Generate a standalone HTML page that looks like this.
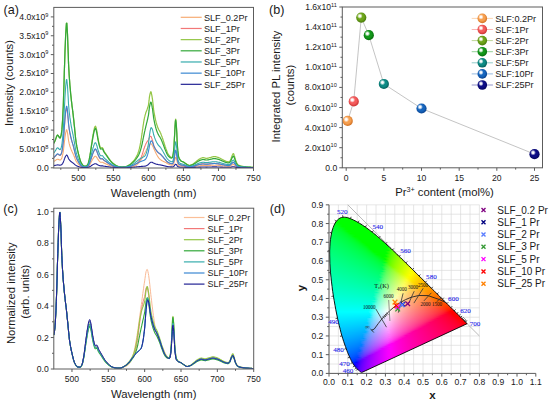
<!DOCTYPE html>
<html><head><meta charset="utf-8"><title>Figure</title>
<style>html,body{margin:0;padding:0;background:#fff;width:550px;height:403px;overflow:hidden}svg{display:block}</style>
</head><body><svg width="550" height="403" viewBox="0 0 550 403"><defs><clipPath id="ca"><rect x="53.8" y="7.4" width="199.7" height="160.6"/></clipPath><clipPath id="cc"><rect x="53.8" y="208.2" width="199.89999999999998" height="160.8"/></clipPath><radialGradient id="s0" cx="0.45" cy="0.42" r="0.6"><stop offset="0" stop-color="#f7a050"/><stop offset="0.55" stop-color="#f7a050"/><stop offset="1" stop-color="#cc6a1c"/></radialGradient><radialGradient id="s1" cx="0.45" cy="0.42" r="0.6"><stop offset="0" stop-color="#f45c5c"/><stop offset="0.55" stop-color="#f45c5c"/><stop offset="1" stop-color="#c42c2c"/></radialGradient><radialGradient id="s2" cx="0.45" cy="0.42" r="0.6"><stop offset="0" stop-color="#6ea51a"/><stop offset="0.55" stop-color="#6ea51a"/><stop offset="1" stop-color="#44760a"/></radialGradient><radialGradient id="s3" cx="0.45" cy="0.42" r="0.6"><stop offset="0" stop-color="#12981a"/><stop offset="0.55" stop-color="#12981a"/><stop offset="1" stop-color="#06660a"/></radialGradient><radialGradient id="s4" cx="0.45" cy="0.42" r="0.6"><stop offset="0" stop-color="#0e8c86"/><stop offset="0.55" stop-color="#0e8c86"/><stop offset="1" stop-color="#045a56"/></radialGradient><radialGradient id="s5" cx="0.45" cy="0.42" r="0.6"><stop offset="0" stop-color="#1766be"/><stop offset="0.55" stop-color="#1766be"/><stop offset="1" stop-color="#083e88"/></radialGradient><radialGradient id="s6" cx="0.45" cy="0.42" r="0.6"><stop offset="0" stop-color="#0e0e86"/><stop offset="0.55" stop-color="#0e0e86"/><stop offset="1" stop-color="#04045a"/></radialGradient><radialGradient id="hl"><stop offset="0" stop-color="#fff"/><stop offset="0.35" stop-color="#fff" stop-opacity="0.95"/><stop offset="1" stop-color="#fff" stop-opacity="0"/></radialGradient><clipPath id="cg"><path d="M361.7,372.5 L361.7,372.5 L361.7,372.5 L361.7,372.5 L361.7,372.5 L361.7,372.5 L361.7,372.5 L361.7,372.5 L361.7,372.5 L361.7,372.5 L361.7,372.5 L361.7,372.5 L361.7,372.5 L361.7,372.5 L361.6,372.5 L361.6,372.5 L361.6,372.5 L361.6,372.5 L361.6,372.5 L361.6,372.5 L361.6,372.5 L361.6,372.5 L361.6,372.5 L361.5,372.5 L361.5,372.5 L361.5,372.5 L361.5,372.5 L361.5,372.5 L361.5,372.5 L361.5,372.5 L361.4,372.5 L361.4,372.5 L361.4,372.5 L361.4,372.5 L361.4,372.5 L361.4,372.5 L361.3,372.5 L361.3,372.5 L361.3,372.5 L361.3,372.5 L361.2,372.4 L361.2,372.4 L361.1,372.4 L361.1,372.4 L361.1,372.3 L361.0,372.3 L361.0,372.3 L360.9,372.2 L360.9,372.2 L360.8,372.2 L360.8,372.1 L360.7,372.1 L360.6,372.0 L360.5,371.9 L360.5,371.9 L360.4,371.8 L360.3,371.7 L360.2,371.6 L360.1,371.5 L360.0,371.5 L359.9,371.4 L359.8,371.3 L359.7,371.2 L359.6,371.1 L359.4,370.9 L359.3,370.8 L359.1,370.7 L359.0,370.5 L358.8,370.4 L358.6,370.2 L358.4,370.1 L358.2,369.9 L358.0,369.7 L357.8,369.6 L357.6,369.4 L357.4,369.1 L357.1,368.9 L356.9,368.7 L356.6,368.4 L356.4,368.1 L356.1,367.8 L355.8,367.5 L355.5,367.2 L355.2,366.8 L354.8,366.4 L354.5,365.9 L354.1,365.4 L353.7,364.8 L353.3,364.1 L352.8,363.4 L352.3,362.6 L351.8,361.7 L351.3,360.7 L350.8,359.6 L350.2,358.4 L349.6,357.1 L349.0,355.7 L348.3,354.1 L347.6,352.4 L346.9,350.6 L346.2,348.5 L345.4,346.4 L344.5,344.0 L343.7,341.5 L342.8,338.7 L341.9,335.8 L341.0,332.7 L340.2,329.3 L339.3,325.8 L338.4,322.1 L337.5,318.1 L336.7,314.0 L335.8,309.7 L335.0,305.3 L334.2,300.7 L333.4,296.1 L332.7,291.4 L332.1,286.7 L331.5,281.9 L331.0,277.2 L330.5,272.6 L330.2,268.0 L329.9,263.5 L329.8,259.1 L329.7,254.9 L329.7,250.8 L329.9,246.8 L330.1,243.0 L330.5,239.4 L331.0,236.0 L331.6,232.9 L332.3,230.0 L333.2,227.4 L334.1,225.1 L335.2,223.0 L336.3,221.3 L337.5,219.9 L338.8,218.8 L340.1,218.0 L341.5,217.5 L343.0,217.2 L344.4,217.2 L345.9,217.3 L347.4,217.6 L348.9,218.1 L350.5,218.7 L352.0,219.3 L353.5,220.0 L355.1,220.8 L356.6,221.6 L358.1,222.5 L359.6,223.3 L361.0,224.2 L362.4,225.1 L363.9,226.1 L365.3,227.0 L366.7,228.0 L368.0,229.0 L369.4,230.0 L370.8,231.1 L372.2,232.1 L373.5,233.2 L374.9,234.3 L376.3,235.4 L377.6,236.6 L379.0,237.7 L380.3,238.9 L381.7,240.1 L383.0,241.3 L384.4,242.5 L385.7,243.7 L387.0,245.0 L388.4,246.2 L389.7,247.5 L391.1,248.7 L392.4,250.0 L393.8,251.3 L395.1,252.5 L396.5,253.8 L397.8,255.1 L399.1,256.4 L400.5,257.7 L401.8,259.0 L403.2,260.3 L404.5,261.7 L405.8,263.0 L407.2,264.3 L408.5,265.6 L409.8,266.9 L411.2,268.2 L412.5,269.5 L413.8,270.8 L415.1,272.1 L416.4,273.4 L417.7,274.7 L419.0,276.0 L420.3,277.2 L421.6,278.5 L422.8,279.8 L424.1,281.0 L425.4,282.3 L426.6,283.5 L427.8,284.7 L429.0,285.9 L430.2,287.1 L431.4,288.3 L432.6,289.5 L433.8,290.6 L434.9,291.7 L436.0,292.8 L437.1,293.9 L438.2,295.0 L439.3,296.1 L440.3,297.1 L441.4,298.2 L442.3,299.1 L443.3,300.1 L444.2,301.0 L445.1,301.9 L446.0,302.8 L446.9,303.6 L447.7,304.5 L448.5,305.3 L449.3,306.1 L450.1,306.8 L450.9,307.6 L451.6,308.3 L452.3,309.0 L452.9,309.6 L453.6,310.2 L454.2,310.8 L454.8,311.4 L455.3,312.0 L455.9,312.5 L456.4,313.0 L456.9,313.5 L457.3,314.0 L457.8,314.4 L458.2,314.9 L458.6,315.3 L459.0,315.7 L459.4,316.0 L459.7,316.4 L460.1,316.7 L460.4,317.0 L460.7,317.3 L461.0,317.6 L461.3,317.9 L461.6,318.2 L461.8,318.5 L462.1,318.7 L462.3,319.0 L462.6,319.2 L462.8,319.4 L463.0,319.6 L463.2,319.9 L463.4,320.1 L463.6,320.3 L463.8,320.4 L464.0,320.6 L464.2,320.8 L464.3,320.9 L464.5,321.1 L464.6,321.2 L464.8,321.4 L464.9,321.5 L465.1,321.6 L465.2,321.8 L465.3,321.9 L465.4,322.0 L465.5,322.1 L465.6,322.2 L465.7,322.3 L465.8,322.4 L465.8,322.4 L465.9,322.5 L466.0,322.6 L466.1,322.7 L466.1,322.7 L466.2,322.8 L466.2,322.8 L466.3,322.9 L466.3,322.9 L466.4,323.0 L466.4,323.0 L466.4,323.0 L466.5,323.1 L466.5,323.1 L466.6,323.1 L466.6,323.2 L466.6,323.2 L466.6,323.2 L466.7,323.3 L466.7,323.3 L466.7,323.3 L466.8,323.3 L466.8,323.4 L466.8,323.4 L466.8,323.4 L466.9,323.4 L466.9,323.5 L466.9,323.5 L466.9,323.5 L466.9,323.5 L467.0,323.6 L467.0,323.6 L467.0,323.6 L467.0,323.6 L467.0,323.6 L467.1,323.6 L467.1,323.7 L467.1,323.7 L467.1,323.7 L467.1,323.7 L467.1,323.7 L467.1,323.7 L467.1,323.7 L467.1,323.7 L467.1,323.7 L467.1,323.7 L467.1,323.7 Z"/></clipPath><linearGradient id="r217" gradientUnits="userSpaceOnUse" x1="339" x2="350" y1="0" y2="0"><stop offset=".000" stop-color="#00ff00"/><stop offset=".333" stop-color="#00ff00"/><stop offset=".667" stop-color="#00ff00"/><stop offset="1.000" stop-color="#00ff00"/></linearGradient><linearGradient id="r218" gradientUnits="userSpaceOnUse" x1="336" x2="353" y1="0" y2="0"><stop offset=".000" stop-color="#00ff00"/><stop offset=".200" stop-color="#00ff00"/><stop offset=".400" stop-color="#00ff00"/><stop offset=".600" stop-color="#00ff00"/><stop offset=".800" stop-color="#00ff00"/><stop offset="1.000" stop-color="#00ff00"/></linearGradient><linearGradient id="r219" gradientUnits="userSpaceOnUse" x1="335" x2="355" y1="0" y2="0"><stop offset=".000" stop-color="#00ff00"/><stop offset=".200" stop-color="#00ff00"/><stop offset=".400" stop-color="#00ff00"/><stop offset=".600" stop-color="#00ff00"/><stop offset=".800" stop-color="#00ff00"/><stop offset="1.000" stop-color="#00ff00"/></linearGradient><linearGradient id="r220" gradientUnits="userSpaceOnUse" x1="334" x2="357" y1="0" y2="0"><stop offset=".000" stop-color="#00ff02"/><stop offset=".167" stop-color="#00ff00"/><stop offset=".333" stop-color="#00ff00"/><stop offset=".500" stop-color="#00ff00"/><stop offset=".667" stop-color="#00ff00"/><stop offset=".833" stop-color="#00ff00"/><stop offset="1.000" stop-color="#00ff00"/></linearGradient><linearGradient id="r221" gradientUnits="userSpaceOnUse" x1="333" x2="359" y1="0" y2="0"><stop offset=".000" stop-color="#00ff17"/><stop offset=".143" stop-color="#00ff00"/><stop offset=".286" stop-color="#00ff00"/><stop offset=".429" stop-color="#00ff00"/><stop offset=".571" stop-color="#00ff00"/><stop offset=".714" stop-color="#00ff00"/><stop offset=".857" stop-color="#00ff00"/><stop offset="1.000" stop-color="#00ff00"/></linearGradient><linearGradient id="r222" gradientUnits="userSpaceOnUse" x1="333" x2="361" y1="0" y2="0"><stop offset=".000" stop-color="#00ff1e"/><stop offset=".143" stop-color="#00ff00"/><stop offset=".286" stop-color="#00ff00"/><stop offset=".429" stop-color="#00ff00"/><stop offset=".571" stop-color="#00ff00"/><stop offset=".714" stop-color="#00ff00"/><stop offset=".857" stop-color="#00ff00"/><stop offset="1.000" stop-color="#00ff00"/></linearGradient><linearGradient id="r223" gradientUnits="userSpaceOnUse" x1="332" x2="363" y1="0" y2="0"><stop offset=".000" stop-color="#00ff28"/><stop offset=".125" stop-color="#00ff15"/><stop offset=".250" stop-color="#00ff00"/><stop offset=".375" stop-color="#00ff00"/><stop offset=".500" stop-color="#00ff00"/><stop offset=".625" stop-color="#00ff00"/><stop offset=".750" stop-color="#00ff00"/><stop offset=".875" stop-color="#00ff00"/><stop offset="1.000" stop-color="#00ff00"/></linearGradient><linearGradient id="r224" gradientUnits="userSpaceOnUse" x1="331" x2="364" y1="0" y2="0"><stop offset=".000" stop-color="#00ff30"/><stop offset=".111" stop-color="#00ff23"/><stop offset=".222" stop-color="#00ff0b"/><stop offset=".333" stop-color="#00ff00"/><stop offset=".444" stop-color="#00ff00"/><stop offset=".556" stop-color="#00ff00"/><stop offset=".667" stop-color="#00ff00"/><stop offset=".778" stop-color="#00ff00"/><stop offset=".889" stop-color="#00ff00"/><stop offset="1.000" stop-color="#00ff00"/></linearGradient><linearGradient id="r225" gradientUnits="userSpaceOnUse" x1="331" x2="366" y1="0" y2="0"><stop offset=".000" stop-color="#00ff34"/><stop offset=".111" stop-color="#00ff27"/><stop offset=".222" stop-color="#00ff13"/><stop offset=".333" stop-color="#00ff00"/><stop offset=".444" stop-color="#00ff00"/><stop offset=".556" stop-color="#00ff00"/><stop offset=".667" stop-color="#00ff00"/><stop offset=".778" stop-color="#00ff00"/><stop offset=".889" stop-color="#00ff00"/><stop offset="1.000" stop-color="#00ff00"/></linearGradient><linearGradient id="r226" gradientUnits="userSpaceOnUse" x1="331" x2="368" y1="0" y2="0"><stop offset=".000" stop-color="#00ff38"/><stop offset=".100" stop-color="#00ff2d"/><stop offset=".200" stop-color="#00ff1d"/><stop offset=".300" stop-color="#00ff00"/><stop offset=".400" stop-color="#00ff00"/><stop offset=".500" stop-color="#00ff00"/><stop offset=".600" stop-color="#00ff00"/><stop offset=".700" stop-color="#00ff00"/><stop offset=".800" stop-color="#00ff00"/><stop offset=".900" stop-color="#00ff00"/><stop offset="1.000" stop-color="#00ff00"/></linearGradient><linearGradient id="r227" gradientUnits="userSpaceOnUse" x1="330" x2="369" y1="0" y2="0"><stop offset=".000" stop-color="#00ff3d"/><stop offset=".100" stop-color="#00ff33"/><stop offset=".200" stop-color="#00ff26"/><stop offset=".300" stop-color="#00ff10"/><stop offset=".400" stop-color="#00ff00"/><stop offset=".500" stop-color="#00ff00"/><stop offset=".600" stop-color="#00ff00"/><stop offset=".700" stop-color="#00ff00"/><stop offset=".800" stop-color="#00ff00"/><stop offset=".900" stop-color="#00ff00"/><stop offset="1.000" stop-color="#00ff00"/></linearGradient><linearGradient id="r228" gradientUnits="userSpaceOnUse" x1="330" x2="370" y1="0" y2="0"><stop offset=".000" stop-color="#00ff41"/><stop offset=".100" stop-color="#00ff37"/><stop offset=".200" stop-color="#00ff2b"/><stop offset=".300" stop-color="#00ff17"/><stop offset=".400" stop-color="#00ff00"/><stop offset=".500" stop-color="#00ff00"/><stop offset=".600" stop-color="#00ff00"/><stop offset=".700" stop-color="#00ff00"/><stop offset=".800" stop-color="#00ff00"/><stop offset=".900" stop-color="#00ff00"/><stop offset="1.000" stop-color="#00ff00"/></linearGradient><linearGradient id="r229" gradientUnits="userSpaceOnUse" x1="330" x2="372" y1="0" y2="0"><stop offset=".000" stop-color="#00ff44"/><stop offset=".091" stop-color="#00ff3b"/><stop offset=".182" stop-color="#00ff30"/><stop offset=".273" stop-color="#00ff22"/><stop offset=".364" stop-color="#00ff04"/><stop offset=".455" stop-color="#00ff00"/><stop offset=".545" stop-color="#00ff00"/><stop offset=".636" stop-color="#00ff00"/><stop offset=".727" stop-color="#00ff00"/><stop offset=".818" stop-color="#00ff00"/><stop offset=".909" stop-color="#00ff00"/><stop offset="1.000" stop-color="#00ff00"/></linearGradient><linearGradient id="r230" gradientUnits="userSpaceOnUse" x1="329" x2="373" y1="0" y2="0"><stop offset=".000" stop-color="#00ff49"/><stop offset=".091" stop-color="#00ff40"/><stop offset=".182" stop-color="#00ff36"/><stop offset=".273" stop-color="#00ff29"/><stop offset=".364" stop-color="#00ff14"/><stop offset=".455" stop-color="#00ff00"/><stop offset=".545" stop-color="#00ff00"/><stop offset=".636" stop-color="#00ff00"/><stop offset=".727" stop-color="#00ff00"/><stop offset=".818" stop-color="#00ff00"/><stop offset=".909" stop-color="#00ff00"/><stop offset="1.000" stop-color="#00ff00"/></linearGradient><linearGradient id="r231" gradientUnits="userSpaceOnUse" x1="329" x2="374" y1="0" y2="0"><stop offset=".000" stop-color="#00ff4b"/><stop offset=".083" stop-color="#00ff44"/><stop offset=".167" stop-color="#00ff3b"/><stop offset=".250" stop-color="#00ff31"/><stop offset=".333" stop-color="#00ff22"/><stop offset=".417" stop-color="#00ff04"/><stop offset=".500" stop-color="#00ff00"/><stop offset=".583" stop-color="#00ff00"/><stop offset=".667" stop-color="#00ff00"/><stop offset=".750" stop-color="#00ff00"/><stop offset=".833" stop-color="#00ff00"/><stop offset=".917" stop-color="#00ff00"/><stop offset="1.000" stop-color="#00ff00"/></linearGradient><linearGradient id="r232" gradientUnits="userSpaceOnUse" x1="329" x2="376" y1="0" y2="0"><stop offset=".000" stop-color="#00ff4e"/><stop offset=".083" stop-color="#00ff47"/><stop offset=".167" stop-color="#00ff3e"/><stop offset=".250" stop-color="#00ff34"/><stop offset=".333" stop-color="#00ff25"/><stop offset=".417" stop-color="#00ff0a"/><stop offset=".500" stop-color="#00ff00"/><stop offset=".583" stop-color="#00ff00"/><stop offset=".667" stop-color="#00ff00"/><stop offset=".750" stop-color="#00ff00"/><stop offset=".833" stop-color="#00ff00"/><stop offset=".917" stop-color="#00ff00"/><stop offset="1.000" stop-color="#00ff00"/></linearGradient><linearGradient id="r233" gradientUnits="userSpaceOnUse" x1="328" x2="377" y1="0" y2="0"><stop offset=".000" stop-color="#00ff52"/><stop offset=".077" stop-color="#00ff4c"/><stop offset=".154" stop-color="#00ff44"/><stop offset=".231" stop-color="#00ff3b"/><stop offset=".308" stop-color="#00ff30"/><stop offset=".385" stop-color="#00ff21"/><stop offset=".462" stop-color="#00ff00"/><stop offset=".538" stop-color="#00ff00"/><stop offset=".615" stop-color="#00ff00"/><stop offset=".692" stop-color="#00ff00"/><stop offset=".769" stop-color="#00ff00"/><stop offset=".846" stop-color="#00ff00"/><stop offset=".923" stop-color="#00ff00"/><stop offset="1.000" stop-color="#00ff00"/></linearGradient><linearGradient id="r234" gradientUnits="userSpaceOnUse" x1="328" x2="378" y1="0" y2="0"><stop offset=".000" stop-color="#00ff55"/><stop offset=".077" stop-color="#00ff4e"/><stop offset=".154" stop-color="#00ff47"/><stop offset=".231" stop-color="#00ff3e"/><stop offset=".308" stop-color="#00ff34"/><stop offset=".385" stop-color="#00ff26"/><stop offset=".462" stop-color="#00ff0b"/><stop offset=".538" stop-color="#00ff00"/><stop offset=".615" stop-color="#00ff00"/><stop offset=".692" stop-color="#00ff00"/><stop offset=".769" stop-color="#00ff00"/><stop offset=".846" stop-color="#00ff00"/><stop offset=".923" stop-color="#00ff00"/><stop offset="1.000" stop-color="#00ff00"/></linearGradient><linearGradient id="r235" gradientUnits="userSpaceOnUse" x1="328" x2="379" y1="0" y2="0"><stop offset=".000" stop-color="#00ff57"/><stop offset=".077" stop-color="#00ff51"/><stop offset=".154" stop-color="#00ff4a"/><stop offset=".231" stop-color="#00ff41"/><stop offset=".308" stop-color="#00ff37"/><stop offset=".385" stop-color="#00ff2a"/><stop offset=".462" stop-color="#00ff13"/><stop offset=".538" stop-color="#00ff00"/><stop offset=".615" stop-color="#00ff00"/><stop offset=".692" stop-color="#00ff00"/><stop offset=".769" stop-color="#00ff00"/><stop offset=".846" stop-color="#00ff00"/><stop offset=".923" stop-color="#00ff00"/><stop offset="1.000" stop-color="#00ff00"/></linearGradient><linearGradient id="r236" gradientUnits="userSpaceOnUse" x1="328" x2="381" y1="0" y2="0"><stop offset=".000" stop-color="#00ff5a"/><stop offset=".071" stop-color="#00ff54"/><stop offset=".143" stop-color="#00ff4d"/><stop offset=".214" stop-color="#00ff46"/><stop offset=".286" stop-color="#00ff3d"/><stop offset=".357" stop-color="#00ff31"/><stop offset=".429" stop-color="#00ff21"/><stop offset=".500" stop-color="#00ff00"/><stop offset=".571" stop-color="#00ff00"/><stop offset=".643" stop-color="#00ff00"/><stop offset=".714" stop-color="#00ff00"/><stop offset=".786" stop-color="#00ff00"/><stop offset=".857" stop-color="#00ff00"/><stop offset=".929" stop-color="#00ff00"/><stop offset="1.000" stop-color="#00ff00"/></linearGradient><linearGradient id="r237" gradientUnits="userSpaceOnUse" x1="328" x2="382" y1="0" y2="0"><stop offset=".000" stop-color="#00ff5c"/><stop offset=".071" stop-color="#00ff56"/><stop offset=".143" stop-color="#00ff50"/><stop offset=".214" stop-color="#00ff48"/><stop offset=".286" stop-color="#00ff3f"/><stop offset=".357" stop-color="#00ff35"/><stop offset=".429" stop-color="#00ff26"/><stop offset=".500" stop-color="#00ff0a"/><stop offset=".571" stop-color="#00ff00"/><stop offset=".643" stop-color="#00ff00"/><stop offset=".714" stop-color="#00ff00"/><stop offset=".786" stop-color="#00ff00"/><stop offset=".857" stop-color="#00ff00"/><stop offset=".929" stop-color="#00ff00"/><stop offset="1.000" stop-color="#00ff00"/></linearGradient><linearGradient id="r238" gradientUnits="userSpaceOnUse" x1="328" x2="383" y1="0" y2="0"><stop offset=".000" stop-color="#00ff5e"/><stop offset=".071" stop-color="#00ff59"/><stop offset=".143" stop-color="#00ff52"/><stop offset=".214" stop-color="#00ff4b"/><stop offset=".286" stop-color="#00ff42"/><stop offset=".357" stop-color="#00ff38"/><stop offset=".429" stop-color="#00ff2a"/><stop offset=".500" stop-color="#00ff12"/><stop offset=".571" stop-color="#00ff00"/><stop offset=".643" stop-color="#00ff00"/><stop offset=".714" stop-color="#00ff00"/><stop offset=".786" stop-color="#00ff00"/><stop offset=".857" stop-color="#00ff00"/><stop offset=".929" stop-color="#00ff00"/><stop offset="1.000" stop-color="#00ff00"/></linearGradient><linearGradient id="r239" gradientUnits="userSpaceOnUse" x1="328" x2="384" y1="0" y2="0"><stop offset=".000" stop-color="#00ff61"/><stop offset=".071" stop-color="#00ff5b"/><stop offset=".143" stop-color="#00ff55"/><stop offset=".214" stop-color="#00ff4d"/><stop offset=".286" stop-color="#00ff45"/><stop offset=".357" stop-color="#00ff3b"/><stop offset=".429" stop-color="#00ff2e"/><stop offset=".500" stop-color="#00ff19"/><stop offset=".571" stop-color="#00ff00"/><stop offset=".643" stop-color="#00ff00"/><stop offset=".714" stop-color="#00ff00"/><stop offset=".786" stop-color="#00ff00"/><stop offset=".857" stop-color="#00ff00"/><stop offset=".929" stop-color="#00ff00"/><stop offset="1.000" stop-color="#00ff00"/></linearGradient><linearGradient id="r240" gradientUnits="userSpaceOnUse" x1="327" x2="385" y1="0" y2="0"><stop offset=".000" stop-color="#00ff64"/><stop offset=".067" stop-color="#00ff5f"/><stop offset=".133" stop-color="#00ff59"/><stop offset=".200" stop-color="#00ff53"/><stop offset=".267" stop-color="#00ff4b"/><stop offset=".333" stop-color="#00ff43"/><stop offset=".400" stop-color="#00ff38"/><stop offset=".467" stop-color="#00ff2b"/><stop offset=".533" stop-color="#00ff14"/><stop offset=".600" stop-color="#00ff00"/><stop offset=".667" stop-color="#00ff00"/><stop offset=".733" stop-color="#00ff00"/><stop offset=".800" stop-color="#00ff00"/><stop offset=".867" stop-color="#00ff00"/><stop offset=".933" stop-color="#00ff00"/><stop offset="1.000" stop-color="#00ff00"/></linearGradient><linearGradient id="r241" gradientUnits="userSpaceOnUse" x1="327" x2="386" y1="0" y2="0"><stop offset=".000" stop-color="#00ff66"/><stop offset=".067" stop-color="#00ff61"/><stop offset=".133" stop-color="#00ff5b"/><stop offset=".200" stop-color="#00ff55"/><stop offset=".267" stop-color="#00ff4e"/><stop offset=".333" stop-color="#00ff46"/><stop offset=".400" stop-color="#00ff3b"/><stop offset=".467" stop-color="#00ff2e"/><stop offset=".533" stop-color="#00ff1a"/><stop offset=".600" stop-color="#00ff00"/><stop offset=".667" stop-color="#00ff00"/><stop offset=".733" stop-color="#00ff00"/><stop offset=".800" stop-color="#00ff00"/><stop offset=".867" stop-color="#00ff00"/><stop offset=".933" stop-color="#00ff00"/><stop offset="1.000" stop-color="#00ff00"/></linearGradient><linearGradient id="r242" gradientUnits="userSpaceOnUse" x1="327" x2="387" y1="0" y2="0"><stop offset=".000" stop-color="#00ff68"/><stop offset=".067" stop-color="#00ff63"/><stop offset=".133" stop-color="#00ff5e"/><stop offset=".200" stop-color="#00ff57"/><stop offset=".267" stop-color="#00ff50"/><stop offset=".333" stop-color="#00ff48"/><stop offset=".400" stop-color="#00ff3e"/><stop offset=".467" stop-color="#00ff32"/><stop offset=".533" stop-color="#00ff1f"/><stop offset=".600" stop-color="#00ff00"/><stop offset=".667" stop-color="#00ff00"/><stop offset=".733" stop-color="#00ff00"/><stop offset=".800" stop-color="#00ff00"/><stop offset=".867" stop-color="#00ff00"/><stop offset=".933" stop-color="#00ff00"/><stop offset="1.000" stop-color="#00ff00"/></linearGradient><linearGradient id="r243" gradientUnits="userSpaceOnUse" x1="327" x2="388" y1="0" y2="0"><stop offset=".000" stop-color="#00ff6b"/><stop offset=".062" stop-color="#00ff66"/><stop offset=".125" stop-color="#00ff61"/><stop offset=".188" stop-color="#00ff5b"/><stop offset=".250" stop-color="#00ff55"/><stop offset=".312" stop-color="#00ff4d"/><stop offset=".375" stop-color="#00ff45"/><stop offset=".438" stop-color="#00ff3b"/><stop offset=".500" stop-color="#00ff2d"/><stop offset=".562" stop-color="#00ff18"/><stop offset=".625" stop-color="#00ff00"/><stop offset=".688" stop-color="#00ff00"/><stop offset=".750" stop-color="#00ff00"/><stop offset=".812" stop-color="#00ff00"/><stop offset=".875" stop-color="#00ff00"/><stop offset=".938" stop-color="#00ff00"/><stop offset="1.000" stop-color="#00ff00"/></linearGradient><linearGradient id="r244" gradientUnits="userSpaceOnUse" x1="327" x2="390" y1="0" y2="0"><stop offset=".000" stop-color="#00ff6d"/><stop offset=".062" stop-color="#00ff68"/><stop offset=".125" stop-color="#00ff63"/><stop offset=".188" stop-color="#00ff5d"/><stop offset=".250" stop-color="#00ff57"/><stop offset=".312" stop-color="#00ff4f"/><stop offset=".375" stop-color="#00ff47"/><stop offset=".438" stop-color="#00ff3c"/><stop offset=".500" stop-color="#00ff2f"/><stop offset=".562" stop-color="#00ff19"/><stop offset=".625" stop-color="#00ff00"/><stop offset=".688" stop-color="#00ff00"/><stop offset=".750" stop-color="#00ff00"/><stop offset=".812" stop-color="#00ff00"/><stop offset=".875" stop-color="#00ff00"/><stop offset=".938" stop-color="#00ff00"/><stop offset="1.000" stop-color="#00ff00"/></linearGradient><linearGradient id="r245" gradientUnits="userSpaceOnUse" x1="327" x2="391" y1="0" y2="0"><stop offset=".000" stop-color="#00ff6f"/><stop offset=".062" stop-color="#00ff6a"/><stop offset=".125" stop-color="#00ff65"/><stop offset=".188" stop-color="#00ff5f"/><stop offset=".250" stop-color="#00ff59"/><stop offset=".312" stop-color="#00ff52"/><stop offset=".375" stop-color="#00ff49"/><stop offset=".438" stop-color="#00ff3f"/><stop offset=".500" stop-color="#00ff32"/><stop offset=".562" stop-color="#00ff1f"/><stop offset=".625" stop-color="#00ff00"/><stop offset=".688" stop-color="#00ff00"/><stop offset=".750" stop-color="#00ff00"/><stop offset=".812" stop-color="#00ff00"/><stop offset=".875" stop-color="#00ff00"/><stop offset=".938" stop-color="#00ff00"/><stop offset="1.000" stop-color="#2dff00"/></linearGradient><linearGradient id="r246" gradientUnits="userSpaceOnUse" x1="327" x2="392" y1="0" y2="0"><stop offset=".000" stop-color="#00ff71"/><stop offset=".059" stop-color="#00ff6c"/><stop offset=".118" stop-color="#00ff68"/><stop offset=".176" stop-color="#00ff62"/><stop offset=".235" stop-color="#00ff5d"/><stop offset=".294" stop-color="#00ff56"/><stop offset=".353" stop-color="#00ff4f"/><stop offset=".412" stop-color="#00ff46"/><stop offset=".471" stop-color="#00ff3c"/><stop offset=".529" stop-color="#00ff2e"/><stop offset=".588" stop-color="#00ff18"/><stop offset=".647" stop-color="#00ff00"/><stop offset=".706" stop-color="#00ff00"/><stop offset=".765" stop-color="#00ff00"/><stop offset=".824" stop-color="#00ff00"/><stop offset=".882" stop-color="#00ff00"/><stop offset=".941" stop-color="#00ff00"/><stop offset="1.000" stop-color="#42ff00"/></linearGradient><linearGradient id="r247" gradientUnits="userSpaceOnUse" x1="327" x2="393" y1="0" y2="0"><stop offset=".000" stop-color="#00ff73"/><stop offset=".059" stop-color="#00ff6f"/><stop offset=".118" stop-color="#00ff6a"/><stop offset=".176" stop-color="#00ff65"/><stop offset=".235" stop-color="#00ff5f"/><stop offset=".294" stop-color="#00ff59"/><stop offset=".353" stop-color="#00ff51"/><stop offset=".412" stop-color="#00ff49"/><stop offset=".471" stop-color="#00ff3e"/><stop offset=".529" stop-color="#00ff31"/><stop offset=".588" stop-color="#00ff1d"/><stop offset=".647" stop-color="#00ff00"/><stop offset=".706" stop-color="#00ff00"/><stop offset=".765" stop-color="#00ff00"/><stop offset=".824" stop-color="#00ff00"/><stop offset=".882" stop-color="#00ff00"/><stop offset=".941" stop-color="#00ff00"/><stop offset="1.000" stop-color="#51ff00"/></linearGradient><linearGradient id="r248" gradientUnits="userSpaceOnUse" x1="327" x2="394" y1="0" y2="0"><stop offset=".000" stop-color="#00ff75"/><stop offset=".059" stop-color="#00ff71"/><stop offset=".118" stop-color="#00ff6c"/><stop offset=".176" stop-color="#00ff67"/><stop offset=".235" stop-color="#00ff61"/><stop offset=".294" stop-color="#00ff5b"/><stop offset=".353" stop-color="#00ff54"/><stop offset=".412" stop-color="#00ff4b"/><stop offset=".471" stop-color="#00ff41"/><stop offset=".529" stop-color="#00ff34"/><stop offset=".588" stop-color="#00ff22"/><stop offset=".647" stop-color="#00ff00"/><stop offset=".706" stop-color="#00ff00"/><stop offset=".765" stop-color="#00ff00"/><stop offset=".824" stop-color="#00ff00"/><stop offset=".882" stop-color="#00ff00"/><stop offset=".941" stop-color="#2cff00"/><stop offset="1.000" stop-color="#5eff00"/></linearGradient><linearGradient id="r249" gradientUnits="userSpaceOnUse" x1="327" x2="395" y1="0" y2="0"><stop offset=".000" stop-color="#00ff77"/><stop offset=".059" stop-color="#00ff73"/><stop offset=".118" stop-color="#00ff6e"/><stop offset=".176" stop-color="#00ff69"/><stop offset=".235" stop-color="#00ff63"/><stop offset=".294" stop-color="#00ff5d"/><stop offset=".353" stop-color="#00ff56"/><stop offset=".412" stop-color="#00ff4e"/><stop offset=".471" stop-color="#00ff44"/><stop offset=".529" stop-color="#00ff38"/><stop offset=".588" stop-color="#00ff26"/><stop offset=".647" stop-color="#00ff00"/><stop offset=".706" stop-color="#00ff00"/><stop offset=".765" stop-color="#00ff00"/><stop offset=".824" stop-color="#00ff00"/><stop offset=".882" stop-color="#00ff00"/><stop offset=".941" stop-color="#40ff00"/><stop offset="1.000" stop-color="#69ff00"/></linearGradient><linearGradient id="r250" gradientUnits="userSpaceOnUse" x1="327" x2="396" y1="0" y2="0"><stop offset=".000" stop-color="#00ff79"/><stop offset=".056" stop-color="#00ff75"/><stop offset=".111" stop-color="#00ff71"/><stop offset=".167" stop-color="#00ff6c"/><stop offset=".222" stop-color="#00ff67"/><stop offset=".278" stop-color="#00ff61"/><stop offset=".333" stop-color="#00ff5b"/><stop offset=".389" stop-color="#00ff53"/><stop offset=".444" stop-color="#00ff4b"/><stop offset=".500" stop-color="#00ff41"/><stop offset=".556" stop-color="#00ff34"/><stop offset=".611" stop-color="#00ff21"/><stop offset=".667" stop-color="#00ff00"/><stop offset=".722" stop-color="#00ff00"/><stop offset=".778" stop-color="#00ff00"/><stop offset=".833" stop-color="#00ff00"/><stop offset=".889" stop-color="#00ff00"/><stop offset=".944" stop-color="#52ff00"/><stop offset="1.000" stop-color="#73ff00"/></linearGradient><linearGradient id="r251" gradientUnits="userSpaceOnUse" x1="327" x2="397" y1="0" y2="0"><stop offset=".000" stop-color="#00ff7b"/><stop offset=".056" stop-color="#00ff77"/><stop offset=".111" stop-color="#00ff73"/><stop offset=".167" stop-color="#00ff6e"/><stop offset=".222" stop-color="#00ff69"/><stop offset=".278" stop-color="#00ff63"/><stop offset=".333" stop-color="#00ff5d"/><stop offset=".389" stop-color="#00ff56"/><stop offset=".444" stop-color="#00ff4e"/><stop offset=".500" stop-color="#00ff44"/><stop offset=".556" stop-color="#00ff37"/><stop offset=".611" stop-color="#00ff25"/><stop offset=".667" stop-color="#00ff00"/><stop offset=".722" stop-color="#00ff00"/><stop offset=".778" stop-color="#00ff00"/><stop offset=".833" stop-color="#00ff00"/><stop offset=".889" stop-color="#2cff00"/><stop offset=".944" stop-color="#5eff00"/><stop offset="1.000" stop-color="#7dff00"/></linearGradient><linearGradient id="r252" gradientUnits="userSpaceOnUse" x1="327" x2="398" y1="0" y2="0"><stop offset=".000" stop-color="#00ff7d"/><stop offset=".056" stop-color="#00ff79"/><stop offset=".111" stop-color="#00ff75"/><stop offset=".167" stop-color="#00ff70"/><stop offset=".222" stop-color="#00ff6b"/><stop offset=".278" stop-color="#00ff66"/><stop offset=".333" stop-color="#00ff5f"/><stop offset=".389" stop-color="#00ff58"/><stop offset=".444" stop-color="#00ff50"/><stop offset=".500" stop-color="#00ff46"/><stop offset=".556" stop-color="#00ff3a"/><stop offset=".611" stop-color="#00ff29"/><stop offset=".667" stop-color="#00ff05"/><stop offset=".722" stop-color="#00ff00"/><stop offset=".778" stop-color="#00ff00"/><stop offset=".833" stop-color="#00ff00"/><stop offset=".889" stop-color="#40ff00"/><stop offset=".944" stop-color="#69ff00"/><stop offset="1.000" stop-color="#86ff00"/></linearGradient><linearGradient id="r253" gradientUnits="userSpaceOnUse" x1="327" x2="399" y1="0" y2="0"><stop offset=".000" stop-color="#00ff7f"/><stop offset=".056" stop-color="#00ff7b"/><stop offset=".111" stop-color="#00ff77"/><stop offset=".167" stop-color="#00ff72"/><stop offset=".222" stop-color="#00ff6d"/><stop offset=".278" stop-color="#00ff68"/><stop offset=".333" stop-color="#00ff61"/><stop offset=".389" stop-color="#00ff5b"/><stop offset=".444" stop-color="#00ff52"/><stop offset=".500" stop-color="#00ff49"/><stop offset=".556" stop-color="#00ff3d"/><stop offset=".611" stop-color="#00ff2d"/><stop offset=".667" stop-color="#00ff0f"/><stop offset=".722" stop-color="#00ff00"/><stop offset=".778" stop-color="#00ff00"/><stop offset=".833" stop-color="#00ff00"/><stop offset=".889" stop-color="#4fff00"/><stop offset=".944" stop-color="#74ff00"/><stop offset="1.000" stop-color="#8eff00"/></linearGradient><linearGradient id="r254" gradientUnits="userSpaceOnUse" x1="327" x2="400" y1="0" y2="0"><stop offset=".000" stop-color="#00ff81"/><stop offset=".053" stop-color="#00ff7d"/><stop offset=".105" stop-color="#00ff79"/><stop offset=".158" stop-color="#00ff75"/><stop offset=".211" stop-color="#00ff70"/><stop offset=".263" stop-color="#00ff6b"/><stop offset=".316" stop-color="#00ff66"/><stop offset=".368" stop-color="#00ff5f"/><stop offset=".421" stop-color="#00ff58"/><stop offset=".474" stop-color="#00ff50"/><stop offset=".526" stop-color="#00ff46"/><stop offset=".579" stop-color="#00ff3a"/><stop offset=".632" stop-color="#00ff29"/><stop offset=".684" stop-color="#00ff04"/><stop offset=".737" stop-color="#00ff00"/><stop offset=".789" stop-color="#00ff00"/><stop offset=".842" stop-color="#2fff00"/><stop offset=".895" stop-color="#60ff00"/><stop offset=".947" stop-color="#7fff00"/><stop offset="1.000" stop-color="#97ff00"/></linearGradient><linearGradient id="r255" gradientUnits="userSpaceOnUse" x1="327" x2="401" y1="0" y2="0"><stop offset=".000" stop-color="#00ff83"/><stop offset=".053" stop-color="#00ff7f"/><stop offset=".105" stop-color="#00ff7b"/><stop offset=".158" stop-color="#00ff77"/><stop offset=".211" stop-color="#00ff73"/><stop offset=".263" stop-color="#00ff6d"/><stop offset=".316" stop-color="#00ff68"/><stop offset=".368" stop-color="#00ff62"/><stop offset=".421" stop-color="#00ff5b"/><stop offset=".474" stop-color="#00ff53"/><stop offset=".526" stop-color="#00ff49"/><stop offset=".579" stop-color="#00ff3d"/><stop offset=".632" stop-color="#00ff2d"/><stop offset=".684" stop-color="#00ff0e"/><stop offset=".737" stop-color="#00ff00"/><stop offset=".789" stop-color="#00ff00"/><stop offset=".842" stop-color="#42ff00"/><stop offset=".895" stop-color="#6bff00"/><stop offset=".947" stop-color="#87ff00"/><stop offset="1.000" stop-color="#9fff00"/></linearGradient><linearGradient id="r256" gradientUnits="userSpaceOnUse" x1="327" x2="402" y1="0" y2="0"><stop offset=".000" stop-color="#00ff85"/><stop offset=".053" stop-color="#00ff81"/><stop offset=".105" stop-color="#00ff7d"/><stop offset=".158" stop-color="#00ff79"/><stop offset=".211" stop-color="#00ff75"/><stop offset=".263" stop-color="#00ff70"/><stop offset=".316" stop-color="#00ff6a"/><stop offset=".368" stop-color="#00ff64"/><stop offset=".421" stop-color="#00ff5d"/><stop offset=".474" stop-color="#00ff55"/><stop offset=".526" stop-color="#00ff4c"/><stop offset=".579" stop-color="#00ff40"/><stop offset=".632" stop-color="#00ff30"/><stop offset=".684" stop-color="#00ff16"/><stop offset=".737" stop-color="#00ff00"/><stop offset=".789" stop-color="#00ff00"/><stop offset=".842" stop-color="#50ff00"/><stop offset=".895" stop-color="#75ff00"/><stop offset=".947" stop-color="#90ff00"/><stop offset="1.000" stop-color="#a7ff00"/></linearGradient><linearGradient id="r257" gradientUnits="userSpaceOnUse" x1="327" x2="403" y1="0" y2="0"><stop offset=".000" stop-color="#00ff87"/><stop offset=".053" stop-color="#00ff83"/><stop offset=".105" stop-color="#00ff7f"/><stop offset=".158" stop-color="#00ff7b"/><stop offset=".211" stop-color="#00ff77"/><stop offset=".263" stop-color="#00ff72"/><stop offset=".316" stop-color="#00ff6c"/><stop offset=".368" stop-color="#00ff66"/><stop offset=".421" stop-color="#00ff5f"/><stop offset=".474" stop-color="#00ff57"/><stop offset=".526" stop-color="#00ff4e"/><stop offset=".579" stop-color="#00ff43"/><stop offset=".632" stop-color="#00ff34"/><stop offset=".684" stop-color="#00ff1c"/><stop offset=".737" stop-color="#00ff00"/><stop offset=".789" stop-color="#20ff00"/><stop offset=".842" stop-color="#5dff00"/><stop offset=".895" stop-color="#7eff00"/><stop offset=".947" stop-color="#98ff00"/><stop offset="1.000" stop-color="#aeff00"/></linearGradient><linearGradient id="r258" gradientUnits="userSpaceOnUse" x1="327" x2="404" y1="0" y2="0"><stop offset=".000" stop-color="#00ff89"/><stop offset=".050" stop-color="#00ff86"/><stop offset=".100" stop-color="#00ff82"/><stop offset=".150" stop-color="#00ff7e"/><stop offset=".200" stop-color="#00ff7a"/><stop offset=".250" stop-color="#00ff75"/><stop offset=".300" stop-color="#00ff70"/><stop offset=".350" stop-color="#00ff6b"/><stop offset=".400" stop-color="#00ff64"/><stop offset=".450" stop-color="#00ff5d"/><stop offset=".500" stop-color="#00ff55"/><stop offset=".550" stop-color="#00ff4c"/><stop offset=".600" stop-color="#00ff40"/><stop offset=".650" stop-color="#00ff31"/><stop offset=".700" stop-color="#00ff16"/><stop offset=".750" stop-color="#00ff00"/><stop offset=".800" stop-color="#45ff00"/><stop offset=".850" stop-color="#6dff00"/><stop offset=".900" stop-color="#89ff00"/><stop offset=".950" stop-color="#a1ff00"/><stop offset="1.000" stop-color="#b6ff00"/></linearGradient><linearGradient id="r259" gradientUnits="userSpaceOnUse" x1="327" x2="405" y1="0" y2="0"><stop offset=".000" stop-color="#00ff8b"/><stop offset=".050" stop-color="#00ff87"/><stop offset=".100" stop-color="#00ff84"/><stop offset=".150" stop-color="#00ff80"/><stop offset=".200" stop-color="#00ff7c"/><stop offset=".250" stop-color="#00ff77"/><stop offset=".300" stop-color="#00ff72"/><stop offset=".350" stop-color="#00ff6d"/><stop offset=".400" stop-color="#00ff67"/><stop offset=".450" stop-color="#00ff60"/><stop offset=".500" stop-color="#00ff58"/><stop offset=".550" stop-color="#00ff4e"/><stop offset=".600" stop-color="#00ff43"/><stop offset=".650" stop-color="#00ff34"/><stop offset=".700" stop-color="#00ff1c"/><stop offset=".750" stop-color="#00ff00"/><stop offset=".800" stop-color="#53ff00"/><stop offset=".850" stop-color="#77ff00"/><stop offset=".900" stop-color="#92ff00"/><stop offset=".950" stop-color="#a9ff00"/><stop offset="1.000" stop-color="#bdff00"/></linearGradient><linearGradient id="r260" gradientUnits="userSpaceOnUse" x1="327" x2="406" y1="0" y2="0"><stop offset=".000" stop-color="#00ff8d"/><stop offset=".050" stop-color="#00ff89"/><stop offset=".100" stop-color="#00ff86"/><stop offset=".150" stop-color="#00ff82"/><stop offset=".200" stop-color="#00ff7e"/><stop offset=".250" stop-color="#00ff79"/><stop offset=".300" stop-color="#00ff74"/><stop offset=".350" stop-color="#00ff6f"/><stop offset=".400" stop-color="#00ff69"/><stop offset=".450" stop-color="#00ff62"/><stop offset=".500" stop-color="#00ff5a"/><stop offset=".550" stop-color="#00ff51"/><stop offset=".600" stop-color="#00ff46"/><stop offset=".650" stop-color="#00ff37"/><stop offset=".700" stop-color="#00ff21"/><stop offset=".750" stop-color="#23ff00"/><stop offset=".800" stop-color="#5eff00"/><stop offset=".850" stop-color="#80ff00"/><stop offset=".900" stop-color="#9aff00"/><stop offset=".950" stop-color="#b0ff00"/><stop offset="1.000" stop-color="#c4ff00"/></linearGradient><linearGradient id="r261" gradientUnits="userSpaceOnUse" x1="327" x2="407" y1="0" y2="0"><stop offset=".000" stop-color="#00ff8f"/><stop offset=".050" stop-color="#00ff8b"/><stop offset=".100" stop-color="#00ff88"/><stop offset=".150" stop-color="#00ff84"/><stop offset=".200" stop-color="#00ff80"/><stop offset=".250" stop-color="#00ff7b"/><stop offset=".300" stop-color="#00ff77"/><stop offset=".350" stop-color="#00ff71"/><stop offset=".400" stop-color="#00ff6b"/><stop offset=".450" stop-color="#00ff64"/><stop offset=".500" stop-color="#00ff5d"/><stop offset=".550" stop-color="#00ff54"/><stop offset=".600" stop-color="#00ff49"/><stop offset=".650" stop-color="#00ff3a"/><stop offset=".700" stop-color="#00ff25"/><stop offset=".750" stop-color="#3aff00"/><stop offset=".800" stop-color="#69ff00"/><stop offset=".850" stop-color="#88ff00"/><stop offset=".900" stop-color="#a2ff00"/><stop offset=".950" stop-color="#b8ff00"/><stop offset="1.000" stop-color="#ccff00"/></linearGradient><linearGradient id="r262" gradientUnits="userSpaceOnUse" x1="327" x2="408" y1="0" y2="0"><stop offset=".000" stop-color="#00ff91"/><stop offset=".048" stop-color="#00ff8e"/><stop offset=".095" stop-color="#00ff8a"/><stop offset=".143" stop-color="#00ff87"/><stop offset=".190" stop-color="#00ff83"/><stop offset=".238" stop-color="#00ff7f"/><stop offset=".286" stop-color="#00ff7a"/><stop offset=".333" stop-color="#00ff75"/><stop offset=".381" stop-color="#00ff70"/><stop offset=".429" stop-color="#00ff6a"/><stop offset=".476" stop-color="#00ff63"/><stop offset=".524" stop-color="#00ff5b"/><stop offset=".571" stop-color="#00ff52"/><stop offset=".619" stop-color="#00ff46"/><stop offset=".667" stop-color="#00ff38"/><stop offset=".714" stop-color="#00ff21"/><stop offset=".762" stop-color="#55ff00"/><stop offset=".810" stop-color="#79ff00"/><stop offset=".857" stop-color="#94ff00"/><stop offset=".905" stop-color="#abff00"/><stop offset=".952" stop-color="#c0ff00"/><stop offset="1.000" stop-color="#d3ff00"/></linearGradient><linearGradient id="r263" gradientUnits="userSpaceOnUse" x1="327" x2="409" y1="0" y2="0"><stop offset=".000" stop-color="#00ff93"/><stop offset=".048" stop-color="#00ff90"/><stop offset=".095" stop-color="#00ff8c"/><stop offset=".143" stop-color="#00ff89"/><stop offset=".190" stop-color="#00ff85"/><stop offset=".238" stop-color="#00ff81"/><stop offset=".286" stop-color="#00ff7c"/><stop offset=".333" stop-color="#00ff77"/><stop offset=".381" stop-color="#00ff72"/><stop offset=".429" stop-color="#00ff6c"/><stop offset=".476" stop-color="#00ff65"/><stop offset=".524" stop-color="#00ff5d"/><stop offset=".571" stop-color="#00ff54"/><stop offset=".619" stop-color="#00ff49"/><stop offset=".667" stop-color="#00ff3b"/><stop offset=".714" stop-color="#28ff26"/><stop offset=".762" stop-color="#61ff00"/><stop offset=".810" stop-color="#82ff00"/><stop offset=".857" stop-color="#9cff00"/><stop offset=".905" stop-color="#b3ff00"/><stop offset=".952" stop-color="#c7ff00"/><stop offset="1.000" stop-color="#daff00"/></linearGradient><linearGradient id="r264" gradientUnits="userSpaceOnUse" x1="327" x2="410" y1="0" y2="0"><stop offset=".000" stop-color="#00ff95"/><stop offset=".048" stop-color="#00ff92"/><stop offset=".095" stop-color="#00ff8e"/><stop offset=".143" stop-color="#00ff8b"/><stop offset=".190" stop-color="#00ff87"/><stop offset=".238" stop-color="#00ff83"/><stop offset=".286" stop-color="#00ff7e"/><stop offset=".333" stop-color="#00ff79"/><stop offset=".381" stop-color="#00ff74"/><stop offset=".429" stop-color="#00ff6e"/><stop offset=".476" stop-color="#00ff67"/><stop offset=".524" stop-color="#00ff60"/><stop offset=".571" stop-color="#00ff57"/><stop offset=".619" stop-color="#00ff4c"/><stop offset=".667" stop-color="#00ff3e"/><stop offset=".714" stop-color="#3dff2a"/><stop offset=".762" stop-color="#6bff00"/><stop offset=".810" stop-color="#8bff00"/><stop offset=".857" stop-color="#a4ff00"/><stop offset=".905" stop-color="#baff00"/><stop offset=".952" stop-color="#ceff00"/><stop offset="1.000" stop-color="#e1ff00"/></linearGradient><linearGradient id="r265" gradientUnits="userSpaceOnUse" x1="327" x2="411" y1="0" y2="0"><stop offset=".000" stop-color="#00ff97"/><stop offset=".048" stop-color="#00ff94"/><stop offset=".095" stop-color="#00ff90"/><stop offset=".143" stop-color="#00ff8d"/><stop offset=".190" stop-color="#00ff89"/><stop offset=".238" stop-color="#00ff85"/><stop offset=".286" stop-color="#00ff81"/><stop offset=".333" stop-color="#00ff7c"/><stop offset=".381" stop-color="#00ff76"/><stop offset=".429" stop-color="#00ff70"/><stop offset=".476" stop-color="#00ff6a"/><stop offset=".524" stop-color="#00ff62"/><stop offset=".571" stop-color="#00ff59"/><stop offset=".619" stop-color="#00ff4f"/><stop offset=".667" stop-color="#00ff41"/><stop offset=".714" stop-color="#4cff2e"/><stop offset=".762" stop-color="#75ff01"/><stop offset=".810" stop-color="#93ff00"/><stop offset=".857" stop-color="#abff00"/><stop offset=".905" stop-color="#c1ff00"/><stop offset=".952" stop-color="#d6ff00"/><stop offset="1.000" stop-color="#e9ff00"/></linearGradient><linearGradient id="r266" gradientUnits="userSpaceOnUse" x1="327" x2="412" y1="0" y2="0"><stop offset=".000" stop-color="#00ff99"/><stop offset=".045" stop-color="#00ff96"/><stop offset=".091" stop-color="#00ff93"/><stop offset=".136" stop-color="#00ff8f"/><stop offset=".182" stop-color="#00ff8c"/><stop offset=".227" stop-color="#00ff88"/><stop offset=".273" stop-color="#00ff84"/><stop offset=".318" stop-color="#00ff7f"/><stop offset=".364" stop-color="#00ff7b"/><stop offset=".409" stop-color="#00ff75"/><stop offset=".455" stop-color="#00ff6f"/><stop offset=".500" stop-color="#00ff68"/><stop offset=".545" stop-color="#00ff61"/><stop offset=".591" stop-color="#00ff58"/><stop offset=".636" stop-color="#00ff4d"/><stop offset=".682" stop-color="#2eff3f"/><stop offset=".727" stop-color="#64ff2b"/><stop offset=".773" stop-color="#85ff00"/><stop offset=".818" stop-color="#9fff00"/><stop offset=".864" stop-color="#b6ff00"/><stop offset=".909" stop-color="#caff00"/><stop offset=".955" stop-color="#deff00"/><stop offset="1.000" stop-color="#f0ff00"/></linearGradient><linearGradient id="r267" gradientUnits="userSpaceOnUse" x1="327" x2="413" y1="0" y2="0"><stop offset=".000" stop-color="#00ff9b"/><stop offset=".045" stop-color="#00ff98"/><stop offset=".091" stop-color="#00ff95"/><stop offset=".136" stop-color="#00ff91"/><stop offset=".182" stop-color="#00ff8e"/><stop offset=".227" stop-color="#00ff8a"/><stop offset=".273" stop-color="#00ff86"/><stop offset=".318" stop-color="#00ff82"/><stop offset=".364" stop-color="#00ff7d"/><stop offset=".409" stop-color="#00ff77"/><stop offset=".455" stop-color="#00ff71"/><stop offset=".500" stop-color="#00ff6b"/><stop offset=".545" stop-color="#00ff63"/><stop offset=".591" stop-color="#00ff5a"/><stop offset=".636" stop-color="#00ff50"/><stop offset=".682" stop-color="#41ff42"/><stop offset=".727" stop-color="#6eff2f"/><stop offset=".773" stop-color="#8dff03"/><stop offset=".818" stop-color="#a7ff00"/><stop offset=".864" stop-color="#bdff00"/><stop offset=".909" stop-color="#d2ff00"/><stop offset=".955" stop-color="#e5ff00"/><stop offset="1.000" stop-color="#f7ff00"/></linearGradient><linearGradient id="r268" gradientUnits="userSpaceOnUse" x1="327" x2="414" y1="0" y2="0"><stop offset=".000" stop-color="#00ff9c"/><stop offset=".045" stop-color="#00ff9a"/><stop offset=".091" stop-color="#00ff97"/><stop offset=".136" stop-color="#00ff93"/><stop offset=".182" stop-color="#00ff90"/><stop offset=".227" stop-color="#00ff8c"/><stop offset=".273" stop-color="#00ff88"/><stop offset=".318" stop-color="#00ff84"/><stop offset=".364" stop-color="#00ff7f"/><stop offset=".409" stop-color="#00ff7a"/><stop offset=".455" stop-color="#00ff74"/><stop offset=".500" stop-color="#00ff6d"/><stop offset=".545" stop-color="#00ff66"/><stop offset=".591" stop-color="#00ff5d"/><stop offset=".636" stop-color="#00ff52"/><stop offset=".682" stop-color="#4fff45"/><stop offset=".727" stop-color="#78ff33"/><stop offset=".773" stop-color="#95ff0f"/><stop offset=".818" stop-color="#aeff00"/><stop offset=".864" stop-color="#c4ff00"/><stop offset=".909" stop-color="#d9ff00"/><stop offset=".955" stop-color="#ecff00"/><stop offset="1.000" stop-color="#ffff00"/></linearGradient><linearGradient id="r269" gradientUnits="userSpaceOnUse" x1="327" x2="415" y1="0" y2="0"><stop offset=".000" stop-color="#00ff9e"/><stop offset=".045" stop-color="#00ff9c"/><stop offset=".091" stop-color="#00ff99"/><stop offset=".136" stop-color="#00ff95"/><stop offset=".182" stop-color="#00ff92"/><stop offset=".227" stop-color="#00ff8e"/><stop offset=".273" stop-color="#00ff8a"/><stop offset=".318" stop-color="#00ff86"/><stop offset=".364" stop-color="#00ff81"/><stop offset=".409" stop-color="#00ff7c"/><stop offset=".455" stop-color="#00ff76"/><stop offset=".500" stop-color="#00ff70"/><stop offset=".545" stop-color="#00ff68"/><stop offset=".591" stop-color="#00ff5f"/><stop offset=".636" stop-color="#00ff55"/><stop offset=".682" stop-color="#5bff48"/><stop offset=".727" stop-color="#81ff37"/><stop offset=".773" stop-color="#9dff17"/><stop offset=".818" stop-color="#b6ff00"/><stop offset=".864" stop-color="#cbff00"/><stop offset=".909" stop-color="#e0ff00"/><stop offset=".955" stop-color="#f3ff00"/><stop offset="1.000" stop-color="#fff800"/></linearGradient><linearGradient id="r270" gradientUnits="userSpaceOnUse" x1="327" x2="416" y1="0" y2="0"><stop offset=".000" stop-color="#00ffa0"/><stop offset=".043" stop-color="#00ff9e"/><stop offset=".087" stop-color="#00ff9b"/><stop offset=".130" stop-color="#00ff98"/><stop offset=".174" stop-color="#00ff95"/><stop offset=".217" stop-color="#00ff91"/><stop offset=".261" stop-color="#00ff8e"/><stop offset=".304" stop-color="#00ff8a"/><stop offset=".348" stop-color="#00ff85"/><stop offset=".391" stop-color="#00ff80"/><stop offset=".435" stop-color="#00ff7b"/><stop offset=".478" stop-color="#00ff75"/><stop offset=".522" stop-color="#00ff6e"/><stop offset=".565" stop-color="#00ff67"/><stop offset=".609" stop-color="#00ff5e"/><stop offset=".652" stop-color="#46ff54"/><stop offset=".696" stop-color="#72ff46"/><stop offset=".739" stop-color="#91ff34"/><stop offset=".783" stop-color="#aaff11"/><stop offset=".826" stop-color="#c1ff00"/><stop offset=".870" stop-color="#d5ff00"/><stop offset=".913" stop-color="#e9ff00"/><stop offset=".957" stop-color="#fcff00"/><stop offset="1.000" stop-color="#fff100"/></linearGradient><linearGradient id="r271" gradientUnits="userSpaceOnUse" x1="327" x2="418" y1="0" y2="0"><stop offset=".000" stop-color="#00ffa2"/><stop offset=".043" stop-color="#00ffa0"/><stop offset=".087" stop-color="#00ff9d"/><stop offset=".130" stop-color="#00ff9a"/><stop offset=".174" stop-color="#00ff97"/><stop offset=".217" stop-color="#00ff93"/><stop offset=".261" stop-color="#00ff8f"/><stop offset=".304" stop-color="#00ff8b"/><stop offset=".348" stop-color="#00ff87"/><stop offset=".391" stop-color="#00ff82"/><stop offset=".435" stop-color="#00ff7d"/><stop offset=".478" stop-color="#00ff77"/><stop offset=".522" stop-color="#00ff70"/><stop offset=".565" stop-color="#00ff68"/><stop offset=".609" stop-color="#00ff5f"/><stop offset=".652" stop-color="#5bff54"/><stop offset=".696" stop-color="#81ff47"/><stop offset=".739" stop-color="#9eff34"/><stop offset=".783" stop-color="#b6ff0b"/><stop offset=".826" stop-color="#ccff00"/><stop offset=".870" stop-color="#e1ff00"/><stop offset=".913" stop-color="#f5ff00"/><stop offset=".957" stop-color="#fff700"/><stop offset="1.000" stop-color="#ffe600"/></linearGradient><linearGradient id="r272" gradientUnits="userSpaceOnUse" x1="328" x2="419" y1="0" y2="0"><stop offset=".000" stop-color="#00ffa4"/><stop offset=".043" stop-color="#00ffa1"/><stop offset=".087" stop-color="#00ff9e"/><stop offset=".130" stop-color="#00ff9b"/><stop offset=".174" stop-color="#00ff98"/><stop offset=".217" stop-color="#00ff95"/><stop offset=".261" stop-color="#00ff91"/><stop offset=".304" stop-color="#00ff8d"/><stop offset=".348" stop-color="#00ff88"/><stop offset=".391" stop-color="#00ff84"/><stop offset=".435" stop-color="#00ff7e"/><stop offset=".478" stop-color="#00ff78"/><stop offset=".522" stop-color="#00ff72"/><stop offset=".565" stop-color="#00ff6a"/><stop offset=".609" stop-color="#32ff61"/><stop offset=".652" stop-color="#6aff56"/><stop offset=".696" stop-color="#8cff49"/><stop offset=".739" stop-color="#a7ff36"/><stop offset=".783" stop-color="#bfff11"/><stop offset=".826" stop-color="#d4ff00"/><stop offset=".870" stop-color="#e9ff00"/><stop offset=".913" stop-color="#fcff00"/><stop offset=".957" stop-color="#fff000"/><stop offset="1.000" stop-color="#ffe000"/></linearGradient><linearGradient id="r273" gradientUnits="userSpaceOnUse" x1="328" x2="420" y1="0" y2="0"><stop offset=".000" stop-color="#00ffa6"/><stop offset=".043" stop-color="#00ffa3"/><stop offset=".087" stop-color="#00ffa0"/><stop offset=".130" stop-color="#00ff9d"/><stop offset=".174" stop-color="#00ff9a"/><stop offset=".217" stop-color="#00ff97"/><stop offset=".261" stop-color="#00ff93"/><stop offset=".304" stop-color="#00ff8f"/><stop offset=".348" stop-color="#00ff8b"/><stop offset=".391" stop-color="#00ff86"/><stop offset=".435" stop-color="#00ff81"/><stop offset=".478" stop-color="#00ff7b"/><stop offset=".522" stop-color="#00ff74"/><stop offset=".565" stop-color="#00ff6c"/><stop offset=".609" stop-color="#44ff64"/><stop offset=".652" stop-color="#73ff59"/><stop offset=".696" stop-color="#94ff4c"/><stop offset=".739" stop-color="#aeff3a"/><stop offset=".783" stop-color="#c6ff19"/><stop offset=".826" stop-color="#dbff00"/><stop offset=".870" stop-color="#f0ff00"/><stop offset=".913" stop-color="#fffa00"/><stop offset=".957" stop-color="#ffe900"/><stop offset="1.000" stop-color="#ffda00"/></linearGradient><linearGradient id="r274" gradientUnits="userSpaceOnUse" x1="328" x2="421" y1="0" y2="0"><stop offset=".000" stop-color="#00ffa8"/><stop offset=".042" stop-color="#00ffa5"/><stop offset=".083" stop-color="#00ffa3"/><stop offset=".125" stop-color="#00ffa0"/><stop offset=".167" stop-color="#00ff9d"/><stop offset=".208" stop-color="#00ff9a"/><stop offset=".250" stop-color="#00ff96"/><stop offset=".292" stop-color="#00ff93"/><stop offset=".333" stop-color="#00ff8e"/><stop offset=".375" stop-color="#00ff8a"/><stop offset=".417" stop-color="#00ff85"/><stop offset=".458" stop-color="#00ff80"/><stop offset=".500" stop-color="#00ff7a"/><stop offset=".542" stop-color="#00ff73"/><stop offset=".583" stop-color="#23ff6c"/><stop offset=".625" stop-color="#64ff63"/><stop offset=".667" stop-color="#87ff58"/><stop offset=".708" stop-color="#a3ff4a"/><stop offset=".750" stop-color="#bcff38"/><stop offset=".792" stop-color="#d2ff14"/><stop offset=".833" stop-color="#e6ff00"/><stop offset=".875" stop-color="#faff00"/><stop offset=".917" stop-color="#fff200"/><stop offset=".958" stop-color="#ffe200"/><stop offset="1.000" stop-color="#ffd400"/></linearGradient><linearGradient id="r275" gradientUnits="userSpaceOnUse" x1="328" x2="422" y1="0" y2="0"><stop offset=".000" stop-color="#00ffaa"/><stop offset=".042" stop-color="#00ffa7"/><stop offset=".083" stop-color="#00ffa5"/><stop offset=".125" stop-color="#00ffa2"/><stop offset=".167" stop-color="#00ff9f"/><stop offset=".208" stop-color="#00ff9c"/><stop offset=".250" stop-color="#00ff98"/><stop offset=".292" stop-color="#00ff95"/><stop offset=".333" stop-color="#00ff91"/><stop offset=".375" stop-color="#00ff8c"/><stop offset=".417" stop-color="#00ff88"/><stop offset=".458" stop-color="#00ff82"/><stop offset=".500" stop-color="#00ff7c"/><stop offset=".542" stop-color="#00ff76"/><stop offset=".583" stop-color="#39ff6e"/><stop offset=".625" stop-color="#6eff65"/><stop offset=".667" stop-color="#8fff5b"/><stop offset=".708" stop-color="#abff4d"/><stop offset=".750" stop-color="#c3ff3b"/><stop offset=".792" stop-color="#d9ff1c"/><stop offset=".833" stop-color="#edff00"/><stop offset=".875" stop-color="#fffd00"/><stop offset=".917" stop-color="#ffeb00"/><stop offset=".958" stop-color="#ffdc00"/><stop offset="1.000" stop-color="#ffce00"/></linearGradient><linearGradient id="r276" gradientUnits="userSpaceOnUse" x1="328" x2="423" y1="0" y2="0"><stop offset=".000" stop-color="#00ffac"/><stop offset=".042" stop-color="#00ffa9"/><stop offset=".083" stop-color="#00ffa7"/><stop offset=".125" stop-color="#00ffa4"/><stop offset=".167" stop-color="#00ffa1"/><stop offset=".208" stop-color="#00ff9e"/><stop offset=".250" stop-color="#00ff9b"/><stop offset=".292" stop-color="#00ff97"/><stop offset=".333" stop-color="#00ff93"/><stop offset=".375" stop-color="#00ff8f"/><stop offset=".417" stop-color="#00ff8a"/><stop offset=".458" stop-color="#00ff85"/><stop offset=".500" stop-color="#00ff7f"/><stop offset=".542" stop-color="#00ff78"/><stop offset=".583" stop-color="#49ff71"/><stop offset=".625" stop-color="#77ff68"/><stop offset=".667" stop-color="#97ff5e"/><stop offset=".708" stop-color="#b2ff51"/><stop offset=".750" stop-color="#caff3f"/><stop offset=".792" stop-color="#e0ff22"/><stop offset=".833" stop-color="#f5ff00"/><stop offset=".875" stop-color="#fff600"/><stop offset=".917" stop-color="#ffe500"/><stop offset=".958" stop-color="#ffd600"/><stop offset="1.000" stop-color="#ffc900"/></linearGradient><linearGradient id="r277" gradientUnits="userSpaceOnUse" x1="328" x2="424" y1="0" y2="0"><stop offset=".000" stop-color="#00ffae"/><stop offset=".042" stop-color="#00ffac"/><stop offset=".083" stop-color="#00ffa9"/><stop offset=".125" stop-color="#00ffa6"/><stop offset=".167" stop-color="#00ffa3"/><stop offset=".208" stop-color="#00ffa0"/><stop offset=".250" stop-color="#00ff9d"/><stop offset=".292" stop-color="#00ff99"/><stop offset=".333" stop-color="#00ff95"/><stop offset=".375" stop-color="#00ff91"/><stop offset=".417" stop-color="#00ff8c"/><stop offset=".458" stop-color="#00ff87"/><stop offset=".500" stop-color="#00ff81"/><stop offset=".542" stop-color="#00ff7b"/><stop offset=".583" stop-color="#56ff73"/><stop offset=".625" stop-color="#80ff6b"/><stop offset=".667" stop-color="#9fff60"/><stop offset=".708" stop-color="#b9ff54"/><stop offset=".750" stop-color="#d1ff43"/><stop offset=".792" stop-color="#e7ff27"/><stop offset=".833" stop-color="#fcff00"/><stop offset=".875" stop-color="#ffef00"/><stop offset=".917" stop-color="#ffde00"/><stop offset=".958" stop-color="#ffd000"/><stop offset="1.000" stop-color="#ffc300"/></linearGradient><linearGradient id="r278" gradientUnits="userSpaceOnUse" x1="328" x2="425" y1="0" y2="0"><stop offset=".000" stop-color="#00ffb0"/><stop offset=".040" stop-color="#00ffae"/><stop offset=".080" stop-color="#00ffab"/><stop offset=".120" stop-color="#00ffa9"/><stop offset=".160" stop-color="#00ffa6"/><stop offset=".200" stop-color="#00ffa3"/><stop offset=".240" stop-color="#00ffa0"/><stop offset=".280" stop-color="#00ff9d"/><stop offset=".320" stop-color="#00ff99"/><stop offset=".360" stop-color="#00ff95"/><stop offset=".400" stop-color="#00ff91"/><stop offset=".440" stop-color="#00ff8c"/><stop offset=".480" stop-color="#00ff87"/><stop offset=".520" stop-color="#00ff81"/><stop offset=".560" stop-color="#41ff7a"/><stop offset=".600" stop-color="#73ff73"/><stop offset=".640" stop-color="#94ff6a"/><stop offset=".680" stop-color="#afff60"/><stop offset=".720" stop-color="#c7ff53"/><stop offset=".760" stop-color="#ddff41"/><stop offset=".800" stop-color="#f2ff25"/><stop offset=".840" stop-color="#fff800"/><stop offset=".880" stop-color="#ffe600"/><stop offset=".920" stop-color="#ffd700"/><stop offset=".960" stop-color="#ffca00"/><stop offset="1.000" stop-color="#ffbe00"/></linearGradient><linearGradient id="r279" gradientUnits="userSpaceOnUse" x1="328" x2="426" y1="0" y2="0"><stop offset=".000" stop-color="#00ffb2"/><stop offset=".040" stop-color="#00ffb0"/><stop offset=".080" stop-color="#00ffad"/><stop offset=".120" stop-color="#00ffab"/><stop offset=".160" stop-color="#00ffa8"/><stop offset=".200" stop-color="#00ffa5"/><stop offset=".240" stop-color="#00ffa2"/><stop offset=".280" stop-color="#00ff9f"/><stop offset=".320" stop-color="#00ff9b"/><stop offset=".360" stop-color="#00ff98"/><stop offset=".400" stop-color="#00ff93"/><stop offset=".440" stop-color="#00ff8f"/><stop offset=".480" stop-color="#00ff89"/><stop offset=".520" stop-color="#00ff84"/><stop offset=".560" stop-color="#4fff7d"/><stop offset=".600" stop-color="#7cff76"/><stop offset=".640" stop-color="#9cff6d"/><stop offset=".680" stop-color="#b6ff63"/><stop offset=".720" stop-color="#ceff56"/><stop offset=".760" stop-color="#e5ff45"/><stop offset=".800" stop-color="#faff2a"/><stop offset=".840" stop-color="#fff100"/><stop offset=".880" stop-color="#ffe000"/><stop offset=".920" stop-color="#ffd100"/><stop offset=".960" stop-color="#ffc400"/><stop offset="1.000" stop-color="#ffb900"/></linearGradient><linearGradient id="r280" gradientUnits="userSpaceOnUse" x1="328" x2="427" y1="0" y2="0"><stop offset=".000" stop-color="#00ffb4"/><stop offset=".040" stop-color="#00ffb2"/><stop offset=".080" stop-color="#00ffb0"/><stop offset=".120" stop-color="#00ffad"/><stop offset=".160" stop-color="#00ffaa"/><stop offset=".200" stop-color="#00ffa8"/><stop offset=".240" stop-color="#00ffa5"/><stop offset=".280" stop-color="#00ffa1"/><stop offset=".320" stop-color="#00ff9e"/><stop offset=".360" stop-color="#00ff9a"/><stop offset=".400" stop-color="#00ff96"/><stop offset=".440" stop-color="#00ff91"/><stop offset=".480" stop-color="#00ff8c"/><stop offset=".520" stop-color="#00ff86"/><stop offset=".560" stop-color="#5bff80"/><stop offset=".600" stop-color="#84ff78"/><stop offset=".640" stop-color="#a3ff70"/><stop offset=".680" stop-color="#beff66"/><stop offset=".720" stop-color="#d6ff59"/><stop offset=".760" stop-color="#ecff48"/><stop offset=".800" stop-color="#fffd2e"/><stop offset=".840" stop-color="#ffea00"/><stop offset=".880" stop-color="#ffda00"/><stop offset=".920" stop-color="#ffcc00"/><stop offset=".960" stop-color="#ffbf00"/><stop offset="1.000" stop-color="#ffb400"/></linearGradient><linearGradient id="r281" gradientUnits="userSpaceOnUse" x1="328" x2="428" y1="0" y2="0"><stop offset=".000" stop-color="#00ffb6"/><stop offset=".040" stop-color="#00ffb4"/><stop offset=".080" stop-color="#00ffb2"/><stop offset=".120" stop-color="#00ffaf"/><stop offset=".160" stop-color="#00ffad"/><stop offset=".200" stop-color="#00ffaa"/><stop offset=".240" stop-color="#00ffa7"/><stop offset=".280" stop-color="#00ffa4"/><stop offset=".320" stop-color="#00ffa0"/><stop offset=".360" stop-color="#00ff9c"/><stop offset=".400" stop-color="#00ff98"/><stop offset=".440" stop-color="#00ff94"/><stop offset=".480" stop-color="#00ff8f"/><stop offset=".520" stop-color="#18ff89"/><stop offset=".560" stop-color="#66ff82"/><stop offset=".600" stop-color="#8dff7b"/><stop offset=".640" stop-color="#abff73"/><stop offset=".680" stop-color="#c5ff69"/><stop offset=".720" stop-color="#ddff5c"/><stop offset=".760" stop-color="#f3ff4c"/><stop offset=".800" stop-color="#fff631"/><stop offset=".840" stop-color="#ffe300"/><stop offset=".880" stop-color="#ffd400"/><stop offset=".920" stop-color="#ffc600"/><stop offset=".960" stop-color="#ffba00"/><stop offset="1.000" stop-color="#ffaf00"/></linearGradient><linearGradient id="r282" gradientUnits="userSpaceOnUse" x1="329" x2="429" y1="0" y2="0"><stop offset=".000" stop-color="#00ffb8"/><stop offset=".040" stop-color="#00ffb6"/><stop offset=".080" stop-color="#00ffb3"/><stop offset=".120" stop-color="#00ffb1"/><stop offset=".160" stop-color="#00ffae"/><stop offset=".200" stop-color="#00ffac"/><stop offset=".240" stop-color="#00ffa9"/><stop offset=".280" stop-color="#00ffa5"/><stop offset=".320" stop-color="#00ffa2"/><stop offset=".360" stop-color="#00ff9e"/><stop offset=".400" stop-color="#00ff9a"/><stop offset=".440" stop-color="#00ff96"/><stop offset=".480" stop-color="#00ff91"/><stop offset=".520" stop-color="#3eff8b"/><stop offset=".560" stop-color="#74ff85"/><stop offset=".600" stop-color="#98ff7d"/><stop offset=".640" stop-color="#b5ff75"/><stop offset=".680" stop-color="#ceff6b"/><stop offset=".720" stop-color="#e6ff5e"/><stop offset=".760" stop-color="#fcff4e"/><stop offset=".800" stop-color="#ffee32"/><stop offset=".840" stop-color="#ffdc00"/><stop offset=".880" stop-color="#ffcd00"/><stop offset=".920" stop-color="#ffc000"/><stop offset=".960" stop-color="#ffb400"/><stop offset="1.000" stop-color="#ffaa00"/></linearGradient><linearGradient id="r283" gradientUnits="userSpaceOnUse" x1="329" x2="430" y1="0" y2="0"><stop offset=".000" stop-color="#00ffba"/><stop offset=".038" stop-color="#00ffb8"/><stop offset=".077" stop-color="#00ffb6"/><stop offset=".115" stop-color="#00ffb3"/><stop offset=".154" stop-color="#00ffb1"/><stop offset=".192" stop-color="#00ffaf"/><stop offset=".231" stop-color="#00ffac"/><stop offset=".269" stop-color="#00ffa9"/><stop offset=".308" stop-color="#00ffa6"/><stop offset=".346" stop-color="#00ffa2"/><stop offset=".385" stop-color="#00ff9e"/><stop offset=".423" stop-color="#00ff9a"/><stop offset=".462" stop-color="#00ff96"/><stop offset=".500" stop-color="#1bff90"/><stop offset=".538" stop-color="#67ff8b"/><stop offset=".577" stop-color="#8dff84"/><stop offset=".615" stop-color="#abff7d"/><stop offset=".654" stop-color="#c5ff75"/><stop offset=".692" stop-color="#ddff6a"/><stop offset=".731" stop-color="#f3ff5e"/><stop offset=".769" stop-color="#fff64a"/><stop offset=".808" stop-color="#ffe42e"/><stop offset=".846" stop-color="#ffd400"/><stop offset=".885" stop-color="#ffc600"/><stop offset=".923" stop-color="#ffba00"/><stop offset=".962" stop-color="#ffaf00"/><stop offset="1.000" stop-color="#ffa500"/></linearGradient><linearGradient id="r284" gradientUnits="userSpaceOnUse" x1="329" x2="431" y1="0" y2="0"><stop offset=".000" stop-color="#00ffbc"/><stop offset=".038" stop-color="#00ffba"/><stop offset=".077" stop-color="#00ffb8"/><stop offset=".115" stop-color="#00ffb6"/><stop offset=".154" stop-color="#00ffb3"/><stop offset=".192" stop-color="#00ffb1"/><stop offset=".231" stop-color="#00ffae"/><stop offset=".269" stop-color="#00ffab"/><stop offset=".308" stop-color="#00ffa8"/><stop offset=".346" stop-color="#00ffa5"/><stop offset=".385" stop-color="#00ffa1"/><stop offset=".423" stop-color="#00ff9d"/><stop offset=".462" stop-color="#00ff98"/><stop offset=".500" stop-color="#35ff93"/><stop offset=".538" stop-color="#70ff8e"/><stop offset=".577" stop-color="#95ff87"/><stop offset=".615" stop-color="#b2ff80"/><stop offset=".654" stop-color="#ccff78"/><stop offset=".692" stop-color="#e4ff6e"/><stop offset=".731" stop-color="#faff61"/><stop offset=".769" stop-color="#ffef4c"/><stop offset=".808" stop-color="#ffdd31"/><stop offset=".846" stop-color="#ffce00"/><stop offset=".885" stop-color="#ffc100"/><stop offset=".923" stop-color="#ffb500"/><stop offset=".962" stop-color="#ffaa00"/><stop offset="1.000" stop-color="#ffa000"/></linearGradient><linearGradient id="r285" gradientUnits="userSpaceOnUse" x1="329" x2="432" y1="0" y2="0"><stop offset=".000" stop-color="#00ffbe"/><stop offset=".038" stop-color="#00ffbc"/><stop offset=".077" stop-color="#00ffba"/><stop offset=".115" stop-color="#00ffb8"/><stop offset=".154" stop-color="#00ffb6"/><stop offset=".192" stop-color="#00ffb3"/><stop offset=".231" stop-color="#00ffb1"/><stop offset=".269" stop-color="#00ffae"/><stop offset=".308" stop-color="#00ffab"/><stop offset=".346" stop-color="#00ffa7"/><stop offset=".385" stop-color="#00ffa3"/><stop offset=".423" stop-color="#00ff9f"/><stop offset=".462" stop-color="#00ff9b"/><stop offset=".500" stop-color="#46ff96"/><stop offset=".538" stop-color="#7aff91"/><stop offset=".577" stop-color="#9dff8a"/><stop offset=".615" stop-color="#baff83"/><stop offset=".654" stop-color="#d3ff7b"/><stop offset=".692" stop-color="#ebff71"/><stop offset=".731" stop-color="#fffc63"/><stop offset=".769" stop-color="#ffe84d"/><stop offset=".808" stop-color="#ffd733"/><stop offset=".846" stop-color="#ffc805"/><stop offset=".885" stop-color="#ffbb00"/><stop offset=".923" stop-color="#ffb000"/><stop offset=".962" stop-color="#ffa500"/><stop offset="1.000" stop-color="#ff9b00"/></linearGradient><linearGradient id="r286" gradientUnits="userSpaceOnUse" x1="329" x2="433" y1="0" y2="0"><stop offset=".000" stop-color="#00ffc0"/><stop offset=".038" stop-color="#00ffbe"/><stop offset=".077" stop-color="#00ffbc"/><stop offset=".115" stop-color="#00ffba"/><stop offset=".154" stop-color="#00ffb8"/><stop offset=".192" stop-color="#00ffb6"/><stop offset=".231" stop-color="#00ffb3"/><stop offset=".269" stop-color="#00ffb0"/><stop offset=".308" stop-color="#00ffad"/><stop offset=".346" stop-color="#00ffaa"/><stop offset=".385" stop-color="#00ffa6"/><stop offset=".423" stop-color="#00ffa2"/><stop offset=".462" stop-color="#00ff9e"/><stop offset=".500" stop-color="#54ff99"/><stop offset=".538" stop-color="#83ff93"/><stop offset=".577" stop-color="#a4ff8d"/><stop offset=".615" stop-color="#c1ff86"/><stop offset=".654" stop-color="#dbff7e"/><stop offset=".692" stop-color="#f3ff74"/><stop offset=".731" stop-color="#fff564"/><stop offset=".769" stop-color="#ffe24d"/><stop offset=".808" stop-color="#ffd135"/><stop offset=".846" stop-color="#ffc30e"/><stop offset=".885" stop-color="#ffb600"/><stop offset=".923" stop-color="#ffab00"/><stop offset=".962" stop-color="#ffa000"/><stop offset="1.000" stop-color="#ff9600"/></linearGradient><linearGradient id="r287" gradientUnits="userSpaceOnUse" x1="329" x2="434" y1="0" y2="0"><stop offset=".000" stop-color="#00ffc2"/><stop offset=".037" stop-color="#00ffc1"/><stop offset=".074" stop-color="#00ffbf"/><stop offset=".111" stop-color="#00ffbd"/><stop offset=".148" stop-color="#00ffbb"/><stop offset=".185" stop-color="#00ffb8"/><stop offset=".222" stop-color="#00ffb6"/><stop offset=".259" stop-color="#00ffb3"/><stop offset=".296" stop-color="#00ffb1"/><stop offset=".333" stop-color="#00ffae"/><stop offset=".370" stop-color="#00ffaa"/><stop offset=".407" stop-color="#00ffa7"/><stop offset=".444" stop-color="#00ffa3"/><stop offset=".481" stop-color="#3fff9e"/><stop offset=".519" stop-color="#77ff99"/><stop offset=".556" stop-color="#9bff94"/><stop offset=".593" stop-color="#b8ff8e"/><stop offset=".630" stop-color="#d2ff86"/><stop offset=".667" stop-color="#eaff7e"/><stop offset=".704" stop-color="#fffd73"/><stop offset=".741" stop-color="#ffe95e"/><stop offset=".778" stop-color="#ffd849"/><stop offset=".815" stop-color="#ffc932"/><stop offset=".852" stop-color="#ffbc09"/><stop offset=".889" stop-color="#ffb000"/><stop offset=".926" stop-color="#ffa500"/><stop offset=".963" stop-color="#ff9b00"/><stop offset="1.000" stop-color="#ff9200"/></linearGradient><linearGradient id="r288" gradientUnits="userSpaceOnUse" x1="329" x2="435" y1="0" y2="0"><stop offset=".000" stop-color="#00ffc5"/><stop offset=".037" stop-color="#00ffc3"/><stop offset=".074" stop-color="#00ffc1"/><stop offset=".111" stop-color="#00ffbf"/><stop offset=".148" stop-color="#00ffbd"/><stop offset=".185" stop-color="#00ffbb"/><stop offset=".222" stop-color="#00ffb9"/><stop offset=".259" stop-color="#00ffb6"/><stop offset=".296" stop-color="#00ffb3"/><stop offset=".333" stop-color="#00ffb0"/><stop offset=".370" stop-color="#00ffad"/><stop offset=".407" stop-color="#00ffa9"/><stop offset=".444" stop-color="#00ffa5"/><stop offset=".481" stop-color="#4effa1"/><stop offset=".519" stop-color="#80ff9c"/><stop offset=".556" stop-color="#a2ff97"/><stop offset=".593" stop-color="#bfff91"/><stop offset=".630" stop-color="#d9ff8a"/><stop offset=".667" stop-color="#f2ff81"/><stop offset=".704" stop-color="#fff673"/><stop offset=".741" stop-color="#ffe25f"/><stop offset=".778" stop-color="#ffd24a"/><stop offset=".815" stop-color="#ffc334"/><stop offset=".852" stop-color="#ffb611"/><stop offset=".889" stop-color="#ffab00"/><stop offset=".926" stop-color="#ffa000"/><stop offset=".963" stop-color="#ff9600"/><stop offset="1.000" stop-color="#ff8d00"/></linearGradient><linearGradient id="r289" gradientUnits="userSpaceOnUse" x1="329" x2="436" y1="0" y2="0"><stop offset=".000" stop-color="#00ffc7"/><stop offset=".037" stop-color="#00ffc5"/><stop offset=".074" stop-color="#00ffc3"/><stop offset=".111" stop-color="#00ffc2"/><stop offset=".148" stop-color="#00ffc0"/><stop offset=".185" stop-color="#00ffbd"/><stop offset=".222" stop-color="#00ffbb"/><stop offset=".259" stop-color="#00ffb9"/><stop offset=".296" stop-color="#00ffb6"/><stop offset=".333" stop-color="#00ffb3"/><stop offset=".370" stop-color="#00ffb0"/><stop offset=".407" stop-color="#00ffac"/><stop offset=".444" stop-color="#00ffa8"/><stop offset=".481" stop-color="#5bffa4"/><stop offset=".519" stop-color="#88ff9f"/><stop offset=".556" stop-color="#aaff9a"/><stop offset=".593" stop-color="#c7ff94"/><stop offset=".630" stop-color="#e1ff8d"/><stop offset=".667" stop-color="#f9ff85"/><stop offset=".704" stop-color="#ffee73"/><stop offset=".741" stop-color="#ffdc5f"/><stop offset=".778" stop-color="#ffcc4b"/><stop offset=".815" stop-color="#ffbe35"/><stop offset=".852" stop-color="#ffb116"/><stop offset=".889" stop-color="#ffa600"/><stop offset=".926" stop-color="#ff9b00"/><stop offset=".963" stop-color="#ff9100"/><stop offset="1.000" stop-color="#ff8800"/></linearGradient><linearGradient id="r290" gradientUnits="userSpaceOnUse" x1="330" x2="437" y1="0" y2="0"><stop offset=".000" stop-color="#00ffc9"/><stop offset=".037" stop-color="#00ffc7"/><stop offset=".074" stop-color="#00ffc5"/><stop offset=".111" stop-color="#00ffc3"/><stop offset=".148" stop-color="#00ffc1"/><stop offset=".185" stop-color="#00ffbf"/><stop offset=".222" stop-color="#00ffbd"/><stop offset=".259" stop-color="#00ffbb"/><stop offset=".296" stop-color="#00ffb8"/><stop offset=".333" stop-color="#00ffb5"/><stop offset=".370" stop-color="#00ffb2"/><stop offset=".407" stop-color="#00ffae"/><stop offset=".444" stop-color="#1dffab"/><stop offset=".481" stop-color="#6cffa6"/><stop offset=".519" stop-color="#95ffa2"/><stop offset=".556" stop-color="#b5ff9c"/><stop offset=".593" stop-color="#d1ff97"/><stop offset=".630" stop-color="#eaff90"/><stop offset=".667" stop-color="#fffb86"/><stop offset=".704" stop-color="#ffe671"/><stop offset=".741" stop-color="#ffd45e"/><stop offset=".778" stop-color="#ffc54b"/><stop offset=".815" stop-color="#ffb836"/><stop offset=".852" stop-color="#ffab18"/><stop offset=".889" stop-color="#ffa000"/><stop offset=".926" stop-color="#ff9600"/><stop offset=".963" stop-color="#ff8d00"/><stop offset="1.000" stop-color="#ff8400"/></linearGradient><linearGradient id="r291" gradientUnits="userSpaceOnUse" x1="330" x2="438" y1="0" y2="0"><stop offset=".000" stop-color="#00ffcb"/><stop offset=".037" stop-color="#00ffc9"/><stop offset=".074" stop-color="#00ffc8"/><stop offset=".111" stop-color="#00ffc6"/><stop offset=".148" stop-color="#00ffc4"/><stop offset=".185" stop-color="#00ffc2"/><stop offset=".222" stop-color="#00ffc0"/><stop offset=".259" stop-color="#00ffbd"/><stop offset=".296" stop-color="#00ffbb"/><stop offset=".333" stop-color="#00ffb8"/><stop offset=".370" stop-color="#00ffb5"/><stop offset=".407" stop-color="#00ffb1"/><stop offset=".444" stop-color="#37ffae"/><stop offset=".481" stop-color="#76ffaa"/><stop offset=".519" stop-color="#9dffa5"/><stop offset=".556" stop-color="#bcffa0"/><stop offset=".593" stop-color="#d8ff9a"/><stop offset=".630" stop-color="#f2ff93"/><stop offset=".667" stop-color="#fff485"/><stop offset=".704" stop-color="#ffe071"/><stop offset=".741" stop-color="#ffce5e"/><stop offset=".778" stop-color="#ffc04c"/><stop offset=".815" stop-color="#ffb237"/><stop offset=".852" stop-color="#ffa61c"/><stop offset=".889" stop-color="#ff9b00"/><stop offset=".926" stop-color="#ff9100"/><stop offset=".963" stop-color="#ff8800"/><stop offset="1.000" stop-color="#ff7f00"/></linearGradient><linearGradient id="r292" gradientUnits="userSpaceOnUse" x1="330" x2="439" y1="0" y2="0"><stop offset=".000" stop-color="#00ffcd"/><stop offset=".036" stop-color="#00ffcc"/><stop offset=".071" stop-color="#00ffca"/><stop offset=".107" stop-color="#00ffc9"/><stop offset=".143" stop-color="#00ffc7"/><stop offset=".179" stop-color="#00ffc5"/><stop offset=".214" stop-color="#00ffc3"/><stop offset=".250" stop-color="#00ffc1"/><stop offset=".286" stop-color="#00ffbe"/><stop offset=".321" stop-color="#00ffbc"/><stop offset=".357" stop-color="#00ffb9"/><stop offset=".393" stop-color="#00ffb6"/><stop offset=".429" stop-color="#0affb2"/><stop offset=".464" stop-color="#69ffaf"/><stop offset=".500" stop-color="#93ffab"/><stop offset=".536" stop-color="#b4ffa6"/><stop offset=".571" stop-color="#d0ffa1"/><stop offset=".607" stop-color="#eaff9b"/><stop offset=".643" stop-color="#fffb92"/><stop offset=".679" stop-color="#ffe67e"/><stop offset=".714" stop-color="#ffd46c"/><stop offset=".750" stop-color="#ffc55a"/><stop offset=".786" stop-color="#ffb748"/><stop offset=".821" stop-color="#ffab35"/><stop offset=".857" stop-color="#ffa01a"/><stop offset=".893" stop-color="#ff9600"/><stop offset=".929" stop-color="#ff8c00"/><stop offset=".964" stop-color="#ff8300"/><stop offset="1.000" stop-color="#ff7a00"/></linearGradient><linearGradient id="r293" gradientUnits="userSpaceOnUse" x1="330" x2="440" y1="0" y2="0"><stop offset=".000" stop-color="#00ffd0"/><stop offset=".036" stop-color="#00ffce"/><stop offset=".071" stop-color="#00ffcd"/><stop offset=".107" stop-color="#00ffcb"/><stop offset=".143" stop-color="#00ffc9"/><stop offset=".179" stop-color="#00ffc7"/><stop offset=".214" stop-color="#00ffc5"/><stop offset=".250" stop-color="#00ffc3"/><stop offset=".286" stop-color="#00ffc1"/><stop offset=".321" stop-color="#00ffbe"/><stop offset=".357" stop-color="#00ffbc"/><stop offset=".393" stop-color="#00ffb9"/><stop offset=".429" stop-color="#2fffb5"/><stop offset=".464" stop-color="#73ffb2"/><stop offset=".500" stop-color="#9bffae"/><stop offset=".536" stop-color="#bbffa9"/><stop offset=".571" stop-color="#d7ffa4"/><stop offset=".607" stop-color="#f2ff9e"/><stop offset=".643" stop-color="#fff491"/><stop offset=".679" stop-color="#ffe07d"/><stop offset=".714" stop-color="#ffce6c"/><stop offset=".750" stop-color="#ffbf5a"/><stop offset=".786" stop-color="#ffb249"/><stop offset=".821" stop-color="#ffa636"/><stop offset=".857" stop-color="#ff9b1d"/><stop offset=".893" stop-color="#ff9100"/><stop offset=".929" stop-color="#ff8700"/><stop offset=".964" stop-color="#ff7e00"/><stop offset="1.000" stop-color="#ff7600"/></linearGradient><linearGradient id="r294" gradientUnits="userSpaceOnUse" x1="330" x2="441" y1="0" y2="0"><stop offset=".000" stop-color="#00ffd2"/><stop offset=".036" stop-color="#00ffd0"/><stop offset=".071" stop-color="#00ffcf"/><stop offset=".107" stop-color="#00ffcd"/><stop offset=".143" stop-color="#00ffcc"/><stop offset=".179" stop-color="#00ffca"/><stop offset=".214" stop-color="#00ffc8"/><stop offset=".250" stop-color="#00ffc6"/><stop offset=".286" stop-color="#00ffc4"/><stop offset=".321" stop-color="#00ffc1"/><stop offset=".357" stop-color="#00ffbf"/><stop offset=".393" stop-color="#00ffbc"/><stop offset=".429" stop-color="#42ffb9"/><stop offset=".464" stop-color="#7dffb5"/><stop offset=".500" stop-color="#a3ffb1"/><stop offset=".536" stop-color="#c3ffad"/><stop offset=".571" stop-color="#dfffa8"/><stop offset=".607" stop-color="#f9ffa2"/><stop offset=".643" stop-color="#ffed90"/><stop offset=".679" stop-color="#ffd97d"/><stop offset=".714" stop-color="#ffc86c"/><stop offset=".750" stop-color="#ffba5b"/><stop offset=".786" stop-color="#ffad4a"/><stop offset=".821" stop-color="#ffa137"/><stop offset=".857" stop-color="#ff9620"/><stop offset=".893" stop-color="#ff8c00"/><stop offset=".929" stop-color="#ff8200"/><stop offset=".964" stop-color="#ff7900"/><stop offset="1.000" stop-color="#ff7100"/></linearGradient><linearGradient id="r295" gradientUnits="userSpaceOnUse" x1="330" x2="442" y1="0" y2="0"><stop offset=".000" stop-color="#00ffd4"/><stop offset=".036" stop-color="#00ffd3"/><stop offset=".071" stop-color="#00ffd1"/><stop offset=".107" stop-color="#00ffd0"/><stop offset=".143" stop-color="#00ffce"/><stop offset=".179" stop-color="#00ffcd"/><stop offset=".214" stop-color="#00ffcb"/><stop offset=".250" stop-color="#00ffc9"/><stop offset=".286" stop-color="#00ffc7"/><stop offset=".321" stop-color="#00ffc4"/><stop offset=".357" stop-color="#00ffc2"/><stop offset=".393" stop-color="#00ffbf"/><stop offset=".429" stop-color="#51ffbc"/><stop offset=".464" stop-color="#86ffb8"/><stop offset=".500" stop-color="#abffb5"/><stop offset=".536" stop-color="#caffb0"/><stop offset=".571" stop-color="#e7ffab"/><stop offset=".607" stop-color="#fffda4"/><stop offset=".643" stop-color="#ffe68f"/><stop offset=".679" stop-color="#ffd37d"/><stop offset=".714" stop-color="#ffc26c"/><stop offset=".750" stop-color="#ffb45b"/><stop offset=".786" stop-color="#ffa74b"/><stop offset=".821" stop-color="#ff9c39"/><stop offset=".857" stop-color="#ff9122"/><stop offset=".893" stop-color="#ff8700"/><stop offset=".929" stop-color="#ff7e00"/><stop offset=".964" stop-color="#ff7500"/><stop offset="1.000" stop-color="#ff6c00"/></linearGradient><linearGradient id="r296" gradientUnits="userSpaceOnUse" x1="330" x2="443" y1="0" y2="0"><stop offset=".000" stop-color="#00ffd7"/><stop offset=".034" stop-color="#00ffd5"/><stop offset=".069" stop-color="#00ffd4"/><stop offset=".103" stop-color="#00ffd3"/><stop offset=".138" stop-color="#00ffd1"/><stop offset=".172" stop-color="#00ffd0"/><stop offset=".207" stop-color="#00ffce"/><stop offset=".241" stop-color="#00ffcc"/><stop offset=".276" stop-color="#00ffca"/><stop offset=".310" stop-color="#00ffc8"/><stop offset=".345" stop-color="#00ffc6"/><stop offset=".379" stop-color="#00ffc3"/><stop offset=".414" stop-color="#3dffc0"/><stop offset=".448" stop-color="#7bffbd"/><stop offset=".483" stop-color="#a2ffba"/><stop offset=".517" stop-color="#c2ffb6"/><stop offset=".552" stop-color="#dfffb2"/><stop offset=".586" stop-color="#faffad"/><stop offset=".621" stop-color="#ffec9b"/><stop offset=".655" stop-color="#ffd888"/><stop offset=".690" stop-color="#ffc877"/><stop offset=".724" stop-color="#ffb967"/><stop offset=".759" stop-color="#ffac58"/><stop offset=".793" stop-color="#ffa048"/><stop offset=".828" stop-color="#ff9537"/><stop offset=".862" stop-color="#ff8b20"/><stop offset=".897" stop-color="#ff8100"/><stop offset=".931" stop-color="#ff7800"/><stop offset=".966" stop-color="#ff6f00"/><stop offset="1.000" stop-color="#ff6700"/></linearGradient><linearGradient id="r297" gradientUnits="userSpaceOnUse" x1="331" x2="444" y1="0" y2="0"><stop offset=".000" stop-color="#00ffd9"/><stop offset=".034" stop-color="#00ffd8"/><stop offset=".069" stop-color="#00ffd6"/><stop offset=".103" stop-color="#00ffd5"/><stop offset=".138" stop-color="#00ffd4"/><stop offset=".172" stop-color="#00ffd2"/><stop offset=".207" stop-color="#00ffd0"/><stop offset=".241" stop-color="#00ffcf"/><stop offset=".276" stop-color="#00ffcd"/><stop offset=".310" stop-color="#00ffcb"/><stop offset=".345" stop-color="#00ffc8"/><stop offset=".379" stop-color="#00ffc6"/><stop offset=".414" stop-color="#57ffc3"/><stop offset=".448" stop-color="#8affc0"/><stop offset=".483" stop-color="#afffbd"/><stop offset=".517" stop-color="#ceffb9"/><stop offset=".552" stop-color="#eaffb5"/><stop offset=".586" stop-color="#fffaad"/><stop offset=".621" stop-color="#ffe398"/><stop offset=".655" stop-color="#ffd186"/><stop offset=".690" stop-color="#ffc075"/><stop offset=".724" stop-color="#ffb266"/><stop offset=".759" stop-color="#ffa657"/><stop offset=".793" stop-color="#ff9a48"/><stop offset=".828" stop-color="#ff9037"/><stop offset=".862" stop-color="#ff8622"/><stop offset=".897" stop-color="#ff7c00"/><stop offset=".931" stop-color="#ff7300"/><stop offset=".966" stop-color="#ff6a00"/><stop offset="1.000" stop-color="#ff6200"/></linearGradient><linearGradient id="r298" gradientUnits="userSpaceOnUse" x1="331" x2="445" y1="0" y2="0"><stop offset=".000" stop-color="#00ffdb"/><stop offset=".034" stop-color="#00ffda"/><stop offset=".069" stop-color="#00ffd9"/><stop offset=".103" stop-color="#00ffd8"/><stop offset=".138" stop-color="#00ffd6"/><stop offset=".172" stop-color="#00ffd5"/><stop offset=".207" stop-color="#00ffd3"/><stop offset=".241" stop-color="#00ffd2"/><stop offset=".276" stop-color="#00ffd0"/><stop offset=".310" stop-color="#00ffce"/><stop offset=".345" stop-color="#00ffcc"/><stop offset=".379" stop-color="#00ffc9"/><stop offset=".414" stop-color="#63ffc7"/><stop offset=".448" stop-color="#93ffc4"/><stop offset=".483" stop-color="#b6ffc1"/><stop offset=".517" stop-color="#d5ffbd"/><stop offset=".552" stop-color="#f2ffb9"/><stop offset=".586" stop-color="#fff2ab"/><stop offset=".621" stop-color="#ffdd97"/><stop offset=".655" stop-color="#ffca85"/><stop offset=".690" stop-color="#ffbb75"/><stop offset=".724" stop-color="#ffad66"/><stop offset=".759" stop-color="#ffa157"/><stop offset=".793" stop-color="#ff9548"/><stop offset=".828" stop-color="#ff8b38"/><stop offset=".862" stop-color="#ff8124"/><stop offset=".897" stop-color="#ff7700"/><stop offset=".931" stop-color="#ff6e00"/><stop offset=".966" stop-color="#ff6500"/><stop offset="1.000" stop-color="#ff5d00"/></linearGradient><linearGradient id="r299" gradientUnits="userSpaceOnUse" x1="331" x2="446" y1="0" y2="0"><stop offset=".000" stop-color="#00ffde"/><stop offset=".034" stop-color="#00ffdd"/><stop offset=".069" stop-color="#00ffdb"/><stop offset=".103" stop-color="#00ffda"/><stop offset=".138" stop-color="#00ffd9"/><stop offset=".172" stop-color="#00ffd8"/><stop offset=".207" stop-color="#00ffd6"/><stop offset=".241" stop-color="#00ffd5"/><stop offset=".276" stop-color="#00ffd3"/><stop offset=".310" stop-color="#00ffd1"/><stop offset=".345" stop-color="#00ffcf"/><stop offset=".379" stop-color="#00ffcd"/><stop offset=".414" stop-color="#6effca"/><stop offset=".448" stop-color="#9bffc8"/><stop offset=".483" stop-color="#beffc4"/><stop offset=".517" stop-color="#ddffc1"/><stop offset=".552" stop-color="#f9ffbd"/><stop offset=".586" stop-color="#ffebaa"/><stop offset=".621" stop-color="#ffd696"/><stop offset=".655" stop-color="#ffc485"/><stop offset=".690" stop-color="#ffb575"/><stop offset=".724" stop-color="#ffa866"/><stop offset=".759" stop-color="#ff9b58"/><stop offset=".793" stop-color="#ff9049"/><stop offset=".828" stop-color="#ff8639"/><stop offset=".862" stop-color="#ff7c25"/><stop offset=".897" stop-color="#ff7200"/><stop offset=".931" stop-color="#ff6900"/><stop offset=".966" stop-color="#ff6000"/><stop offset="1.000" stop-color="#ff5700"/></linearGradient><linearGradient id="r300" gradientUnits="userSpaceOnUse" x1="331" x2="447" y1="0" y2="0"><stop offset=".000" stop-color="#00ffe0"/><stop offset=".034" stop-color="#00ffdf"/><stop offset=".069" stop-color="#00ffde"/><stop offset=".103" stop-color="#00ffdd"/><stop offset=".138" stop-color="#00ffdc"/><stop offset=".172" stop-color="#00ffda"/><stop offset=".207" stop-color="#00ffd9"/><stop offset=".241" stop-color="#00ffd8"/><stop offset=".276" stop-color="#00ffd6"/><stop offset=".310" stop-color="#00ffd4"/><stop offset=".345" stop-color="#00ffd2"/><stop offset=".379" stop-color="#2bffd0"/><stop offset=".414" stop-color="#78ffce"/><stop offset=".448" stop-color="#a3ffcb"/><stop offset=".483" stop-color="#c6ffc8"/><stop offset=".517" stop-color="#e5ffc5"/><stop offset=".552" stop-color="#fffcbf"/><stop offset=".586" stop-color="#ffe4a9"/><stop offset=".621" stop-color="#ffd095"/><stop offset=".655" stop-color="#ffbf84"/><stop offset=".690" stop-color="#ffb075"/><stop offset=".724" stop-color="#ffa266"/><stop offset=".759" stop-color="#ff9658"/><stop offset=".793" stop-color="#ff8b4a"/><stop offset=".828" stop-color="#ff813a"/><stop offset=".862" stop-color="#ff7727"/><stop offset=".897" stop-color="#ff6d04"/><stop offset=".931" stop-color="#ff6400"/><stop offset=".966" stop-color="#ff5b00"/><stop offset="1.000" stop-color="#ff5200"/></linearGradient><linearGradient id="r301" gradientUnits="userSpaceOnUse" x1="331" x2="448" y1="0" y2="0"><stop offset=".000" stop-color="#00ffe3"/><stop offset=".033" stop-color="#00ffe2"/><stop offset=".067" stop-color="#00ffe1"/><stop offset=".100" stop-color="#00ffe0"/><stop offset=".133" stop-color="#00ffdf"/><stop offset=".167" stop-color="#00ffde"/><stop offset=".200" stop-color="#00ffdc"/><stop offset=".233" stop-color="#00ffdb"/><stop offset=".267" stop-color="#00ffda"/><stop offset=".300" stop-color="#00ffd8"/><stop offset=".333" stop-color="#00ffd6"/><stop offset=".367" stop-color="#00ffd4"/><stop offset=".400" stop-color="#6dffd2"/><stop offset=".433" stop-color="#9bffd0"/><stop offset=".467" stop-color="#beffce"/><stop offset=".500" stop-color="#deffcb"/><stop offset=".533" stop-color="#faffc8"/><stop offset=".567" stop-color="#ffeab3"/><stop offset=".600" stop-color="#ffd5a0"/><stop offset=".633" stop-color="#ffc38e"/><stop offset=".667" stop-color="#ffb47f"/><stop offset=".700" stop-color="#ffa670"/><stop offset=".733" stop-color="#ff9a63"/><stop offset=".767" stop-color="#ff8f55"/><stop offset=".800" stop-color="#ff8447"/><stop offset=".833" stop-color="#ff7a38"/><stop offset=".867" stop-color="#ff7126"/><stop offset=".900" stop-color="#ff6704"/><stop offset=".933" stop-color="#ff5e00"/><stop offset=".967" stop-color="#ff5500"/><stop offset="1.000" stop-color="#ff4c00"/></linearGradient><linearGradient id="r302" gradientUnits="userSpaceOnUse" x1="331" x2="449" y1="0" y2="0"><stop offset=".000" stop-color="#00ffe5"/><stop offset=".033" stop-color="#00ffe4"/><stop offset=".067" stop-color="#00ffe3"/><stop offset=".100" stop-color="#00ffe3"/><stop offset=".133" stop-color="#00ffe2"/><stop offset=".167" stop-color="#00ffe1"/><stop offset=".200" stop-color="#00ffdf"/><stop offset=".233" stop-color="#00ffde"/><stop offset=".267" stop-color="#00ffdd"/><stop offset=".300" stop-color="#00ffdb"/><stop offset=".333" stop-color="#00ffda"/><stop offset=".367" stop-color="#24ffd8"/><stop offset=".400" stop-color="#77ffd6"/><stop offset=".433" stop-color="#a3ffd4"/><stop offset=".467" stop-color="#c6ffd2"/><stop offset=".500" stop-color="#e6ffcf"/><stop offset=".533" stop-color="#fffbc9"/><stop offset=".567" stop-color="#ffe3b2"/><stop offset=".600" stop-color="#ffce9f"/><stop offset=".633" stop-color="#ffbd8e"/><stop offset=".667" stop-color="#ffae7f"/><stop offset=".700" stop-color="#ffa170"/><stop offset=".733" stop-color="#ff9563"/><stop offset=".767" stop-color="#ff8a56"/><stop offset=".800" stop-color="#ff7f48"/><stop offset=".833" stop-color="#ff7539"/><stop offset=".867" stop-color="#ff6b27"/><stop offset=".900" stop-color="#ff6209"/><stop offset=".933" stop-color="#ff5900"/><stop offset=".967" stop-color="#ff4f00"/><stop offset="1.000" stop-color="#ff4600"/></linearGradient><linearGradient id="r303" gradientUnits="userSpaceOnUse" x1="332" x2="450" y1="0" y2="0"><stop offset=".000" stop-color="#00ffe8"/><stop offset=".033" stop-color="#00ffe7"/><stop offset=".067" stop-color="#00ffe6"/><stop offset=".100" stop-color="#00ffe5"/><stop offset=".133" stop-color="#00ffe4"/><stop offset=".167" stop-color="#00ffe3"/><stop offset=".200" stop-color="#00ffe2"/><stop offset=".233" stop-color="#00ffe1"/><stop offset=".267" stop-color="#00ffe0"/><stop offset=".300" stop-color="#00ffdf"/><stop offset=".333" stop-color="#00ffdd"/><stop offset=".367" stop-color="#4bffdc"/><stop offset=".400" stop-color="#88ffda"/><stop offset=".433" stop-color="#b1ffd8"/><stop offset=".467" stop-color="#d3ffd6"/><stop offset=".500" stop-color="#f1ffd3"/><stop offset=".533" stop-color="#fff0c4"/><stop offset=".567" stop-color="#ffd9ae"/><stop offset=".600" stop-color="#ffc69c"/><stop offset=".633" stop-color="#ffb68c"/><stop offset=".667" stop-color="#ffa87d"/><stop offset=".700" stop-color="#ff9b6f"/><stop offset=".733" stop-color="#ff8f62"/><stop offset=".767" stop-color="#ff8455"/><stop offset=".800" stop-color="#ff7948"/><stop offset=".833" stop-color="#ff7039"/><stop offset=".867" stop-color="#ff6628"/><stop offset=".900" stop-color="#ff5d0c"/><stop offset=".933" stop-color="#ff5300"/><stop offset=".967" stop-color="#ff4900"/><stop offset="1.000" stop-color="#ff3f00"/></linearGradient><linearGradient id="r304" gradientUnits="userSpaceOnUse" x1="332" x2="451" y1="0" y2="0"><stop offset=".000" stop-color="#00ffea"/><stop offset=".033" stop-color="#00ffea"/><stop offset=".067" stop-color="#00ffe9"/><stop offset=".100" stop-color="#00ffe8"/><stop offset=".133" stop-color="#00ffe7"/><stop offset=".167" stop-color="#00ffe6"/><stop offset=".200" stop-color="#00ffe5"/><stop offset=".233" stop-color="#00ffe4"/><stop offset=".267" stop-color="#00ffe3"/><stop offset=".300" stop-color="#00ffe2"/><stop offset=".333" stop-color="#00ffe1"/><stop offset=".367" stop-color="#59ffdf"/><stop offset=".400" stop-color="#91ffde"/><stop offset=".433" stop-color="#b9ffdc"/><stop offset=".467" stop-color="#dbffda"/><stop offset=".500" stop-color="#faffd8"/><stop offset=".533" stop-color="#ffe9c2"/><stop offset=".567" stop-color="#ffd3ad"/><stop offset=".600" stop-color="#ffc09b"/><stop offset=".633" stop-color="#ffb08b"/><stop offset=".667" stop-color="#ffa27d"/><stop offset=".700" stop-color="#ff956f"/><stop offset=".733" stop-color="#ff8a62"/><stop offset=".767" stop-color="#ff7f55"/><stop offset=".800" stop-color="#ff7448"/><stop offset=".833" stop-color="#ff6a3a"/><stop offset=".867" stop-color="#ff6129"/><stop offset=".900" stop-color="#ff5710"/><stop offset=".933" stop-color="#ff4d00"/><stop offset=".967" stop-color="#ff4300"/><stop offset="1.000" stop-color="#ff3800"/></linearGradient><linearGradient id="r305" gradientUnits="userSpaceOnUse" x1="332" x2="452" y1="0" y2="0"><stop offset=".000" stop-color="#00ffed"/><stop offset=".033" stop-color="#00ffec"/><stop offset=".067" stop-color="#00ffec"/><stop offset=".100" stop-color="#00ffeb"/><stop offset=".133" stop-color="#00ffea"/><stop offset=".167" stop-color="#00ffea"/><stop offset=".200" stop-color="#00ffe9"/><stop offset=".233" stop-color="#00ffe8"/><stop offset=".267" stop-color="#00ffe7"/><stop offset=".300" stop-color="#00ffe6"/><stop offset=".333" stop-color="#00ffe5"/><stop offset=".367" stop-color="#66ffe3"/><stop offset=".400" stop-color="#9affe2"/><stop offset=".433" stop-color="#c1ffe0"/><stop offset=".467" stop-color="#e3ffde"/><stop offset=".500" stop-color="#fffcda"/><stop offset=".533" stop-color="#ffe2c1"/><stop offset=".567" stop-color="#ffccac"/><stop offset=".600" stop-color="#ffba9a"/><stop offset=".633" stop-color="#ffab8b"/><stop offset=".667" stop-color="#ff9d7d"/><stop offset=".700" stop-color="#ff906f"/><stop offset=".733" stop-color="#ff8462"/><stop offset=".767" stop-color="#ff7a56"/><stop offset=".800" stop-color="#ff6f49"/><stop offset=".833" stop-color="#ff653b"/><stop offset=".867" stop-color="#ff5b2b"/><stop offset=".900" stop-color="#ff5113"/><stop offset=".933" stop-color="#ff4700"/><stop offset=".967" stop-color="#ff3c00"/><stop offset="1.000" stop-color="#ff2f00"/></linearGradient><linearGradient id="r306" gradientUnits="userSpaceOnUse" x1="332" x2="453" y1="0" y2="0"><stop offset=".000" stop-color="#00fff0"/><stop offset=".032" stop-color="#00ffef"/><stop offset=".065" stop-color="#00ffef"/><stop offset=".097" stop-color="#00ffee"/><stop offset=".129" stop-color="#00ffed"/><stop offset=".161" stop-color="#00ffed"/><stop offset=".194" stop-color="#00ffec"/><stop offset=".226" stop-color="#00ffeb"/><stop offset=".258" stop-color="#00ffeb"/><stop offset=".290" stop-color="#00ffea"/><stop offset=".323" stop-color="#00ffe9"/><stop offset=".355" stop-color="#58ffe8"/><stop offset=".387" stop-color="#91ffe7"/><stop offset=".419" stop-color="#baffe5"/><stop offset=".452" stop-color="#dcffe4"/><stop offset=".484" stop-color="#fcffe2"/><stop offset=".516" stop-color="#ffe7cb"/><stop offset=".548" stop-color="#ffd1b6"/><stop offset=".581" stop-color="#ffbea3"/><stop offset=".613" stop-color="#ffae94"/><stop offset=".645" stop-color="#ffa085"/><stop offset=".677" stop-color="#ff9378"/><stop offset=".710" stop-color="#ff876b"/><stop offset=".742" stop-color="#ff7c5f"/><stop offset=".774" stop-color="#ff7253"/><stop offset=".806" stop-color="#ff6847"/><stop offset=".839" stop-color="#ff5e39"/><stop offset=".871" stop-color="#ff542a"/><stop offset=".903" stop-color="#ff4a12"/><stop offset=".935" stop-color="#ff3f00"/><stop offset=".968" stop-color="#ff3300"/><stop offset="1.000" stop-color="#ff2600"/></linearGradient><linearGradient id="r307" gradientUnits="userSpaceOnUse" x1="332" x2="454" y1="0" y2="0"><stop offset=".000" stop-color="#00fff2"/><stop offset=".032" stop-color="#00fff2"/><stop offset=".065" stop-color="#00fff2"/><stop offset=".097" stop-color="#00fff1"/><stop offset=".129" stop-color="#00fff1"/><stop offset=".161" stop-color="#00fff0"/><stop offset=".194" stop-color="#00ffef"/><stop offset=".226" stop-color="#00ffef"/><stop offset=".258" stop-color="#00ffee"/><stop offset=".290" stop-color="#00ffed"/><stop offset=".323" stop-color="#00ffed"/><stop offset=".355" stop-color="#65ffec"/><stop offset=".387" stop-color="#9affeb"/><stop offset=".419" stop-color="#c2ffea"/><stop offset=".452" stop-color="#e4ffe9"/><stop offset=".484" stop-color="#fffae3"/><stop offset=".516" stop-color="#ffe0c9"/><stop offset=".548" stop-color="#ffcab4"/><stop offset=".581" stop-color="#ffb8a3"/><stop offset=".613" stop-color="#ffa893"/><stop offset=".645" stop-color="#ff9b85"/><stop offset=".677" stop-color="#ff8e78"/><stop offset=".710" stop-color="#ff826b"/><stop offset=".742" stop-color="#ff7760"/><stop offset=".774" stop-color="#ff6d54"/><stop offset=".806" stop-color="#ff6247"/><stop offset=".839" stop-color="#ff583a"/><stop offset=".871" stop-color="#ff4e2b"/><stop offset=".903" stop-color="#ff4315"/><stop offset=".935" stop-color="#ff3800"/><stop offset=".968" stop-color="#ff2a00"/><stop offset="1.000" stop-color="#ff1800"/></linearGradient><linearGradient id="r308" gradientUnits="userSpaceOnUse" x1="333" x2="455" y1="0" y2="0"><stop offset=".000" stop-color="#00fff5"/><stop offset=".032" stop-color="#00fff5"/><stop offset=".065" stop-color="#00fff4"/><stop offset=".097" stop-color="#00fff4"/><stop offset=".129" stop-color="#00fff4"/><stop offset=".161" stop-color="#00fff3"/><stop offset=".194" stop-color="#00fff3"/><stop offset=".226" stop-color="#00fff2"/><stop offset=".258" stop-color="#00fff2"/><stop offset=".290" stop-color="#00fff1"/><stop offset=".323" stop-color="#17fff1"/><stop offset=".355" stop-color="#7afff0"/><stop offset=".387" stop-color="#a9ffef"/><stop offset=".419" stop-color="#cfffee"/><stop offset=".452" stop-color="#f1ffed"/><stop offset=".484" stop-color="#ffeedd"/><stop offset=".516" stop-color="#ffd6c5"/><stop offset=".548" stop-color="#ffc2b1"/><stop offset=".581" stop-color="#ffb0a0"/><stop offset=".613" stop-color="#ffa191"/><stop offset=".645" stop-color="#ff9483"/><stop offset=".677" stop-color="#ff8877"/><stop offset=".710" stop-color="#ff7c6b"/><stop offset=".742" stop-color="#ff715f"/><stop offset=".774" stop-color="#ff6753"/><stop offset=".806" stop-color="#ff5c47"/><stop offset=".839" stop-color="#ff523a"/><stop offset=".871" stop-color="#ff472b"/><stop offset=".903" stop-color="#ff3c17"/><stop offset=".935" stop-color="#ff2f00"/><stop offset=".968" stop-color="#ff1f00"/><stop offset="1.000" stop-color="#ff0000"/></linearGradient><linearGradient id="r309" gradientUnits="userSpaceOnUse" x1="333" x2="456" y1="0" y2="0"><stop offset=".000" stop-color="#00fff8"/><stop offset=".032" stop-color="#00fff8"/><stop offset=".065" stop-color="#00fff7"/><stop offset=".097" stop-color="#00fff7"/><stop offset=".129" stop-color="#00fff7"/><stop offset=".161" stop-color="#00fff7"/><stop offset=".194" stop-color="#00fff6"/><stop offset=".226" stop-color="#00fff6"/><stop offset=".258" stop-color="#00fff6"/><stop offset=".290" stop-color="#00fff5"/><stop offset=".323" stop-color="#36fff5"/><stop offset=".355" stop-color="#84fff4"/><stop offset=".387" stop-color="#b2fff4"/><stop offset=".419" stop-color="#d8fff3"/><stop offset=".452" stop-color="#fafff2"/><stop offset=".484" stop-color="#ffe6da"/><stop offset=".516" stop-color="#ffcfc3"/><stop offset=".548" stop-color="#ffbbb0"/><stop offset=".581" stop-color="#ffab9f"/><stop offset=".613" stop-color="#ff9c90"/><stop offset=".645" stop-color="#ff8e83"/><stop offset=".677" stop-color="#ff8277"/><stop offset=".710" stop-color="#ff776b"/><stop offset=".742" stop-color="#ff6c5f"/><stop offset=".774" stop-color="#ff6154"/><stop offset=".806" stop-color="#ff5648"/><stop offset=".839" stop-color="#ff4c3b"/><stop offset=".871" stop-color="#ff402d"/><stop offset=".903" stop-color="#ff3419"/><stop offset=".935" stop-color="#ff2500"/><stop offset=".968" stop-color="#ff0c00"/><stop offset="1.000" stop-color="#ff0000"/></linearGradient><linearGradient id="r310" gradientUnits="userSpaceOnUse" x1="333" x2="457" y1="0" y2="0"><stop offset=".000" stop-color="#00fffb"/><stop offset=".032" stop-color="#00fffb"/><stop offset=".065" stop-color="#00fffb"/><stop offset=".097" stop-color="#00fffa"/><stop offset=".129" stop-color="#00fffa"/><stop offset=".161" stop-color="#00fffa"/><stop offset=".194" stop-color="#00fffa"/><stop offset=".226" stop-color="#00fffa"/><stop offset=".258" stop-color="#00fffa"/><stop offset=".290" stop-color="#00fff9"/><stop offset=".323" stop-color="#49fff9"/><stop offset=".355" stop-color="#8efff9"/><stop offset=".387" stop-color="#bbfff9"/><stop offset=".419" stop-color="#e0fff8"/><stop offset=".452" stop-color="#fffbf4"/><stop offset=".484" stop-color="#ffdfd8"/><stop offset=".516" stop-color="#ffc8c2"/><stop offset=".548" stop-color="#ffb5af"/><stop offset=".581" stop-color="#ffa59f"/><stop offset=".613" stop-color="#ff9690"/><stop offset=".645" stop-color="#ff8983"/><stop offset=".677" stop-color="#ff7d76"/><stop offset=".710" stop-color="#ff716b"/><stop offset=".742" stop-color="#ff665f"/><stop offset=".774" stop-color="#ff5b54"/><stop offset=".806" stop-color="#ff5048"/><stop offset=".839" stop-color="#ff453c"/><stop offset=".871" stop-color="#ff392e"/><stop offset=".903" stop-color="#ff2a1b"/><stop offset=".935" stop-color="#ff1600"/><stop offset=".968" stop-color="#ff0000"/><stop offset="1.000" stop-color="#ff0000"/></linearGradient><linearGradient id="r311" gradientUnits="userSpaceOnUse" x1="333" x2="458" y1="0" y2="0"><stop offset=".000" stop-color="#00fffe"/><stop offset=".031" stop-color="#00fffe"/><stop offset=".062" stop-color="#00fffe"/><stop offset=".094" stop-color="#00fffe"/><stop offset=".125" stop-color="#00fffe"/><stop offset=".156" stop-color="#00fffe"/><stop offset=".188" stop-color="#00fffe"/><stop offset=".219" stop-color="#00fffe"/><stop offset=".250" stop-color="#00fffe"/><stop offset=".281" stop-color="#00fffe"/><stop offset=".312" stop-color="#35fffe"/><stop offset=".344" stop-color="#85fffe"/><stop offset=".375" stop-color="#b4fffd"/><stop offset=".406" stop-color="#dafffd"/><stop offset=".438" stop-color="#fdfffd"/><stop offset=".469" stop-color="#ffe4e2"/><stop offset=".500" stop-color="#ffcccb"/><stop offset=".531" stop-color="#ffb8b7"/><stop offset=".562" stop-color="#ffa8a7"/><stop offset=".594" stop-color="#ff9998"/><stop offset=".625" stop-color="#ff8c8b"/><stop offset=".656" stop-color="#ff7f7e"/><stop offset=".688" stop-color="#ff7473"/><stop offset=".719" stop-color="#ff6968"/><stop offset=".750" stop-color="#ff5e5d"/><stop offset=".781" stop-color="#ff5352"/><stop offset=".812" stop-color="#ff4746"/><stop offset=".844" stop-color="#ff3c3a"/><stop offset=".875" stop-color="#ff2e2d"/><stop offset=".906" stop-color="#ff1c1a"/><stop offset=".938" stop-color="#ff0000"/><stop offset=".969" stop-color="#ff0000"/><stop offset="1.000" stop-color="#ff0000"/></linearGradient><linearGradient id="r312" gradientUnits="userSpaceOnUse" x1="333" x2="459" y1="0" y2="0"><stop offset=".000" stop-color="#00fdff"/><stop offset=".031" stop-color="#00fdff"/><stop offset=".062" stop-color="#00fdff"/><stop offset=".094" stop-color="#00fdff"/><stop offset=".125" stop-color="#00fdff"/><stop offset=".156" stop-color="#00fdff"/><stop offset=".188" stop-color="#00fdff"/><stop offset=".219" stop-color="#00fdff"/><stop offset=".250" stop-color="#00fcff"/><stop offset=".281" stop-color="#00fcff"/><stop offset=".312" stop-color="#47fcff"/><stop offset=".344" stop-color="#8dfcff"/><stop offset=".375" stop-color="#bafcff"/><stop offset=".406" stop-color="#dffbff"/><stop offset=".438" stop-color="#fff8fc"/><stop offset=".469" stop-color="#ffdce0"/><stop offset=".500" stop-color="#ffc5c9"/><stop offset=".531" stop-color="#ffb2b6"/><stop offset=".562" stop-color="#ffa2a6"/><stop offset=".594" stop-color="#ff9397"/><stop offset=".625" stop-color="#ff868a"/><stop offset=".656" stop-color="#ff7a7e"/><stop offset=".688" stop-color="#ff6e73"/><stop offset=".719" stop-color="#ff6368"/><stop offset=".750" stop-color="#ff585d"/><stop offset=".781" stop-color="#ff4c52"/><stop offset=".812" stop-color="#ff4047"/><stop offset=".844" stop-color="#ff333b"/><stop offset=".875" stop-color="#ff232e"/><stop offset=".906" stop-color="#ff061c"/><stop offset=".938" stop-color="#ff0000"/><stop offset=".969" stop-color="#ff0000"/><stop offset="1.000" stop-color="#ff0000"/></linearGradient><linearGradient id="r313" gradientUnits="userSpaceOnUse" x1="334" x2="460" y1="0" y2="0"><stop offset=".000" stop-color="#00faff"/><stop offset=".031" stop-color="#00faff"/><stop offset=".062" stop-color="#00faff"/><stop offset=".094" stop-color="#00faff"/><stop offset=".125" stop-color="#00f9ff"/><stop offset=".156" stop-color="#00f9ff"/><stop offset=".188" stop-color="#00f9ff"/><stop offset=".219" stop-color="#00f9ff"/><stop offset=".250" stop-color="#00f8ff"/><stop offset=".281" stop-color="#00f8ff"/><stop offset=".312" stop-color="#63f7ff"/><stop offset=".344" stop-color="#9bf7ff"/><stop offset=".375" stop-color="#c5f6ff"/><stop offset=".406" stop-color="#e8f6ff"/><stop offset=".438" stop-color="#ffecf5"/><stop offset=".469" stop-color="#ffd1db"/><stop offset=".500" stop-color="#ffbcc5"/><stop offset=".531" stop-color="#ffaab3"/><stop offset=".562" stop-color="#ff9aa3"/><stop offset=".594" stop-color="#ff8c95"/><stop offset=".625" stop-color="#ff7f89"/><stop offset=".656" stop-color="#ff737d"/><stop offset=".688" stop-color="#ff6772"/><stop offset=".719" stop-color="#ff5c67"/><stop offset=".750" stop-color="#ff515c"/><stop offset=".781" stop-color="#ff4552"/><stop offset=".812" stop-color="#ff3847"/><stop offset=".844" stop-color="#ff283b"/><stop offset=".875" stop-color="#ff122e"/><stop offset=".906" stop-color="#ff001d"/><stop offset=".938" stop-color="#ff0000"/><stop offset=".969" stop-color="#ff0000"/><stop offset="1.000" stop-color="#ff0000"/></linearGradient><linearGradient id="r314" gradientUnits="userSpaceOnUse" x1="334" x2="461" y1="0" y2="0"><stop offset=".000" stop-color="#00f7ff"/><stop offset=".031" stop-color="#00f7ff"/><stop offset=".062" stop-color="#00f7ff"/><stop offset=".094" stop-color="#00f6ff"/><stop offset=".125" stop-color="#00f6ff"/><stop offset=".156" stop-color="#00f6ff"/><stop offset=".188" stop-color="#00f5ff"/><stop offset=".219" stop-color="#00f5ff"/><stop offset=".250" stop-color="#00f4ff"/><stop offset=".281" stop-color="#00f4ff"/><stop offset=".312" stop-color="#6cf3ff"/><stop offset=".344" stop-color="#a1f2ff"/><stop offset=".375" stop-color="#c9f1ff"/><stop offset=".406" stop-color="#ecf0ff"/><stop offset=".438" stop-color="#ffe3f2"/><stop offset=".469" stop-color="#ffcad9"/><stop offset=".500" stop-color="#ffb6c4"/><stop offset=".531" stop-color="#ffa4b2"/><stop offset=".562" stop-color="#ff95a3"/><stop offset=".594" stop-color="#ff8795"/><stop offset=".625" stop-color="#ff7a88"/><stop offset=".656" stop-color="#ff6d7d"/><stop offset=".688" stop-color="#ff6272"/><stop offset=".719" stop-color="#ff5667"/><stop offset=".750" stop-color="#ff4a5d"/><stop offset=".781" stop-color="#ff3d52"/><stop offset=".812" stop-color="#ff2e47"/><stop offset=".844" stop-color="#ff1b3c"/><stop offset=".875" stop-color="#ff002f"/><stop offset=".906" stop-color="#ff001e"/><stop offset=".938" stop-color="#ff0000"/><stop offset=".969" stop-color="#ff0000"/><stop offset="1.000" stop-color="#ff0000"/></linearGradient><linearGradient id="r315" gradientUnits="userSpaceOnUse" x1="334" x2="462" y1="0" y2="0"><stop offset=".000" stop-color="#00f4ff"/><stop offset=".031" stop-color="#00f4ff"/><stop offset=".062" stop-color="#00f4ff"/><stop offset=".094" stop-color="#00f3ff"/><stop offset=".125" stop-color="#00f3ff"/><stop offset=".156" stop-color="#00f2ff"/><stop offset=".188" stop-color="#00f1ff"/><stop offset=".219" stop-color="#00f1ff"/><stop offset=".250" stop-color="#00f0ff"/><stop offset=".281" stop-color="#00efff"/><stop offset=".312" stop-color="#75eeff"/><stop offset=".344" stop-color="#a6edff"/><stop offset=".375" stop-color="#cdecff"/><stop offset=".406" stop-color="#efebff"/><stop offset=".438" stop-color="#ffdcf0"/><stop offset=".469" stop-color="#ffc3d7"/><stop offset=".500" stop-color="#ffafc2"/><stop offset=".531" stop-color="#ff9eb1"/><stop offset=".562" stop-color="#ff8fa2"/><stop offset=".594" stop-color="#ff8194"/><stop offset=".625" stop-color="#ff7488"/><stop offset=".656" stop-color="#ff677c"/><stop offset=".688" stop-color="#ff5b72"/><stop offset=".719" stop-color="#ff4f67"/><stop offset=".750" stop-color="#ff425d"/><stop offset=".781" stop-color="#ff3452"/><stop offset=".812" stop-color="#ff2348"/><stop offset=".844" stop-color="#ff033c"/><stop offset=".875" stop-color="#ff0030"/><stop offset=".906" stop-color="#ff0020"/><stop offset=".938" stop-color="#ff0003"/><stop offset=".969" stop-color="#ff0000"/><stop offset="1.000" stop-color="#ff0000"/></linearGradient><linearGradient id="r316" gradientUnits="userSpaceOnUse" x1="334" x2="463" y1="0" y2="0"><stop offset=".000" stop-color="#00f1ff"/><stop offset=".030" stop-color="#00f1ff"/><stop offset=".061" stop-color="#00f0ff"/><stop offset=".091" stop-color="#00f0ff"/><stop offset=".121" stop-color="#00efff"/><stop offset=".152" stop-color="#00efff"/><stop offset=".182" stop-color="#00eeff"/><stop offset=".212" stop-color="#00edff"/><stop offset=".242" stop-color="#00ecff"/><stop offset=".273" stop-color="#00ebff"/><stop offset=".303" stop-color="#6aeaff"/><stop offset=".333" stop-color="#9de9ff"/><stop offset=".364" stop-color="#c4e8ff"/><stop offset=".394" stop-color="#e5e6ff"/><stop offset=".424" stop-color="#ffe0fa"/><stop offset=".455" stop-color="#ffc7e0"/><stop offset=".485" stop-color="#ffb2ca"/><stop offset=".515" stop-color="#ffa0b9"/><stop offset=".545" stop-color="#ff91a9"/><stop offset=".576" stop-color="#ff839b"/><stop offset=".606" stop-color="#ff768f"/><stop offset=".636" stop-color="#ff6983"/><stop offset=".667" stop-color="#ff5d79"/><stop offset=".697" stop-color="#ff516e"/><stop offset=".727" stop-color="#ff4564"/><stop offset=".758" stop-color="#ff375a"/><stop offset=".788" stop-color="#ff2650"/><stop offset=".818" stop-color="#ff0b46"/><stop offset=".848" stop-color="#ff003b"/><stop offset=".879" stop-color="#ff002f"/><stop offset=".909" stop-color="#ff001f"/><stop offset=".939" stop-color="#ff0004"/><stop offset=".970" stop-color="#ff0000"/><stop offset="1.000" stop-color="#ff0000"/></linearGradient><linearGradient id="r317" gradientUnits="userSpaceOnUse" x1="334" x2="464" y1="0" y2="0"><stop offset=".000" stop-color="#00efff"/><stop offset=".030" stop-color="#00eeff"/><stop offset=".061" stop-color="#00edff"/><stop offset=".091" stop-color="#00edff"/><stop offset=".121" stop-color="#00ecff"/><stop offset=".152" stop-color="#00ebff"/><stop offset=".182" stop-color="#00eaff"/><stop offset=".212" stop-color="#00e9ff"/><stop offset=".242" stop-color="#00e8ff"/><stop offset=".273" stop-color="#00e7ff"/><stop offset=".303" stop-color="#72e6ff"/><stop offset=".333" stop-color="#a2e4ff"/><stop offset=".364" stop-color="#c8e3ff"/><stop offset=".394" stop-color="#e9e1ff"/><stop offset=".424" stop-color="#ffd8f7"/><stop offset=".455" stop-color="#ffc0de"/><stop offset=".485" stop-color="#ffacc9"/><stop offset=".515" stop-color="#ff9ab8"/><stop offset=".545" stop-color="#ff8ba8"/><stop offset=".576" stop-color="#ff7d9b"/><stop offset=".606" stop-color="#ff708f"/><stop offset=".636" stop-color="#ff6383"/><stop offset=".667" stop-color="#ff5779"/><stop offset=".697" stop-color="#ff4a6e"/><stop offset=".727" stop-color="#ff3d64"/><stop offset=".758" stop-color="#ff2d5b"/><stop offset=".788" stop-color="#ff1751"/><stop offset=".818" stop-color="#ff0047"/><stop offset=".848" stop-color="#ff003c"/><stop offset=".879" stop-color="#ff0030"/><stop offset=".909" stop-color="#ff0021"/><stop offset=".939" stop-color="#ff0007"/><stop offset=".970" stop-color="#ff0000"/><stop offset="1.000" stop-color="#ff0000"/></linearGradient><linearGradient id="r318" gradientUnits="userSpaceOnUse" x1="335" x2="465" y1="0" y2="0"><stop offset=".000" stop-color="#00ebff"/><stop offset=".030" stop-color="#00ebff"/><stop offset=".061" stop-color="#00eaff"/><stop offset=".091" stop-color="#00e9ff"/><stop offset=".121" stop-color="#00e8ff"/><stop offset=".152" stop-color="#00e7ff"/><stop offset=".182" stop-color="#00e6ff"/><stop offset=".212" stop-color="#00e5ff"/><stop offset=".242" stop-color="#00e4ff"/><stop offset=".273" stop-color="#3de2ff"/><stop offset=".303" stop-color="#82e1ff"/><stop offset=".333" stop-color="#addfff"/><stop offset=".364" stop-color="#d1ddff"/><stop offset=".394" stop-color="#f0dbff"/><stop offset=".424" stop-color="#ffccf0"/><stop offset=".455" stop-color="#ffb6d9"/><stop offset=".485" stop-color="#ffa3c5"/><stop offset=".515" stop-color="#ff92b5"/><stop offset=".545" stop-color="#ff83a6"/><stop offset=".576" stop-color="#ff7699"/><stop offset=".606" stop-color="#ff688d"/><stop offset=".636" stop-color="#ff5c82"/><stop offset=".667" stop-color="#ff4f78"/><stop offset=".697" stop-color="#ff416e"/><stop offset=".727" stop-color="#ff3264"/><stop offset=".758" stop-color="#ff1f5a"/><stop offset=".788" stop-color="#ff0050"/><stop offset=".818" stop-color="#ff0046"/><stop offset=".848" stop-color="#ff003c"/><stop offset=".879" stop-color="#ff0030"/><stop offset=".909" stop-color="#ff0021"/><stop offset=".939" stop-color="#ff0009"/><stop offset=".970" stop-color="#ff0000"/><stop offset="1.000" stop-color="#ff0000"/></linearGradient><linearGradient id="r319" gradientUnits="userSpaceOnUse" x1="335" x2="466" y1="0" y2="0"><stop offset=".000" stop-color="#00e9ff"/><stop offset=".030" stop-color="#00e8ff"/><stop offset=".061" stop-color="#00e7ff"/><stop offset=".091" stop-color="#00e6ff"/><stop offset=".121" stop-color="#00e5ff"/><stop offset=".152" stop-color="#00e4ff"/><stop offset=".182" stop-color="#00e2ff"/><stop offset=".212" stop-color="#00e1ff"/><stop offset=".242" stop-color="#00e0ff"/><stop offset=".273" stop-color="#4adeff"/><stop offset=".303" stop-color="#88dcff"/><stop offset=".333" stop-color="#b2daff"/><stop offset=".364" stop-color="#d4d8ff"/><stop offset=".394" stop-color="#f3d6ff"/><stop offset=".424" stop-color="#ffc5ee"/><stop offset=".455" stop-color="#ffafd7"/><stop offset=".485" stop-color="#ff9cc4"/><stop offset=".515" stop-color="#ff8cb4"/><stop offset=".545" stop-color="#ff7da6"/><stop offset=".576" stop-color="#ff6f99"/><stop offset=".606" stop-color="#ff628d"/><stop offset=".636" stop-color="#ff5582"/><stop offset=".667" stop-color="#ff4877"/><stop offset=".697" stop-color="#ff396e"/><stop offset=".727" stop-color="#ff2764"/><stop offset=".758" stop-color="#ff0a5a"/><stop offset=".788" stop-color="#ff0051"/><stop offset=".818" stop-color="#ff0047"/><stop offset=".848" stop-color="#ff003c"/><stop offset=".879" stop-color="#ff0031"/><stop offset=".909" stop-color="#ff0023"/><stop offset=".939" stop-color="#ff000c"/><stop offset=".970" stop-color="#ff0000"/><stop offset="1.000" stop-color="#ff0000"/></linearGradient><linearGradient id="r320" gradientUnits="userSpaceOnUse" x1="335" x2="467" y1="0" y2="0"><stop offset=".000" stop-color="#00e6ff"/><stop offset=".030" stop-color="#00e5ff"/><stop offset=".061" stop-color="#00e4ff"/><stop offset=".091" stop-color="#00e3ff"/><stop offset=".121" stop-color="#00e1ff"/><stop offset=".152" stop-color="#00e0ff"/><stop offset=".182" stop-color="#00dfff"/><stop offset=".212" stop-color="#00ddff"/><stop offset=".242" stop-color="#00dcff"/><stop offset=".273" stop-color="#55daff"/><stop offset=".303" stop-color="#8ed8ff"/><stop offset=".333" stop-color="#b6d6ff"/><stop offset=".364" stop-color="#d7d3ff"/><stop offset=".394" stop-color="#f6d0ff"/><stop offset=".424" stop-color="#ffbeec"/><stop offset=".455" stop-color="#ffa8d6"/><stop offset=".485" stop-color="#ff96c3"/><stop offset=".515" stop-color="#ff86b3"/><stop offset=".545" stop-color="#ff77a5"/><stop offset=".576" stop-color="#ff6998"/><stop offset=".606" stop-color="#ff5c8d"/><stop offset=".636" stop-color="#ff4e82"/><stop offset=".667" stop-color="#ff3f77"/><stop offset=".697" stop-color="#ff2f6e"/><stop offset=".727" stop-color="#ff1864"/><stop offset=".758" stop-color="#ff005b"/><stop offset=".788" stop-color="#ff0051"/><stop offset=".818" stop-color="#ff0047"/><stop offset=".848" stop-color="#ff003d"/><stop offset=".879" stop-color="#ff0031"/><stop offset=".909" stop-color="#ff0024"/><stop offset=".939" stop-color="#ff000f"/><stop offset=".970" stop-color="#ff0000"/><stop offset="1.000" stop-color="#ff0000"/></linearGradient><linearGradient id="r321" gradientUnits="userSpaceOnUse" x1="335" x2="468" y1="0" y2="0"><stop offset=".000" stop-color="#00e3ff"/><stop offset=".029" stop-color="#00e2ff"/><stop offset=".059" stop-color="#00e1ff"/><stop offset=".088" stop-color="#00dfff"/><stop offset=".118" stop-color="#00deff"/><stop offset=".147" stop-color="#00ddff"/><stop offset=".176" stop-color="#00dbff"/><stop offset=".206" stop-color="#00daff"/><stop offset=".235" stop-color="#00d8ff"/><stop offset=".265" stop-color="#4ad6ff"/><stop offset=".294" stop-color="#86d4ff"/><stop offset=".324" stop-color="#aed2ff"/><stop offset=".353" stop-color="#cfcfff"/><stop offset=".382" stop-color="#edccff"/><stop offset=".412" stop-color="#ffc0f5"/><stop offset=".441" stop-color="#ffaadd"/><stop offset=".471" stop-color="#ff98ca"/><stop offset=".500" stop-color="#ff88ba"/><stop offset=".529" stop-color="#ff79ac"/><stop offset=".559" stop-color="#ff6a9f"/><stop offset=".588" stop-color="#ff5d93"/><stop offset=".618" stop-color="#ff4f88"/><stop offset=".647" stop-color="#ff417e"/><stop offset=".676" stop-color="#ff3174"/><stop offset=".706" stop-color="#ff1b6b"/><stop offset=".735" stop-color="#ff0062"/><stop offset=".765" stop-color="#ff0059"/><stop offset=".794" stop-color="#ff004f"/><stop offset=".824" stop-color="#ff0046"/><stop offset=".853" stop-color="#ff003c"/><stop offset=".882" stop-color="#ff0031"/><stop offset=".912" stop-color="#ff0023"/><stop offset=".941" stop-color="#ff000f"/><stop offset=".971" stop-color="#ff0000"/><stop offset="1.000" stop-color="#ff0000"/></linearGradient><linearGradient id="r322" gradientUnits="userSpaceOnUse" x1="336" x2="469" y1="0" y2="0"><stop offset=".000" stop-color="#00e0ff"/><stop offset=".029" stop-color="#00deff"/><stop offset=".059" stop-color="#00ddff"/><stop offset=".088" stop-color="#00dcff"/><stop offset=".118" stop-color="#00daff"/><stop offset=".147" stop-color="#00d9ff"/><stop offset=".176" stop-color="#00d7ff"/><stop offset=".206" stop-color="#00d5ff"/><stop offset=".235" stop-color="#00d3ff"/><stop offset=".265" stop-color="#61d1ff"/><stop offset=".294" stop-color="#93cfff"/><stop offset=".324" stop-color="#b8ccff"/><stop offset=".353" stop-color="#d8c9ff"/><stop offset=".382" stop-color="#f5c6ff"/><stop offset=".412" stop-color="#ffb5ef"/><stop offset=".441" stop-color="#ffa1d9"/><stop offset=".471" stop-color="#ff8fc7"/><stop offset=".500" stop-color="#ff7fb7"/><stop offset=".529" stop-color="#ff70a9"/><stop offset=".559" stop-color="#ff629d"/><stop offset=".588" stop-color="#ff5491"/><stop offset=".618" stop-color="#ff4687"/><stop offset=".647" stop-color="#ff367d"/><stop offset=".676" stop-color="#ff2273"/><stop offset=".706" stop-color="#ff006a"/><stop offset=".735" stop-color="#ff0061"/><stop offset=".765" stop-color="#ff0058"/><stop offset=".794" stop-color="#ff004f"/><stop offset=".824" stop-color="#ff0046"/><stop offset=".853" stop-color="#ff003c"/><stop offset=".882" stop-color="#ff0031"/><stop offset=".912" stop-color="#ff0024"/><stop offset=".941" stop-color="#ff0011"/><stop offset=".971" stop-color="#ff0000"/><stop offset="1.000" stop-color="#ff0000"/></linearGradient><linearGradient id="r323" gradientUnits="userSpaceOnUse" x1="336" x2="470" y1="0" y2="0"><stop offset=".000" stop-color="#00ddff"/><stop offset=".029" stop-color="#00dbff"/><stop offset=".059" stop-color="#00daff"/><stop offset=".088" stop-color="#00d9ff"/><stop offset=".118" stop-color="#00d7ff"/><stop offset=".147" stop-color="#00d5ff"/><stop offset=".176" stop-color="#00d4ff"/><stop offset=".206" stop-color="#00d2ff"/><stop offset=".235" stop-color="#00cfff"/><stop offset=".265" stop-color="#69cdff"/><stop offset=".294" stop-color="#98caff"/><stop offset=".324" stop-color="#bbc7ff"/><stop offset=".353" stop-color="#dbc4ff"/><stop offset=".382" stop-color="#f7c0ff"/><stop offset=".412" stop-color="#ffaeed"/><stop offset=".441" stop-color="#ff9ad8"/><stop offset=".471" stop-color="#ff89c6"/><stop offset=".500" stop-color="#ff79b6"/><stop offset=".529" stop-color="#ff6aa9"/><stop offset=".559" stop-color="#ff5b9c"/><stop offset=".588" stop-color="#ff4d91"/><stop offset=".618" stop-color="#ff3d87"/><stop offset=".647" stop-color="#ff2b7d"/><stop offset=".676" stop-color="#ff0f73"/><stop offset=".706" stop-color="#ff006a"/><stop offset=".735" stop-color="#ff0061"/><stop offset=".765" stop-color="#ff0058"/><stop offset=".794" stop-color="#ff004f"/><stop offset=".824" stop-color="#ff0046"/><stop offset=".853" stop-color="#ff003c"/><stop offset=".882" stop-color="#ff0032"/><stop offset=".912" stop-color="#ff0025"/><stop offset=".941" stop-color="#ff0013"/><stop offset=".971" stop-color="#ff0000"/><stop offset="1.000" stop-color="#ff0000"/></linearGradient><linearGradient id="r324" gradientUnits="userSpaceOnUse" x1="336" x2="468" y1="0" y2="0"><stop offset=".000" stop-color="#00daff"/><stop offset=".030" stop-color="#00d8ff"/><stop offset=".061" stop-color="#00d7ff"/><stop offset=".091" stop-color="#00d5ff"/><stop offset=".121" stop-color="#00d4ff"/><stop offset=".152" stop-color="#00d2ff"/><stop offset=".182" stop-color="#00d0ff"/><stop offset=".212" stop-color="#00cdff"/><stop offset=".242" stop-color="#1ccbff"/><stop offset=".273" stop-color="#73c8ff"/><stop offset=".303" stop-color="#9fc5ff"/><stop offset=".333" stop-color="#c1c2ff"/><stop offset=".364" stop-color="#e0beff"/><stop offset=".394" stop-color="#fcbaff"/><stop offset=".424" stop-color="#ffa5e9"/><stop offset=".455" stop-color="#ff91d4"/><stop offset=".485" stop-color="#ff80c3"/><stop offset=".515" stop-color="#ff70b4"/><stop offset=".545" stop-color="#ff61a6"/><stop offset=".576" stop-color="#ff529a"/><stop offset=".606" stop-color="#ff428f"/><stop offset=".636" stop-color="#ff3085"/><stop offset=".667" stop-color="#ff177b"/><stop offset=".697" stop-color="#ff0072"/><stop offset=".727" stop-color="#ff0069"/><stop offset=".758" stop-color="#ff0060"/><stop offset=".788" stop-color="#ff0057"/><stop offset=".818" stop-color="#ff004e"/><stop offset=".848" stop-color="#ff0045"/><stop offset=".879" stop-color="#ff003b"/><stop offset=".909" stop-color="#ff0030"/><stop offset=".939" stop-color="#ff0022"/><stop offset=".970" stop-color="#ff000e"/><stop offset="1.000" stop-color="#ff0000"/></linearGradient><linearGradient id="r325" gradientUnits="userSpaceOnUse" x1="336" x2="466" y1="0" y2="0"><stop offset=".000" stop-color="#00d7ff"/><stop offset=".030" stop-color="#00d5ff"/><stop offset=".061" stop-color="#00d4ff"/><stop offset=".091" stop-color="#00d2ff"/><stop offset=".121" stop-color="#00d0ff"/><stop offset=".152" stop-color="#00ceff"/><stop offset=".182" stop-color="#00ccff"/><stop offset=".212" stop-color="#00caff"/><stop offset=".242" stop-color="#0bc7ff"/><stop offset=".273" stop-color="#6fc5ff"/><stop offset=".303" stop-color="#9ac1ff"/><stop offset=".333" stop-color="#bdbeff"/><stop offset=".364" stop-color="#dbbaff"/><stop offset=".394" stop-color="#f7b6ff"/><stop offset=".424" stop-color="#ffa5ee"/><stop offset=".455" stop-color="#ff91d9"/><stop offset=".485" stop-color="#ff7fc8"/><stop offset=".515" stop-color="#ff6fb8"/><stop offset=".545" stop-color="#ff60ab"/><stop offset=".576" stop-color="#ff519f"/><stop offset=".606" stop-color="#ff4194"/><stop offset=".636" stop-color="#ff2e89"/><stop offset=".667" stop-color="#ff1380"/><stop offset=".697" stop-color="#ff0076"/><stop offset=".727" stop-color="#ff006d"/><stop offset=".758" stop-color="#ff0065"/><stop offset=".788" stop-color="#ff005c"/><stop offset=".818" stop-color="#ff0054"/><stop offset=".848" stop-color="#ff004b"/><stop offset=".879" stop-color="#ff0042"/><stop offset=".909" stop-color="#ff0038"/><stop offset=".939" stop-color="#ff002d"/><stop offset=".970" stop-color="#ff001f"/><stop offset="1.000" stop-color="#ff0008"/></linearGradient><linearGradient id="r326" gradientUnits="userSpaceOnUse" x1="336" x2="464" y1="0" y2="0"><stop offset=".000" stop-color="#00d4ff"/><stop offset=".031" stop-color="#00d2ff"/><stop offset=".062" stop-color="#00d1ff"/><stop offset=".094" stop-color="#00cfff"/><stop offset=".125" stop-color="#00cdff"/><stop offset=".156" stop-color="#00cbff"/><stop offset=".188" stop-color="#00c8ff"/><stop offset=".219" stop-color="#00c6ff"/><stop offset=".250" stop-color="#32c3ff"/><stop offset=".281" stop-color="#78c0ff"/><stop offset=".312" stop-color="#a1bcff"/><stop offset=".344" stop-color="#c3b9ff"/><stop offset=".375" stop-color="#e0b4ff"/><stop offset=".406" stop-color="#fcafff"/><stop offset=".438" stop-color="#ff9bea"/><stop offset=".469" stop-color="#ff88d6"/><stop offset=".500" stop-color="#ff76c5"/><stop offset=".531" stop-color="#ff66b6"/><stop offset=".562" stop-color="#ff56a9"/><stop offset=".594" stop-color="#ff469d"/><stop offset=".625" stop-color="#ff3492"/><stop offset=".656" stop-color="#ff1b87"/><stop offset=".688" stop-color="#ff007e"/><stop offset=".719" stop-color="#ff0075"/><stop offset=".750" stop-color="#ff006c"/><stop offset=".781" stop-color="#ff0063"/><stop offset=".812" stop-color="#ff005b"/><stop offset=".844" stop-color="#ff0052"/><stop offset=".875" stop-color="#ff0049"/><stop offset=".906" stop-color="#ff0040"/><stop offset=".938" stop-color="#ff0036"/><stop offset=".969" stop-color="#ff002a"/><stop offset="1.000" stop-color="#ff001c"/></linearGradient><linearGradient id="r327" gradientUnits="userSpaceOnUse" x1="337" x2="462" y1="0" y2="0"><stop offset=".000" stop-color="#00d1ff"/><stop offset=".031" stop-color="#00cfff"/><stop offset=".062" stop-color="#00cdff"/><stop offset=".094" stop-color="#00cbff"/><stop offset=".125" stop-color="#00c9ff"/><stop offset=".156" stop-color="#00c7ff"/><stop offset=".188" stop-color="#00c4ff"/><stop offset=".219" stop-color="#00c2ff"/><stop offset=".250" stop-color="#40bfff"/><stop offset=".281" stop-color="#7cbcff"/><stop offset=".312" stop-color="#a3b8ff"/><stop offset=".344" stop-color="#c3b4ff"/><stop offset=".375" stop-color="#e0afff"/><stop offset=".406" stop-color="#faaaff"/><stop offset=".438" stop-color="#ff98ec"/><stop offset=".469" stop-color="#ff85d8"/><stop offset=".500" stop-color="#ff73c7"/><stop offset=".531" stop-color="#ff63b9"/><stop offset=".562" stop-color="#ff53ac"/><stop offset=".594" stop-color="#ff43a0"/><stop offset=".625" stop-color="#ff3095"/><stop offset=".656" stop-color="#ff148b"/><stop offset=".688" stop-color="#ff0082"/><stop offset=".719" stop-color="#ff0079"/><stop offset=".750" stop-color="#ff0070"/><stop offset=".781" stop-color="#ff0068"/><stop offset=".812" stop-color="#ff005f"/><stop offset=".844" stop-color="#ff0057"/><stop offset=".875" stop-color="#ff004f"/><stop offset=".906" stop-color="#ff0046"/><stop offset=".938" stop-color="#ff003d"/><stop offset=".969" stop-color="#ff0033"/><stop offset="1.000" stop-color="#ff0028"/></linearGradient><linearGradient id="r328" gradientUnits="userSpaceOnUse" x1="337" x2="460" y1="0" y2="0"><stop offset=".000" stop-color="#00ceff"/><stop offset=".032" stop-color="#00ccff"/><stop offset=".065" stop-color="#00caff"/><stop offset=".097" stop-color="#00c8ff"/><stop offset=".129" stop-color="#00c6ff"/><stop offset=".161" stop-color="#00c3ff"/><stop offset=".194" stop-color="#00c0ff"/><stop offset=".226" stop-color="#00beff"/><stop offset=".258" stop-color="#4fbaff"/><stop offset=".290" stop-color="#85b7ff"/><stop offset=".323" stop-color="#aab3ff"/><stop offset=".355" stop-color="#c9aeff"/><stop offset=".387" stop-color="#e5a9ff"/><stop offset=".419" stop-color="#ffa3ff"/><stop offset=".452" stop-color="#ff8ee8"/><stop offset=".484" stop-color="#ff7bd5"/><stop offset=".516" stop-color="#ff6ac4"/><stop offset=".548" stop-color="#ff59b6"/><stop offset=".581" stop-color="#ff48a9"/><stop offset=".613" stop-color="#ff369e"/><stop offset=".645" stop-color="#ff1c93"/><stop offset=".677" stop-color="#ff0089"/><stop offset=".710" stop-color="#ff0080"/><stop offset=".742" stop-color="#ff0077"/><stop offset=".774" stop-color="#ff006e"/><stop offset=".806" stop-color="#ff0066"/><stop offset=".839" stop-color="#ff005e"/><stop offset=".871" stop-color="#ff0055"/><stop offset=".903" stop-color="#ff004d"/><stop offset=".935" stop-color="#ff0044"/><stop offset=".968" stop-color="#ff003b"/><stop offset="1.000" stop-color="#ff0031"/></linearGradient><linearGradient id="r329" gradientUnits="userSpaceOnUse" x1="337" x2="458" y1="0" y2="0"><stop offset=".000" stop-color="#00cbff"/><stop offset=".032" stop-color="#00c9ff"/><stop offset=".065" stop-color="#00c7ff"/><stop offset=".097" stop-color="#00c5ff"/><stop offset=".129" stop-color="#00c2ff"/><stop offset=".161" stop-color="#00c0ff"/><stop offset=".194" stop-color="#00bdff"/><stop offset=".226" stop-color="#00baff"/><stop offset=".258" stop-color="#4ab7ff"/><stop offset=".290" stop-color="#81b3ff"/><stop offset=".323" stop-color="#a5afff"/><stop offset=".355" stop-color="#c4aaff"/><stop offset=".387" stop-color="#e0a5ff"/><stop offset=".419" stop-color="#f99fff"/><stop offset=".452" stop-color="#ff8ded"/><stop offset=".484" stop-color="#ff7ada"/><stop offset=".516" stop-color="#ff69c9"/><stop offset=".548" stop-color="#ff58bb"/><stop offset=".581" stop-color="#ff47ae"/><stop offset=".613" stop-color="#ff33a2"/><stop offset=".645" stop-color="#ff1898"/><stop offset=".677" stop-color="#ff008e"/><stop offset=".710" stop-color="#ff0084"/><stop offset=".742" stop-color="#ff007c"/><stop offset=".774" stop-color="#ff0073"/><stop offset=".806" stop-color="#ff006b"/><stop offset=".839" stop-color="#ff0063"/><stop offset=".871" stop-color="#ff005b"/><stop offset=".903" stop-color="#ff0053"/><stop offset=".935" stop-color="#ff004b"/><stop offset=".968" stop-color="#ff0042"/><stop offset="1.000" stop-color="#ff0039"/></linearGradient><linearGradient id="r330" gradientUnits="userSpaceOnUse" x1="337" x2="455" y1="0" y2="0"><stop offset=".000" stop-color="#00c8ff"/><stop offset=".033" stop-color="#00c6ff"/><stop offset=".067" stop-color="#00c4ff"/><stop offset=".100" stop-color="#00c1ff"/><stop offset=".133" stop-color="#00bfff"/><stop offset=".167" stop-color="#00bcff"/><stop offset=".200" stop-color="#00b9ff"/><stop offset=".233" stop-color="#00b6ff"/><stop offset=".267" stop-color="#53b2ff"/><stop offset=".300" stop-color="#85aeff"/><stop offset=".333" stop-color="#a9aaff"/><stop offset=".367" stop-color="#c7a5ff"/><stop offset=".400" stop-color="#e29fff"/><stop offset=".433" stop-color="#fc99ff"/><stop offset=".467" stop-color="#ff86eb"/><stop offset=".500" stop-color="#ff73d8"/><stop offset=".533" stop-color="#ff61c8"/><stop offset=".567" stop-color="#ff4fba"/><stop offset=".600" stop-color="#ff3cad"/><stop offset=".633" stop-color="#ff25a2"/><stop offset=".667" stop-color="#ff0097"/><stop offset=".700" stop-color="#ff008d"/><stop offset=".733" stop-color="#ff0084"/><stop offset=".767" stop-color="#ff007b"/><stop offset=".800" stop-color="#ff0073"/><stop offset=".833" stop-color="#ff006b"/><stop offset=".867" stop-color="#ff0063"/><stop offset=".900" stop-color="#ff005b"/><stop offset=".933" stop-color="#ff0053"/><stop offset=".967" stop-color="#ff004b"/><stop offset="1.000" stop-color="#ff0042"/></linearGradient><linearGradient id="r331" gradientUnits="userSpaceOnUse" x1="338" x2="453" y1="0" y2="0"><stop offset=".000" stop-color="#00c4ff"/><stop offset=".034" stop-color="#00c2ff"/><stop offset=".069" stop-color="#00c0ff"/><stop offset=".103" stop-color="#00bdff"/><stop offset=".138" stop-color="#00bbff"/><stop offset=".172" stop-color="#00b8ff"/><stop offset=".207" stop-color="#00b4ff"/><stop offset=".241" stop-color="#01b1ff"/><stop offset=".276" stop-color="#69adff"/><stop offset=".310" stop-color="#94a9ff"/><stop offset=".345" stop-color="#b4a4ff"/><stop offset=".379" stop-color="#d19eff"/><stop offset=".414" stop-color="#eb98ff"/><stop offset=".448" stop-color="#ff8dfa"/><stop offset=".483" stop-color="#ff79e5"/><stop offset=".517" stop-color="#ff66d3"/><stop offset=".552" stop-color="#ff54c3"/><stop offset=".586" stop-color="#ff41b6"/><stop offset=".621" stop-color="#ff2aaa"/><stop offset=".655" stop-color="#ff009e"/><stop offset=".690" stop-color="#ff0094"/><stop offset=".724" stop-color="#ff008b"/><stop offset=".759" stop-color="#ff0082"/><stop offset=".793" stop-color="#ff0079"/><stop offset=".828" stop-color="#ff0071"/><stop offset=".862" stop-color="#ff0069"/><stop offset=".897" stop-color="#ff0061"/><stop offset=".931" stop-color="#ff0059"/><stop offset=".966" stop-color="#ff0051"/><stop offset="1.000" stop-color="#ff0049"/></linearGradient><linearGradient id="r332" gradientUnits="userSpaceOnUse" x1="338" x2="451" y1="0" y2="0"><stop offset=".000" stop-color="#00c2ff"/><stop offset=".034" stop-color="#00bfff"/><stop offset=".069" stop-color="#00bdff"/><stop offset=".103" stop-color="#00baff"/><stop offset=".138" stop-color="#00b7ff"/><stop offset=".172" stop-color="#00b4ff"/><stop offset=".207" stop-color="#00b1ff"/><stop offset=".241" stop-color="#00adff"/><stop offset=".276" stop-color="#65a9ff"/><stop offset=".310" stop-color="#8fa5ff"/><stop offset=".345" stop-color="#b0a0ff"/><stop offset=".379" stop-color="#cc9aff"/><stop offset=".414" stop-color="#e693ff"/><stop offset=".448" stop-color="#fe8cff"/><stop offset=".483" stop-color="#ff78ea"/><stop offset=".517" stop-color="#ff65d8"/><stop offset=".552" stop-color="#ff52c8"/><stop offset=".586" stop-color="#ff3eba"/><stop offset=".621" stop-color="#ff26ae"/><stop offset=".655" stop-color="#ff00a3"/><stop offset=".690" stop-color="#ff0099"/><stop offset=".724" stop-color="#ff008f"/><stop offset=".759" stop-color="#ff0086"/><stop offset=".793" stop-color="#ff007e"/><stop offset=".828" stop-color="#ff0075"/><stop offset=".862" stop-color="#ff006e"/><stop offset=".897" stop-color="#ff0066"/><stop offset=".931" stop-color="#ff005e"/><stop offset=".966" stop-color="#ff0056"/><stop offset="1.000" stop-color="#ff004f"/></linearGradient><linearGradient id="r333" gradientUnits="userSpaceOnUse" x1="338" x2="449" y1="0" y2="0"><stop offset=".000" stop-color="#00bfff"/><stop offset=".036" stop-color="#00bcff"/><stop offset=".071" stop-color="#00baff"/><stop offset=".107" stop-color="#00b7ff"/><stop offset=".143" stop-color="#00b4ff"/><stop offset=".179" stop-color="#00b0ff"/><stop offset=".214" stop-color="#00adff"/><stop offset=".250" stop-color="#25a9ff"/><stop offset=".286" stop-color="#6ea4ff"/><stop offset=".321" stop-color="#969fff"/><stop offset=".357" stop-color="#b69aff"/><stop offset=".393" stop-color="#d294ff"/><stop offset=".429" stop-color="#eb8cff"/><stop offset=".464" stop-color="#ff81fb"/><stop offset=".500" stop-color="#ff6de6"/><stop offset=".536" stop-color="#ff59d4"/><stop offset=".571" stop-color="#ff45c5"/><stop offset=".607" stop-color="#ff2eb8"/><stop offset=".643" stop-color="#ff01ac"/><stop offset=".679" stop-color="#ff00a1"/><stop offset=".714" stop-color="#ff0096"/><stop offset=".750" stop-color="#ff008d"/><stop offset=".786" stop-color="#ff0084"/><stop offset=".821" stop-color="#ff007c"/><stop offset=".857" stop-color="#ff0073"/><stop offset=".893" stop-color="#ff006c"/><stop offset=".929" stop-color="#ff0064"/><stop offset=".964" stop-color="#ff005c"/><stop offset="1.000" stop-color="#ff0054"/></linearGradient><linearGradient id="r334" gradientUnits="userSpaceOnUse" x1="339" x2="447" y1="0" y2="0"><stop offset=".000" stop-color="#00bbff"/><stop offset=".037" stop-color="#00b8ff"/><stop offset=".074" stop-color="#00b6ff"/><stop offset=".111" stop-color="#00b3ff"/><stop offset=".148" stop-color="#00afff"/><stop offset=".185" stop-color="#00acff"/><stop offset=".222" stop-color="#00a8ff"/><stop offset=".259" stop-color="#4ba3ff"/><stop offset=".296" stop-color="#7f9eff"/><stop offset=".333" stop-color="#a399ff"/><stop offset=".370" stop-color="#c093ff"/><stop offset=".407" stop-color="#db8cff"/><stop offset=".444" stop-color="#f483ff"/><stop offset=".481" stop-color="#ff73f3"/><stop offset=".519" stop-color="#ff5fdf"/><stop offset=".556" stop-color="#ff4acf"/><stop offset=".593" stop-color="#ff33c0"/><stop offset=".630" stop-color="#ff0db3"/><stop offset=".667" stop-color="#ff00a8"/><stop offset=".704" stop-color="#ff009d"/><stop offset=".741" stop-color="#ff0093"/><stop offset=".778" stop-color="#ff008a"/><stop offset=".815" stop-color="#ff0081"/><stop offset=".852" stop-color="#ff0079"/><stop offset=".889" stop-color="#ff0071"/><stop offset=".926" stop-color="#ff0069"/><stop offset=".963" stop-color="#ff0062"/><stop offset="1.000" stop-color="#ff005a"/></linearGradient><linearGradient id="r335" gradientUnits="userSpaceOnUse" x1="339" x2="445" y1="0" y2="0"><stop offset=".000" stop-color="#00b8ff"/><stop offset=".037" stop-color="#00b5ff"/><stop offset=".074" stop-color="#00b3ff"/><stop offset=".111" stop-color="#00afff"/><stop offset=".148" stop-color="#00acff"/><stop offset=".185" stop-color="#00a8ff"/><stop offset=".222" stop-color="#00a4ff"/><stop offset=".259" stop-color="#46a0ff"/><stop offset=".296" stop-color="#7b9bff"/><stop offset=".333" stop-color="#9e95ff"/><stop offset=".370" stop-color="#bc8fff"/><stop offset=".407" stop-color="#d688ff"/><stop offset=".444" stop-color="#ee7fff"/><stop offset=".481" stop-color="#ff72f9"/><stop offset=".519" stop-color="#ff5de5"/><stop offset=".556" stop-color="#ff48d4"/><stop offset=".593" stop-color="#ff2fc5"/><stop offset=".630" stop-color="#ff01b8"/><stop offset=".667" stop-color="#ff00ad"/><stop offset=".704" stop-color="#ff00a2"/><stop offset=".741" stop-color="#ff0098"/><stop offset=".778" stop-color="#ff008f"/><stop offset=".815" stop-color="#ff0086"/><stop offset=".852" stop-color="#ff007e"/><stop offset=".889" stop-color="#ff0076"/><stop offset=".926" stop-color="#ff006e"/><stop offset=".963" stop-color="#ff0067"/><stop offset="1.000" stop-color="#ff005f"/></linearGradient><linearGradient id="r336" gradientUnits="userSpaceOnUse" x1="339" x2="442" y1="0" y2="0"><stop offset=".000" stop-color="#00b5ff"/><stop offset=".038" stop-color="#00b2ff"/><stop offset=".077" stop-color="#00afff"/><stop offset=".115" stop-color="#00acff"/><stop offset=".154" stop-color="#00a8ff"/><stop offset=".192" stop-color="#00a4ff"/><stop offset=".231" stop-color="#00a0ff"/><stop offset=".269" stop-color="#4f9bff"/><stop offset=".308" stop-color="#8096ff"/><stop offset=".346" stop-color="#a290ff"/><stop offset=".385" stop-color="#bf89ff"/><stop offset=".423" stop-color="#d981ff"/><stop offset=".462" stop-color="#f178ff"/><stop offset=".500" stop-color="#ff68f6"/><stop offset=".538" stop-color="#ff52e3"/><stop offset=".577" stop-color="#ff3bd2"/><stop offset=".615" stop-color="#ff1bc4"/><stop offset=".654" stop-color="#ff00b7"/><stop offset=".692" stop-color="#ff00ac"/><stop offset=".731" stop-color="#ff00a1"/><stop offset=".769" stop-color="#ff0097"/><stop offset=".808" stop-color="#ff008e"/><stop offset=".846" stop-color="#ff0086"/><stop offset=".885" stop-color="#ff007d"/><stop offset=".923" stop-color="#ff0075"/><stop offset=".962" stop-color="#ff006e"/><stop offset="1.000" stop-color="#ff0066"/></linearGradient><linearGradient id="r337" gradientUnits="userSpaceOnUse" x1="339" x2="440" y1="0" y2="0"><stop offset=".000" stop-color="#00b2ff"/><stop offset=".038" stop-color="#00afff"/><stop offset=".077" stop-color="#00acff"/><stop offset=".115" stop-color="#00a9ff"/><stop offset=".154" stop-color="#00a5ff"/><stop offset=".192" stop-color="#00a1ff"/><stop offset=".231" stop-color="#009dff"/><stop offset=".269" stop-color="#4a98ff"/><stop offset=".308" stop-color="#7c92ff"/><stop offset=".346" stop-color="#9e8cff"/><stop offset=".385" stop-color="#ba85ff"/><stop offset=".423" stop-color="#d47dff"/><stop offset=".462" stop-color="#eb73ff"/><stop offset=".500" stop-color="#ff67fc"/><stop offset=".538" stop-color="#ff50e8"/><stop offset=".577" stop-color="#ff38d8"/><stop offset=".615" stop-color="#ff14c9"/><stop offset=".654" stop-color="#ff00bc"/><stop offset=".692" stop-color="#ff00b0"/><stop offset=".731" stop-color="#ff00a6"/><stop offset=".769" stop-color="#ff009c"/><stop offset=".808" stop-color="#ff0093"/><stop offset=".846" stop-color="#ff008a"/><stop offset=".885" stop-color="#ff0082"/><stop offset=".923" stop-color="#ff007a"/><stop offset=".962" stop-color="#ff0073"/><stop offset="1.000" stop-color="#ff006b"/></linearGradient><linearGradient id="r338" gradientUnits="userSpaceOnUse" x1="340" x2="438" y1="0" y2="0"><stop offset=".000" stop-color="#00aeff"/><stop offset=".040" stop-color="#00abff"/><stop offset=".080" stop-color="#00a8ff"/><stop offset=".120" stop-color="#00a4ff"/><stop offset=".160" stop-color="#00a0ff"/><stop offset=".200" stop-color="#009cff"/><stop offset=".240" stop-color="#0097ff"/><stop offset=".280" stop-color="#6092ff"/><stop offset=".320" stop-color="#8a8cff"/><stop offset=".360" stop-color="#a985ff"/><stop offset=".400" stop-color="#c47dff"/><stop offset=".440" stop-color="#dd74ff"/><stop offset=".480" stop-color="#f468ff"/><stop offset=".520" stop-color="#ff56f5"/><stop offset=".560" stop-color="#ff3de2"/><stop offset=".600" stop-color="#ff1cd2"/><stop offset=".640" stop-color="#ff00c4"/><stop offset=".680" stop-color="#ff00b8"/><stop offset=".720" stop-color="#ff00ad"/><stop offset=".760" stop-color="#ff00a3"/><stop offset=".800" stop-color="#ff0099"/><stop offset=".840" stop-color="#ff0090"/><stop offset=".880" stop-color="#ff0088"/><stop offset=".920" stop-color="#ff0080"/><stop offset=".960" stop-color="#ff0078"/><stop offset="1.000" stop-color="#ff0071"/></linearGradient><linearGradient id="r339" gradientUnits="userSpaceOnUse" x1="340" x2="436" y1="0" y2="0"><stop offset=".000" stop-color="#00abff"/><stop offset=".042" stop-color="#00a8ff"/><stop offset=".083" stop-color="#00a4ff"/><stop offset=".125" stop-color="#00a0ff"/><stop offset=".167" stop-color="#009cff"/><stop offset=".208" stop-color="#0098ff"/><stop offset=".250" stop-color="#2192ff"/><stop offset=".292" stop-color="#6a8cff"/><stop offset=".333" stop-color="#9186ff"/><stop offset=".375" stop-color="#af7eff"/><stop offset=".417" stop-color="#ca75ff"/><stop offset=".458" stop-color="#e26aff"/><stop offset=".500" stop-color="#f95dff"/><stop offset=".542" stop-color="#ff46f0"/><stop offset=".583" stop-color="#ff28de"/><stop offset=".625" stop-color="#ff00cf"/><stop offset=".667" stop-color="#ff00c1"/><stop offset=".708" stop-color="#ff00b5"/><stop offset=".750" stop-color="#ff00aa"/><stop offset=".792" stop-color="#ff00a0"/><stop offset=".833" stop-color="#ff0096"/><stop offset=".875" stop-color="#ff008d"/><stop offset=".917" stop-color="#ff0085"/><stop offset=".958" stop-color="#ff007d"/><stop offset="1.000" stop-color="#ff0076"/></linearGradient><linearGradient id="r340" gradientUnits="userSpaceOnUse" x1="340" x2="434" y1="0" y2="0"><stop offset=".000" stop-color="#00a8ff"/><stop offset=".042" stop-color="#00a5ff"/><stop offset=".083" stop-color="#00a1ff"/><stop offset=".125" stop-color="#009dff"/><stop offset=".167" stop-color="#0099ff"/><stop offset=".208" stop-color="#0094ff"/><stop offset=".250" stop-color="#168fff"/><stop offset=".292" stop-color="#6689ff"/><stop offset=".333" stop-color="#8c82ff"/><stop offset=".375" stop-color="#ab7aff"/><stop offset=".417" stop-color="#c571ff"/><stop offset=".458" stop-color="#dd66ff"/><stop offset=".500" stop-color="#f358ff"/><stop offset=".542" stop-color="#ff43f6"/><stop offset=".583" stop-color="#ff22e3"/><stop offset=".625" stop-color="#ff00d4"/><stop offset=".667" stop-color="#ff00c6"/><stop offset=".708" stop-color="#ff00ba"/><stop offset=".750" stop-color="#ff00af"/><stop offset=".792" stop-color="#ff00a5"/><stop offset=".833" stop-color="#ff009b"/><stop offset=".875" stop-color="#ff0092"/><stop offset=".917" stop-color="#ff008a"/><stop offset=".958" stop-color="#ff0082"/><stop offset="1.000" stop-color="#ff007a"/></linearGradient><linearGradient id="r341" gradientUnits="userSpaceOnUse" x1="341" x2="432" y1="0" y2="0"><stop offset=".000" stop-color="#00a4ff"/><stop offset=".043" stop-color="#00a1ff"/><stop offset=".087" stop-color="#009dff"/><stop offset=".130" stop-color="#0098ff"/><stop offset=".174" stop-color="#0094ff"/><stop offset=".217" stop-color="#008eff"/><stop offset=".261" stop-color="#4289ff"/><stop offset=".304" stop-color="#7682ff"/><stop offset=".348" stop-color="#987aff"/><stop offset=".391" stop-color="#b571ff"/><stop offset=".435" stop-color="#ce67ff"/><stop offset=".478" stop-color="#e55aff"/><stop offset=".522" stop-color="#fb48ff"/><stop offset=".565" stop-color="#ff29ef"/><stop offset=".609" stop-color="#ff00de"/><stop offset=".652" stop-color="#ff00cf"/><stop offset=".696" stop-color="#ff00c2"/><stop offset=".739" stop-color="#ff00b6"/><stop offset=".783" stop-color="#ff00ab"/><stop offset=".826" stop-color="#ff00a1"/><stop offset=".870" stop-color="#ff0098"/><stop offset=".913" stop-color="#ff008f"/><stop offset=".957" stop-color="#ff0087"/><stop offset="1.000" stop-color="#ff007f"/></linearGradient><linearGradient id="r342" gradientUnits="userSpaceOnUse" x1="341" x2="430" y1="0" y2="0"><stop offset=".000" stop-color="#00a1ff"/><stop offset=".043" stop-color="#009dff"/><stop offset=".087" stop-color="#0099ff"/><stop offset=".130" stop-color="#0095ff"/><stop offset=".174" stop-color="#0090ff"/><stop offset=".217" stop-color="#008bff"/><stop offset=".261" stop-color="#3d85ff"/><stop offset=".304" stop-color="#727eff"/><stop offset=".348" stop-color="#9476ff"/><stop offset=".391" stop-color="#b06dff"/><stop offset=".435" stop-color="#c963ff"/><stop offset=".478" stop-color="#e055ff"/><stop offset=".522" stop-color="#f543ff"/><stop offset=".565" stop-color="#ff22f4"/><stop offset=".609" stop-color="#ff00e3"/><stop offset=".652" stop-color="#ff00d4"/><stop offset=".696" stop-color="#ff00c7"/><stop offset=".739" stop-color="#ff00bb"/><stop offset=".783" stop-color="#ff00b0"/><stop offset=".826" stop-color="#ff00a6"/><stop offset=".870" stop-color="#ff009d"/><stop offset=".913" stop-color="#ff0094"/><stop offset=".957" stop-color="#ff008c"/><stop offset="1.000" stop-color="#ff0084"/></linearGradient><linearGradient id="r343" gradientUnits="userSpaceOnUse" x1="341" x2="427" y1="0" y2="0"><stop offset=".000" stop-color="#009eff"/><stop offset=".045" stop-color="#009aff"/><stop offset=".091" stop-color="#0096ff"/><stop offset=".136" stop-color="#0091ff"/><stop offset=".182" stop-color="#008cff"/><stop offset=".227" stop-color="#0086ff"/><stop offset=".273" stop-color="#4680ff"/><stop offset=".318" stop-color="#7779ff"/><stop offset=".364" stop-color="#9870ff"/><stop offset=".409" stop-color="#b366ff"/><stop offset=".455" stop-color="#cc5aff"/><stop offset=".500" stop-color="#e24aff"/><stop offset=".545" stop-color="#f833ff"/><stop offset=".591" stop-color="#ff00f2"/><stop offset=".636" stop-color="#ff00e1"/><stop offset=".682" stop-color="#ff00d2"/><stop offset=".727" stop-color="#ff00c5"/><stop offset=".773" stop-color="#ff00ba"/><stop offset=".818" stop-color="#ff00af"/><stop offset=".864" stop-color="#ff00a5"/><stop offset=".909" stop-color="#ff009c"/><stop offset=".955" stop-color="#ff0093"/><stop offset="1.000" stop-color="#ff008b"/></linearGradient><linearGradient id="r344" gradientUnits="userSpaceOnUse" x1="342" x2="425" y1="0" y2="0"><stop offset=".000" stop-color="#009aff"/><stop offset=".048" stop-color="#0095ff"/><stop offset=".095" stop-color="#0091ff"/><stop offset=".143" stop-color="#008cff"/><stop offset=".190" stop-color="#0086ff"/><stop offset=".238" stop-color="#0080ff"/><stop offset=".286" stop-color="#5c79ff"/><stop offset=".333" stop-color="#8471ff"/><stop offset=".381" stop-color="#a367ff"/><stop offset=".429" stop-color="#bd5bff"/><stop offset=".476" stop-color="#d54cff"/><stop offset=".524" stop-color="#eb36ff"/><stop offset=".571" stop-color="#ff00fe"/><stop offset=".619" stop-color="#ff00ec"/><stop offset=".667" stop-color="#ff00db"/><stop offset=".714" stop-color="#ff00cd"/><stop offset=".762" stop-color="#ff00c1"/><stop offset=".810" stop-color="#ff00b6"/><stop offset=".857" stop-color="#ff00ab"/><stop offset=".905" stop-color="#ff00a2"/><stop offset=".952" stop-color="#ff0099"/><stop offset="1.000" stop-color="#ff0090"/></linearGradient><linearGradient id="r345" gradientUnits="userSpaceOnUse" x1="342" x2="423" y1="0" y2="0"><stop offset=".000" stop-color="#0096ff"/><stop offset=".048" stop-color="#0092ff"/><stop offset=".095" stop-color="#008dff"/><stop offset=".143" stop-color="#0088ff"/><stop offset=".190" stop-color="#0083ff"/><stop offset=".238" stop-color="#007cff"/><stop offset=".286" stop-color="#5875ff"/><stop offset=".333" stop-color="#806dff"/><stop offset=".381" stop-color="#9f63ff"/><stop offset=".429" stop-color="#b857ff"/><stop offset=".476" stop-color="#cf47ff"/><stop offset=".524" stop-color="#e530ff"/><stop offset=".571" stop-color="#f900ff"/><stop offset=".619" stop-color="#ff00f2"/><stop offset=".667" stop-color="#ff00e1"/><stop offset=".714" stop-color="#ff00d3"/><stop offset=".762" stop-color="#ff00c6"/><stop offset=".810" stop-color="#ff00bb"/><stop offset=".857" stop-color="#ff00b0"/><stop offset=".905" stop-color="#ff00a7"/><stop offset=".952" stop-color="#ff009e"/><stop offset="1.000" stop-color="#ff0096"/></linearGradient><linearGradient id="r346" gradientUnits="userSpaceOnUse" x1="342" x2="421" y1="0" y2="0"><stop offset=".000" stop-color="#0093ff"/><stop offset=".050" stop-color="#008eff"/><stop offset=".100" stop-color="#0089ff"/><stop offset=".150" stop-color="#0084ff"/><stop offset=".200" stop-color="#007eff"/><stop offset=".250" stop-color="#1077ff"/><stop offset=".300" stop-color="#616fff"/><stop offset=".350" stop-color="#8765ff"/><stop offset=".400" stop-color="#a55aff"/><stop offset=".450" stop-color="#be4bff"/><stop offset=".500" stop-color="#d537ff"/><stop offset=".550" stop-color="#ea09ff"/><stop offset=".600" stop-color="#ff00ff"/><stop offset=".650" stop-color="#ff00ed"/><stop offset=".700" stop-color="#ff00dd"/><stop offset=".750" stop-color="#ff00cf"/><stop offset=".800" stop-color="#ff00c2"/><stop offset=".850" stop-color="#ff00b7"/><stop offset=".900" stop-color="#ff00ad"/><stop offset=".950" stop-color="#ff00a4"/><stop offset="1.000" stop-color="#ff009b"/></linearGradient><linearGradient id="r347" gradientUnits="userSpaceOnUse" x1="343" x2="419" y1="0" y2="0"><stop offset=".000" stop-color="#008eff"/><stop offset=".053" stop-color="#008aff"/><stop offset=".105" stop-color="#0084ff"/><stop offset=".158" stop-color="#007eff"/><stop offset=".211" stop-color="#0077ff"/><stop offset=".263" stop-color="#3e6fff"/><stop offset=".316" stop-color="#7266ff"/><stop offset=".368" stop-color="#935bff"/><stop offset=".421" stop-color="#af4dff"/><stop offset=".474" stop-color="#c73aff"/><stop offset=".526" stop-color="#dd16ff"/><stop offset=".579" stop-color="#f200ff"/><stop offset=".632" stop-color="#ff00f8"/><stop offset=".684" stop-color="#ff00e6"/><stop offset=".737" stop-color="#ff00d7"/><stop offset=".789" stop-color="#ff00ca"/><stop offset=".842" stop-color="#ff00be"/><stop offset=".895" stop-color="#ff00b3"/><stop offset=".947" stop-color="#ff00a9"/><stop offset="1.000" stop-color="#ff00a0"/></linearGradient><linearGradient id="r348" gradientUnits="userSpaceOnUse" x1="343" x2="417" y1="0" y2="0"><stop offset=".000" stop-color="#008bff"/><stop offset=".053" stop-color="#0086ff"/><stop offset=".105" stop-color="#0080ff"/><stop offset=".158" stop-color="#007aff"/><stop offset=".211" stop-color="#0073ff"/><stop offset=".263" stop-color="#396bff"/><stop offset=".316" stop-color="#6d62ff"/><stop offset=".368" stop-color="#8f57ff"/><stop offset=".421" stop-color="#aa49ff"/><stop offset=".474" stop-color="#c234ff"/><stop offset=".526" stop-color="#d804ff"/><stop offset=".579" stop-color="#ec00ff"/><stop offset=".632" stop-color="#ff00fe"/><stop offset=".684" stop-color="#ff00ec"/><stop offset=".737" stop-color="#ff00dd"/><stop offset=".789" stop-color="#ff00cf"/><stop offset=".842" stop-color="#ff00c3"/><stop offset=".895" stop-color="#ff00b8"/><stop offset=".947" stop-color="#ff00af"/><stop offset="1.000" stop-color="#ff00a5"/></linearGradient><linearGradient id="r349" gradientUnits="userSpaceOnUse" x1="344" x2="414" y1="0" y2="0"><stop offset=".000" stop-color="#0086ff"/><stop offset=".056" stop-color="#0081ff"/><stop offset=".111" stop-color="#007bff"/><stop offset=".167" stop-color="#0074ff"/><stop offset=".222" stop-color="#006dff"/><stop offset=".278" stop-color="#4e64ff"/><stop offset=".333" stop-color="#7959ff"/><stop offset=".389" stop-color="#974cff"/><stop offset=".444" stop-color="#b13aff"/><stop offset=".500" stop-color="#c81bff"/><stop offset=".556" stop-color="#dd00ff"/><stop offset=".611" stop-color="#f100ff"/><stop offset=".667" stop-color="#ff00fa"/><stop offset=".722" stop-color="#ff00e9"/><stop offset=".778" stop-color="#ff00da"/><stop offset=".833" stop-color="#ff00cd"/><stop offset=".889" stop-color="#ff00c1"/><stop offset=".944" stop-color="#ff00b7"/><stop offset="1.000" stop-color="#ff00ad"/></linearGradient><linearGradient id="r350" gradientUnits="userSpaceOnUse" x1="344" x2="412" y1="0" y2="0"><stop offset=".000" stop-color="#0082ff"/><stop offset=".059" stop-color="#007dff"/><stop offset=".118" stop-color="#0076ff"/><stop offset=".176" stop-color="#006fff"/><stop offset=".235" stop-color="#0067ff"/><stop offset=".294" stop-color="#585dff"/><stop offset=".353" stop-color="#8050ff"/><stop offset=".412" stop-color="#9e40ff"/><stop offset=".471" stop-color="#b727ff"/><stop offset=".529" stop-color="#ce00ff"/><stop offset=".588" stop-color="#e300ff"/><stop offset=".647" stop-color="#f700ff"/><stop offset=".706" stop-color="#ff00f4"/><stop offset=".765" stop-color="#ff00e4"/><stop offset=".824" stop-color="#ff00d5"/><stop offset=".882" stop-color="#ff00c9"/><stop offset=".941" stop-color="#ff00bd"/><stop offset="1.000" stop-color="#ff00b3"/></linearGradient><linearGradient id="r351" gradientUnits="userSpaceOnUse" x1="344" x2="410" y1="0" y2="0"><stop offset=".000" stop-color="#007fff"/><stop offset=".059" stop-color="#0079ff"/><stop offset=".118" stop-color="#0072ff"/><stop offset=".176" stop-color="#006bff"/><stop offset=".235" stop-color="#0062ff"/><stop offset=".294" stop-color="#5458ff"/><stop offset=".353" stop-color="#7c4bff"/><stop offset=".412" stop-color="#993aff"/><stop offset=".471" stop-color="#b21eff"/><stop offset=".529" stop-color="#c800ff"/><stop offset=".588" stop-color="#dd00ff"/><stop offset=".647" stop-color="#f100ff"/><stop offset=".706" stop-color="#ff00fb"/><stop offset=".765" stop-color="#ff00ea"/><stop offset=".824" stop-color="#ff00db"/><stop offset=".882" stop-color="#ff00cf"/><stop offset=".941" stop-color="#ff00c3"/><stop offset="1.000" stop-color="#ff00b9"/></linearGradient><linearGradient id="r352" gradientUnits="userSpaceOnUse" x1="345" x2="408" y1="0" y2="0"><stop offset=".000" stop-color="#0079ff"/><stop offset=".062" stop-color="#0073ff"/><stop offset=".125" stop-color="#006cff"/><stop offset=".188" stop-color="#0063ff"/><stop offset=".250" stop-color="#2a5aff"/><stop offset=".312" stop-color="#654dff"/><stop offset=".375" stop-color="#883dff"/><stop offset=".438" stop-color="#a324ff"/><stop offset=".500" stop-color="#bb00ff"/><stop offset=".562" stop-color="#d100ff"/><stop offset=".625" stop-color="#e500ff"/><stop offset=".688" stop-color="#f800ff"/><stop offset=".750" stop-color="#ff00f3"/><stop offset=".812" stop-color="#ff00e4"/><stop offset=".875" stop-color="#ff00d6"/><stop offset=".938" stop-color="#ff00ca"/><stop offset="1.000" stop-color="#ff00be"/></linearGradient><linearGradient id="r353" gradientUnits="userSpaceOnUse" x1="345" x2="406" y1="0" y2="0"><stop offset=".000" stop-color="#0075ff"/><stop offset=".062" stop-color="#006fff"/><stop offset=".125" stop-color="#0068ff"/><stop offset=".188" stop-color="#005fff"/><stop offset=".250" stop-color="#2355ff"/><stop offset=".312" stop-color="#6148ff"/><stop offset=".375" stop-color="#8437ff"/><stop offset=".438" stop-color="#9f19ff"/><stop offset=".500" stop-color="#b600ff"/><stop offset=".562" stop-color="#cb00ff"/><stop offset=".625" stop-color="#df00ff"/><stop offset=".688" stop-color="#f200ff"/><stop offset=".750" stop-color="#ff00fa"/><stop offset=".812" stop-color="#ff00ea"/><stop offset=".875" stop-color="#ff00dc"/><stop offset=".938" stop-color="#ff00d0"/><stop offset="1.000" stop-color="#ff00c5"/></linearGradient><linearGradient id="r354" gradientUnits="userSpaceOnUse" x1="345" x2="404" y1="0" y2="0"><stop offset=".000" stop-color="#0071ff"/><stop offset=".067" stop-color="#006aff"/><stop offset=".133" stop-color="#0062ff"/><stop offset=".200" stop-color="#0059ff"/><stop offset=".267" stop-color="#364dff"/><stop offset=".333" stop-color="#6a3dff"/><stop offset=".400" stop-color="#8b26ff"/><stop offset=".467" stop-color="#a500ff"/><stop offset=".533" stop-color="#bc00ff"/><stop offset=".600" stop-color="#d100ff"/><stop offset=".667" stop-color="#e500ff"/><stop offset=".733" stop-color="#f800ff"/><stop offset=".800" stop-color="#ff00f4"/><stop offset=".867" stop-color="#ff00e5"/><stop offset=".933" stop-color="#ff00d7"/><stop offset="1.000" stop-color="#ff00cb"/></linearGradient><linearGradient id="r355" gradientUnits="userSpaceOnUse" x1="346" x2="401" y1="0" y2="0"><stop offset=".000" stop-color="#006bff"/><stop offset=".071" stop-color="#0064ff"/><stop offset=".143" stop-color="#005bff"/><stop offset=".214" stop-color="#0050ff"/><stop offset=".286" stop-color="#4a42ff"/><stop offset=".357" stop-color="#752eff"/><stop offset=".429" stop-color="#9300ff"/><stop offset=".500" stop-color="#ac00ff"/><stop offset=".571" stop-color="#c200ff"/><stop offset=".643" stop-color="#d600ff"/><stop offset=".714" stop-color="#ea00ff"/><stop offset=".786" stop-color="#fc00ff"/><stop offset=".857" stop-color="#ff00f1"/><stop offset=".929" stop-color="#ff00e2"/><stop offset="1.000" stop-color="#ff00d5"/></linearGradient><linearGradient id="r356" gradientUnits="userSpaceOnUse" x1="346" x2="399" y1="0" y2="0"><stop offset=".000" stop-color="#0067ff"/><stop offset=".071" stop-color="#005fff"/><stop offset=".143" stop-color="#0056ff"/><stop offset=".214" stop-color="#004aff"/><stop offset=".286" stop-color="#463bff"/><stop offset=".357" stop-color="#7025ff"/><stop offset=".429" stop-color="#8e00ff"/><stop offset=".500" stop-color="#a600ff"/><stop offset=".571" stop-color="#bc00ff"/><stop offset=".643" stop-color="#d000ff"/><stop offset=".714" stop-color="#e300ff"/><stop offset=".786" stop-color="#f500ff"/><stop offset=".857" stop-color="#ff00f8"/><stop offset=".929" stop-color="#ff00e9"/><stop offset="1.000" stop-color="#ff00dc"/></linearGradient><linearGradient id="r357" gradientUnits="userSpaceOnUse" x1="347" x2="397" y1="0" y2="0"><stop offset=".000" stop-color="#0060ff"/><stop offset=".077" stop-color="#0057ff"/><stop offset=".154" stop-color="#004cff"/><stop offset=".231" stop-color="#033eff"/><stop offset=".308" stop-color="#592aff"/><stop offset=".385" stop-color="#7d00ff"/><stop offset=".462" stop-color="#9800ff"/><stop offset=".538" stop-color="#b000ff"/><stop offset=".615" stop-color="#c500ff"/><stop offset=".692" stop-color="#d800ff"/><stop offset=".769" stop-color="#ea00ff"/><stop offset=".846" stop-color="#fc00ff"/><stop offset=".923" stop-color="#ff00f1"/><stop offset="1.000" stop-color="#ff00e3"/></linearGradient><linearGradient id="r358" gradientUnits="userSpaceOnUse" x1="347" x2="395" y1="0" y2="0"><stop offset=".000" stop-color="#005bff"/><stop offset=".083" stop-color="#0051ff"/><stop offset=".167" stop-color="#0044ff"/><stop offset=".250" stop-color="#2633ff"/><stop offset=".333" stop-color="#6212ff"/><stop offset=".417" stop-color="#8400ff"/><stop offset=".500" stop-color="#9f00ff"/><stop offset=".583" stop-color="#b600ff"/><stop offset=".667" stop-color="#cb00ff"/><stop offset=".750" stop-color="#df00ff"/><stop offset=".833" stop-color="#f100ff"/><stop offset=".917" stop-color="#ff00fb"/><stop offset="1.000" stop-color="#ff00eb"/></linearGradient><linearGradient id="r359" gradientUnits="userSpaceOnUse" x1="348" x2="393" y1="0" y2="0"><stop offset=".000" stop-color="#0054ff"/><stop offset=".083" stop-color="#0049ff"/><stop offset=".167" stop-color="#003aff"/><stop offset=".250" stop-color="#3225ff"/><stop offset=".333" stop-color="#6400ff"/><stop offset=".417" stop-color="#8400ff"/><stop offset=".500" stop-color="#9d00ff"/><stop offset=".583" stop-color="#b300ff"/><stop offset=".667" stop-color="#c600ff"/><stop offset=".750" stop-color="#d900ff"/><stop offset=".833" stop-color="#eb00ff"/><stop offset=".917" stop-color="#fc00ff"/><stop offset="1.000" stop-color="#ff00f3"/></linearGradient><linearGradient id="r360" gradientUnits="userSpaceOnUse" x1="348" x2="391" y1="0" y2="0"><stop offset=".000" stop-color="#004eff"/><stop offset=".091" stop-color="#0041ff"/><stop offset=".182" stop-color="#002fff"/><stop offset=".273" stop-color="#400bff"/><stop offset=".364" stop-color="#6c00ff"/><stop offset=".455" stop-color="#8b00ff"/><stop offset=".545" stop-color="#a300ff"/><stop offset=".636" stop-color="#b900ff"/><stop offset=".727" stop-color="#cd00ff"/><stop offset=".818" stop-color="#e000ff"/><stop offset=".909" stop-color="#f200ff"/><stop offset="1.000" stop-color="#ff00fb"/></linearGradient><linearGradient id="r361" gradientUnits="userSpaceOnUse" x1="349" x2="388" y1="0" y2="0"><stop offset=".000" stop-color="#0044ff"/><stop offset=".100" stop-color="#0034ff"/><stop offset=".200" stop-color="#001aff"/><stop offset=".300" stop-color="#5100ff"/><stop offset=".400" stop-color="#7600ff"/><stop offset=".500" stop-color="#9200ff"/><stop offset=".600" stop-color="#aa00ff"/><stop offset=".700" stop-color="#bf00ff"/><stop offset=".800" stop-color="#d200ff"/><stop offset=".900" stop-color="#e400ff"/><stop offset="1.000" stop-color="#f600ff"/></linearGradient><linearGradient id="r362" gradientUnits="userSpaceOnUse" x1="349" x2="386" y1="0" y2="0"><stop offset=".000" stop-color="#003dff"/><stop offset=".100" stop-color="#002bff"/><stop offset=".200" stop-color="#0004ff"/><stop offset=".300" stop-color="#4c00ff"/><stop offset=".400" stop-color="#7200ff"/><stop offset=".500" stop-color="#8d00ff"/><stop offset=".600" stop-color="#a400ff"/><stop offset=".700" stop-color="#b800ff"/><stop offset=".800" stop-color="#cb00ff"/><stop offset=".900" stop-color="#dc00ff"/><stop offset="1.000" stop-color="#ed00ff"/></linearGradient><linearGradient id="r363" gradientUnits="userSpaceOnUse" x1="350" x2="384" y1="0" y2="0"><stop offset=".000" stop-color="#0030ff"/><stop offset=".111" stop-color="#0012ff"/><stop offset=".222" stop-color="#2400ff"/><stop offset=".333" stop-color="#5d00ff"/><stop offset=".444" stop-color="#7d00ff"/><stop offset=".556" stop-color="#9700ff"/><stop offset=".667" stop-color="#ad00ff"/><stop offset=".778" stop-color="#c000ff"/><stop offset=".889" stop-color="#d300ff"/><stop offset="1.000" stop-color="#e400ff"/></linearGradient><linearGradient id="r364" gradientUnits="userSpaceOnUse" x1="350" x2="382" y1="0" y2="0"><stop offset=".000" stop-color="#0024ff"/><stop offset=".125" stop-color="#0000ff"/><stop offset=".250" stop-color="#3400ff"/><stop offset=".375" stop-color="#6600ff"/><stop offset=".500" stop-color="#8500ff"/><stop offset=".625" stop-color="#9e00ff"/><stop offset=".750" stop-color="#b400ff"/><stop offset=".875" stop-color="#c800ff"/><stop offset="1.000" stop-color="#db00ff"/></linearGradient><linearGradient id="r365" gradientUnits="userSpaceOnUse" x1="351" x2="380" y1="0" y2="0"><stop offset=".000" stop-color="#0002ff"/><stop offset=".125" stop-color="#0000ff"/><stop offset=".250" stop-color="#3d00ff"/><stop offset=".375" stop-color="#6700ff"/><stop offset=".500" stop-color="#8300ff"/><stop offset=".625" stop-color="#9a00ff"/><stop offset=".750" stop-color="#ae00ff"/><stop offset=".875" stop-color="#c100ff"/><stop offset="1.000" stop-color="#d200ff"/></linearGradient><linearGradient id="r366" gradientUnits="userSpaceOnUse" x1="352" x2="378" y1="0" y2="0"><stop offset=".000" stop-color="#0000ff"/><stop offset=".143" stop-color="#0000ff"/><stop offset=".286" stop-color="#5000ff"/><stop offset=".429" stop-color="#7300ff"/><stop offset=".571" stop-color="#8d00ff"/><stop offset=".714" stop-color="#a300ff"/><stop offset=".857" stop-color="#b700ff"/><stop offset="1.000" stop-color="#c900ff"/></linearGradient><linearGradient id="r367" gradientUnits="userSpaceOnUse" x1="353" x2="375" y1="0" y2="0"><stop offset=".000" stop-color="#0000ff"/><stop offset=".167" stop-color="#2900ff"/><stop offset=".333" stop-color="#5c00ff"/><stop offset=".500" stop-color="#7b00ff"/><stop offset=".667" stop-color="#9300ff"/><stop offset=".833" stop-color="#a800ff"/><stop offset="1.000" stop-color="#bb00ff"/></linearGradient><linearGradient id="r368" gradientUnits="userSpaceOnUse" x1="354" x2="373" y1="0" y2="0"><stop offset=".000" stop-color="#0000ff"/><stop offset=".200" stop-color="#4200ff"/><stop offset=".400" stop-color="#6a00ff"/><stop offset=".600" stop-color="#8600ff"/><stop offset=".800" stop-color="#9d00ff"/><stop offset="1.000" stop-color="#b100ff"/></linearGradient><linearGradient id="r369" gradientUnits="userSpaceOnUse" x1="355" x2="371" y1="0" y2="0"><stop offset=".000" stop-color="#0000ff"/><stop offset=".250" stop-color="#5400ff"/><stop offset=".500" stop-color="#7700ff"/><stop offset=".750" stop-color="#9100ff"/><stop offset="1.000" stop-color="#a800ff"/></linearGradient><linearGradient id="r370" gradientUnits="userSpaceOnUse" x1="356" x2="369" y1="0" y2="0"><stop offset=".000" stop-color="#2c00ff"/><stop offset=".250" stop-color="#5900ff"/><stop offset=".500" stop-color="#7500ff"/><stop offset=".750" stop-color="#8b00ff"/><stop offset="1.000" stop-color="#9e00ff"/></linearGradient><linearGradient id="r371" gradientUnits="userSpaceOnUse" x1="357" x2="367" y1="0" y2="0"><stop offset=".000" stop-color="#4100ff"/><stop offset=".333" stop-color="#6500ff"/><stop offset=".667" stop-color="#7e00ff"/><stop offset="1.000" stop-color="#9300ff"/></linearGradient></defs><rect width="550" height="403" fill="#fff"/><g clip-path="url(#ca)" fill="none" stroke-linejoin="round"><path d="M53.8,161.3 54.2,161.2 54.5,161.0 54.9,160.8 55.2,160.6 55.6,160.3 55.9,160.1 56.3,159.8 56.6,159.6 57.0,159.4 57.3,159.2 57.7,159.2 58.0,159.3 58.4,159.4 58.7,159.6 59.1,159.7 59.4,159.9 59.8,160.0 60.1,160.0 60.5,159.9 60.8,159.6 61.2,159.1 61.5,158.7 61.9,157.9 62.2,156.6 62.6,155.2 62.9,153.6 63.3,151.5 63.6,148.9 64.0,145.8 64.3,142.6 64.7,139.9 65.0,137.1 65.4,134.7 65.7,132.7 66.1,131.2 66.4,129.9 66.8,129.8 67.1,131.0 67.5,132.7 67.8,134.9 68.2,137.7 68.5,140.3 68.9,142.2 69.2,143.7 69.6,145.0 69.9,146.2 70.3,147.2 70.6,148.2 71.0,149.1 71.3,150.0 71.7,150.8 72.0,151.5 72.4,152.3 72.7,153.0 73.1,153.7 73.4,154.5 73.8,155.4 74.1,156.3 74.5,157.1 74.8,158.0 75.2,159.0 75.5,159.9 75.9,160.7 76.2,161.3 76.6,161.8 76.9,162.3 77.3,162.8 77.6,163.2 78.0,163.6 78.3,164.0 78.7,164.4 79.0,164.7 79.4,165.1 79.7,165.4 80.1,165.8 80.4,166.0 80.8,166.3 81.1,166.5 81.5,166.6 81.8,166.8 82.2,166.9 82.5,167.0 82.9,167.1 83.2,167.2 83.6,167.3 83.9,167.3 84.3,167.3 84.6,167.3 85.0,167.3 85.3,167.3 85.7,167.3 86.0,167.3 86.4,167.3 86.7,167.3 87.1,167.1 87.4,167.0 87.8,166.9 88.1,166.7 88.5,166.3 88.8,165.9 89.2,165.5 89.5,165.0 89.9,164.5 90.2,163.9 90.6,163.2 90.9,162.5 91.3,161.8 91.6,161.1 92.0,160.5 92.3,159.9 92.7,159.2 93.0,158.6 93.4,158.1 93.7,157.6 94.1,157.1 94.4,156.7 94.8,156.4 95.1,156.2 95.5,156.2 95.8,156.3 96.2,156.7 96.5,157.1 96.9,157.6 97.2,158.2 97.6,158.8 97.9,159.4 98.3,159.9 98.6,160.4 99.0,160.8 99.3,161.2 99.7,161.6 100.0,161.9 100.4,162.2 100.7,162.3 101.1,162.2 101.4,162.2 101.8,162.2 102.1,162.2 102.5,162.2 102.8,162.3 103.2,162.6 103.5,162.8 103.9,163.1 104.3,163.2 104.6,163.4 105.0,163.5 105.3,163.7 105.7,163.8 106.0,164.0 106.4,164.1 106.7,164.3 107.1,164.4 107.4,164.6 107.8,164.7 108.1,164.9 108.5,165.0 108.8,165.2 109.2,165.3 109.5,165.5 109.9,165.6 110.2,165.7 110.6,165.8 110.9,165.9 111.3,166.0 111.6,166.2 112.0,166.3 112.3,166.4 112.7,166.4 113.0,166.5 113.4,166.6 113.7,166.7 114.1,166.8 114.4,166.8 114.8,166.9 115.1,167.0 115.5,167.1 115.8,167.1 116.2,167.2 116.5,167.2 116.9,167.3 117.2,167.3 117.6,167.4 117.9,167.4 118.3,167.4 118.6,167.4 119.0,167.5 119.3,167.5 119.7,167.5 120.0,167.5 120.4,167.5 120.7,167.6 121.1,167.6 121.4,167.6 121.8,167.6 122.1,167.6 122.5,167.6 122.8,167.6 123.2,167.6 123.5,167.6 123.9,167.6 124.2,167.6 124.6,167.6 124.9,167.6 125.3,167.6 125.6,167.5 126.0,167.5 126.3,167.5 126.7,167.5 127.0,167.4 127.4,167.4 127.7,167.4 128.1,167.3 128.4,167.3 128.8,167.3 129.1,167.3 129.5,167.2 129.8,167.2 130.2,167.2 130.5,167.1 130.9,167.1 131.2,167.1 131.6,167.0 131.9,166.9 132.3,166.9 132.6,166.8 133.0,166.7 133.3,166.6 133.7,166.5 134.0,166.4 134.4,166.2 134.7,166.1 135.1,165.9 135.4,165.7 135.8,165.5 136.1,165.3 136.5,165.0 136.8,164.7 137.2,164.5 137.5,164.1 137.9,163.8 138.2,163.4 138.6,163.1 138.9,162.6 139.3,162.2 139.6,161.7 140.0,161.3 140.3,160.8 140.7,160.2 141.0,159.7 141.4,159.1 141.7,158.5 142.1,157.9 142.4,157.3 142.8,156.6 143.1,156.0 143.5,155.4 143.8,154.7 144.2,154.1 144.5,153.4 144.9,152.8 145.2,152.1 145.6,151.5 145.9,150.8 146.3,150.2 146.6,149.5 147.0,148.9 147.3,148.2 147.7,147.6 148.0,147.0 148.4,146.5 148.7,145.8 149.1,145.2 149.4,144.6 149.8,144.2 150.1,143.9 150.5,143.7 150.8,143.7 151.2,143.8 151.5,144.2 151.9,144.6 152.2,145.2 152.6,145.8 152.9,146.5 153.3,147.3 153.6,148.2 154.0,149.0 154.4,149.7 154.7,150.5 155.1,151.3 155.4,152.0 155.8,152.8 156.1,153.5 156.5,154.2 156.8,154.8 157.2,155.5 157.5,156.1 157.9,156.7 158.2,157.2 158.6,157.7 158.9,158.1 159.3,158.5 159.6,158.9 160.0,159.2 160.3,159.5 160.7,159.8 161.0,160.0 161.4,160.3 161.7,160.5 162.1,160.7 162.4,160.9 162.8,161.1 163.1,161.2 163.5,161.4 163.8,161.6 164.2,161.7 164.5,161.9 164.9,162.1 165.2,162.3 165.6,162.4 165.9,162.6 166.3,162.8 166.6,163.0 167.0,163.3 167.3,163.5 167.7,163.7 168.0,163.9 168.4,164.0 168.7,164.2 169.1,164.3 169.4,164.5 169.8,164.6 170.1,164.7 170.5,164.8 170.8,164.9 171.2,165.0 171.5,165.1 171.9,165.1 172.2,165.1 172.6,165.1 172.9,164.8 173.3,164.5 173.6,164.0 174.0,163.1 174.3,161.7 174.7,160.3 175.0,158.8 175.4,157.5 175.7,157.3 176.1,157.9 176.4,158.7 176.8,160.1 177.1,161.9 177.5,163.2 177.8,164.0 178.2,164.7 178.5,165.2 178.9,165.5 179.2,165.7 179.6,165.8 179.9,165.9 180.3,165.9 180.6,166.0 181.0,166.0 181.3,166.1 181.7,166.1 182.0,166.2 182.4,166.2 182.7,166.2 183.1,166.2 183.4,166.3 183.8,166.3 184.1,166.4 184.5,166.5 184.8,166.5 185.2,166.6 185.5,166.7 185.9,166.7 186.2,166.8 186.6,166.8 186.9,166.9 187.3,167.0 187.6,167.0 188.0,167.1 188.3,167.1 188.7,167.2 189.0,167.2 189.4,167.2 189.7,167.2 190.1,167.2 190.4,167.2 190.8,167.1 191.1,167.1 191.5,167.1 191.8,167.0 192.2,167.0 192.5,167.0 192.9,166.9 193.2,166.9 193.6,166.8 193.9,166.8 194.3,166.7 194.6,166.6 195.0,166.6 195.3,166.5 195.7,166.4 196.0,166.4 196.4,166.3 196.7,166.2 197.1,166.2 197.4,166.1 197.8,166.0 198.1,166.0 198.5,165.9 198.8,165.8 199.2,165.8 199.5,165.7 199.9,165.7 200.2,165.7 200.6,165.6 200.9,165.6 201.3,165.5 201.6,165.5 202.0,165.5 202.3,165.5 202.7,165.4 203.0,165.4 203.4,165.4 203.8,165.5 204.1,165.5 204.5,165.5 204.8,165.5 205.2,165.5 205.5,165.6 205.9,165.6 206.2,165.6 206.6,165.6 206.9,165.6 207.3,165.6 207.6,165.6 208.0,165.5 208.3,165.5 208.7,165.5 209.0,165.5 209.4,165.4 209.7,165.4 210.1,165.4 210.4,165.4 210.8,165.4 211.1,165.3 211.5,165.3 211.8,165.3 212.2,165.3 212.5,165.2 212.9,165.2 213.2,165.2 213.6,165.2 213.9,165.2 214.3,165.2 214.6,165.2 215.0,165.2 215.3,165.2 215.7,165.2 216.0,165.2 216.4,165.2 216.7,165.3 217.1,165.3 217.4,165.3 217.8,165.3 218.1,165.4 218.5,165.4 218.8,165.4 219.2,165.5 219.5,165.5 219.9,165.5 220.2,165.6 220.6,165.6 220.9,165.7 221.3,165.7 221.6,165.8 222.0,165.8 222.3,165.9 222.7,165.9 223.0,165.9 223.4,166.0 223.7,166.0 224.1,166.1 224.4,166.1 224.8,166.1 225.1,166.2 225.5,166.2 225.8,166.3 226.2,166.3 226.5,166.3 226.9,166.3 227.2,166.3 227.6,166.4 227.9,166.4 228.3,166.4 228.6,166.4 229.0,166.4 229.3,166.3 229.7,166.3 230.0,166.2 230.4,166.1 230.7,165.9 231.1,165.6 231.4,165.4 231.8,165.1 232.1,164.9 232.5,164.8 232.8,164.6 233.2,164.5 233.5,164.5 233.9,164.6 234.2,164.9 234.6,165.1 234.9,165.4 235.3,165.7 235.6,166.0 236.0,166.3 236.3,166.5 236.7,166.6 237.0,166.8 237.4,166.9 237.7,167.0 238.1,167.1 238.4,167.2 238.8,167.2 239.1,167.2 239.5,167.3 239.8,167.3 240.2,167.3 240.5,167.4 240.9,167.4 241.2,167.4 241.6,167.4 241.9,167.4 242.3,167.4 242.6,167.5 243.0,167.5 243.3,167.5 243.7,167.5 244.0,167.5 244.4,167.5 244.7,167.5 245.1,167.5 245.4,167.5 245.8,167.6 246.1,167.6 246.5,167.6 246.8,167.6 247.2,167.6 247.5,167.6 247.9,167.6 248.2,167.6 248.6,167.6 248.9,167.6 249.3,167.6 249.6,167.6 250.0,167.6 250.3,167.6 250.7,167.7 251.0,167.7 251.4,167.7 251.7,167.7 252.1,167.7 252.4,167.7 252.8,167.7 253.1,167.7 253.5,167.7" stroke="#f7ac74" stroke-width="1.1"/><path d="M53.8,157.5 54.2,157.4 54.5,157.1 54.9,156.7 55.2,156.3 55.6,156.0 55.9,155.6 56.3,155.1 56.6,154.8 57.0,154.4 57.3,154.3 57.7,154.2 58.0,154.3 58.4,154.5 58.7,154.8 59.1,155.0 59.4,155.2 59.8,155.4 60.1,155.4 60.5,155.2 60.8,154.7 61.2,154.1 61.5,153.3 61.9,152.1 62.2,150.1 62.6,147.9 62.9,145.2 63.3,142.0 63.6,137.9 64.0,132.9 64.3,127.9 64.7,123.6 65.0,119.2 65.4,115.3 65.7,112.3 66.1,109.7 66.4,107.8 66.8,107.7 67.1,109.6 67.5,112.3 67.8,115.7 68.2,120.0 68.5,124.2 68.9,127.2 69.2,129.6 69.6,131.7 69.9,133.5 70.3,135.2 70.6,136.8 71.0,138.2 71.3,139.5 71.7,140.8 72.0,142.0 72.4,143.2 72.7,144.3 73.1,145.5 73.4,146.8 73.8,148.1 74.1,149.5 74.5,150.9 74.8,152.3 75.2,153.8 75.5,155.3 75.9,156.5 76.2,157.5 76.6,158.3 76.9,159.1 77.3,159.9 77.6,160.5 78.0,161.2 78.3,161.8 78.7,162.4 79.0,163.0 79.4,163.5 79.7,164.1 80.1,164.6 80.4,165.0 80.8,165.4 81.1,165.7 81.5,165.9 81.8,166.2 82.2,166.4 82.5,166.6 82.9,166.8 83.2,166.9 83.6,167.0 83.9,167.0 84.3,167.0 84.6,167.1 85.0,167.1 85.3,167.1 85.7,167.1 86.0,167.1 86.4,167.0 86.7,166.9 87.1,166.8 87.4,166.6 87.8,166.3 88.1,166.0 88.5,165.5 88.8,164.8 89.2,164.1 89.5,163.4 89.9,162.6 90.2,161.6 90.6,160.5 90.9,159.4 91.3,158.3 91.6,157.3 92.0,156.2 92.3,155.2 92.7,154.2 93.0,153.3 93.4,152.5 93.7,151.6 94.1,150.9 94.4,150.2 94.8,149.8 95.1,149.5 95.5,149.4 95.8,149.6 96.2,150.2 96.5,150.8 96.9,151.6 97.2,152.5 97.6,153.5 97.9,154.5 98.3,155.3 98.6,156.1 99.0,156.8 99.3,157.4 99.7,157.9 100.0,158.5 100.4,158.9 100.7,159.0 101.1,159.0 101.4,159.0 101.8,158.9 102.1,158.9 102.5,158.9 102.8,159.2 103.2,159.5 103.5,160.0 103.9,160.3 104.3,160.6 104.6,160.8 105.0,161.0 105.3,161.3 105.7,161.5 106.0,161.7 106.4,161.9 106.7,162.2 107.1,162.4 107.4,162.7 107.8,162.9 108.1,163.2 108.5,163.4 108.8,163.6 109.2,163.9 109.5,164.1 109.9,164.3 110.2,164.5 110.6,164.7 110.9,164.8 111.3,165.0 111.6,165.2 112.0,165.4 112.3,165.5 112.7,165.7 113.0,165.8 113.4,165.9 113.7,166.0 114.1,166.2 114.4,166.3 114.8,166.4 115.1,166.5 115.5,166.6 115.8,166.7 116.2,166.8 116.5,166.9 116.9,167.0 117.2,167.0 117.6,167.1 117.9,167.1 118.3,167.2 118.6,167.2 119.0,167.3 119.3,167.3 119.7,167.3 120.0,167.4 120.4,167.4 120.7,167.4 121.1,167.4 121.4,167.4 121.8,167.4 122.1,167.4 122.5,167.4 122.8,167.4 123.2,167.4 123.5,167.4 123.9,167.4 124.2,167.4 124.6,167.4 124.9,167.4 125.3,167.4 125.6,167.4 126.0,167.3 126.3,167.3 126.7,167.2 127.0,167.2 127.4,167.1 127.7,167.0 128.1,166.9 128.4,166.8 128.8,166.8 129.1,166.7 129.5,166.6 129.8,166.5 130.2,166.4 130.5,166.3 130.9,166.2 131.2,166.1 131.6,165.9 131.9,165.8 132.3,165.7 132.6,165.5 133.0,165.4 133.3,165.2 133.7,165.1 134.0,164.9 134.4,164.7 134.7,164.5 135.1,164.4 135.4,164.2 135.8,163.9 136.1,163.7 136.5,163.5 136.8,163.3 137.2,163.0 137.5,162.8 137.9,162.5 138.2,162.2 138.6,161.8 138.9,161.4 139.3,160.9 139.6,160.4 140.0,159.8 140.3,159.2 140.7,158.5 141.0,157.7 141.4,156.9 141.7,155.9 142.1,154.9 142.4,153.8 142.8,152.7 143.1,151.6 143.5,150.4 143.8,149.3 144.2,148.3 144.5,147.2 144.9,146.3 145.2,145.4 145.6,144.5 145.9,143.7 146.3,143.1 146.6,142.5 147.0,141.9 147.3,141.4 147.7,140.9 148.0,140.5 148.4,140.0 148.7,139.3 149.1,138.3 149.4,137.3 149.8,136.7 150.1,136.5 150.5,136.2 150.8,136.3 151.2,136.7 151.5,137.6 151.9,138.6 152.2,139.6 152.6,140.7 152.9,142.1 153.3,143.5 153.6,144.8 154.0,145.9 154.4,146.8 154.7,147.6 155.1,148.4 155.4,149.0 155.8,149.6 156.1,150.2 156.5,150.7 156.8,151.2 157.2,151.6 157.5,152.0 157.9,152.4 158.2,152.7 158.6,153.0 158.9,153.2 159.3,153.5 159.6,153.7 160.0,153.9 160.3,154.2 160.7,154.5 161.0,154.9 161.4,155.2 161.7,155.6 162.1,156.0 162.4,156.3 162.8,156.7 163.1,157.1 163.5,157.6 163.8,158.0 164.2,158.4 164.5,158.9 164.9,159.3 165.2,159.7 165.6,160.0 165.9,160.4 166.3,160.8 166.6,161.2 167.0,161.5 167.3,161.8 167.7,162.1 168.0,162.4 168.4,162.6 168.7,162.8 169.1,162.9 169.4,163.1 169.8,163.2 170.1,163.4 170.5,163.5 170.8,163.6 171.2,163.6 171.5,163.7 171.9,163.7 172.2,163.7 172.6,163.5 172.9,163.1 173.3,162.4 173.6,161.5 174.0,159.9 174.3,157.5 174.7,155.1 175.0,152.7 175.4,150.5 175.7,150.2 176.1,151.1 176.4,152.6 176.8,154.9 177.1,157.9 177.5,160.2 177.8,161.5 178.2,162.7 178.5,163.5 178.9,164.0 179.2,164.3 179.6,164.5 179.9,164.6 180.3,164.8 180.6,164.9 181.0,165.0 181.3,165.1 181.7,165.1 182.0,165.2 182.4,165.2 182.7,165.3 183.1,165.3 183.4,165.4 183.8,165.5 184.1,165.6 184.5,165.7 184.8,165.8 185.2,165.9 185.5,166.0 185.9,166.1 186.2,166.2 186.6,166.3 186.9,166.4 187.3,166.5 187.6,166.6 188.0,166.7 188.3,166.7 188.7,166.8 189.0,166.8 189.4,166.8 189.7,166.8 190.1,166.8 190.4,166.8 190.8,166.7 191.1,166.7 191.5,166.6 191.8,166.5 192.2,166.5 192.5,166.4 192.9,166.3 193.2,166.3 193.6,166.2 193.9,166.1 194.3,166.0 194.6,165.8 195.0,165.7 195.3,165.6 195.7,165.5 196.0,165.4 196.4,165.3 196.7,165.2 197.1,165.1 197.4,165.0 197.8,164.8 198.1,164.7 198.5,164.6 198.8,164.5 199.2,164.5 199.5,164.4 199.9,164.3 200.2,164.2 200.6,164.2 200.9,164.1 201.3,164.0 201.6,164.0 202.0,163.9 202.3,163.9 202.7,163.9 203.0,163.9 203.4,163.9 203.8,163.9 204.1,163.9 204.5,164.0 204.8,164.0 205.2,164.0 205.5,164.1 205.9,164.1 206.2,164.1 206.6,164.1 206.9,164.1 207.3,164.1 207.6,164.1 208.0,164.0 208.3,164.0 208.7,164.0 209.0,163.9 209.4,163.9 209.7,163.8 210.1,163.8 210.4,163.8 210.8,163.7 211.1,163.7 211.5,163.7 211.8,163.6 212.2,163.6 212.5,163.5 212.9,163.5 213.2,163.5 213.6,163.4 213.9,163.4 214.3,163.4 214.6,163.4 215.0,163.4 215.3,163.5 215.7,163.5 216.0,163.5 216.4,163.6 216.7,163.6 217.1,163.6 217.4,163.7 217.8,163.7 218.1,163.8 218.5,163.8 218.8,163.9 219.2,163.9 219.5,164.0 219.9,164.0 220.2,164.1 220.6,164.2 220.9,164.3 221.3,164.3 221.6,164.4 222.0,164.5 222.3,164.6 222.7,164.6 223.0,164.7 223.4,164.8 223.7,164.8 224.1,164.9 224.4,165.0 224.8,165.1 225.1,165.1 225.5,165.2 225.8,165.2 226.2,165.3 226.5,165.3 226.9,165.3 227.2,165.4 227.6,165.4 227.9,165.4 228.3,165.4 228.6,165.5 229.0,165.4 229.3,165.4 229.7,165.2 230.0,165.1 230.4,164.9 230.7,164.7 231.1,164.2 231.4,163.7 231.8,163.4 232.1,163.1 232.5,162.7 232.8,162.5 233.2,162.3 233.5,162.3 233.9,162.6 234.2,163.0 234.6,163.4 234.9,163.8 235.3,164.3 235.6,164.9 236.0,165.3 236.3,165.6 236.7,165.9 237.0,166.1 237.4,166.4 237.7,166.5 238.1,166.7 238.4,166.7 238.8,166.8 239.1,166.9 239.5,166.9 239.8,167.0 240.2,167.0 240.5,167.1 240.9,167.1 241.2,167.1 241.6,167.2 241.9,167.2 242.3,167.2 242.6,167.2 243.0,167.3 243.3,167.3 243.7,167.3 244.0,167.3 244.4,167.3 244.7,167.4 245.1,167.4 245.4,167.4 245.8,167.4 246.1,167.4 246.5,167.4 246.8,167.4 247.2,167.4 247.5,167.5 247.9,167.5 248.2,167.5 248.6,167.5 248.9,167.5 249.3,167.5 249.6,167.5 250.0,167.5 250.3,167.6 250.7,167.6 251.0,167.6 251.4,167.6 251.7,167.6 252.1,167.6 252.4,167.6 252.8,167.6 253.1,167.6 253.5,167.6" stroke="#f27878" stroke-width="1.1"/><path d="M53.8,143.1 54.2,142.7 54.5,141.9 54.9,141.0 55.2,140.2 55.6,139.4 55.9,138.4 56.3,137.3 56.6,136.4 57.0,135.7 57.3,135.2 57.7,135.1 58.0,135.4 58.4,135.9 58.7,136.5 59.1,137.0 59.4,137.6 59.8,137.9 60.1,138.0 60.5,137.5 60.8,136.4 61.2,134.8 61.5,132.9 61.9,129.9 62.2,125.3 62.6,119.9 62.9,113.5 63.3,105.6 63.6,95.8 64.0,83.9 64.3,71.9 64.7,61.3 65.0,50.9 65.4,41.5 65.7,34.2 66.1,28.1 66.4,23.5 66.8,23.1 67.1,27.7 67.5,34.2 67.8,42.4 68.2,52.9 68.5,62.9 68.9,70.1 69.2,75.8 69.6,80.8 69.9,85.3 70.3,89.4 70.6,93.1 71.0,96.6 71.3,99.8 71.7,102.8 72.0,105.8 72.4,108.5 72.7,111.2 73.1,114.1 73.4,117.2 73.8,120.4 74.1,123.8 74.5,127.1 74.8,130.6 75.2,134.2 75.5,137.7 75.9,140.6 76.2,142.9 76.6,145.0 76.9,146.9 77.3,148.7 77.6,150.3 78.0,151.8 78.3,153.3 78.7,154.7 79.0,156.1 79.4,157.5 79.7,158.8 80.1,160.0 80.4,161.1 80.8,162.0 81.1,162.7 81.5,163.3 81.8,163.9 82.2,164.4 82.5,164.9 82.9,165.3 83.2,165.6 83.6,165.8 83.9,165.9 84.3,166.0 84.6,166.0 85.0,166.1 85.3,166.1 85.7,166.1 86.0,166.1 86.4,166.0 86.7,165.8 87.1,165.4 87.4,164.9 87.8,164.4 88.1,163.6 88.5,162.5 88.8,161.0 89.2,159.4 89.5,157.8 89.9,155.9 90.2,153.7 90.6,151.3 90.9,148.8 91.3,146.3 91.6,143.9 92.0,141.7 92.3,139.4 92.7,137.1 93.0,135.0 93.4,133.1 93.7,131.3 94.1,129.6 94.4,128.1 94.8,127.1 95.1,126.5 95.5,126.2 95.8,126.7 96.2,128.0 96.5,129.5 96.9,131.2 97.2,133.4 97.6,135.6 97.9,137.7 98.3,139.5 98.6,141.3 99.0,142.9 99.3,144.3 99.7,145.5 100.0,146.7 100.4,147.6 100.7,148.0 101.1,147.9 101.4,147.9 101.8,147.8 102.1,147.7 102.5,147.8 102.8,148.3 103.2,149.1 103.5,150.1 103.9,150.9 104.3,151.5 104.6,152.0 105.0,152.6 105.3,153.1 105.7,153.6 106.0,154.1 106.4,154.6 106.7,155.1 107.1,155.7 107.4,156.2 107.8,156.8 108.1,157.3 108.5,157.9 108.8,158.4 109.2,158.9 109.5,159.4 109.9,159.9 110.2,160.3 110.6,160.7 110.9,161.1 111.3,161.5 111.6,161.9 112.0,162.3 112.3,162.6 112.7,163.0 113.0,163.3 113.4,163.6 113.7,163.8 114.1,164.1 114.4,164.4 114.8,164.7 115.1,164.9 115.5,165.1 115.8,165.4 116.2,165.6 116.5,165.8 116.9,165.9 117.2,166.1 117.6,166.2 117.9,166.3 118.3,166.4 118.6,166.5 119.0,166.6 119.3,166.6 119.7,166.7 120.0,166.8 120.4,166.8 120.7,166.9 121.1,166.9 121.4,166.9 121.8,166.9 122.1,166.9 122.5,166.9 122.8,166.9 123.2,166.9 123.5,166.9 123.9,166.9 124.2,166.9 124.6,166.9 124.9,166.9 125.3,166.9 125.6,166.8 126.0,166.7 126.3,166.5 126.7,166.4 127.0,166.2 127.4,166.0 127.7,165.8 128.1,165.6 128.4,165.4 128.8,165.2 129.1,165.0 129.5,164.8 129.8,164.5 130.2,164.2 130.5,164.0 130.9,163.6 131.2,163.3 131.6,163.0 131.9,162.6 132.3,162.3 132.6,161.9 133.0,161.5 133.3,161.1 133.7,160.7 134.0,160.3 134.4,159.8 134.7,159.3 135.1,158.8 135.4,158.3 135.8,157.7 136.1,157.1 136.5,156.5 136.8,155.8 137.2,155.1 137.5,154.4 137.9,153.5 138.2,152.5 138.6,151.5 138.9,150.3 139.3,148.9 139.6,147.5 140.0,145.8 140.3,144.1 140.7,142.2 141.0,140.1 141.4,137.9 141.7,135.6 142.1,133.2 142.4,130.7 142.8,128.2 143.1,125.8 143.5,123.5 143.8,121.4 144.2,119.5 144.5,117.7 144.9,116.2 145.2,114.9 145.6,113.6 145.9,112.5 146.3,111.5 146.6,110.7 147.0,109.8 147.3,108.9 147.7,107.8 148.0,106.7 148.4,105.5 148.7,103.4 149.1,100.2 149.4,97.1 149.8,95.1 150.1,93.7 150.5,92.4 150.8,91.7 151.2,92.2 151.5,93.8 151.9,95.7 152.2,97.7 152.6,100.1 152.9,103.1 153.3,106.3 153.6,109.4 154.0,112.0 154.4,114.1 154.7,116.0 155.1,117.7 155.4,119.3 155.8,120.8 156.1,122.2 156.5,123.5 156.8,124.6 157.2,125.7 157.5,126.8 157.9,127.7 158.2,128.6 158.6,129.3 158.9,130.0 159.3,130.6 159.6,131.2 160.0,131.8 160.3,132.5 160.7,133.3 161.0,134.2 161.4,135.1 161.7,136.0 162.1,137.0 162.4,138.0 162.8,139.0 163.1,140.1 163.5,141.2 163.8,142.3 164.2,143.5 164.5,144.6 164.9,145.6 165.2,146.7 165.6,147.6 165.9,148.7 166.3,149.7 166.6,150.6 167.0,151.6 167.3,152.4 167.7,153.2 168.0,153.8 168.4,154.4 168.7,154.9 169.1,155.4 169.4,155.8 169.8,156.2 170.1,156.6 170.5,156.9 170.8,157.1 171.2,157.3 171.5,157.5 171.9,157.5 172.2,157.3 172.6,156.6 172.9,155.2 173.3,153.1 173.6,150.6 174.0,146.1 174.3,139.5 174.7,132.9 175.0,126.2 175.4,120.2 175.7,119.2 176.1,121.9 176.4,125.9 176.8,132.3 177.1,140.6 177.5,146.9 177.8,150.6 178.2,153.8 178.5,156.2 178.9,157.6 179.2,158.3 179.6,159.0 179.9,159.6 180.3,160.2 180.6,160.6 181.0,160.9 181.3,161.2 181.7,161.4 182.0,161.5 182.4,161.6 182.7,161.7 183.1,161.8 183.4,162.0 183.8,162.2 184.1,162.4 184.5,162.7 184.8,162.9 185.2,163.2 185.5,163.4 185.9,163.6 186.2,163.9 186.6,164.1 186.9,164.4 187.3,164.6 187.6,164.8 188.0,165.0 188.3,165.2 188.7,165.3 189.0,165.4 189.4,165.4 189.7,165.4 190.1,165.3 190.4,165.2 190.8,165.1 191.1,164.9 191.5,164.8 191.8,164.6 192.2,164.5 192.5,164.3 192.9,164.1 193.2,163.9 193.6,163.6 193.9,163.4 194.3,163.1 194.6,162.8 195.0,162.5 195.3,162.2 195.7,161.9 196.0,161.6 196.4,161.4 196.7,161.1 197.1,160.8 197.4,160.5 197.8,160.2 198.1,159.9 198.5,159.7 198.8,159.4 199.2,159.2 199.5,159.0 199.9,158.8 200.2,158.7 200.6,158.5 200.9,158.3 201.3,158.1 201.6,158.0 202.0,157.9 202.3,157.8 202.7,157.7 203.0,157.7 203.4,157.7 203.8,157.8 204.1,157.9 204.5,157.9 204.8,158.0 205.2,158.1 205.5,158.2 205.9,158.3 206.2,158.3 206.6,158.4 206.9,158.3 207.3,158.3 207.6,158.2 208.0,158.2 208.3,158.1 208.7,158.0 209.0,157.8 209.4,157.7 209.7,157.6 210.1,157.6 210.4,157.5 210.8,157.4 211.1,157.3 211.5,157.2 211.8,157.0 212.2,156.9 212.5,156.8 212.9,156.8 213.2,156.7 213.6,156.6 213.9,156.6 214.3,156.6 214.6,156.6 215.0,156.6 215.3,156.7 215.7,156.7 216.0,156.8 216.4,156.9 216.7,157.0 217.1,157.1 217.4,157.2 217.8,157.3 218.1,157.4 218.5,157.6 218.8,157.7 219.2,157.8 219.5,158.0 219.9,158.1 220.2,158.3 220.6,158.5 220.9,158.7 221.3,158.9 221.6,159.1 222.0,159.3 222.3,159.5 222.7,159.7 223.0,159.8 223.4,160.0 223.7,160.2 224.1,160.4 224.4,160.6 224.8,160.7 225.1,160.9 225.5,161.1 225.8,161.2 226.2,161.3 226.5,161.4 226.9,161.5 227.2,161.6 227.6,161.7 227.9,161.7 228.3,161.8 228.6,161.8 229.0,161.7 229.3,161.5 229.7,161.2 230.0,160.9 230.4,160.5 230.7,159.7 231.1,158.6 231.4,157.4 231.8,156.4 232.1,155.6 232.5,154.8 232.8,154.1 233.2,153.7 233.5,153.7 233.9,154.3 234.2,155.4 234.6,156.4 234.9,157.6 235.3,158.9 235.6,160.3 236.0,161.3 236.3,162.1 236.7,162.8 237.0,163.5 237.4,164.1 237.7,164.6 238.1,164.9 238.4,165.1 238.8,165.3 239.1,165.4 239.5,165.6 239.8,165.7 240.2,165.8 240.5,165.9 240.9,166.0 241.2,166.1 241.6,166.2 241.9,166.2 242.3,166.3 242.6,166.4 243.0,166.4 243.3,166.5 243.7,166.5 244.0,166.6 244.4,166.6 244.7,166.7 245.1,166.7 245.4,166.7 245.8,166.8 246.1,166.8 246.5,166.8 246.8,166.9 247.2,166.9 247.5,166.9 247.9,167.0 248.2,167.0 248.6,167.0 248.9,167.1 249.3,167.1 249.6,167.1 250.0,167.2 250.3,167.2 250.7,167.2 251.0,167.2 251.4,167.3 251.7,167.3 252.1,167.3 252.4,167.3 252.8,167.3 253.1,167.3 253.5,167.4" stroke="#94c645" stroke-width="1.22"/><path d="M53.8,143.1 54.2,142.7 54.5,141.9 54.9,141.0 55.2,140.2 55.6,139.4 55.9,138.4 56.3,137.3 56.6,136.4 57.0,135.7 57.3,135.2 57.7,135.1 58.0,135.4 58.4,135.9 58.7,136.5 59.1,137.0 59.4,137.6 59.8,137.9 60.1,138.0 60.5,137.5 60.8,136.4 61.2,134.8 61.5,132.9 61.9,129.9 62.2,125.3 62.6,119.9 62.9,113.5 63.3,105.6 63.6,95.8 64.0,83.9 64.3,71.9 64.7,61.3 65.0,50.9 65.4,41.5 65.7,34.2 66.1,28.1 66.4,23.5 66.8,23.1 67.1,27.7 67.5,34.2 67.8,42.4 68.2,52.9 68.5,62.9 68.9,70.1 69.2,75.8 69.6,80.8 69.9,85.3 70.3,89.4 70.6,93.1 71.0,96.6 71.3,99.8 71.7,102.8 72.0,105.8 72.4,108.5 72.7,111.2 73.1,114.1 73.4,117.2 73.8,120.4 74.1,123.8 74.5,127.1 74.8,130.6 75.2,134.2 75.5,137.7 75.9,140.6 76.2,142.9 76.6,145.0 76.9,146.9 77.3,148.7 77.6,150.3 78.0,151.8 78.3,153.3 78.7,154.7 79.0,156.1 79.4,157.5 79.7,158.8 80.1,160.0 80.4,161.1 80.8,162.0 81.1,162.7 81.5,163.3 81.8,163.9 82.2,164.4 82.5,164.9 82.9,165.3 83.2,165.6 83.6,165.8 83.9,165.9 84.3,166.0 84.6,166.0 85.0,166.1 85.3,166.1 85.7,166.1 86.0,166.1 86.4,166.1 86.7,165.8 87.1,165.5 87.4,165.0 87.8,164.5 88.1,163.8 88.5,162.7 88.8,161.3 89.2,159.8 89.5,158.3 89.9,156.5 90.2,154.4 90.6,152.1 90.9,149.8 91.3,147.4 91.6,145.2 92.0,143.1 92.3,140.9 92.7,138.8 93.0,136.8 93.4,135.0 93.7,133.3 94.1,131.6 94.4,130.2 94.8,129.3 95.1,128.7 95.5,128.4 95.8,129.0 96.2,130.2 96.5,131.6 96.9,133.2 97.2,135.2 97.6,137.4 97.9,139.3 98.3,141.1 98.6,142.7 99.0,144.3 99.3,145.6 99.7,146.7 100.0,147.9 100.4,148.7 100.7,149.1 101.1,149.0 101.4,149.0 101.8,148.9 102.1,148.8 102.5,148.9 102.8,149.4 103.2,150.2 103.5,151.1 103.9,151.8 104.3,152.4 104.6,152.9 105.0,153.4 105.3,153.9 105.7,154.3 106.0,154.8 106.4,155.3 106.7,155.8 107.1,156.3 107.4,156.9 107.8,157.4 108.1,157.9 108.5,158.4 108.8,158.9 109.2,159.4 109.5,159.9 109.9,160.3 110.2,160.7 110.6,161.1 110.9,161.5 111.3,161.9 111.6,162.2 112.0,162.6 112.3,162.9 112.7,163.2 113.0,163.5 113.4,163.8 113.7,164.1 114.1,164.3 114.4,164.6 114.8,164.8 115.1,165.1 115.5,165.3 115.8,165.5 116.2,165.7 116.5,165.9 116.9,166.0 117.2,166.2 117.6,166.3 117.9,166.4 118.3,166.5 118.6,166.5 119.0,166.6 119.3,166.7 119.7,166.8 120.0,166.8 120.4,166.9 120.7,166.9 121.1,166.9 121.4,167.0 121.8,167.0 122.1,167.0 122.5,167.0 122.8,166.9 123.2,166.9 123.5,166.9 123.9,166.9 124.2,166.9 124.6,166.9 124.9,166.9 125.3,166.9 125.6,166.8 126.0,166.7 126.3,166.6 126.7,166.4 127.0,166.3 127.4,166.1 127.7,165.9 128.1,165.8 128.4,165.6 128.8,165.4 129.1,165.3 129.5,165.1 129.8,164.9 130.2,164.6 130.5,164.4 130.9,164.2 131.2,163.9 131.6,163.6 131.9,163.3 132.3,163.0 132.6,162.7 133.0,162.4 133.3,162.1 133.7,161.8 134.0,161.4 134.4,161.0 134.7,160.6 135.1,160.2 135.4,159.8 135.8,159.3 136.1,158.9 136.5,158.4 136.8,157.9 137.2,157.4 137.5,156.9 137.9,156.4 138.2,155.7 138.6,155.1 138.9,154.4 139.3,153.6 139.6,152.7 140.0,151.8 140.3,150.7 140.7,149.6 141.0,148.4 141.4,147.1 141.7,145.6 142.1,144.1 142.4,142.4 142.8,140.7 143.1,138.9 143.5,137.2 143.8,135.5 144.2,133.8 144.5,132.2 144.9,130.7 145.2,129.2 145.6,127.6 145.9,126.1 146.3,124.6 146.6,123.2 147.0,121.8 147.3,120.3 147.7,118.8 148.0,117.2 148.4,115.6 148.7,113.3 149.1,110.2 149.4,107.3 149.8,105.3 150.1,103.9 150.5,102.7 150.8,102.1 151.2,102.5 151.5,103.9 151.9,105.6 152.2,107.4 152.6,109.5 152.9,112.1 153.3,115.0 153.6,117.7 154.0,119.9 154.4,121.8 154.7,123.4 155.1,125.0 155.4,126.4 155.8,127.7 156.1,128.9 156.5,130.0 156.8,131.0 157.2,132.0 157.5,132.8 157.9,133.6 158.2,134.4 158.6,135.0 158.9,135.6 159.3,136.1 159.6,136.6 160.0,137.1 160.3,137.7 160.7,138.4 161.0,139.1 161.4,139.9 161.7,140.7 162.1,141.6 162.4,142.4 162.8,143.3 163.1,144.2 163.5,145.1 163.8,146.1 164.2,147.0 164.5,148.0 164.9,148.9 165.2,149.7 165.6,150.6 165.9,151.4 166.3,152.3 166.6,153.1 167.0,153.8 167.3,154.5 167.7,155.1 168.0,155.6 168.4,156.1 168.7,156.5 169.1,156.8 169.4,157.1 169.8,157.4 170.1,157.7 170.5,157.8 170.8,158.0 171.2,158.0 171.5,158.1 171.9,158.0 172.2,157.8 172.6,157.1 172.9,155.6 173.3,153.6 173.6,151.1 174.0,146.8 174.3,140.2 174.7,133.8 175.0,127.1 175.4,121.3 175.7,120.2 176.1,122.8 176.4,126.7 176.8,133.0 177.1,141.1 177.5,147.3 177.8,150.9 178.2,154.0 178.5,156.4 178.9,157.7 179.2,158.5 179.6,159.1 179.9,159.7 180.3,160.2 180.6,160.6 181.0,160.9 181.3,161.2 181.7,161.4 182.0,161.5 182.4,161.6 182.7,161.7 183.1,161.8 183.4,162.0 183.8,162.2 184.1,162.4 184.5,162.7 184.8,163.0 185.2,163.2 185.5,163.5 185.9,163.7 186.2,163.9 186.6,164.2 186.9,164.4 187.3,164.7 187.6,164.9 188.0,165.1 188.3,165.3 188.7,165.4 189.0,165.5 189.4,165.5 189.7,165.5 190.1,165.5 190.4,165.4 190.8,165.4 191.1,165.3 191.5,165.2 191.8,165.0 192.2,164.9 192.5,164.8 192.9,164.7 193.2,164.5 193.6,164.3 193.9,164.1 194.3,163.9 194.6,163.6 195.0,163.4 195.3,163.2 195.7,162.9 196.0,162.7 196.4,162.5 196.7,162.3 197.1,162.0 197.4,161.8 197.8,161.6 198.1,161.3 198.5,161.1 198.8,160.9 199.2,160.7 199.5,160.6 199.9,160.4 200.2,160.3 200.6,160.1 200.9,160.0 201.3,159.9 201.6,159.8 202.0,159.7 202.3,159.6 202.7,159.5 203.0,159.5 203.4,159.5 203.8,159.6 204.1,159.6 204.5,159.7 204.8,159.8 205.2,159.9 205.5,159.9 205.9,160.0 206.2,160.0 206.6,160.0 206.9,160.0 207.3,160.0 207.6,159.9 208.0,159.9 208.3,159.8 208.7,159.7 209.0,159.6 209.4,159.5 209.7,159.5 210.1,159.4 210.4,159.3 210.8,159.2 211.1,159.1 211.5,159.1 211.8,159.0 212.2,158.9 212.5,158.8 212.9,158.7 213.2,158.7 213.6,158.6 213.9,158.6 214.3,158.6 214.6,158.6 215.0,158.6 215.3,158.7 215.7,158.7 216.0,158.8 216.4,158.8 216.7,158.9 217.1,159.0 217.4,159.1 217.8,159.2 218.1,159.3 218.5,159.4 218.8,159.5 219.2,159.6 219.5,159.7 219.9,159.9 220.2,160.0 220.6,160.2 220.9,160.3 221.3,160.5 221.6,160.7 222.0,160.8 222.3,161.0 222.7,161.1 223.0,161.3 223.4,161.4 223.7,161.6 224.1,161.7 224.4,161.9 224.8,162.0 225.1,162.1 225.5,162.3 225.8,162.4 226.2,162.5 226.5,162.5 226.9,162.6 227.2,162.7 227.6,162.8 227.9,162.8 228.3,162.8 228.6,162.9 229.0,162.8 229.3,162.6 229.7,162.4 230.0,162.1 230.4,161.8 230.7,161.2 231.1,160.3 231.4,159.3 231.8,158.4 232.1,157.8 232.5,157.1 232.8,156.6 233.2,156.2 233.5,156.2 233.9,156.7 234.2,157.6 234.6,158.4 234.9,159.4 235.3,160.5 235.6,161.6 236.0,162.5 236.3,163.1 236.7,163.7 237.0,164.3 237.4,164.8 237.7,165.1 238.1,165.4 238.4,165.6 238.8,165.7 239.1,165.9 239.5,166.0 239.8,166.1 240.2,166.2 240.5,166.3 240.9,166.3 241.2,166.4 241.6,166.5 241.9,166.5 242.3,166.6 242.6,166.6 243.0,166.7 243.3,166.7 243.7,166.7 244.0,166.8 244.4,166.8 244.7,166.9 245.1,166.9 245.4,166.9 245.8,166.9 246.1,167.0 246.5,167.0 246.8,167.0 247.2,167.0 247.5,167.1 247.9,167.1 248.2,167.1 248.6,167.1 248.9,167.2 249.3,167.2 249.6,167.2 250.0,167.2 250.3,167.2 250.7,167.3 251.0,167.3 251.4,167.3 251.7,167.3 252.1,167.3 252.4,167.3 252.8,167.3 253.1,167.4 253.5,167.4" stroke="#33a83a" stroke-width="1.22"/><path d="M53.8,152.7 54.2,152.5 54.5,152.0 54.9,151.5 55.2,151.0 55.6,150.4 55.9,149.8 56.3,149.2 56.6,148.6 57.0,148.2 57.3,147.9 57.7,147.9 58.0,148.0 58.4,148.3 58.7,148.7 59.1,149.0 59.4,149.3 59.8,149.6 60.1,149.6 60.5,149.3 60.8,148.6 61.2,147.7 61.5,146.5 61.9,144.7 62.2,141.8 62.6,138.5 62.9,134.7 63.3,129.8 63.6,123.9 64.0,116.6 64.3,109.3 64.7,102.8 65.0,96.5 65.4,90.7 65.7,86.2 66.1,82.5 66.4,79.7 66.8,79.5 67.1,82.3 67.5,86.2 67.8,91.3 68.2,97.7 68.5,103.8 68.9,108.2 69.2,111.7 69.6,114.7 69.9,117.4 70.3,119.9 70.6,122.2 71.0,124.3 71.3,126.3 71.7,128.1 72.0,130.0 72.4,131.6 72.7,133.3 73.1,135.0 73.4,136.9 73.8,138.9 74.1,140.9 74.5,143.0 74.8,145.1 75.2,147.3 75.5,149.4 75.9,151.2 76.2,152.6 76.6,153.9 76.9,155.1 77.3,156.1 77.6,157.1 78.0,158.0 78.3,158.9 78.7,159.8 79.0,160.7 79.4,161.5 79.7,162.3 80.1,163.1 80.4,163.7 80.8,164.3 81.1,164.7 81.5,165.1 81.8,165.4 82.2,165.7 82.5,166.0 82.9,166.3 83.2,166.5 83.6,166.6 83.9,166.7 84.3,166.7 84.6,166.7 85.0,166.7 85.3,166.8 85.7,166.8 86.0,166.8 86.4,166.7 86.7,166.6 87.1,166.3 87.4,166.1 87.8,165.7 88.1,165.3 88.5,164.6 88.8,163.7 89.2,162.7 89.5,161.7 89.9,160.6 90.2,159.3 90.6,157.8 90.9,156.3 91.3,154.8 91.6,153.4 92.0,152.0 92.3,150.6 92.7,149.3 93.0,148.0 93.4,146.9 93.7,145.8 94.1,144.7 94.4,143.8 94.8,143.2 95.1,142.8 95.5,142.7 95.8,143.0 96.2,143.8 96.5,144.7 96.9,145.7 97.2,147.0 97.6,148.4 97.9,149.6 98.3,150.7 98.6,151.8 99.0,152.8 99.3,153.6 99.7,154.3 100.0,155.1 100.4,155.6 100.7,155.8 101.1,155.8 101.4,155.8 101.8,155.7 102.1,155.7 102.5,155.7 102.8,156.0 103.2,156.5 103.5,157.1 103.9,157.6 104.3,157.9 104.6,158.3 105.0,158.6 105.3,158.9 105.7,159.2 106.0,159.5 106.4,159.8 106.7,160.1 107.1,160.5 107.4,160.8 107.8,161.2 108.1,161.5 108.5,161.8 108.8,162.1 109.2,162.4 109.5,162.7 109.9,163.0 110.2,163.3 110.6,163.5 110.9,163.8 111.3,164.0 111.6,164.2 112.0,164.5 112.3,164.7 112.7,164.9 113.0,165.1 113.4,165.2 113.7,165.4 114.1,165.6 114.4,165.7 114.8,165.9 115.1,166.1 115.5,166.2 115.8,166.3 116.2,166.5 116.5,166.6 116.9,166.7 117.2,166.8 117.6,166.8 117.9,166.9 118.3,166.9 118.6,167.0 119.0,167.1 119.3,167.1 119.7,167.1 120.0,167.2 120.4,167.2 120.7,167.2 121.1,167.3 121.4,167.3 121.8,167.3 122.1,167.3 122.5,167.3 122.8,167.3 123.2,167.3 123.5,167.3 123.9,167.3 124.2,167.3 124.6,167.3 124.9,167.3 125.3,167.2 125.6,167.2 126.0,167.1 126.3,167.0 126.7,166.9 127.0,166.8 127.4,166.7 127.7,166.6 128.1,166.5 128.4,166.4 128.8,166.3 129.1,166.1 129.5,166.0 129.8,165.9 130.2,165.7 130.5,165.5 130.9,165.4 131.2,165.2 131.6,165.0 131.9,164.8 132.3,164.6 132.6,164.4 133.0,164.2 133.3,163.9 133.7,163.7 134.0,163.4 134.4,163.2 134.7,162.9 135.1,162.6 135.4,162.3 135.8,162.1 136.1,161.8 136.5,161.5 136.8,161.2 137.2,161.0 137.5,160.7 137.9,160.4 138.2,160.1 138.6,159.9 138.9,159.6 139.3,159.3 139.6,159.1 140.0,158.9 140.3,158.6 140.7,158.4 141.0,158.2 141.4,158.1 141.7,157.9 142.1,157.7 142.4,157.5 142.8,157.3 143.1,157.1 143.5,156.9 143.8,156.7 144.2,156.5 144.5,156.2 144.9,155.9 145.2,155.5 145.6,154.8 145.9,154.1 146.3,153.2 146.6,152.2 147.0,150.9 147.3,149.4 147.7,147.8 148.0,146.0 148.4,144.1 148.7,141.6 149.1,138.5 149.4,135.5 149.8,133.1 150.1,131.2 150.5,129.4 150.8,128.1 151.2,127.6 151.5,127.8 151.9,128.3 152.2,129.0 152.6,129.9 152.9,131.3 153.3,133.0 153.6,134.5 154.0,135.8 154.4,136.9 154.7,137.9 155.1,138.9 155.4,139.7 155.8,140.6 156.1,141.3 156.5,142.0 156.8,142.7 157.2,143.3 157.5,143.9 157.9,144.5 158.2,145.0 158.6,145.4 158.9,145.8 159.3,146.1 159.6,146.5 160.0,146.8 160.3,147.3 160.7,147.7 161.0,148.2 161.4,148.8 161.7,149.3 162.1,149.9 162.4,150.5 162.8,151.0 163.1,151.7 163.5,152.3 163.8,153.0 164.2,153.6 164.5,154.3 164.9,154.9 165.2,155.5 165.6,156.1 165.9,156.6 166.3,157.2 166.6,157.8 167.0,158.3 167.3,158.8 167.7,159.2 168.0,159.6 168.4,159.9 168.7,160.2 169.1,160.5 169.4,160.7 169.8,161.0 170.1,161.2 170.5,161.3 170.8,161.5 171.2,161.6 171.5,161.7 171.9,161.8 172.2,161.8 172.6,161.5 172.9,160.8 173.3,159.8 173.6,158.5 174.0,156.2 174.3,152.6 174.7,149.2 175.0,145.6 175.4,142.4 175.7,141.9 176.1,143.3 176.4,145.5 176.8,148.8 177.1,153.3 177.5,156.6 177.8,158.6 178.2,160.3 178.5,161.5 178.9,162.2 179.2,162.6 179.6,162.9 179.9,163.2 180.3,163.4 180.6,163.5 181.0,163.7 181.3,163.8 181.7,163.9 182.0,164.0 182.4,164.0 182.7,164.1 183.1,164.2 183.4,164.3 183.8,164.4 184.1,164.5 184.5,164.7 184.8,164.8 185.2,165.0 185.5,165.1 185.9,165.3 186.2,165.4 186.6,165.6 186.9,165.7 187.3,165.9 187.6,166.0 188.0,166.1 188.3,166.2 188.7,166.3 189.0,166.4 189.4,166.4 189.7,166.4 190.1,166.3 190.4,166.3 190.8,166.2 191.1,166.2 191.5,166.1 191.8,166.0 192.2,165.9 192.5,165.8 192.9,165.8 193.2,165.6 193.6,165.5 193.9,165.4 194.3,165.2 194.6,165.1 195.0,164.9 195.3,164.7 195.7,164.6 196.0,164.4 196.4,164.3 196.7,164.1 197.1,164.0 197.4,163.8 197.8,163.7 198.1,163.5 198.5,163.4 198.8,163.2 199.2,163.1 199.5,163.0 199.9,162.9 200.2,162.8 200.6,162.7 200.9,162.6 201.3,162.5 201.6,162.5 202.0,162.4 202.3,162.3 202.7,162.3 203.0,162.3 203.4,162.3 203.8,162.3 204.1,162.4 204.5,162.4 204.8,162.5 205.2,162.5 205.5,162.6 205.9,162.6 206.2,162.6 206.6,162.7 206.9,162.6 207.3,162.6 207.6,162.6 208.0,162.5 208.3,162.5 208.7,162.4 209.0,162.4 209.4,162.3 209.7,162.3 210.1,162.2 210.4,162.2 210.8,162.1 211.1,162.1 211.5,162.0 211.8,161.9 212.2,161.9 212.5,161.8 212.9,161.8 213.2,161.7 213.6,161.7 213.9,161.7 214.3,161.7 214.6,161.7 215.0,161.7 215.3,161.7 215.7,161.8 216.0,161.8 216.4,161.9 216.7,161.9 217.1,162.0 217.4,162.0 217.8,162.1 218.1,162.2 218.5,162.2 218.8,162.3 219.2,162.4 219.5,162.4 219.9,162.5 220.2,162.6 220.6,162.7 220.9,162.9 221.3,163.0 221.6,163.1 222.0,163.2 222.3,163.3 222.7,163.4 223.0,163.5 223.4,163.6 223.7,163.7 224.1,163.8 224.4,163.9 224.8,164.0 225.1,164.0 225.5,164.1 225.8,164.2 226.2,164.3 226.5,164.3 226.9,164.4 227.2,164.4 227.6,164.5 227.9,164.5 228.3,164.5 228.6,164.5 229.0,164.5 229.3,164.4 229.7,164.2 230.0,164.0 230.4,163.8 230.7,163.4 231.1,162.8 231.4,162.1 231.8,161.6 232.1,161.2 232.5,160.7 232.8,160.4 233.2,160.1 233.5,160.1 233.9,160.5 234.2,161.0 234.6,161.6 234.9,162.2 235.3,163.0 235.6,163.7 236.0,164.3 236.3,164.7 236.7,165.1 237.0,165.5 237.4,165.8 237.7,166.0 238.1,166.2 238.4,166.3 238.8,166.4 239.1,166.5 239.5,166.6 239.8,166.7 240.2,166.7 240.5,166.8 240.9,166.8 241.2,166.9 241.6,166.9 241.9,167.0 242.3,167.0 242.6,167.0 243.0,167.0 243.3,167.1 243.7,167.1 244.0,167.1 244.4,167.2 244.7,167.2 245.1,167.2 245.4,167.2 245.8,167.2 246.1,167.3 246.5,167.3 246.8,167.3 247.2,167.3 247.5,167.3 247.9,167.3 248.2,167.4 248.6,167.4 248.9,167.4 249.3,167.4 249.6,167.4 250.0,167.4 250.3,167.4 250.7,167.5 251.0,167.5 251.4,167.5 251.7,167.5 252.1,167.5 252.4,167.5 252.8,167.5 253.1,167.5 253.5,167.5" stroke="#36acad" stroke-width="1.1"/><path d="M53.8,157.3 54.2,157.1 54.5,156.8 54.9,156.4 55.2,156.0 55.6,155.7 55.9,155.3 56.3,154.8 56.6,154.4 57.0,154.1 57.3,153.9 57.7,153.9 58.0,154.0 58.4,154.2 58.7,154.4 59.1,154.7 59.4,154.9 59.8,155.1 60.1,155.1 60.5,154.9 60.8,154.4 61.2,153.7 61.5,153.0 61.9,151.7 62.2,149.7 62.6,147.4 62.9,144.7 63.3,141.3 63.6,137.1 64.0,132.0 64.3,126.9 64.7,122.5 65.0,118.0 65.4,114.0 65.7,110.9 66.1,108.3 66.4,106.3 66.8,106.2 67.1,108.1 67.5,110.9 67.8,114.4 68.2,118.9 68.5,123.1 68.9,126.2 69.2,128.6 69.6,130.8 69.9,132.6 70.3,134.4 70.6,136.0 71.0,137.5 71.3,138.8 71.7,140.1 72.0,141.4 72.4,142.6 72.7,143.7 73.1,144.9 73.4,146.2 73.8,147.6 74.1,149.1 74.5,150.5 74.8,152.0 75.2,153.5 75.5,155.0 75.9,156.2 76.2,157.2 76.6,158.1 76.9,158.9 77.3,159.7 77.6,160.3 78.0,161.0 78.3,161.6 78.7,162.2 79.0,162.8 79.4,163.4 79.7,164.0 80.1,164.5 80.4,164.9 80.8,165.3 81.1,165.6 81.5,165.9 81.8,166.1 82.2,166.4 82.5,166.6 82.9,166.7 83.2,166.9 83.6,167.0 83.9,167.0 84.3,167.0 84.6,167.0 85.0,167.0 85.3,167.1 85.7,167.1 86.0,167.1 86.4,167.0 86.7,166.9 87.1,166.7 87.4,166.5 87.8,166.3 88.1,165.9 88.5,165.4 88.8,164.8 89.2,164.0 89.5,163.3 89.9,162.4 90.2,161.4 90.6,160.3 90.9,159.2 91.3,158.1 91.6,157.0 92.0,156.0 92.3,154.9 92.7,153.9 93.0,152.9 93.4,152.1 93.7,151.2 94.1,150.4 94.4,149.8 94.8,149.3 95.1,149.0 95.5,148.9 95.8,149.1 96.2,149.7 96.5,150.4 96.9,151.2 97.2,152.2 97.6,153.2 97.9,154.1 98.3,155.0 98.6,155.8 99.0,156.5 99.3,157.1 99.7,157.7 100.0,158.2 100.4,158.6 100.7,158.8 101.1,158.8 101.4,158.7 101.8,158.7 102.1,158.7 102.5,158.7 102.8,158.9 103.2,159.3 103.5,159.8 103.9,160.1 104.3,160.4 104.6,160.6 105.0,160.9 105.3,161.1 105.7,161.3 106.0,161.6 106.4,161.8 106.7,162.0 107.1,162.3 107.4,162.5 107.8,162.8 108.1,163.1 108.5,163.3 108.8,163.5 109.2,163.8 109.5,164.0 109.9,164.2 110.2,164.4 110.6,164.6 110.9,164.8 111.3,165.0 111.6,165.1 112.0,165.3 112.3,165.5 112.7,165.6 113.0,165.7 113.4,165.9 113.7,166.0 114.1,166.1 114.4,166.3 114.8,166.4 115.1,166.5 115.5,166.6 115.8,166.7 116.2,166.8 116.5,166.9 116.9,167.0 117.2,167.0 117.6,167.1 117.9,167.1 118.3,167.2 118.6,167.2 119.0,167.3 119.3,167.3 119.7,167.3 120.0,167.4 120.4,167.4 120.7,167.4 121.1,167.4 121.4,167.4 121.8,167.4 122.1,167.4 122.5,167.4 122.8,167.4 123.2,167.4 123.5,167.4 123.9,167.4 124.2,167.4 124.6,167.4 124.9,167.4 125.3,167.4 125.6,167.4 126.0,167.3 126.3,167.3 126.7,167.2 127.0,167.1 127.4,167.1 127.7,167.0 128.1,166.9 128.4,166.8 128.8,166.8 129.1,166.7 129.5,166.6 129.8,166.5 130.2,166.4 130.5,166.3 130.9,166.1 131.2,166.0 131.6,165.9 131.9,165.8 132.3,165.6 132.6,165.5 133.0,165.3 133.3,165.2 133.7,165.0 134.0,164.9 134.4,164.7 134.7,164.5 135.1,164.3 135.4,164.1 135.8,164.0 136.1,163.8 136.5,163.6 136.8,163.4 137.2,163.2 137.5,163.0 137.9,162.8 138.2,162.7 138.6,162.5 138.9,162.3 139.3,162.1 139.6,162.0 140.0,161.8 140.3,161.7 140.7,161.5 141.0,161.4 141.4,161.3 141.7,161.1 142.1,161.0 142.4,160.9 142.8,160.8 143.1,160.6 143.5,160.5 143.8,160.4 144.2,160.2 144.5,160.1 144.9,159.8 145.2,159.5 145.6,159.1 145.9,158.6 146.3,158.0 146.6,157.3 147.0,156.5 147.3,155.5 147.7,154.4 148.0,153.2 148.4,151.9 148.7,150.2 149.1,148.1 149.4,146.1 149.8,144.5 150.1,143.3 150.5,142.1 150.8,141.2 151.2,140.8 151.5,141.0 151.9,141.3 152.2,141.8 152.6,142.4 152.9,143.3 153.3,144.4 153.6,145.5 154.0,146.4 154.4,147.1 154.7,147.8 155.1,148.4 155.4,149.0 155.8,149.5 156.1,150.0 156.5,150.5 156.8,151.0 157.2,151.4 157.5,151.8 157.9,152.2 158.2,152.5 158.6,152.8 158.9,153.0 159.3,153.3 159.6,153.5 160.0,153.7 160.3,154.0 160.7,154.3 161.0,154.7 161.4,155.0 161.7,155.4 162.1,155.8 162.4,156.2 162.8,156.6 163.1,157.0 163.5,157.4 163.8,157.9 164.2,158.3 164.5,158.7 164.9,159.1 165.2,159.5 165.6,159.9 165.9,160.3 166.3,160.7 166.6,161.1 167.0,161.4 167.3,161.8 167.7,162.0 168.0,162.3 168.4,162.5 168.7,162.7 169.1,162.9 169.4,163.0 169.8,163.2 170.1,163.3 170.5,163.4 170.8,163.5 171.2,163.6 171.5,163.7 171.9,163.7 172.2,163.7 172.6,163.6 172.9,163.1 173.3,162.4 173.6,161.6 174.0,160.1 174.3,157.7 174.7,155.4 175.0,153.1 175.4,150.9 175.7,150.6 176.1,151.5 176.4,153.0 176.8,155.2 177.1,158.2 177.5,160.4 177.8,161.7 178.2,162.8 178.5,163.6 178.9,164.1 179.2,164.3 179.6,164.5 179.9,164.6 180.3,164.8 180.6,164.9 181.0,164.9 181.3,165.0 181.7,165.1 182.0,165.1 182.4,165.2 182.7,165.2 183.1,165.3 183.4,165.3 183.8,165.4 184.1,165.5 184.5,165.6 184.8,165.7 185.2,165.8 185.5,165.9 185.9,166.0 186.2,166.1 186.6,166.2 186.9,166.4 187.3,166.5 187.6,166.5 188.0,166.6 188.3,166.7 188.7,166.8 189.0,166.8 189.4,166.8 189.7,166.8 190.1,166.8 190.4,166.8 190.8,166.7 191.1,166.7 191.5,166.6 191.8,166.6 192.2,166.5 192.5,166.4 192.9,166.4 193.2,166.3 193.6,166.2 193.9,166.1 194.3,166.0 194.6,165.9 195.0,165.8 195.3,165.7 195.7,165.6 196.0,165.4 196.4,165.3 196.7,165.2 197.1,165.1 197.4,165.0 197.8,164.9 198.1,164.8 198.5,164.7 198.8,164.6 199.2,164.5 199.5,164.5 199.9,164.4 200.2,164.3 200.6,164.3 200.9,164.2 201.3,164.1 201.6,164.1 202.0,164.0 202.3,164.0 202.7,164.0 203.0,164.0 203.4,164.0 203.8,164.0 204.1,164.0 204.5,164.1 204.8,164.1 205.2,164.1 205.5,164.2 205.9,164.2 206.2,164.2 206.6,164.2 206.9,164.2 207.3,164.2 207.6,164.2 208.0,164.1 208.3,164.1 208.7,164.1 209.0,164.0 209.4,164.0 209.7,163.9 210.1,163.9 210.4,163.9 210.8,163.8 211.1,163.8 211.5,163.8 211.8,163.7 212.2,163.7 212.5,163.6 212.9,163.6 213.2,163.6 213.6,163.5 213.9,163.5 214.3,163.5 214.6,163.5 215.0,163.5 215.3,163.6 215.7,163.6 216.0,163.6 216.4,163.7 216.7,163.7 217.1,163.7 217.4,163.8 217.8,163.8 218.1,163.9 218.5,163.9 218.8,163.9 219.2,164.0 219.5,164.1 219.9,164.1 220.2,164.2 220.6,164.3 220.9,164.3 221.3,164.4 221.6,164.5 222.0,164.6 222.3,164.6 222.7,164.7 223.0,164.8 223.4,164.8 223.7,164.9 224.1,165.0 224.4,165.1 224.8,165.1 225.1,165.2 225.5,165.2 225.8,165.3 226.2,165.3 226.5,165.4 226.9,165.4 227.2,165.4 227.6,165.5 227.9,165.5 228.3,165.5 228.6,165.5 229.0,165.5 229.3,165.4 229.7,165.3 230.0,165.2 230.4,165.0 230.7,164.7 231.1,164.3 231.4,163.8 231.8,163.5 232.1,163.2 232.5,162.9 232.8,162.6 233.2,162.4 233.5,162.4 233.9,162.7 234.2,163.1 234.6,163.5 234.9,163.9 235.3,164.4 235.6,164.9 236.0,165.3 236.3,165.6 236.7,165.9 237.0,166.2 237.4,166.4 237.7,166.6 238.1,166.7 238.4,166.8 238.8,166.8 239.1,166.9 239.5,167.0 239.8,167.0 240.2,167.1 240.5,167.1 240.9,167.1 241.2,167.2 241.6,167.2 241.9,167.2 242.3,167.2 242.6,167.3 243.0,167.3 243.3,167.3 243.7,167.3 244.0,167.3 244.4,167.3 244.7,167.4 245.1,167.4 245.4,167.4 245.8,167.4 246.1,167.4 246.5,167.4 246.8,167.4 247.2,167.5 247.5,167.5 247.9,167.5 248.2,167.5 248.6,167.5 248.9,167.5 249.3,167.5 249.6,167.5 250.0,167.5 250.3,167.6 250.7,167.6 251.0,167.6 251.4,167.6 251.7,167.6 252.1,167.6 252.4,167.6 252.8,167.6 253.1,167.6 253.5,167.6" stroke="#3b88d2" stroke-width="1.1"/><path d="M53.8,165.6 54.2,165.6 54.5,165.5 54.9,165.4 55.2,165.4 55.6,165.3 55.9,165.2 56.3,165.1 56.6,165.0 57.0,165.0 57.3,164.9 57.7,164.9 58.0,164.9 58.4,165.0 58.7,165.0 59.1,165.1 59.4,165.1 59.8,165.2 60.1,165.2 60.5,165.1 60.8,165.0 61.2,164.9 61.5,164.7 61.9,164.5 62.2,164.0 62.6,163.6 62.9,163.0 63.3,162.3 63.6,161.4 64.0,160.4 64.3,159.3 64.7,158.4 65.0,157.5 65.4,156.6 65.7,156.0 66.1,155.5 66.4,155.1 66.8,155.0 67.1,155.4 67.5,156.0 67.8,156.7 68.2,157.7 68.5,158.5 68.9,159.2 69.2,159.7 69.6,160.1 69.9,160.5 70.3,160.9 70.6,161.2 71.0,161.5 71.3,161.8 71.7,162.1 72.0,162.3 72.4,162.6 72.7,162.8 73.1,163.1 73.4,163.3 73.8,163.6 74.1,163.9 74.5,164.2 74.8,164.5 75.2,164.8 75.5,165.1 75.9,165.4 76.2,165.6 76.6,165.8 76.9,166.0 77.3,166.1 77.6,166.3 78.0,166.4 78.3,166.5 78.7,166.6 79.0,166.8 79.4,166.9 79.7,167.0 80.1,167.1 80.4,167.2 80.8,167.3 81.1,167.4 81.5,167.4 81.8,167.5 82.2,167.5 82.5,167.5 82.9,167.6 83.2,167.6 83.6,167.6 83.9,167.6 84.3,167.6 84.6,167.6 85.0,167.6 85.3,167.6 85.7,167.6 86.0,167.6 86.4,167.6 86.7,167.6 87.1,167.6 87.4,167.5 87.8,167.5 88.1,167.4 88.5,167.3 88.8,167.2 89.2,167.0 89.5,166.8 89.9,166.7 90.2,166.4 90.6,166.2 90.9,166.0 91.3,165.7 91.6,165.5 92.0,165.3 92.3,165.0 92.7,164.8 93.0,164.6 93.4,164.4 93.7,164.3 94.1,164.1 94.4,163.9 94.8,163.8 95.1,163.8 95.5,163.8 95.8,163.8 96.2,163.9 96.5,164.1 96.9,164.2 97.2,164.5 97.6,164.7 97.9,164.9 98.3,165.1 98.6,165.2 99.0,165.4 99.3,165.5 99.7,165.6 100.0,165.8 100.4,165.8 100.7,165.9 101.1,165.9 101.4,165.9 101.8,165.9 102.1,165.9 102.5,165.9 102.8,165.9 103.2,166.0 103.5,166.1 103.9,166.2 104.3,166.2 104.6,166.3 105.0,166.3 105.3,166.4 105.7,166.4 106.0,166.5 106.4,166.5 106.7,166.6 107.1,166.6 107.4,166.7 107.8,166.7 108.1,166.8 108.5,166.8 108.8,166.9 109.2,166.9 109.5,167.0 109.9,167.0 110.2,167.1 110.6,167.1 110.9,167.2 111.3,167.2 111.6,167.2 112.0,167.3 112.3,167.3 112.7,167.3 113.0,167.4 113.4,167.4 113.7,167.4 114.1,167.4 114.4,167.5 114.8,167.5 115.1,167.5 115.5,167.5 115.8,167.6 116.2,167.6 116.5,167.6 116.9,167.6 117.2,167.6 117.6,167.6 117.9,167.7 118.3,167.7 118.6,167.7 119.0,167.7 119.3,167.7 119.7,167.7 120.0,167.7 120.4,167.7 120.7,167.7 121.1,167.7 121.4,167.7 121.8,167.7 122.1,167.7 122.5,167.7 122.8,167.7 123.2,167.7 123.5,167.7 123.9,167.7 124.2,167.7 124.6,167.7 124.9,167.7 125.3,167.7 125.6,167.7 126.0,167.7 126.3,167.7 126.7,167.7 127.0,167.7 127.4,167.6 127.7,167.6 128.1,167.6 128.4,167.6 128.8,167.6 129.1,167.6 129.5,167.5 129.8,167.5 130.2,167.5 130.5,167.5 130.9,167.5 131.2,167.4 131.6,167.4 131.9,167.4 132.3,167.3 132.6,167.3 133.0,167.3 133.3,167.3 133.7,167.2 134.0,167.2 134.4,167.2 134.7,167.1 135.1,167.1 135.4,167.0 135.8,167.0 136.1,167.0 136.5,166.9 136.8,166.9 137.2,166.8 137.5,166.8 137.9,166.8 138.2,166.7 138.6,166.7 138.9,166.6 139.3,166.6 139.6,166.6 140.0,166.5 140.3,166.5 140.7,166.5 141.0,166.5 141.4,166.4 141.7,166.4 142.1,166.4 142.4,166.4 142.8,166.3 143.1,166.3 143.5,166.3 143.8,166.2 144.2,166.2 144.5,166.2 144.9,166.1 145.2,166.1 145.6,166.0 145.9,165.9 146.3,165.7 146.6,165.6 147.0,165.4 147.3,165.2 147.7,165.0 148.0,164.7 148.4,164.5 148.7,164.1 149.1,163.7 149.4,163.3 149.8,162.9 150.1,162.7 150.5,162.4 150.8,162.2 151.2,162.2 151.5,162.2 151.9,162.3 152.2,162.3 152.6,162.5 152.9,162.7 153.3,162.9 153.6,163.1 154.0,163.3 154.4,163.5 154.7,163.6 155.1,163.7 155.4,163.9 155.8,164.0 156.1,164.1 156.5,164.2 156.8,164.3 157.2,164.4 157.5,164.4 157.9,164.5 158.2,164.6 158.6,164.7 158.9,164.7 159.3,164.8 159.6,164.8 160.0,164.9 160.3,164.9 160.7,165.0 161.0,165.1 161.4,165.1 161.7,165.2 162.1,165.3 162.4,165.4 162.8,165.4 163.1,165.5 163.5,165.6 163.8,165.7 164.2,165.8 164.5,165.9 164.9,166.0 165.2,166.1 165.6,166.1 165.9,166.2 166.3,166.3 166.6,166.4 167.0,166.5 167.3,166.5 167.7,166.6 168.0,166.6 168.4,166.7 168.7,166.7 169.1,166.8 169.4,166.8 169.8,166.8 170.1,166.9 170.5,166.9 170.8,166.9 171.2,166.9 171.5,166.9 171.9,166.9 172.2,167.0 172.6,166.9 172.9,166.8 173.3,166.7 173.6,166.5 174.0,166.2 174.3,165.7 174.7,165.2 175.0,164.7 175.4,164.3 175.7,164.2 176.1,164.4 176.4,164.7 176.8,165.2 177.1,165.8 177.5,166.3 177.8,166.5 178.2,166.8 178.5,166.9 178.9,167.0 179.2,167.1 179.6,167.1 179.9,167.1 180.3,167.2 180.6,167.2 181.0,167.2 181.3,167.2 181.7,167.2 182.0,167.2 182.4,167.3 182.7,167.3 183.1,167.3 183.4,167.3 183.8,167.3 184.1,167.3 184.5,167.3 184.8,167.4 185.2,167.4 185.5,167.4 185.9,167.4 186.2,167.5 186.6,167.5 186.9,167.5 187.3,167.5 187.6,167.5 188.0,167.6 188.3,167.6 188.7,167.6 189.0,167.6 189.4,167.6 189.7,167.6 190.1,167.6 190.4,167.6 190.8,167.6 191.1,167.6 191.5,167.6 191.8,167.5 192.2,167.5 192.5,167.5 192.9,167.5 193.2,167.5 193.6,167.5 193.9,167.4 194.3,167.4 194.6,167.4 195.0,167.4 195.3,167.4 195.7,167.3 196.0,167.3 196.4,167.3 196.7,167.3 197.1,167.2 197.4,167.2 197.8,167.2 198.1,167.2 198.5,167.2 198.8,167.1 199.2,167.1 199.5,167.1 199.9,167.1 200.2,167.1 200.6,167.1 200.9,167.1 201.3,167.0 201.6,167.0 202.0,167.0 202.3,167.0 202.7,167.0 203.0,167.0 203.4,167.0 203.8,167.0 204.1,167.0 204.5,167.0 204.8,167.0 205.2,167.0 205.5,167.0 205.9,167.1 206.2,167.1 206.6,167.1 206.9,167.1 207.3,167.1 207.6,167.0 208.0,167.0 208.3,167.0 208.7,167.0 209.0,167.0 209.4,167.0 209.7,167.0 210.1,167.0 210.4,167.0 210.8,167.0 211.1,167.0 211.5,167.0 211.8,167.0 212.2,166.9 212.5,166.9 212.9,166.9 213.2,166.9 213.6,166.9 213.9,166.9 214.3,166.9 214.6,166.9 215.0,166.9 215.3,166.9 215.7,166.9 216.0,166.9 216.4,166.9 216.7,166.9 217.1,167.0 217.4,167.0 217.8,167.0 218.1,167.0 218.5,167.0 218.8,167.0 219.2,167.0 219.5,167.0 219.9,167.0 220.2,167.1 220.6,167.1 220.9,167.1 221.3,167.1 221.6,167.1 222.0,167.1 222.3,167.1 222.7,167.2 223.0,167.2 223.4,167.2 223.7,167.2 224.1,167.2 224.4,167.2 224.8,167.2 225.1,167.3 225.5,167.3 225.8,167.3 226.2,167.3 226.5,167.3 226.9,167.3 227.2,167.3 227.6,167.3 227.9,167.3 228.3,167.3 228.6,167.3 229.0,167.3 229.3,167.3 229.7,167.3 230.0,167.3 230.4,167.2 230.7,167.2 231.1,167.1 231.4,167.0 231.8,166.9 232.1,166.8 232.5,166.8 232.8,166.7 233.2,166.7 233.5,166.7 233.9,166.7 234.2,166.8 234.6,166.9 234.9,167.0 235.3,167.1 235.6,167.2 236.0,167.3 236.3,167.4 236.7,167.4 237.0,167.5 237.4,167.5 237.7,167.5 238.1,167.6 238.4,167.6 238.8,167.6 239.1,167.6 239.5,167.6 239.8,167.6 240.2,167.6 240.5,167.7 240.9,167.7 241.2,167.7 241.6,167.7 241.9,167.7 242.3,167.7 242.6,167.7 243.0,167.7 243.3,167.7 243.7,167.7 244.0,167.7 244.4,167.7 244.7,167.7 245.1,167.7 245.4,167.7 245.8,167.7 246.1,167.7 246.5,167.7 246.8,167.7 247.2,167.7 247.5,167.7 247.9,167.7 248.2,167.7 248.6,167.7 248.9,167.7 249.3,167.7 249.6,167.7 250.0,167.7 250.3,167.7 250.7,167.8 251.0,167.8 251.4,167.8 251.7,167.8 252.1,167.8 252.4,167.8 252.8,167.8 253.1,167.8 253.5,167.8" stroke="#222294" stroke-width="1.1"/></g><rect x="53.8" y="7.4" width="199.7" height="160.6" fill="none" stroke="#5c5c5c" stroke-width="1"/><line x1="50.8" y1="167.8" x2="53.8" y2="167.8" stroke="#5c5c5c" stroke-width="1"/><line x1="52.0" y1="158.37" x2="53.8" y2="158.37" stroke="#5c5c5c" stroke-width="1"/><text x="48.8" y="170.8" font-family='"Liberation Sans", sans-serif' font-size="8.6" text-anchor="end" fill="#1a1a1a" >0.0</text><line x1="50.8" y1="148.94" x2="53.8" y2="148.94" stroke="#5c5c5c" stroke-width="1"/><line x1="52.0" y1="139.51" x2="53.8" y2="139.51" stroke="#5c5c5c" stroke-width="1"/><text x="48.3" y="151.94" font-family='"Liberation Sans", sans-serif' font-size="8.6" text-anchor="end" fill="#1a1a1a" >5.0x10<tspan dy="-3.3" font-size="5.6">8</tspan></text><line x1="50.8" y1="130.08" x2="53.8" y2="130.08" stroke="#5c5c5c" stroke-width="1"/><line x1="52.0" y1="120.64" x2="53.8" y2="120.64" stroke="#5c5c5c" stroke-width="1"/><text x="48.3" y="133.08" font-family='"Liberation Sans", sans-serif' font-size="8.6" text-anchor="end" fill="#1a1a1a" >1.0x10<tspan dy="-3.3" font-size="5.6">9</tspan></text><line x1="50.8" y1="111.21" x2="53.8" y2="111.21" stroke="#5c5c5c" stroke-width="1"/><line x1="52.0" y1="101.78" x2="53.8" y2="101.78" stroke="#5c5c5c" stroke-width="1"/><text x="48.3" y="114.21" font-family='"Liberation Sans", sans-serif' font-size="8.6" text-anchor="end" fill="#1a1a1a" >1.5x10<tspan dy="-3.3" font-size="5.6">9</tspan></text><line x1="50.8" y1="92.35" x2="53.8" y2="92.35" stroke="#5c5c5c" stroke-width="1"/><line x1="52.0" y1="82.92" x2="53.8" y2="82.92" stroke="#5c5c5c" stroke-width="1"/><text x="48.3" y="95.35" font-family='"Liberation Sans", sans-serif' font-size="8.6" text-anchor="end" fill="#1a1a1a" >2.0x10<tspan dy="-3.3" font-size="5.6">9</tspan></text><line x1="50.8" y1="73.49" x2="53.8" y2="73.49" stroke="#5c5c5c" stroke-width="1"/><line x1="52.0" y1="64.06" x2="53.8" y2="64.06" stroke="#5c5c5c" stroke-width="1"/><text x="48.3" y="76.49" font-family='"Liberation Sans", sans-serif' font-size="8.6" text-anchor="end" fill="#1a1a1a" >2.5x10<tspan dy="-3.3" font-size="5.6">9</tspan></text><line x1="50.8" y1="54.62" x2="53.8" y2="54.62" stroke="#5c5c5c" stroke-width="1"/><line x1="52.0" y1="45.19" x2="53.8" y2="45.19" stroke="#5c5c5c" stroke-width="1"/><text x="48.3" y="57.62" font-family='"Liberation Sans", sans-serif' font-size="8.6" text-anchor="end" fill="#1a1a1a" >3.0x10<tspan dy="-3.3" font-size="5.6">9</tspan></text><line x1="50.8" y1="35.76" x2="53.8" y2="35.76" stroke="#5c5c5c" stroke-width="1"/><line x1="52.0" y1="26.33" x2="53.8" y2="26.33" stroke="#5c5c5c" stroke-width="1"/><text x="48.3" y="38.76" font-family='"Liberation Sans", sans-serif' font-size="8.6" text-anchor="end" fill="#1a1a1a" >3.5x10<tspan dy="-3.3" font-size="5.6">9</tspan></text><line x1="50.8" y1="16.9" x2="53.8" y2="16.9" stroke="#5c5c5c" stroke-width="1"/><text x="48.3" y="19.9" font-family='"Liberation Sans", sans-serif' font-size="8.6" text-anchor="end" fill="#1a1a1a" >4.0x10<tspan dy="-3.3" font-size="5.6">9</tspan></text><line x1="78.32" y1="168.0" x2="78.32" y2="171.0" stroke="#5c5c5c" stroke-width="1"/><text x="78.32" y="181" font-family='"Liberation Sans", sans-serif' font-size="8.6" text-anchor="middle" fill="#1a1a1a" >500</text><line x1="113.36" y1="168.0" x2="113.36" y2="171.0" stroke="#5c5c5c" stroke-width="1"/><text x="113.36" y="181" font-family='"Liberation Sans", sans-serif' font-size="8.6" text-anchor="middle" fill="#1a1a1a" >550</text><line x1="148.39" y1="168.0" x2="148.39" y2="171.0" stroke="#5c5c5c" stroke-width="1"/><text x="148.39" y="181" font-family='"Liberation Sans", sans-serif' font-size="8.6" text-anchor="middle" fill="#1a1a1a" >600</text><line x1="183.43" y1="168.0" x2="183.43" y2="171.0" stroke="#5c5c5c" stroke-width="1"/><text x="183.43" y="181" font-family='"Liberation Sans", sans-serif' font-size="8.6" text-anchor="middle" fill="#1a1a1a" >650</text><line x1="218.46" y1="168.0" x2="218.46" y2="171.0" stroke="#5c5c5c" stroke-width="1"/><text x="218.46" y="181" font-family='"Liberation Sans", sans-serif' font-size="8.6" text-anchor="middle" fill="#1a1a1a" >700</text><line x1="253.5" y1="168.0" x2="253.5" y2="171.0" stroke="#5c5c5c" stroke-width="1"/><text x="253.5" y="181" font-family='"Liberation Sans", sans-serif' font-size="8.6" text-anchor="middle" fill="#1a1a1a" >750</text><line x1="60.81" y1="168.0" x2="60.81" y2="169.8" stroke="#5c5c5c" stroke-width="1"/><line x1="95.84" y1="168.0" x2="95.84" y2="169.8" stroke="#5c5c5c" stroke-width="1"/><line x1="130.88" y1="168.0" x2="130.88" y2="169.8" stroke="#5c5c5c" stroke-width="1"/><line x1="165.91" y1="168.0" x2="165.91" y2="169.8" stroke="#5c5c5c" stroke-width="1"/><line x1="200.95" y1="168.0" x2="200.95" y2="169.8" stroke="#5c5c5c" stroke-width="1"/><line x1="235.98" y1="168.0" x2="235.98" y2="169.8" stroke="#5c5c5c" stroke-width="1"/><text x="153.65" y="196.6" font-family='"Liberation Sans", sans-serif' font-size="11.3" text-anchor="middle" fill="#1a1a1a" >Wavelength (nm)</text><text transform="translate(13.2,83) rotate(-90)" font-family='"Liberation Sans", sans-serif' font-size="11.3" text-anchor="middle" fill="#1a1a1a">Intensity (counts)</text><text x="3.5" y="13.5" font-family='"Liberation Sans", sans-serif' font-size="12.6" text-anchor="start" fill="#1a1a1a" >(a)</text><line x1="180.7" y1="17.3" x2="201.7" y2="17.3" stroke="#f7ac74" stroke-width="1.2"/><text x="204" y="20.5" font-family='"Liberation Sans", sans-serif' font-size="9.1" text-anchor="start" fill="#1a1a1a" >SLF_0.2Pr</text><line x1="180.7" y1="28.47" x2="201.7" y2="28.47" stroke="#f27878" stroke-width="1.2"/><text x="204" y="31.67" font-family='"Liberation Sans", sans-serif' font-size="9.1" text-anchor="start" fill="#1a1a1a" >SLF_1Pr</text><line x1="180.7" y1="39.64" x2="201.7" y2="39.64" stroke="#94c645" stroke-width="1.2"/><text x="204" y="42.84" font-family='"Liberation Sans", sans-serif' font-size="9.1" text-anchor="start" fill="#1a1a1a" >SLF_2Pr</text><line x1="180.7" y1="50.81" x2="201.7" y2="50.81" stroke="#33a83a" stroke-width="1.2"/><text x="204" y="54.01" font-family='"Liberation Sans", sans-serif' font-size="9.1" text-anchor="start" fill="#1a1a1a" >SLF_3Pr</text><line x1="180.7" y1="61.98" x2="201.7" y2="61.98" stroke="#36acad" stroke-width="1.2"/><text x="204" y="65.18" font-family='"Liberation Sans", sans-serif' font-size="9.1" text-anchor="start" fill="#1a1a1a" >SLF_5Pr</text><line x1="180.7" y1="73.15" x2="201.7" y2="73.15" stroke="#3b88d2" stroke-width="1.2"/><text x="204" y="76.35" font-family='"Liberation Sans", sans-serif' font-size="9.1" text-anchor="start" fill="#1a1a1a" >SLF_10Pr</text><line x1="180.7" y1="84.32" x2="201.7" y2="84.32" stroke="#222294" stroke-width="1.2"/><text x="204" y="87.52" font-family='"Liberation Sans", sans-serif' font-size="9.1" text-anchor="start" fill="#1a1a1a" >SLF_25Pr</text><g clip-path="url(#cc)" fill="none" stroke-linejoin="round"><path d="M53.8,335.0 54.2,333.3 54.5,331.2 54.9,328.0 55.3,322.9 55.6,317.1 56.0,310.2 56.3,301.7 56.7,291.0 57.1,278.1 57.4,265.1 57.8,253.7 58.2,242.4 58.5,232.2 58.9,224.3 59.3,217.7 59.6,212.7 60.0,212.3 60.3,217.3 60.7,224.3 61.1,233.2 61.4,244.6 61.8,255.4 62.2,263.2 62.5,269.4 62.9,274.8 63.2,279.6 63.6,284.1 64.0,288.1 64.3,291.9 64.7,295.3 65.1,298.6 65.4,301.8 65.8,304.8 66.2,307.7 66.5,310.8 66.9,314.2 67.2,317.7 67.6,321.3 68.0,325.0 68.3,328.7 68.7,332.6 69.1,336.4 69.4,339.5 69.8,342.0 70.2,344.3 70.5,346.4 70.9,348.3 71.2,350.0 71.6,351.7 72.0,353.3 72.3,354.8 72.7,356.4 73.1,357.9 73.4,359.3 73.8,360.6 74.2,361.8 74.5,362.7 74.9,363.5 75.2,364.1 75.6,364.7 76.0,365.3 76.3,365.8 76.7,366.3 77.1,366.6 77.4,366.8 77.8,367.0 78.2,367.0 78.5,367.0 78.9,367.1 79.2,367.1 79.6,367.1 80.0,367.1 80.3,367.0 80.7,366.7 81.1,366.3 81.4,365.8 81.8,365.1 82.1,364.3 82.5,362.9 82.9,361.3 83.2,359.4 83.6,357.5 84.0,355.4 84.3,352.8 84.7,350.0 85.1,347.1 85.4,344.2 85.8,341.5 86.1,338.9 86.5,336.2 86.9,333.6 87.2,331.2 87.6,329.0 88.0,326.9 88.3,324.9 88.7,323.1 89.1,322.0 89.4,321.3 89.8,320.9 90.1,321.6 90.5,323.0 90.9,324.8 91.2,326.7 91.6,329.2 92.0,331.9 92.3,334.2 92.7,336.3 93.1,338.4 93.4,340.3 93.8,341.8 94.1,343.3 94.5,344.7 94.9,345.7 95.2,346.1 95.6,346.1 96.0,346.0 96.3,345.9 96.7,345.8 97.1,345.9 97.4,346.5 97.8,347.5 98.1,348.6 98.5,349.5 98.9,350.2 99.2,350.8 99.6,351.4 100.0,352.0 100.3,352.6 100.7,353.1 101.0,353.7 101.4,354.4 101.8,355.0 102.1,355.6 102.5,356.3 102.9,356.9 103.2,357.6 103.6,358.2 104.0,358.8 104.3,359.3 104.7,359.8 105.0,360.3 105.4,360.8 105.8,361.3 106.1,361.8 106.5,362.2 106.9,362.6 107.2,363.0 107.6,363.4 108.0,363.8 108.3,364.1 108.7,364.4 109.0,364.8 109.4,365.1 109.8,365.4 110.1,365.7 110.5,365.9 110.9,366.2 111.2,366.5 111.6,366.7 112.0,366.9 112.3,367.0 112.7,367.2 113.0,367.3 113.4,367.4 113.8,367.5 114.1,367.6 114.5,367.7 114.9,367.8 115.2,367.9 115.6,367.9 116.0,368.0 116.3,368.0 116.7,368.1 117.0,368.1 117.4,368.1 117.8,368.1 118.1,368.1 118.5,368.1 118.9,368.1 119.2,368.1 119.6,368.1 119.9,368.1 120.3,368.1 120.7,368.0 121.0,367.9 121.4,367.8 121.8,367.7 122.1,367.6 122.5,367.5 122.9,367.3 123.2,367.2 123.6,367.1 123.9,367.0 124.3,366.9 124.7,366.8 125.0,366.7 125.4,366.6 125.8,366.4 126.1,366.3 126.5,366.1 126.9,365.9 127.2,365.7 127.6,365.4 127.9,365.1 128.3,364.8 128.7,364.5 129.0,364.0 129.4,363.6 129.8,363.0 130.1,362.5 130.5,361.8 130.9,361.1 131.2,360.3 131.6,359.4 131.9,358.5 132.3,357.5 132.7,356.4 133.0,355.2 133.4,353.9 133.8,352.5 134.1,351.0 134.5,349.4 134.9,347.7 135.2,345.9 135.6,344.0 135.9,342.0 136.3,339.9 136.7,337.7 137.0,335.5 137.4,333.1 137.8,330.7 138.1,328.2 138.5,325.6 138.8,323.0 139.2,320.3 139.6,317.6 139.9,315.0 140.3,312.3 140.7,309.6 141.0,307.0 141.4,304.3 141.8,301.5 142.1,298.8 142.5,296.1 142.8,293.5 143.2,290.9 143.6,288.2 143.9,285.7 144.3,283.2 144.7,280.9 145.0,278.4 145.4,275.6 145.8,273.1 146.1,271.4 146.5,270.3 146.8,269.6 147.2,269.4 147.6,270.1 147.9,271.5 148.3,273.4 148.7,275.5 149.0,278.1 149.4,281.1 149.8,284.5 150.1,287.9 150.5,291.2 150.8,294.4 151.2,297.6 151.6,300.8 151.9,303.9 152.3,306.9 152.7,309.9 153.0,312.8 153.4,315.5 153.8,318.2 154.1,320.7 154.5,323.0 154.8,325.2 155.2,327.2 155.6,329.0 155.9,330.6 156.3,332.1 156.7,333.5 157.0,334.7 157.4,335.9 157.7,337.0 158.1,338.0 158.5,338.9 158.8,339.7 159.2,340.4 159.6,341.1 159.9,341.8 160.3,342.5 160.7,343.2 161.0,343.9 161.4,344.7 161.7,345.4 162.1,346.1 162.5,346.8 162.8,347.7 163.2,348.5 163.6,349.4 163.9,350.2 164.3,351.1 164.7,351.9 165.0,352.7 165.4,353.4 165.7,354.1 166.1,354.8 166.5,355.3 166.8,355.9 167.2,356.3 167.6,356.7 167.9,357.1 168.3,357.4 168.7,357.6 169.0,357.9 169.4,358.0 169.7,357.7 170.1,356.7 170.5,355.2 170.8,353.3 171.2,349.5 171.6,343.7 171.9,338.0 172.3,332.0 172.6,326.7 173.0,325.7 173.4,328.0 173.7,331.5 174.1,337.1 174.5,344.5 174.8,350.1 175.2,353.5 175.6,356.3 175.9,358.4 176.3,359.6 176.6,360.1 177.0,360.6 177.4,361.0 177.7,361.3 178.1,361.5 178.5,361.7 178.8,361.9 179.2,362.1 179.6,362.2 179.9,362.3 180.3,362.4 180.6,362.6 181.0,362.7 181.4,362.9 181.7,363.2 182.1,363.5 182.5,363.7 182.8,364.0 183.2,364.3 183.6,364.5 183.9,364.8 184.3,365.0 184.6,365.3 185.0,365.6 185.4,365.8 185.7,366.0 186.1,366.2 186.5,366.4 186.8,366.5 187.2,366.5 187.6,366.5 187.9,366.4 188.3,366.3 188.6,366.2 189.0,366.1 189.4,366.0 189.7,365.8 190.1,365.7 190.5,365.5 190.8,365.4 191.2,365.2 191.5,364.9 191.9,364.7 192.3,364.4 192.6,364.1 193.0,363.8 193.4,363.6 193.7,363.3 194.1,363.0 194.5,362.8 194.8,362.5 195.2,362.2 195.5,361.9 195.9,361.7 196.3,361.4 196.6,361.1 197.0,360.9 197.4,360.7 197.7,360.5 198.1,360.3 198.5,360.2 198.8,360.0 199.2,359.8 199.5,359.7 199.9,359.5 200.3,359.4 200.6,359.3 201.0,359.3 201.4,359.2 201.7,359.3 202.1,359.3 202.5,359.4 202.8,359.5 203.2,359.6 203.5,359.7 203.9,359.7 204.3,359.8 204.6,359.9 205.0,359.9 205.4,359.9 205.7,359.8 206.1,359.8 206.5,359.7 206.8,359.6 207.2,359.5 207.5,359.4 207.9,359.3 208.3,359.2 208.6,359.1 209.0,359.0 209.4,358.9 209.7,358.8 210.1,358.7 210.4,358.6 210.8,358.5 211.2,358.4 211.5,358.3 211.9,358.2 212.3,358.2 212.6,358.2 213.0,358.1 213.4,358.2 213.7,358.2 214.1,358.2 214.4,358.3 214.8,358.4 215.2,358.5 215.5,358.6 215.9,358.7 216.3,358.8 216.6,358.9 217.0,359.0 217.4,359.1 217.7,359.2 218.1,359.3 218.4,359.5 218.8,359.7 219.2,359.8 219.5,360.0 219.9,360.2 220.3,360.4 220.6,360.6 221.0,360.8 221.4,361.0 221.7,361.1 222.1,361.3 222.4,361.5 222.8,361.7 223.2,361.8 223.5,362.0 223.9,362.2 224.3,362.3 224.6,362.5 225.0,362.6 225.4,362.7 225.7,362.8 226.1,362.9 226.4,363.0 226.8,363.1 227.2,363.1 227.5,363.2 227.9,363.2 228.3,363.1 228.6,362.9 229.0,362.7 229.3,362.3 229.7,361.9 230.1,361.2 230.4,360.1 230.8,358.9 231.2,358.0 231.5,357.2 231.9,356.4 232.3,355.8 232.6,355.4 233.0,355.4 233.3,356.0 233.7,357.0 234.1,358.0 234.4,359.1 234.8,360.4 235.2,361.7 235.5,362.7 235.9,363.5 236.3,364.2 236.6,364.9 237.0,365.4 237.3,365.9 237.7,366.2 238.1,366.4 238.4,366.6 238.8,366.7 239.2,366.9 239.5,367.0 239.9,367.1 240.3,367.2 240.6,367.3 241.0,367.4 241.3,367.4 241.7,367.5 242.1,367.6 242.4,367.6 242.8,367.7 243.2,367.7 243.5,367.8 243.9,367.8 244.3,367.8 244.6,367.9 245.0,367.9 245.3,368.0 245.7,368.0 246.1,368.0 246.4,368.1 246.8,368.1 247.2,368.1 247.5,368.1 247.9,368.2 248.2,368.2 248.6,368.2 249.0,368.3 249.3,368.3 249.7,368.3 250.1,368.3 250.4,368.4 250.8,368.4 251.2,368.4 251.5,368.4 251.9,368.5 252.2,368.5 252.6,368.5 253.0,368.5 253.3,368.5 253.7,368.5" stroke="#f9b994" stroke-width="1.0"/><path d="M53.8,335.0 54.2,333.3 54.5,331.2 54.9,328.0 55.3,322.9 55.6,317.1 56.0,310.2 56.3,301.7 56.7,291.0 57.1,278.1 57.4,265.1 57.8,253.7 58.2,242.4 58.5,232.2 58.9,224.3 59.3,217.7 59.6,212.7 60.0,212.3 60.3,217.3 60.7,224.3 61.1,233.2 61.4,244.6 61.8,255.4 62.2,263.2 62.5,269.4 62.9,274.8 63.2,279.6 63.6,284.1 64.0,288.1 64.3,291.9 64.7,295.3 65.1,298.6 65.4,301.8 65.8,304.8 66.2,307.7 66.5,310.8 66.9,314.2 67.2,317.7 67.6,321.3 68.0,325.0 68.3,328.7 68.7,332.6 69.1,336.4 69.4,339.5 69.8,342.0 70.2,344.3 70.5,346.4 70.9,348.3 71.2,350.0 71.6,351.7 72.0,353.3 72.3,354.8 72.7,356.4 73.1,357.9 73.4,359.3 73.8,360.6 74.2,361.8 74.5,362.7 74.9,363.5 75.2,364.1 75.6,364.7 76.0,365.3 76.3,365.8 76.7,366.3 77.1,366.6 77.4,366.8 77.8,367.0 78.2,367.0 78.5,367.0 78.9,367.1 79.2,367.1 79.6,367.1 80.0,367.1 80.3,367.0 80.7,366.7 81.1,366.3 81.4,365.8 81.8,365.1 82.1,364.3 82.5,362.9 82.9,361.3 83.2,359.4 83.6,357.5 84.0,355.4 84.3,352.8 84.7,350.0 85.1,347.1 85.4,344.2 85.8,341.5 86.1,338.9 86.5,336.2 86.9,333.6 87.2,331.2 87.6,329.0 88.0,326.9 88.3,324.9 88.7,323.1 89.1,322.0 89.4,321.3 89.8,320.9 90.1,321.6 90.5,323.0 90.9,324.8 91.2,326.7 91.6,329.2 92.0,331.9 92.3,334.2 92.7,336.3 93.1,338.4 93.4,340.3 93.8,341.8 94.1,343.3 94.5,344.7 94.9,345.7 95.2,346.1 95.6,346.1 96.0,346.0 96.3,345.9 96.7,345.8 97.1,345.9 97.4,346.5 97.8,347.5 98.1,348.6 98.5,349.5 98.9,350.2 99.2,350.8 99.6,351.4 100.0,352.0 100.3,352.6 100.7,353.1 101.0,353.7 101.4,354.4 101.8,355.0 102.1,355.6 102.5,356.3 102.9,356.9 103.2,357.6 103.6,358.2 104.0,358.8 104.3,359.3 104.7,359.8 105.0,360.3 105.4,360.8 105.8,361.3 106.1,361.8 106.5,362.2 106.9,362.6 107.2,363.0 107.6,363.4 108.0,363.8 108.3,364.1 108.7,364.4 109.0,364.8 109.4,365.1 109.8,365.4 110.1,365.7 110.5,365.9 110.9,366.2 111.2,366.5 111.6,366.7 112.0,366.9 112.3,367.0 112.7,367.2 113.0,367.3 113.4,367.4 113.8,367.5 114.1,367.6 114.5,367.7 114.9,367.8 115.2,367.9 115.6,367.9 116.0,368.0 116.3,368.0 116.7,368.1 117.0,368.1 117.4,368.1 117.8,368.1 118.1,368.1 118.5,368.1 118.9,368.1 119.2,368.1 119.6,368.1 119.9,368.1 120.3,368.0 120.7,368.0 121.0,367.9 121.4,367.8 121.8,367.6 122.1,367.5 122.5,367.3 122.9,367.1 123.2,366.9 123.6,366.7 123.9,366.5 124.3,366.3 124.7,366.1 125.0,365.9 125.4,365.6 125.8,365.4 126.1,365.1 126.5,364.8 126.9,364.5 127.2,364.1 127.6,363.8 127.9,363.4 128.3,363.1 128.7,362.7 129.0,362.3 129.4,361.9 129.8,361.5 130.1,361.0 130.5,360.5 130.9,360.0 131.2,359.5 131.6,359.0 131.9,358.4 132.3,357.8 132.7,357.2 133.0,356.6 133.4,355.9 133.8,355.1 134.1,354.3 134.5,353.3 134.9,352.3 135.2,351.1 135.6,349.7 135.9,348.3 136.3,346.6 136.7,344.8 137.0,342.7 137.4,340.5 137.8,338.1 138.1,335.4 138.5,332.6 138.8,329.7 139.2,326.7 139.6,323.8 139.9,320.9 140.3,318.1 140.7,315.4 141.0,312.9 141.4,310.6 141.8,308.3 142.1,306.3 142.5,304.5 142.8,303.0 143.2,301.5 143.6,300.2 143.9,298.9 144.3,297.7 144.7,296.6 145.0,294.7 145.4,292.0 145.8,289.4 146.1,288.0 146.5,287.3 146.8,286.8 147.2,286.8 147.6,288.1 147.9,290.3 148.3,292.9 148.7,295.5 149.0,298.5 149.4,302.0 149.8,305.6 150.1,309.1 150.5,312.0 150.8,314.3 151.2,316.4 151.6,318.3 151.9,320.1 152.3,321.6 152.7,323.1 153.0,324.4 153.4,325.6 153.8,326.8 154.1,327.8 154.5,328.8 154.8,329.6 155.2,330.4 155.6,331.1 155.9,331.7 156.3,332.3 156.7,332.9 157.0,333.6 157.4,334.4 157.7,335.3 158.1,336.2 158.5,337.1 158.8,338.1 159.2,339.1 159.6,340.1 159.9,341.2 160.3,342.3 160.7,343.5 161.0,344.6 161.4,345.7 161.7,346.8 162.1,347.8 162.5,348.8 162.8,349.8 163.2,350.8 163.6,351.7 163.9,352.6 164.3,353.5 164.7,354.2 165.0,354.8 165.4,355.4 165.7,355.9 166.1,356.3 166.5,356.7 166.8,357.1 167.2,357.5 167.6,357.7 167.9,358.0 168.3,358.2 168.7,358.3 169.0,358.4 169.4,358.4 169.7,357.9 170.1,356.7 170.5,354.8 170.8,352.6 171.2,348.4 171.6,342.1 171.9,336.0 172.3,329.6 172.6,324.0 173.0,323.0 173.4,325.6 173.7,329.4 174.1,335.4 174.5,343.3 174.8,349.2 175.2,352.7 175.6,355.7 175.9,357.9 176.3,359.2 176.6,359.8 177.0,360.3 177.4,360.8 177.7,361.1 178.1,361.4 178.5,361.7 178.8,361.9 179.2,362.1 179.6,362.2 179.9,362.3 180.3,362.4 180.6,362.6 181.0,362.7 181.4,362.9 181.7,363.2 182.1,363.4 182.5,363.7 182.8,364.0 183.2,364.3 183.6,364.5 183.9,364.8 184.3,365.0 184.6,365.3 185.0,365.6 185.4,365.8 185.7,366.0 186.1,366.2 186.5,366.3 186.8,366.4 187.2,366.4 187.6,366.4 187.9,366.4 188.3,366.3 188.6,366.2 189.0,366.0 189.4,365.9 189.7,365.7 190.1,365.6 190.5,365.4 190.8,365.2 191.2,365.0 191.5,364.8 191.9,364.5 192.3,364.2 192.6,363.9 193.0,363.6 193.4,363.3 193.7,363.0 194.1,362.7 194.5,362.5 194.8,362.2 195.2,361.9 195.5,361.6 195.9,361.3 196.3,361.0 196.6,360.7 197.0,360.5 197.4,360.3 197.7,360.1 198.1,359.9 198.5,359.7 198.8,359.5 199.2,359.4 199.5,359.2 199.9,359.1 200.3,358.9 200.6,358.8 201.0,358.8 201.4,358.8 201.7,358.8 202.1,358.8 202.5,358.9 202.8,359.0 203.2,359.1 203.5,359.2 203.9,359.3 204.3,359.4 204.6,359.4 205.0,359.4 205.4,359.4 205.7,359.4 206.1,359.3 206.5,359.2 206.8,359.1 207.2,359.0 207.5,358.9 207.9,358.8 208.3,358.7 208.6,358.6 209.0,358.5 209.4,358.4 209.7,358.3 210.1,358.2 210.4,358.1 210.8,358.0 211.2,357.9 211.5,357.8 211.9,357.7 212.3,357.7 212.6,357.6 213.0,357.6 213.4,357.6 213.7,357.6 214.1,357.7 214.4,357.8 214.8,357.8 215.2,357.9 215.5,358.0 215.9,358.1 216.3,358.2 216.6,358.4 217.0,358.5 217.4,358.6 217.7,358.7 218.1,358.9 218.4,359.0 218.8,359.2 219.2,359.4 219.5,359.6 219.9,359.8 220.3,360.0 220.6,360.2 221.0,360.4 221.4,360.6 221.7,360.7 222.1,360.9 222.4,361.1 222.8,361.3 223.2,361.5 223.5,361.7 223.9,361.8 224.3,362.0 224.6,362.2 225.0,362.3 225.4,362.4 225.7,362.5 226.1,362.6 226.4,362.7 226.8,362.8 227.2,362.8 227.5,362.9 227.9,362.9 228.3,362.8 228.6,362.6 229.0,362.3 229.3,362.0 229.7,361.6 230.1,360.8 230.4,359.7 230.8,358.4 231.2,357.4 231.5,356.6 231.9,355.8 232.3,355.1 232.6,354.7 233.0,354.7 233.3,355.3 233.7,356.4 234.1,357.4 234.4,358.6 234.8,360.0 235.2,361.3 235.5,362.4 235.9,363.2 236.3,364.0 236.6,364.7 237.0,365.3 237.3,365.7 237.7,366.0 238.1,366.2 238.4,366.4 238.8,366.6 239.2,366.8 239.5,366.9 239.9,367.0 240.3,367.1 240.6,367.2 241.0,367.3 241.3,367.3 241.7,367.4 242.1,367.5 242.4,367.5 242.8,367.6 243.2,367.7 243.5,367.7 243.9,367.7 244.3,367.8 244.6,367.8 245.0,367.9 245.3,367.9 245.7,367.9 246.1,368.0 246.4,368.0 246.8,368.0 247.2,368.1 247.5,368.1 247.9,368.1 248.2,368.2 248.6,368.2 249.0,368.2 249.3,368.3 249.7,368.3 250.1,368.3 250.4,368.4 250.8,368.4 251.2,368.4 251.5,368.4 251.9,368.4 252.2,368.5 252.6,368.5 253.0,368.5 253.3,368.5 253.7,368.5" stroke="#f27878" stroke-width="1.0"/><path d="M53.8,335.0 54.2,333.3 54.5,331.2 54.9,328.0 55.3,322.9 55.6,317.1 56.0,310.2 56.3,301.7 56.7,291.0 57.1,278.1 57.4,265.1 57.8,253.7 58.2,242.4 58.5,232.2 58.9,224.3 59.3,217.7 59.6,212.7 60.0,212.3 60.3,217.3 60.7,224.3 61.1,233.2 61.4,244.6 61.8,255.4 62.2,263.2 62.5,269.4 62.9,274.8 63.2,279.6 63.6,284.1 64.0,288.1 64.3,291.9 64.7,295.3 65.1,298.6 65.4,301.8 65.8,304.8 66.2,307.7 66.5,310.8 66.9,314.2 67.2,317.7 67.6,321.3 68.0,325.0 68.3,328.7 68.7,332.6 69.1,336.4 69.4,339.5 69.8,342.0 70.2,344.3 70.5,346.4 70.9,348.3 71.2,350.0 71.6,351.7 72.0,353.3 72.3,354.8 72.7,356.4 73.1,357.9 73.4,359.3 73.8,360.6 74.2,361.8 74.5,362.7 74.9,363.5 75.2,364.1 75.6,364.8 76.0,365.3 76.3,365.8 76.7,366.3 77.1,366.6 77.4,366.9 77.8,367.0 78.2,367.0 78.5,367.1 78.9,367.1 79.2,367.1 79.6,367.2 80.0,367.2 80.3,367.1 80.7,366.8 81.1,366.4 81.4,365.9 81.8,365.3 82.1,364.5 82.5,363.2 82.9,361.7 83.2,359.9 83.6,358.1 84.0,356.1 84.3,353.7 84.7,351.1 85.1,348.4 85.4,345.7 85.8,343.2 86.1,340.7 86.5,338.2 86.9,335.8 87.2,333.5 87.6,331.5 88.0,329.5 88.3,327.6 88.7,326.0 89.1,324.9 89.4,324.2 89.8,323.9 90.1,324.5 90.5,325.9 90.9,327.5 91.2,329.4 91.6,331.7 92.0,334.1 92.3,336.4 92.7,338.4 93.1,340.3 93.4,342.1 93.8,343.5 94.1,344.9 94.5,346.2 94.9,347.1 95.2,347.5 95.6,347.5 96.0,347.4 96.3,347.3 96.7,347.3 97.1,347.3 97.4,347.9 97.8,348.8 98.1,349.8 98.5,350.7 98.9,351.3 99.2,351.9 99.6,352.5 100.0,353.0 100.3,353.6 100.7,354.1 101.0,354.7 101.4,355.3 101.8,355.9 102.1,356.5 102.5,357.1 102.9,357.7 103.2,358.3 103.6,358.8 104.0,359.4 104.3,359.9 104.7,360.4 105.0,360.9 105.4,361.3 105.8,361.8 106.1,362.2 106.5,362.6 106.9,363.0 107.2,363.4 107.6,363.8 108.0,364.1 108.3,364.4 108.7,364.7 109.0,365.0 109.4,365.3 109.8,365.6 110.1,365.9 110.5,366.1 110.9,366.4 111.2,366.6 111.6,366.8 112.0,367.0 112.3,367.1 112.7,367.3 113.0,367.4 113.4,367.5 113.8,367.6 114.1,367.7 114.5,367.8 114.9,367.8 115.2,367.9 115.6,368.0 116.0,368.0 116.3,368.1 116.7,368.1 117.0,368.1 117.4,368.1 117.8,368.1 118.1,368.1 118.5,368.1 118.9,368.1 119.2,368.1 119.6,368.1 119.9,368.1 120.3,368.0 120.7,368.0 121.0,367.9 121.4,367.8 121.8,367.6 122.1,367.5 122.5,367.3 122.9,367.1 123.2,366.9 123.6,366.7 123.9,366.4 124.3,366.2 124.7,366.0 125.0,365.7 125.4,365.5 125.8,365.2 126.1,364.8 126.5,364.5 126.9,364.1 127.2,363.8 127.6,363.4 127.9,363.0 128.3,362.6 128.7,362.2 129.0,361.8 129.4,361.3 129.8,360.9 130.1,360.4 130.5,359.8 130.9,359.3 131.2,358.7 131.6,358.1 131.9,357.4 132.3,356.7 132.7,356.0 133.0,355.3 133.4,354.4 133.8,353.5 134.1,352.5 134.5,351.3 134.9,350.0 135.2,348.6 135.6,347.0 135.9,345.2 136.3,343.3 136.7,341.3 137.0,339.0 137.4,336.7 137.8,334.1 138.1,331.5 138.5,328.9 138.8,326.2 139.2,323.5 139.6,321.0 139.9,318.7 140.3,316.6 140.7,314.8 141.0,313.2 141.4,311.7 141.8,310.3 142.1,309.1 142.5,308.1 142.8,307.1 143.2,306.2 143.6,305.2 143.9,304.1 144.3,302.9 144.7,301.5 145.0,299.2 145.4,295.8 145.8,292.4 146.1,290.2 146.5,288.7 146.8,287.3 147.2,286.6 147.6,287.1 147.9,288.8 148.3,290.9 148.7,293.1 149.0,295.6 149.4,298.9 149.8,302.4 150.1,305.8 150.5,308.6 150.8,310.8 151.2,312.9 151.6,314.8 151.9,316.5 152.3,318.1 152.7,319.6 153.0,321.0 153.4,322.3 153.8,323.5 154.1,324.6 154.5,325.6 154.8,326.5 155.2,327.3 155.6,328.0 155.9,328.7 156.3,329.3 156.7,330.0 157.0,330.8 157.4,331.6 157.7,332.6 158.1,333.6 158.5,334.6 158.8,335.7 159.2,336.7 159.6,337.8 159.9,339.0 160.3,340.2 160.7,341.4 161.0,342.6 161.4,343.8 161.7,345.0 162.1,346.1 162.5,347.2 162.8,348.3 163.2,349.4 163.6,350.4 163.9,351.4 164.3,352.3 164.7,353.2 165.0,353.8 165.4,354.4 165.7,355.0 166.1,355.5 166.5,356.0 166.8,356.5 167.2,356.9 167.6,357.2 167.9,357.5 168.3,357.7 168.7,357.8 169.0,357.8 169.4,357.7 169.7,356.9 170.1,355.3 170.5,353.1 170.8,350.4 171.2,345.6 171.6,338.3 171.9,331.2 172.3,323.9 172.6,317.5 173.0,316.4 173.4,319.3 173.7,323.7 174.1,330.6 174.5,339.6 174.8,346.4 175.2,350.4 175.6,353.8 175.9,356.4 176.3,357.9 176.6,358.8 177.0,359.5 177.4,360.2 177.7,360.7 178.1,361.2 178.5,361.5 178.8,361.8 179.2,362.0 179.6,362.2 179.9,362.3 180.3,362.4 180.6,362.5 181.0,362.7 181.4,362.9 181.7,363.2 182.1,363.4 182.5,363.7 182.8,364.0 183.2,364.3 183.6,364.5 183.9,364.8 184.3,365.0 184.6,365.3 185.0,365.5 185.4,365.8 185.7,366.0 186.1,366.2 186.5,366.3 186.8,366.4 187.2,366.4 187.6,366.4 187.9,366.3 188.3,366.2 188.6,366.0 189.0,365.9 189.4,365.7 189.7,365.6 190.1,365.4 190.5,365.2 190.8,365.0 191.2,364.8 191.5,364.5 191.9,364.2 192.3,363.9 192.6,363.6 193.0,363.2 193.4,362.9 193.7,362.6 194.1,362.3 194.5,362.0 194.8,361.7 195.2,361.4 195.5,361.1 195.9,360.8 196.3,360.5 196.6,360.2 197.0,359.9 197.4,359.7 197.7,359.5 198.1,359.3 198.5,359.1 198.8,358.9 199.2,358.7 199.5,358.5 199.9,358.4 200.3,358.3 200.6,358.2 201.0,358.1 201.4,358.1 201.7,358.1 202.1,358.2 202.5,358.2 202.8,358.3 203.2,358.4 203.5,358.5 203.9,358.6 204.3,358.7 204.6,358.8 205.0,358.8 205.4,358.8 205.7,358.7 206.1,358.6 206.5,358.6 206.8,358.5 207.2,358.3 207.5,358.2 207.9,358.1 208.3,358.0 208.6,357.9 209.0,357.8 209.4,357.7 209.7,357.6 210.1,357.5 210.4,357.4 210.8,357.2 211.2,357.1 211.5,357.0 211.9,357.0 212.3,356.9 212.6,356.9 213.0,356.8 213.4,356.9 213.7,356.9 214.1,356.9 214.4,357.0 214.8,357.1 215.2,357.2 215.5,357.3 215.9,357.4 216.3,357.5 216.6,357.7 217.0,357.8 217.4,357.9 217.7,358.0 218.1,358.2 218.4,358.4 218.8,358.5 219.2,358.7 219.5,359.0 219.9,359.2 220.3,359.4 220.6,359.6 221.0,359.8 221.4,360.0 221.7,360.2 222.1,360.4 222.4,360.6 222.8,360.8 223.2,361.0 223.5,361.2 223.9,361.4 224.3,361.5 224.6,361.7 225.0,361.8 225.4,362.0 225.7,362.1 226.1,362.2 226.4,362.3 226.8,362.3 227.2,362.4 227.5,362.5 227.9,362.5 228.3,362.4 228.6,362.2 229.0,361.9 229.3,361.5 229.7,361.1 230.1,360.3 230.4,359.1 230.8,357.7 231.2,356.7 231.5,355.8 231.9,354.9 232.3,354.2 232.6,353.8 233.0,353.7 233.3,354.4 233.7,355.5 234.1,356.7 234.4,357.9 234.8,359.4 235.2,360.8 235.5,362.0 235.9,362.8 236.3,363.6 236.6,364.4 237.0,365.0 237.3,365.5 237.7,365.8 238.1,366.1 238.4,366.3 238.8,366.4 239.2,366.6 239.5,366.7 239.9,366.9 240.3,367.0 240.6,367.1 241.0,367.2 241.3,367.2 241.7,367.3 242.1,367.4 242.4,367.4 242.8,367.5 243.2,367.6 243.5,367.6 243.9,367.7 244.3,367.7 244.6,367.8 245.0,367.8 245.3,367.8 245.7,367.9 246.1,367.9 246.4,368.0 246.8,368.0 247.2,368.0 247.5,368.1 247.9,368.1 248.2,368.1 248.6,368.2 249.0,368.2 249.3,368.2 249.7,368.3 250.1,368.3 250.4,368.3 250.8,368.4 251.2,368.4 251.5,368.4 251.9,368.4 252.2,368.5 252.6,368.5 253.0,368.5 253.3,368.5 253.7,368.5" stroke="#94c645" stroke-width="1.1"/><path d="M53.8,335.0 54.2,333.3 54.5,331.2 54.9,328.0 55.3,322.9 55.6,317.1 56.0,310.2 56.3,301.7 56.7,291.0 57.1,278.1 57.4,265.1 57.8,253.7 58.2,242.4 58.5,232.2 58.9,224.3 59.3,217.7 59.6,212.7 60.0,212.3 60.3,217.3 60.7,224.3 61.1,233.2 61.4,244.6 61.8,255.4 62.2,263.2 62.5,269.4 62.9,274.8 63.2,279.6 63.6,284.1 64.0,288.1 64.3,291.9 64.7,295.3 65.1,298.6 65.4,301.8 65.8,304.8 66.2,307.7 66.5,310.8 66.9,314.2 67.2,317.7 67.6,321.3 68.0,325.0 68.3,328.7 68.7,332.6 69.1,336.4 69.4,339.5 69.8,342.0 70.2,344.3 70.5,346.4 70.9,348.3 71.2,350.0 71.6,351.7 72.0,353.3 72.3,354.8 72.7,356.4 73.1,357.9 73.4,359.3 73.8,360.6 74.2,361.8 74.5,362.7 74.9,363.5 75.2,364.1 75.6,364.8 76.0,365.3 76.3,365.8 76.7,366.3 77.1,366.6 77.4,366.9 77.8,367.0 78.2,367.0 78.5,367.1 78.9,367.1 79.2,367.2 79.6,367.2 80.0,367.2 80.3,367.1 80.7,366.9 81.1,366.5 81.4,366.0 81.8,365.4 82.1,364.6 82.5,363.5 82.9,362.0 83.2,360.4 83.6,358.7 84.0,356.7 84.3,354.5 84.7,352.0 85.1,349.5 85.4,346.9 85.8,344.5 86.1,342.2 86.5,339.9 86.9,337.6 87.2,335.4 87.6,333.5 88.0,331.7 88.3,329.8 88.7,328.3 89.1,327.3 89.4,326.7 89.8,326.4 90.1,326.9 90.5,328.2 90.9,329.8 91.2,331.5 91.6,333.7 92.0,336.1 92.3,338.2 92.7,340.0 93.1,341.9 93.4,343.5 93.8,344.9 94.1,346.2 94.5,347.4 94.9,348.3 95.2,348.7 95.6,348.7 96.0,348.6 96.3,348.5 96.7,348.5 97.1,348.5 97.4,349.0 97.8,349.9 98.1,350.9 98.5,351.7 98.9,352.3 99.2,352.9 99.6,353.4 100.0,353.9 100.3,354.4 100.7,354.9 101.0,355.5 101.4,356.0 101.8,356.6 102.1,357.2 102.5,357.7 102.9,358.3 103.2,358.9 103.6,359.4 104.0,359.9 104.3,360.4 104.7,360.9 105.0,361.3 105.4,361.8 105.8,362.2 106.1,362.6 106.5,363.0 106.9,363.4 107.2,363.7 107.6,364.1 108.0,364.4 108.3,364.7 108.7,365.0 109.0,365.2 109.4,365.5 109.8,365.8 110.1,366.0 110.5,366.3 110.9,366.5 111.2,366.7 111.6,366.9 112.0,367.1 112.3,367.2 112.7,367.3 113.0,367.4 113.4,367.5 113.8,367.6 114.1,367.7 114.5,367.8 114.9,367.9 115.2,367.9 115.6,368.0 116.0,368.0 116.3,368.1 116.7,368.1 117.0,368.1 117.4,368.1 117.8,368.1 118.1,368.1 118.5,368.1 118.9,368.1 119.2,368.1 119.6,368.1 119.9,368.1 120.3,368.0 120.7,368.0 121.0,367.9 121.4,367.8 121.8,367.7 122.1,367.5 122.5,367.3 122.9,367.2 123.2,367.0 123.6,366.8 123.9,366.6 124.3,366.4 124.7,366.2 125.0,366.0 125.4,365.8 125.8,365.6 126.1,365.3 126.5,365.0 126.9,364.8 127.2,364.5 127.6,364.2 127.9,363.8 128.3,363.5 128.7,363.2 129.0,362.8 129.4,362.5 129.8,362.1 130.1,361.6 130.5,361.2 130.9,360.8 131.2,360.3 131.6,359.8 131.9,359.3 132.3,358.8 132.7,358.3 133.0,357.8 133.4,357.2 133.8,356.6 134.1,355.9 134.5,355.2 134.9,354.4 135.2,353.6 135.6,352.6 135.9,351.6 136.3,350.5 136.7,349.3 137.0,348.0 137.4,346.5 137.8,345.0 138.1,343.3 138.5,341.5 138.8,339.6 139.2,337.7 139.6,335.9 139.9,334.0 140.3,332.2 140.7,330.5 141.0,328.8 141.4,327.1 141.8,325.4 142.1,323.8 142.5,322.3 142.8,320.7 143.2,319.2 143.6,317.6 143.9,315.9 144.3,314.2 144.7,312.5 145.0,310.0 145.4,306.7 145.8,303.4 146.1,301.3 146.5,299.8 146.8,298.5 147.2,297.8 147.6,298.3 147.9,299.8 148.3,301.6 148.7,303.5 149.0,305.8 149.4,308.7 149.8,311.8 150.1,314.7 150.5,317.2 150.8,319.1 151.2,321.0 151.6,322.6 151.9,324.2 152.3,325.6 152.7,326.8 153.0,328.0 153.4,329.1 153.8,330.2 154.1,331.1 154.5,332.0 154.8,332.8 155.2,333.5 155.6,334.1 155.9,334.7 156.3,335.2 156.7,335.8 157.0,336.4 157.4,337.2 157.7,338.0 158.1,338.8 158.5,339.7 158.8,340.6 159.2,341.5 159.6,342.4 159.9,343.4 160.3,344.4 160.7,345.5 161.0,346.5 161.4,347.5 161.7,348.5 162.1,349.4 162.5,350.3 162.8,351.3 163.2,352.2 163.6,353.0 163.9,353.9 164.3,354.6 164.7,355.3 165.0,355.8 165.4,356.3 165.7,356.7 166.1,357.1 166.5,357.5 166.8,357.8 167.2,358.0 167.6,358.2 167.9,358.3 168.3,358.4 168.7,358.5 169.0,358.4 169.4,358.2 169.7,357.4 170.1,355.8 170.5,353.6 170.8,351.0 171.2,346.2 171.6,339.1 171.9,332.2 172.3,325.0 172.6,318.6 173.0,317.5 173.4,320.3 173.7,324.5 174.1,331.3 174.5,340.1 174.8,346.8 175.2,350.7 175.6,354.1 175.9,356.6 176.3,358.1 176.6,358.9 177.0,359.6 177.4,360.3 177.7,360.8 178.1,361.2 178.5,361.6 178.8,361.8 179.2,362.0 179.6,362.2 179.9,362.3 180.3,362.4 180.6,362.6 181.0,362.7 181.4,362.9 181.7,363.2 182.1,363.5 182.5,363.8 182.8,364.0 183.2,364.3 183.6,364.5 183.9,364.8 184.3,365.1 184.6,365.3 185.0,365.6 185.4,365.8 185.7,366.1 186.1,366.3 186.5,366.4 186.8,366.5 187.2,366.5 187.6,366.5 187.9,366.5 188.3,366.4 188.6,366.4 189.0,366.3 189.4,366.1 189.7,366.0 190.1,365.9 190.5,365.8 190.8,365.6 191.2,365.4 191.5,365.2 191.9,365.0 192.3,364.8 192.6,364.5 193.0,364.2 193.4,364.0 193.7,363.7 194.1,363.5 194.5,363.3 194.8,363.0 195.2,362.8 195.5,362.5 195.9,362.2 196.3,362.0 196.6,361.8 197.0,361.5 197.4,361.4 197.7,361.2 198.1,361.0 198.5,360.9 198.8,360.7 199.2,360.6 199.5,360.4 199.9,360.3 200.3,360.2 200.6,360.1 201.0,360.0 201.4,360.0 201.7,360.0 202.1,360.1 202.5,360.2 202.8,360.2 203.2,360.3 203.5,360.4 203.9,360.5 204.3,360.5 204.6,360.6 205.0,360.6 205.4,360.6 205.7,360.6 206.1,360.5 206.5,360.4 206.8,360.3 207.2,360.2 207.5,360.1 207.9,360.1 208.3,360.0 208.6,359.9 209.0,359.8 209.4,359.7 209.7,359.6 210.1,359.5 210.4,359.4 210.8,359.3 211.2,359.3 211.5,359.2 211.9,359.1 212.3,359.1 212.6,359.0 213.0,359.0 213.4,359.0 213.7,359.1 214.1,359.1 214.4,359.2 214.8,359.2 215.2,359.3 215.5,359.4 215.9,359.5 216.3,359.6 216.6,359.7 217.0,359.8 217.4,359.9 217.7,360.0 218.1,360.1 218.4,360.3 218.8,360.4 219.2,360.6 219.5,360.7 219.9,360.9 220.3,361.1 220.6,361.3 221.0,361.4 221.4,361.6 221.7,361.8 222.1,361.9 222.4,362.1 222.8,362.2 223.2,362.4 223.5,362.6 223.9,362.7 224.3,362.9 224.6,363.0 225.0,363.1 225.4,363.2 225.7,363.3 226.1,363.4 226.4,363.5 226.8,363.5 227.2,363.6 227.5,363.6 227.9,363.6 228.3,363.6 228.6,363.4 229.0,363.2 229.3,362.8 229.7,362.5 230.1,361.8 230.4,360.8 230.8,359.7 231.2,358.9 231.5,358.2 231.9,357.4 232.3,356.9 232.6,356.5 233.0,356.5 233.3,357.0 233.7,357.9 234.1,358.9 234.4,359.9 234.8,361.1 235.2,362.3 235.5,363.2 235.9,363.9 236.3,364.6 236.6,365.2 237.0,365.7 237.3,366.1 237.7,366.4 238.1,366.6 238.4,366.8 238.8,366.9 239.2,367.0 239.5,367.1 239.9,367.2 240.3,367.3 240.6,367.4 241.0,367.5 241.3,367.6 241.7,367.6 242.1,367.7 242.4,367.7 242.8,367.8 243.2,367.8 243.5,367.9 243.9,367.9 244.3,367.9 244.6,368.0 245.0,368.0 245.3,368.0 245.7,368.1 246.1,368.1 246.4,368.1 246.8,368.2 247.2,368.2 247.5,368.2 247.9,368.2 248.2,368.3 248.6,368.3 249.0,368.3 249.3,368.3 249.7,368.3 250.1,368.4 250.4,368.4 250.8,368.4 251.2,368.4 251.5,368.4 251.9,368.5 252.2,368.5 252.6,368.5 253.0,368.5 253.3,368.5 253.7,368.5" stroke="#33a83a" stroke-width="1.1"/><path d="M53.8,335.0 54.2,333.3 54.5,331.2 54.9,328.0 55.3,322.9 55.6,317.1 56.0,310.2 56.3,301.7 56.7,291.0 57.1,278.1 57.4,265.1 57.8,253.7 58.2,242.4 58.5,232.2 58.9,224.3 59.3,217.7 59.6,212.7 60.0,212.3 60.3,217.3 60.7,224.3 61.1,233.2 61.4,244.6 61.8,255.4 62.2,263.2 62.5,269.4 62.9,274.8 63.2,279.6 63.6,284.1 64.0,288.1 64.3,291.9 64.7,295.3 65.1,298.6 65.4,301.8 65.8,304.8 66.2,307.7 66.5,310.8 66.9,314.2 67.2,317.7 67.6,321.3 68.0,325.0 68.3,328.7 68.7,332.6 69.1,336.4 69.4,339.5 69.8,342.0 70.2,344.3 70.5,346.4 70.9,348.3 71.2,350.0 71.6,351.7 72.0,353.3 72.3,354.8 72.7,356.4 73.1,357.9 73.4,359.3 73.8,360.6 74.2,361.8 74.5,362.7 74.9,363.5 75.2,364.1 75.6,364.8 76.0,365.3 76.3,365.8 76.7,366.3 77.1,366.6 77.4,366.9 77.8,367.0 78.2,367.0 78.5,367.1 78.9,367.1 79.2,367.1 79.6,367.2 80.0,367.2 80.3,367.1 80.7,366.8 81.1,366.4 81.4,365.9 81.8,365.3 82.1,364.5 82.5,363.3 82.9,361.7 83.2,360.0 83.6,358.2 84.0,356.2 84.3,353.9 84.7,351.3 85.1,348.6 85.4,345.9 85.8,343.4 86.1,341.0 86.5,338.6 86.9,336.2 87.2,333.9 87.6,331.9 88.0,329.9 88.3,328.0 88.7,326.4 89.1,325.4 89.4,324.7 89.8,324.4 90.1,325.0 90.5,326.3 90.9,327.9 91.2,329.8 91.6,332.1 92.0,334.5 92.3,336.7 92.7,338.7 93.1,340.6 93.4,342.3 93.8,343.8 94.1,345.1 94.5,346.4 94.9,347.4 95.2,347.8 95.6,347.7 96.0,347.7 96.3,347.6 96.7,347.5 97.1,347.5 97.4,348.1 97.8,349.0 98.1,350.0 98.5,350.9 98.9,351.5 99.2,352.1 99.6,352.7 100.0,353.2 100.3,353.7 100.7,354.3 101.0,354.8 101.4,355.4 101.8,356.0 102.1,356.6 102.5,357.2 102.9,357.8 103.2,358.4 103.6,359.0 104.0,359.5 104.3,360.0 104.7,360.5 105.0,361.0 105.4,361.4 105.8,361.9 106.1,362.3 106.5,362.7 106.9,363.1 107.2,363.5 107.6,363.8 108.0,364.2 108.3,364.5 108.7,364.8 109.0,365.1 109.4,365.3 109.8,365.6 110.1,365.9 110.5,366.2 110.9,366.4 111.2,366.6 111.6,366.8 112.0,367.0 112.3,367.2 112.7,367.3 113.0,367.4 113.4,367.5 113.8,367.6 114.1,367.7 114.5,367.8 114.9,367.8 115.2,367.9 115.6,368.0 116.0,368.0 116.3,368.1 116.7,368.1 117.0,368.1 117.4,368.1 117.8,368.1 118.1,368.1 118.5,368.1 118.9,368.1 119.2,368.1 119.6,368.1 119.9,368.1 120.3,368.0 120.7,368.0 121.0,367.9 121.4,367.8 121.8,367.6 122.1,367.5 122.5,367.3 122.9,367.1 123.2,366.9 123.6,366.7 123.9,366.5 124.3,366.3 124.7,366.1 125.0,365.8 125.4,365.6 125.8,365.3 126.1,365.0 126.5,364.7 126.9,364.3 127.2,364.0 127.6,363.6 127.9,363.3 128.3,362.9 128.7,362.5 129.0,362.1 129.4,361.7 129.8,361.3 130.1,360.8 130.5,360.3 130.9,359.8 131.2,359.3 131.6,358.8 131.9,358.3 132.3,357.8 132.7,357.3 133.0,356.8 133.4,356.4 133.8,355.9 134.1,355.4 134.5,354.9 134.9,354.4 135.2,354.0 135.6,353.5 135.9,353.1 136.3,352.7 136.7,352.4 137.0,352.0 137.4,351.7 137.8,351.4 138.1,351.1 138.5,350.7 138.8,350.4 139.2,350.0 139.6,349.7 139.9,349.3 140.3,349.0 140.7,348.5 141.0,347.9 141.4,347.1 141.8,346.0 142.1,344.6 142.5,343.1 142.8,341.2 143.2,339.0 143.6,336.4 143.9,333.5 144.3,330.3 144.7,326.9 145.0,322.5 145.4,317.0 145.8,311.6 146.1,307.4 146.5,304.1 146.8,301.0 147.2,298.6 147.6,297.7 147.9,298.1 148.3,299.0 148.7,300.1 149.0,301.8 149.4,304.3 149.8,307.2 150.1,310.0 150.5,312.3 150.8,314.2 151.2,316.0 151.6,317.6 151.9,319.2 152.3,320.7 152.7,322.0 153.0,323.3 153.4,324.5 153.8,325.6 154.1,326.7 154.5,327.6 154.8,328.5 155.2,329.3 155.6,329.9 155.9,330.6 156.3,331.2 156.7,331.8 157.0,332.5 157.4,333.4 157.7,334.3 158.1,335.2 158.5,336.2 158.8,337.2 159.2,338.2 159.6,339.3 159.9,340.4 160.3,341.5 160.7,342.7 161.0,343.9 161.4,345.0 161.7,346.1 162.1,347.1 162.5,348.2 162.8,349.2 163.2,350.2 163.6,351.2 163.9,352.2 164.3,353.1 164.7,353.8 165.0,354.5 165.4,355.0 165.7,355.5 166.1,356.0 166.5,356.5 166.8,356.9 167.2,357.2 167.6,357.5 167.9,357.8 168.3,358.0 168.7,358.2 169.0,358.3 169.4,358.4 169.7,357.9 170.1,356.6 170.5,354.7 170.8,352.5 171.2,348.4 171.6,342.1 171.9,335.9 172.3,329.6 172.6,323.9 173.0,323.0 173.4,325.6 173.7,329.3 174.1,335.4 174.5,343.3 174.8,349.2 175.2,352.7 175.6,355.7 175.9,357.9 176.3,359.2 176.6,359.8 177.0,360.3 177.4,360.8 177.7,361.1 178.1,361.4 178.5,361.7 178.8,361.9 179.2,362.1 179.6,362.2 179.9,362.3 180.3,362.4 180.6,362.6 181.0,362.7 181.4,362.9 181.7,363.2 182.1,363.5 182.5,363.7 182.8,364.0 183.2,364.3 183.6,364.5 183.9,364.8 184.3,365.0 184.6,365.3 185.0,365.6 185.4,365.8 185.7,366.0 186.1,366.2 186.5,366.4 186.8,366.5 187.2,366.5 187.6,366.5 187.9,366.4 188.3,366.3 188.6,366.2 189.0,366.1 189.4,366.0 189.7,365.8 190.1,365.7 190.5,365.5 190.8,365.4 191.2,365.2 191.5,364.9 191.9,364.7 192.3,364.4 192.6,364.1 193.0,363.8 193.4,363.6 193.7,363.3 194.1,363.0 194.5,362.8 194.8,362.5 195.2,362.2 195.5,361.9 195.9,361.7 196.3,361.4 196.6,361.1 197.0,360.9 197.4,360.7 197.7,360.5 198.1,360.3 198.5,360.2 198.8,360.0 199.2,359.8 199.5,359.7 199.9,359.5 200.3,359.4 200.6,359.3 201.0,359.3 201.4,359.2 201.7,359.3 202.1,359.3 202.5,359.4 202.8,359.5 203.2,359.6 203.5,359.7 203.9,359.7 204.3,359.8 204.6,359.9 205.0,359.9 205.4,359.9 205.7,359.8 206.1,359.8 206.5,359.7 206.8,359.6 207.2,359.5 207.5,359.4 207.9,359.3 208.3,359.2 208.6,359.1 209.0,359.0 209.4,358.9 209.7,358.8 210.1,358.7 210.4,358.6 210.8,358.5 211.2,358.4 211.5,358.3 211.9,358.2 212.3,358.2 212.6,358.2 213.0,358.1 213.4,358.2 213.7,358.2 214.1,358.2 214.4,358.3 214.8,358.4 215.2,358.5 215.5,358.6 215.9,358.7 216.3,358.8 216.6,358.9 217.0,359.0 217.4,359.1 217.7,359.2 218.1,359.3 218.4,359.5 218.8,359.7 219.2,359.8 219.5,360.0 219.9,360.2 220.3,360.4 220.6,360.6 221.0,360.8 221.4,361.0 221.7,361.1 222.1,361.3 222.4,361.5 222.8,361.7 223.2,361.8 223.5,362.0 223.9,362.2 224.3,362.3 224.6,362.5 225.0,362.6 225.4,362.7 225.7,362.8 226.1,362.9 226.4,363.0 226.8,363.1 227.2,363.1 227.5,363.2 227.9,363.2 228.3,363.1 228.6,362.9 229.0,362.7 229.3,362.3 229.7,361.9 230.1,361.2 230.4,360.1 230.8,358.9 231.2,358.0 231.5,357.2 231.9,356.4 232.3,355.8 232.6,355.4 233.0,355.4 233.3,356.0 233.7,357.0 234.1,358.0 234.4,359.1 234.8,360.4 235.2,361.7 235.5,362.7 235.9,363.5 236.3,364.2 236.6,364.9 237.0,365.4 237.3,365.9 237.7,366.2 238.1,366.4 238.4,366.6 238.8,366.7 239.2,366.9 239.5,367.0 239.9,367.1 240.3,367.2 240.6,367.3 241.0,367.4 241.3,367.4 241.7,367.5 242.1,367.6 242.4,367.6 242.8,367.7 243.2,367.7 243.5,367.8 243.9,367.8 244.3,367.8 244.6,367.9 245.0,367.9 245.3,368.0 245.7,368.0 246.1,368.0 246.4,368.1 246.8,368.1 247.2,368.1 247.5,368.1 247.9,368.2 248.2,368.2 248.6,368.2 249.0,368.3 249.3,368.3 249.7,368.3 250.1,368.3 250.4,368.4 250.8,368.4 251.2,368.4 251.5,368.4 251.9,368.5 252.2,368.5 252.6,368.5 253.0,368.5 253.3,368.5 253.7,368.5" stroke="#36acad" stroke-width="1.0"/><path d="M53.8,335.0 54.2,333.3 54.5,331.2 54.9,328.0 55.3,322.9 55.6,317.1 56.0,310.2 56.3,301.7 56.7,291.0 57.1,278.1 57.4,265.1 57.8,253.7 58.2,242.4 58.5,232.2 58.9,224.3 59.3,217.7 59.6,212.7 60.0,212.3 60.3,217.3 60.7,224.3 61.1,233.2 61.4,244.6 61.8,255.4 62.2,263.2 62.5,269.4 62.9,274.8 63.2,279.6 63.6,284.1 64.0,288.1 64.3,291.9 64.7,295.3 65.1,298.6 65.4,301.8 65.8,304.8 66.2,307.7 66.5,310.8 66.9,314.2 67.2,317.7 67.6,321.3 68.0,325.0 68.3,328.7 68.7,332.6 69.1,336.4 69.4,339.5 69.8,342.0 70.2,344.3 70.5,346.4 70.9,348.3 71.2,350.0 71.6,351.7 72.0,353.3 72.3,354.8 72.7,356.4 73.1,357.9 73.4,359.3 73.8,360.6 74.2,361.8 74.5,362.7 74.9,363.5 75.2,364.1 75.6,364.7 76.0,365.3 76.3,365.8 76.7,366.3 77.1,366.6 77.4,366.8 77.8,367.0 78.2,367.0 78.5,367.0 78.9,367.1 79.2,367.1 79.6,367.1 80.0,367.1 80.3,367.0 80.7,366.7 81.1,366.3 81.4,365.8 81.8,365.1 82.1,364.3 82.5,362.9 82.9,361.3 83.2,359.4 83.6,357.5 84.0,355.4 84.3,352.8 84.7,350.0 85.1,347.1 85.4,344.2 85.8,341.5 86.1,338.9 86.5,336.2 86.9,333.6 87.2,331.2 87.6,329.0 88.0,326.9 88.3,324.9 88.7,323.1 89.1,322.0 89.4,321.3 89.8,320.9 90.1,321.6 90.5,323.0 90.9,324.8 91.2,326.7 91.6,329.2 92.0,331.9 92.3,334.2 92.7,336.3 93.1,338.4 93.4,340.3 93.8,341.8 94.1,343.3 94.5,344.7 94.9,345.7 95.2,346.1 95.6,346.1 96.0,346.0 96.3,345.9 96.7,345.8 97.1,345.9 97.4,346.5 97.8,347.5 98.1,348.6 98.5,349.5 98.9,350.2 99.2,350.8 99.6,351.4 100.0,352.0 100.3,352.6 100.7,353.1 101.0,353.7 101.4,354.4 101.8,355.0 102.1,355.6 102.5,356.3 102.9,356.9 103.2,357.6 103.6,358.2 104.0,358.8 104.3,359.3 104.7,359.8 105.0,360.3 105.4,360.8 105.8,361.3 106.1,361.8 106.5,362.2 106.9,362.6 107.2,363.0 107.6,363.4 108.0,363.8 108.3,364.1 108.7,364.4 109.0,364.8 109.4,365.1 109.8,365.4 110.1,365.7 110.5,365.9 110.9,366.2 111.2,366.5 111.6,366.7 112.0,366.9 112.3,367.0 112.7,367.2 113.0,367.3 113.4,367.4 113.8,367.5 114.1,367.6 114.5,367.7 114.9,367.8 115.2,367.9 115.6,367.9 116.0,368.0 116.3,368.0 116.7,368.1 117.0,368.1 117.4,368.1 117.8,368.1 118.1,368.1 118.5,368.1 118.9,368.1 119.2,368.1 119.6,368.1 119.9,368.1 120.3,368.0 120.7,368.0 121.0,367.9 121.4,367.8 121.8,367.6 122.1,367.5 122.5,367.3 122.9,367.1 123.2,366.9 123.6,366.7 123.9,366.5 124.3,366.3 124.7,366.1 125.0,365.9 125.4,365.7 125.8,365.4 126.1,365.1 126.5,364.8 126.9,364.5 127.2,364.2 127.6,363.8 127.9,363.5 128.3,363.1 128.7,362.8 129.0,362.4 129.4,362.0 129.8,361.6 130.1,361.1 130.5,360.7 130.9,360.2 131.2,359.7 131.6,359.2 131.9,358.7 132.3,358.2 132.7,357.8 133.0,357.3 133.4,356.9 133.8,356.4 134.1,355.9 134.5,355.5 134.9,355.0 135.2,354.6 135.6,354.1 135.9,353.7 136.3,353.4 136.7,353.0 137.0,352.7 137.4,352.4 137.8,352.1 138.1,351.8 138.5,351.4 138.8,351.1 139.2,350.8 139.6,350.4 139.9,350.1 140.3,349.7 140.7,349.3 141.0,348.8 141.4,348.0 141.8,346.9 142.1,345.6 142.5,344.1 142.8,342.3 143.2,340.2 143.6,337.7 143.9,334.9 144.3,331.8 144.7,328.5 145.0,324.3 145.4,319.0 145.8,313.9 146.1,309.8 146.5,306.6 146.8,303.6 147.2,301.4 147.6,300.5 147.9,300.8 148.3,301.7 148.7,302.8 149.0,304.4 149.4,306.8 149.8,309.6 150.1,312.3 150.5,314.5 150.8,316.3 151.2,318.0 151.6,319.6 151.9,321.1 152.3,322.5 152.7,323.8 153.0,325.1 153.4,326.2 153.8,327.3 154.1,328.3 154.5,329.2 154.8,330.1 155.2,330.8 155.6,331.5 155.9,332.0 156.3,332.6 156.7,333.3 157.0,334.0 157.4,334.8 157.7,335.6 158.1,336.5 158.5,337.5 158.8,338.4 159.2,339.4 159.6,340.4 159.9,341.5 160.3,342.6 160.7,343.7 161.0,344.8 161.4,345.9 161.7,347.0 162.1,348.0 162.5,349.0 162.8,349.9 163.2,350.9 163.6,351.9 163.9,352.8 164.3,353.6 164.7,354.4 165.0,355.0 165.4,355.5 165.7,356.0 166.1,356.4 166.5,356.8 166.8,357.2 167.2,357.5 167.6,357.8 167.9,358.0 168.3,358.3 168.7,358.5 169.0,358.6 169.4,358.6 169.7,358.2 170.1,357.1 170.5,355.4 170.8,353.3 171.2,349.4 171.6,343.4 171.9,337.6 172.3,331.5 172.6,326.1 173.0,325.2 173.4,327.7 173.7,331.3 174.1,337.0 174.5,344.5 174.8,350.1 175.2,353.5 175.6,356.3 175.9,358.4 176.3,359.6 176.6,360.1 177.0,360.6 177.4,361.0 177.7,361.3 178.1,361.5 178.5,361.7 178.8,361.9 179.2,362.1 179.6,362.2 179.9,362.3 180.3,362.4 180.6,362.6 181.0,362.7 181.4,362.9 181.7,363.2 182.1,363.5 182.5,363.7 182.8,364.0 183.2,364.3 183.6,364.5 183.9,364.8 184.3,365.0 184.6,365.3 185.0,365.6 185.4,365.8 185.7,366.0 186.1,366.2 186.5,366.4 186.8,366.5 187.2,366.5 187.6,366.5 187.9,366.4 188.3,366.3 188.6,366.2 189.0,366.1 189.4,366.0 189.7,365.8 190.1,365.7 190.5,365.5 190.8,365.4 191.2,365.2 191.5,364.9 191.9,364.7 192.3,364.4 192.6,364.1 193.0,363.8 193.4,363.6 193.7,363.3 194.1,363.0 194.5,362.8 194.8,362.5 195.2,362.2 195.5,361.9 195.9,361.7 196.3,361.4 196.6,361.1 197.0,360.9 197.4,360.7 197.7,360.5 198.1,360.3 198.5,360.2 198.8,360.0 199.2,359.8 199.5,359.7 199.9,359.5 200.3,359.4 200.6,359.3 201.0,359.3 201.4,359.2 201.7,359.3 202.1,359.3 202.5,359.4 202.8,359.5 203.2,359.6 203.5,359.7 203.9,359.7 204.3,359.8 204.6,359.9 205.0,359.9 205.4,359.9 205.7,359.8 206.1,359.8 206.5,359.7 206.8,359.6 207.2,359.5 207.5,359.4 207.9,359.3 208.3,359.2 208.6,359.1 209.0,359.0 209.4,358.9 209.7,358.8 210.1,358.7 210.4,358.6 210.8,358.5 211.2,358.4 211.5,358.3 211.9,358.2 212.3,358.2 212.6,358.2 213.0,358.1 213.4,358.2 213.7,358.2 214.1,358.2 214.4,358.3 214.8,358.4 215.2,358.5 215.5,358.6 215.9,358.7 216.3,358.8 216.6,358.9 217.0,359.0 217.4,359.1 217.7,359.2 218.1,359.3 218.4,359.5 218.8,359.7 219.2,359.8 219.5,360.0 219.9,360.2 220.3,360.4 220.6,360.6 221.0,360.8 221.4,361.0 221.7,361.1 222.1,361.3 222.4,361.5 222.8,361.7 223.2,361.8 223.5,362.0 223.9,362.2 224.3,362.3 224.6,362.5 225.0,362.6 225.4,362.7 225.7,362.8 226.1,362.9 226.4,363.0 226.8,363.1 227.2,363.1 227.5,363.2 227.9,363.2 228.3,363.1 228.6,362.9 229.0,362.7 229.3,362.3 229.7,361.9 230.1,361.2 230.4,360.1 230.8,358.9 231.2,358.0 231.5,357.2 231.9,356.4 232.3,355.8 232.6,355.4 233.0,355.4 233.3,356.0 233.7,357.0 234.1,358.0 234.4,359.1 234.8,360.4 235.2,361.7 235.5,362.7 235.9,363.5 236.3,364.2 236.6,364.9 237.0,365.4 237.3,365.9 237.7,366.2 238.1,366.4 238.4,366.6 238.8,366.7 239.2,366.9 239.5,367.0 239.9,367.1 240.3,367.2 240.6,367.3 241.0,367.4 241.3,367.4 241.7,367.5 242.1,367.6 242.4,367.6 242.8,367.7 243.2,367.7 243.5,367.8 243.9,367.8 244.3,367.8 244.6,367.9 245.0,367.9 245.3,368.0 245.7,368.0 246.1,368.0 246.4,368.1 246.8,368.1 247.2,368.1 247.5,368.1 247.9,368.2 248.2,368.2 248.6,368.2 249.0,368.3 249.3,368.3 249.7,368.3 250.1,368.3 250.4,368.4 250.8,368.4 251.2,368.4 251.5,368.4 251.9,368.5 252.2,368.5 252.6,368.5 253.0,368.5 253.3,368.5 253.7,368.5" stroke="#3b88d2" stroke-width="1.0"/><path d="M53.8,335.0 54.2,333.3 54.5,331.2 54.9,328.0 55.3,322.9 55.6,317.1 56.0,310.2 56.3,301.7 56.7,291.0 57.1,278.1 57.4,265.1 57.8,253.7 58.2,242.4 58.5,232.2 58.9,224.3 59.3,217.7 59.6,212.7 60.0,212.3 60.3,217.3 60.7,224.3 61.1,233.2 61.4,244.6 61.8,255.4 62.2,263.2 62.5,269.4 62.9,274.8 63.2,279.6 63.6,284.1 64.0,288.1 64.3,291.9 64.7,295.3 65.1,298.6 65.4,301.8 65.8,304.8 66.2,307.7 66.5,310.8 66.9,314.2 67.2,317.7 67.6,321.3 68.0,325.0 68.3,328.7 68.7,332.6 69.1,336.4 69.4,339.5 69.8,342.0 70.2,344.3 70.5,346.4 70.9,348.3 71.2,350.0 71.6,351.7 72.0,353.3 72.3,354.8 72.7,356.4 73.1,357.9 73.4,359.3 73.8,360.6 74.2,361.8 74.5,362.7 74.9,363.5 75.2,364.1 75.6,364.7 76.0,365.3 76.3,365.8 76.7,366.3 77.1,366.6 77.4,366.8 77.8,367.0 78.2,367.0 78.5,367.0 78.9,367.1 79.2,367.1 79.6,367.1 80.0,367.1 80.3,367.0 80.7,366.7 81.1,366.3 81.4,365.7 81.8,365.1 82.1,364.2 82.5,362.8 82.9,361.1 83.2,359.2 83.6,357.2 84.0,355.0 84.3,352.3 84.7,349.5 85.1,346.5 85.4,343.5 85.8,340.7 86.1,338.0 86.5,335.2 86.9,332.6 87.2,330.1 87.6,327.8 88.0,325.6 88.3,323.5 88.7,321.7 89.1,320.6 89.4,319.8 89.8,319.5 90.1,320.1 90.5,321.6 90.9,323.4 91.2,325.4 91.6,328.0 92.0,330.7 92.3,333.1 92.7,335.3 93.1,337.5 93.4,339.4 93.8,341.0 94.1,342.5 94.5,343.9 94.9,345.0 95.2,345.4 95.6,345.4 96.0,345.3 96.3,345.2 96.7,345.1 97.1,345.2 97.4,345.8 97.8,346.8 98.1,347.9 98.5,348.9 98.9,349.6 99.2,350.2 99.6,350.9 100.0,351.5 100.3,352.1 100.7,352.7 101.0,353.3 101.4,353.9 101.8,354.6 102.1,355.2 102.5,355.9 102.9,356.6 103.2,357.2 103.6,357.8 104.0,358.4 104.3,359.0 104.7,359.6 105.0,360.1 105.4,360.6 105.8,361.1 106.1,361.5 106.5,362.0 106.9,362.4 107.2,362.9 107.6,363.3 108.0,363.6 108.3,364.0 108.7,364.3 109.0,364.6 109.4,364.9 109.8,365.3 110.1,365.6 110.5,365.9 110.9,366.1 111.2,366.4 111.6,366.6 112.0,366.8 112.3,367.0 112.7,367.1 113.0,367.2 113.4,367.4 113.8,367.5 114.1,367.6 114.5,367.7 114.9,367.8 115.2,367.8 115.6,367.9 116.0,368.0 116.3,368.0 116.7,368.0 117.0,368.1 117.4,368.1 117.8,368.1 118.1,368.1 118.5,368.1 118.9,368.1 119.2,368.1 119.6,368.1 119.9,368.1 120.3,368.0 120.7,368.0 121.0,367.9 121.4,367.8 121.8,367.6 122.1,367.5 122.5,367.3 122.9,367.1 123.2,366.9 123.6,366.7 123.9,366.5 124.3,366.3 124.7,366.1 125.0,365.9 125.4,365.6 125.8,365.4 126.1,365.1 126.5,364.8 126.9,364.5 127.2,364.1 127.6,363.8 127.9,363.4 128.3,363.1 128.7,362.7 129.0,362.3 129.4,361.9 129.8,361.5 130.1,361.0 130.5,360.6 130.9,360.1 131.2,359.6 131.6,359.1 131.9,358.6 132.3,358.1 132.7,357.7 133.0,357.2 133.4,356.7 133.8,356.3 134.1,355.8 134.5,355.3 134.9,354.9 135.2,354.4 135.6,354.0 135.9,353.6 136.3,353.2 136.7,352.9 137.0,352.5 137.4,352.2 137.8,351.9 138.1,351.6 138.5,351.3 138.8,350.9 139.2,350.6 139.6,350.2 139.9,349.9 140.3,349.5 140.7,349.1 141.0,348.6 141.4,347.8 141.8,346.7 142.1,345.3 142.5,343.8 142.8,342.0 143.2,339.9 143.6,337.4 143.9,334.5 144.3,331.4 144.7,328.1 145.0,323.8 145.4,318.5 145.8,313.3 146.1,309.2 146.5,306.0 146.8,302.9 147.2,300.7 147.6,299.8 147.9,300.1 148.3,301.0 148.7,302.1 149.0,303.8 149.4,306.2 149.8,309.0 150.1,311.7 150.5,313.9 150.8,315.8 151.2,317.5 151.6,319.1 151.9,320.7 152.3,322.1 152.7,323.4 153.0,324.6 153.4,325.8 153.8,326.9 154.1,327.9 154.5,328.8 154.8,329.7 155.2,330.4 155.6,331.1 155.9,331.7 156.3,332.3 156.7,332.9 157.0,333.6 157.4,334.4 157.7,335.3 158.1,336.2 158.5,337.1 158.8,338.1 159.2,339.1 159.6,340.1 159.9,341.2 160.3,342.3 160.7,343.5 161.0,344.6 161.4,345.7 161.7,346.8 162.1,347.8 162.5,348.8 162.8,349.8 163.2,350.8 163.6,351.7 163.9,352.6 164.3,353.5 164.7,354.2 165.0,354.8 165.4,355.4 165.7,355.9 166.1,356.3 166.5,356.7 166.8,357.1 167.2,357.5 167.6,357.7 167.9,358.0 168.3,358.2 168.7,358.4 169.0,358.6 169.4,358.6 169.7,358.2 170.1,357.0 170.5,355.3 170.8,353.3 171.2,349.3 171.6,343.4 171.9,337.5 172.3,331.5 172.6,326.1 173.0,325.2 173.4,327.6 173.7,331.2 174.1,337.0 174.5,344.5 174.8,350.1 175.2,353.5 175.6,356.3 175.9,358.4 176.3,359.6 176.6,360.1 177.0,360.6 177.4,361.0 177.7,361.3 178.1,361.5 178.5,361.7 178.8,361.9 179.2,362.1 179.6,362.2 179.9,362.3 180.3,362.4 180.6,362.6 181.0,362.7 181.4,362.9 181.7,363.2 182.1,363.5 182.5,363.7 182.8,364.0 183.2,364.3 183.6,364.5 183.9,364.8 184.3,365.0 184.6,365.3 185.0,365.6 185.4,365.8 185.7,366.0 186.1,366.2 186.5,366.4 186.8,366.5 187.2,366.5 187.6,366.5 187.9,366.4 188.3,366.3 188.6,366.2 189.0,366.1 189.4,366.0 189.7,365.8 190.1,365.7 190.5,365.5 190.8,365.4 191.2,365.2 191.5,364.9 191.9,364.7 192.3,364.4 192.6,364.1 193.0,363.8 193.4,363.6 193.7,363.3 194.1,363.0 194.5,362.8 194.8,362.5 195.2,362.2 195.5,361.9 195.9,361.7 196.3,361.4 196.6,361.1 197.0,360.9 197.4,360.7 197.7,360.5 198.1,360.3 198.5,360.2 198.8,360.0 199.2,359.8 199.5,359.7 199.9,359.5 200.3,359.4 200.6,359.3 201.0,359.3 201.4,359.2 201.7,359.3 202.1,359.3 202.5,359.4 202.8,359.5 203.2,359.6 203.5,359.7 203.9,359.7 204.3,359.8 204.6,359.9 205.0,359.9 205.4,359.9 205.7,359.8 206.1,359.8 206.5,359.7 206.8,359.6 207.2,359.5 207.5,359.4 207.9,359.3 208.3,359.2 208.6,359.1 209.0,359.0 209.4,358.9 209.7,358.8 210.1,358.7 210.4,358.6 210.8,358.5 211.2,358.4 211.5,358.3 211.9,358.2 212.3,358.2 212.6,358.2 213.0,358.1 213.4,358.2 213.7,358.2 214.1,358.2 214.4,358.3 214.8,358.4 215.2,358.5 215.5,358.6 215.9,358.7 216.3,358.8 216.6,358.9 217.0,359.0 217.4,359.1 217.7,359.2 218.1,359.3 218.4,359.5 218.8,359.7 219.2,359.8 219.5,360.0 219.9,360.2 220.3,360.4 220.6,360.6 221.0,360.8 221.4,361.0 221.7,361.1 222.1,361.3 222.4,361.5 222.8,361.7 223.2,361.8 223.5,362.0 223.9,362.2 224.3,362.3 224.6,362.5 225.0,362.6 225.4,362.7 225.7,362.8 226.1,362.9 226.4,363.0 226.8,363.1 227.2,363.1 227.5,363.2 227.9,363.2 228.3,363.1 228.6,362.9 229.0,362.7 229.3,362.3 229.7,361.9 230.1,361.2 230.4,360.1 230.8,358.9 231.2,358.0 231.5,357.2 231.9,356.4 232.3,355.8 232.6,355.4 233.0,355.4 233.3,356.0 233.7,357.0 234.1,358.0 234.4,359.1 234.8,360.4 235.2,361.7 235.5,362.7 235.9,363.5 236.3,364.2 236.6,364.9 237.0,365.4 237.3,365.9 237.7,366.2 238.1,366.4 238.4,366.6 238.8,366.7 239.2,366.9 239.5,367.0 239.9,367.1 240.3,367.2 240.6,367.3 241.0,367.4 241.3,367.4 241.7,367.5 242.1,367.6 242.4,367.6 242.8,367.7 243.2,367.7 243.5,367.8 243.9,367.8 244.3,367.8 244.6,367.9 245.0,367.9 245.3,368.0 245.7,368.0 246.1,368.0 246.4,368.1 246.8,368.1 247.2,368.1 247.5,368.1 247.9,368.2 248.2,368.2 248.6,368.2 249.0,368.3 249.3,368.3 249.7,368.3 250.1,368.3 250.4,368.4 250.8,368.4 251.2,368.4 251.5,368.4 251.9,368.5 252.2,368.5 252.6,368.5 253.0,368.5 253.3,368.5 253.7,368.5" stroke="#222294" stroke-width="1.0"/></g><rect x="53.8" y="208.2" width="199.9" height="160.8" fill="none" stroke="#5c5c5c" stroke-width="1"/><line x1="50.8" y1="369" x2="53.8" y2="369" stroke="#5c5c5c" stroke-width="1"/><line x1="52.0" y1="353.27" x2="53.8" y2="353.27" stroke="#5c5c5c" stroke-width="1"/><text x="48.8" y="372" font-family='"Liberation Sans", sans-serif' font-size="8.6" text-anchor="end" fill="#1a1a1a" >0.0</text><line x1="50.8" y1="337.54" x2="53.8" y2="337.54" stroke="#5c5c5c" stroke-width="1"/><line x1="52.0" y1="321.81" x2="53.8" y2="321.81" stroke="#5c5c5c" stroke-width="1"/><text x="48.8" y="340.54" font-family='"Liberation Sans", sans-serif' font-size="8.6" text-anchor="end" fill="#1a1a1a" >0.2</text><line x1="50.8" y1="306.08" x2="53.8" y2="306.08" stroke="#5c5c5c" stroke-width="1"/><line x1="52.0" y1="290.35" x2="53.8" y2="290.35" stroke="#5c5c5c" stroke-width="1"/><text x="48.8" y="309.08" font-family='"Liberation Sans", sans-serif' font-size="8.6" text-anchor="end" fill="#1a1a1a" >0.4</text><line x1="50.8" y1="274.62" x2="53.8" y2="274.62" stroke="#5c5c5c" stroke-width="1"/><line x1="52.0" y1="258.89" x2="53.8" y2="258.89" stroke="#5c5c5c" stroke-width="1"/><text x="48.8" y="277.62" font-family='"Liberation Sans", sans-serif' font-size="8.6" text-anchor="end" fill="#1a1a1a" >0.6</text><line x1="50.8" y1="243.16" x2="53.8" y2="243.16" stroke="#5c5c5c" stroke-width="1"/><line x1="52.0" y1="227.43" x2="53.8" y2="227.43" stroke="#5c5c5c" stroke-width="1"/><text x="48.8" y="246.16" font-family='"Liberation Sans", sans-serif' font-size="8.6" text-anchor="end" fill="#1a1a1a" >0.8</text><line x1="50.8" y1="211.7" x2="53.8" y2="211.7" stroke="#5c5c5c" stroke-width="1"/><text x="48.8" y="214.7" font-family='"Liberation Sans", sans-serif' font-size="8.6" text-anchor="end" fill="#1a1a1a" >1.0</text><line x1="71.97" y1="369.0" x2="71.97" y2="372.0" stroke="#5c5c5c" stroke-width="1"/><text x="71.97" y="382" font-family='"Liberation Sans", sans-serif' font-size="8.6" text-anchor="middle" fill="#1a1a1a" >500</text><line x1="108.32" y1="369.0" x2="108.32" y2="372.0" stroke="#5c5c5c" stroke-width="1"/><text x="108.32" y="382" font-family='"Liberation Sans", sans-serif' font-size="8.6" text-anchor="middle" fill="#1a1a1a" >550</text><line x1="144.66" y1="369.0" x2="144.66" y2="372.0" stroke="#5c5c5c" stroke-width="1"/><text x="144.66" y="382" font-family='"Liberation Sans", sans-serif' font-size="8.6" text-anchor="middle" fill="#1a1a1a" >600</text><line x1="181.01" y1="369.0" x2="181.01" y2="372.0" stroke="#5c5c5c" stroke-width="1"/><text x="181.01" y="382" font-family='"Liberation Sans", sans-serif' font-size="8.6" text-anchor="middle" fill="#1a1a1a" >650</text><line x1="217.35" y1="369.0" x2="217.35" y2="372.0" stroke="#5c5c5c" stroke-width="1"/><text x="217.35" y="382" font-family='"Liberation Sans", sans-serif' font-size="8.6" text-anchor="middle" fill="#1a1a1a" >700</text><line x1="253.7" y1="369.0" x2="253.7" y2="372.0" stroke="#5c5c5c" stroke-width="1"/><text x="253.7" y="382" font-family='"Liberation Sans", sans-serif' font-size="8.6" text-anchor="middle" fill="#1a1a1a" >750</text><line x1="90.15" y1="369.0" x2="90.15" y2="370.8" stroke="#5c5c5c" stroke-width="1"/><line x1="126.49" y1="369.0" x2="126.49" y2="370.8" stroke="#5c5c5c" stroke-width="1"/><line x1="162.84" y1="369.0" x2="162.84" y2="370.8" stroke="#5c5c5c" stroke-width="1"/><line x1="199.18" y1="369.0" x2="199.18" y2="370.8" stroke="#5c5c5c" stroke-width="1"/><line x1="235.53" y1="369.0" x2="235.53" y2="370.8" stroke="#5c5c5c" stroke-width="1"/><text x="153.75" y="397.9" font-family='"Liberation Sans", sans-serif' font-size="11.3" text-anchor="middle" fill="#1a1a1a" >Wavelength (nm)</text><text transform="translate(14.9,293.2) rotate(-90)" font-family='"Liberation Sans", sans-serif' font-size="11.3" text-anchor="middle" fill="#1a1a1a">Normalized intensity</text><text transform="translate(28.6,291.7) rotate(-90)" font-family='"Liberation Sans", sans-serif' font-size="11.3" text-anchor="middle" fill="#1a1a1a">(arb. units)</text><text x="3.3" y="213.2" font-family='"Liberation Sans", sans-serif' font-size="12.6" text-anchor="start" fill="#1a1a1a" >(c)</text><line x1="183.9" y1="217.5" x2="204.5" y2="217.5" stroke="#fbbf98" stroke-width="1.2"/><text x="207.5" y="220.7" font-family='"Liberation Sans", sans-serif' font-size="8.95" text-anchor="start" fill="#1a1a1a" >SLF_0.2Pr</text><line x1="183.9" y1="228.6" x2="204.5" y2="228.6" stroke="#f27878" stroke-width="1.2"/><text x="207.5" y="231.8" font-family='"Liberation Sans", sans-serif' font-size="8.95" text-anchor="start" fill="#1a1a1a" >SLF_1Pr</text><line x1="183.9" y1="239.7" x2="204.5" y2="239.7" stroke="#94c645" stroke-width="1.2"/><text x="207.5" y="242.9" font-family='"Liberation Sans", sans-serif' font-size="8.95" text-anchor="start" fill="#1a1a1a" >SLF_2Pr</text><line x1="183.9" y1="250.8" x2="204.5" y2="250.8" stroke="#33a83a" stroke-width="1.2"/><text x="207.5" y="254" font-family='"Liberation Sans", sans-serif' font-size="8.95" text-anchor="start" fill="#1a1a1a" >SLF_3Pr</text><line x1="183.9" y1="261.9" x2="204.5" y2="261.9" stroke="#36acad" stroke-width="1.2"/><text x="207.5" y="265.1" font-family='"Liberation Sans", sans-serif' font-size="8.95" text-anchor="start" fill="#1a1a1a" >SLF_5Pr</text><line x1="183.9" y1="273" x2="204.5" y2="273" stroke="#3b88d2" stroke-width="1.2"/><text x="207.5" y="276.2" font-family='"Liberation Sans", sans-serif' font-size="8.95" text-anchor="start" fill="#1a1a1a" >SLF_10Pr</text><line x1="183.9" y1="284.1" x2="204.5" y2="284.1" stroke="#222294" stroke-width="1.2"/><text x="207.5" y="287.3" font-family='"Liberation Sans", sans-serif' font-size="8.95" text-anchor="start" fill="#1a1a1a" >SLF_25Pr</text><rect x="342.3" y="7.0" width="200.2" height="160.8" fill="none" stroke="#5c5c5c" stroke-width="1"/><line x1="339.3" y1="167.8" x2="342.3" y2="167.8" stroke="#5c5c5c" stroke-width="1"/><line x1="340.5" y1="157.75" x2="342.3" y2="157.75" stroke="#5c5c5c" stroke-width="1"/><text x="337.3" y="170.8" font-family='"Liberation Sans", sans-serif' font-size="8.6" text-anchor="end" fill="#1a1a1a" >0.0</text><line x1="339.3" y1="147.7" x2="342.3" y2="147.7" stroke="#5c5c5c" stroke-width="1"/><line x1="340.5" y1="137.65" x2="342.3" y2="137.65" stroke="#5c5c5c" stroke-width="1"/><text x="336.8" y="150.7" font-family='"Liberation Sans", sans-serif' font-size="8.6" text-anchor="end" fill="#1a1a1a" >2.0x10<tspan dy="-3.3" font-size="5.6">10</tspan></text><line x1="339.3" y1="127.6" x2="342.3" y2="127.6" stroke="#5c5c5c" stroke-width="1"/><line x1="340.5" y1="117.55" x2="342.3" y2="117.55" stroke="#5c5c5c" stroke-width="1"/><text x="336.8" y="130.6" font-family='"Liberation Sans", sans-serif' font-size="8.6" text-anchor="end" fill="#1a1a1a" >4.0x10<tspan dy="-3.3" font-size="5.6">10</tspan></text><line x1="339.3" y1="107.5" x2="342.3" y2="107.5" stroke="#5c5c5c" stroke-width="1"/><line x1="340.5" y1="97.45" x2="342.3" y2="97.45" stroke="#5c5c5c" stroke-width="1"/><text x="336.8" y="110.5" font-family='"Liberation Sans", sans-serif' font-size="8.6" text-anchor="end" fill="#1a1a1a" >6.0x10<tspan dy="-3.3" font-size="5.6">10</tspan></text><line x1="339.3" y1="87.4" x2="342.3" y2="87.4" stroke="#5c5c5c" stroke-width="1"/><line x1="340.5" y1="77.35" x2="342.3" y2="77.35" stroke="#5c5c5c" stroke-width="1"/><text x="336.8" y="90.4" font-family='"Liberation Sans", sans-serif' font-size="8.6" text-anchor="end" fill="#1a1a1a" >8.0x10<tspan dy="-3.3" font-size="5.6">10</tspan></text><line x1="339.3" y1="67.3" x2="342.3" y2="67.3" stroke="#5c5c5c" stroke-width="1"/><line x1="340.5" y1="57.25" x2="342.3" y2="57.25" stroke="#5c5c5c" stroke-width="1"/><text x="336.8" y="70.3" font-family='"Liberation Sans", sans-serif' font-size="8.6" text-anchor="end" fill="#1a1a1a" >1.0x10<tspan dy="-3.3" font-size="5.6">11</tspan></text><line x1="339.3" y1="47.2" x2="342.3" y2="47.2" stroke="#5c5c5c" stroke-width="1"/><line x1="340.5" y1="37.15" x2="342.3" y2="37.15" stroke="#5c5c5c" stroke-width="1"/><text x="336.8" y="50.2" font-family='"Liberation Sans", sans-serif' font-size="8.6" text-anchor="end" fill="#1a1a1a" >1.2x10<tspan dy="-3.3" font-size="5.6">11</tspan></text><line x1="339.3" y1="27.1" x2="342.3" y2="27.1" stroke="#5c5c5c" stroke-width="1"/><line x1="340.5" y1="17.05" x2="342.3" y2="17.05" stroke="#5c5c5c" stroke-width="1"/><text x="336.8" y="30.1" font-family='"Liberation Sans", sans-serif' font-size="8.6" text-anchor="end" fill="#1a1a1a" >1.4x10<tspan dy="-3.3" font-size="5.6">11</tspan></text><line x1="339.3" y1="7" x2="342.3" y2="7" stroke="#5c5c5c" stroke-width="1"/><text x="336.8" y="10" font-family='"Liberation Sans", sans-serif' font-size="8.6" text-anchor="end" fill="#1a1a1a" >1.6x10<tspan dy="-3.3" font-size="5.6">11</tspan></text><line x1="346.2" y1="167.8" x2="346.2" y2="170.8" stroke="#5c5c5c" stroke-width="1"/><text x="346.2" y="180.7" font-family='"Liberation Sans", sans-serif' font-size="8.6" text-anchor="middle" fill="#1a1a1a" >0</text><line x1="383.86" y1="167.8" x2="383.86" y2="170.8" stroke="#5c5c5c" stroke-width="1"/><text x="383.86" y="180.7" font-family='"Liberation Sans", sans-serif' font-size="8.6" text-anchor="middle" fill="#1a1a1a" >5</text><line x1="421.52" y1="167.8" x2="421.52" y2="170.8" stroke="#5c5c5c" stroke-width="1"/><text x="421.52" y="180.7" font-family='"Liberation Sans", sans-serif' font-size="8.6" text-anchor="middle" fill="#1a1a1a" >10</text><line x1="459.18" y1="167.8" x2="459.18" y2="170.8" stroke="#5c5c5c" stroke-width="1"/><text x="459.18" y="180.7" font-family='"Liberation Sans", sans-serif' font-size="8.6" text-anchor="middle" fill="#1a1a1a" >15</text><line x1="496.84" y1="167.8" x2="496.84" y2="170.8" stroke="#5c5c5c" stroke-width="1"/><text x="496.84" y="180.7" font-family='"Liberation Sans", sans-serif' font-size="8.6" text-anchor="middle" fill="#1a1a1a" >20</text><line x1="534.5" y1="167.8" x2="534.5" y2="170.8" stroke="#5c5c5c" stroke-width="1"/><text x="534.5" y="180.7" font-family='"Liberation Sans", sans-serif' font-size="8.6" text-anchor="middle" fill="#1a1a1a" >25</text><line x1="365.03" y1="167.8" x2="365.03" y2="169.60000000000002" stroke="#5c5c5c" stroke-width="1"/><line x1="402.69" y1="167.8" x2="402.69" y2="169.60000000000002" stroke="#5c5c5c" stroke-width="1"/><line x1="440.35" y1="167.8" x2="440.35" y2="169.60000000000002" stroke="#5c5c5c" stroke-width="1"/><line x1="478.01" y1="167.8" x2="478.01" y2="169.60000000000002" stroke="#5c5c5c" stroke-width="1"/><line x1="515.67" y1="167.8" x2="515.67" y2="169.60000000000002" stroke="#5c5c5c" stroke-width="1"/><text x="395.2" y="195.8" font-family='"Liberation Sans", sans-serif' font-size="11.3" fill="#1a1a1a">Pr<tspan dy="-4.2" font-size="7.2">3+</tspan><tspan dy="4.2"> content (mol%)</tspan></text><text transform="translate(280.2,86.5) rotate(-90)" font-family='"Liberation Sans", sans-serif' font-size="11.3" text-anchor="middle" fill="#1a1a1a">Integrated PL intensity</text><text transform="translate(293.6,85.2) rotate(-90)" font-family='"Liberation Sans", sans-serif' font-size="11.3" text-anchor="middle" fill="#1a1a1a">(counts)</text><text x="269" y="13.5" font-family='"Liberation Sans", sans-serif' font-size="12.6" text-anchor="start" fill="#1a1a1a" >(b)</text><polyline points="347.71,120.97 353.73,101.47 361.26,17.55 368.8,35.14 383.86,83.98 421.52,108.5 534.5,154.13" fill="none" stroke="#bdbdbd" stroke-width="0.9"/><circle cx="347.71" cy="120.97" r="5.1" fill="url(#s0)"/><circle cx="346.28" cy="119.44" r="2.86" fill="url(#hl)"/><circle cx="353.73" cy="101.47" r="5.1" fill="url(#s1)"/><circle cx="352.3" cy="99.94" r="2.86" fill="url(#hl)"/><circle cx="361.26" cy="17.55" r="5.1" fill="url(#s2)"/><circle cx="359.84" cy="16.02" r="2.86" fill="url(#hl)"/><circle cx="368.8" cy="35.14" r="5.1" fill="url(#s3)"/><circle cx="367.37" cy="33.61" r="2.86" fill="url(#hl)"/><circle cx="383.86" cy="83.98" r="5.1" fill="url(#s4)"/><circle cx="382.43" cy="82.45" r="2.86" fill="url(#hl)"/><circle cx="421.52" cy="108.5" r="5.1" fill="url(#s5)"/><circle cx="420.09" cy="106.97" r="2.86" fill="url(#hl)"/><circle cx="534.5" cy="154.13" r="5.1" fill="url(#s6)"/><circle cx="533.07" cy="152.6" r="2.86" fill="url(#hl)"/><line x1="471.7" y1="18.4" x2="492.9" y2="18.4" stroke="#f7a050" stroke-opacity="0.5" stroke-width="0.9"/><circle cx="482.3" cy="18.4" r="4.8" fill="url(#s0)"/><circle cx="480.96" cy="16.96" r="2.69" fill="url(#hl)"/><text x="495.2" y="21.6" font-family='"Liberation Sans", sans-serif' font-size="9.1" text-anchor="start" fill="#1a1a1a" >SLF:0.2Pr</text><line x1="471.7" y1="29.5" x2="492.9" y2="29.5" stroke="#f45c5c" stroke-opacity="0.5" stroke-width="0.9"/><circle cx="482.3" cy="29.5" r="4.8" fill="url(#s1)"/><circle cx="480.96" cy="28.06" r="2.69" fill="url(#hl)"/><text x="495.2" y="32.7" font-family='"Liberation Sans", sans-serif' font-size="9.1" text-anchor="start" fill="#1a1a1a" >SLF:1Pr</text><line x1="471.7" y1="40.6" x2="492.9" y2="40.6" stroke="#6ea51a" stroke-opacity="0.5" stroke-width="0.9"/><circle cx="482.3" cy="40.6" r="4.8" fill="url(#s2)"/><circle cx="480.96" cy="39.16" r="2.69" fill="url(#hl)"/><text x="495.2" y="43.8" font-family='"Liberation Sans", sans-serif' font-size="9.1" text-anchor="start" fill="#1a1a1a" >SLF:2Pr</text><line x1="471.7" y1="51.7" x2="492.9" y2="51.7" stroke="#12981a" stroke-opacity="0.5" stroke-width="0.9"/><circle cx="482.3" cy="51.7" r="4.8" fill="url(#s3)"/><circle cx="480.96" cy="50.26" r="2.69" fill="url(#hl)"/><text x="495.2" y="54.9" font-family='"Liberation Sans", sans-serif' font-size="9.1" text-anchor="start" fill="#1a1a1a" >SLF:3Pr</text><line x1="471.7" y1="62.8" x2="492.9" y2="62.8" stroke="#0e8c86" stroke-opacity="0.5" stroke-width="0.9"/><circle cx="482.3" cy="62.8" r="4.8" fill="url(#s4)"/><circle cx="480.96" cy="61.36" r="2.69" fill="url(#hl)"/><text x="495.2" y="66" font-family='"Liberation Sans", sans-serif' font-size="9.1" text-anchor="start" fill="#1a1a1a" >SLF:5Pr</text><line x1="471.7" y1="73.9" x2="492.9" y2="73.9" stroke="#1766be" stroke-opacity="0.5" stroke-width="0.9"/><circle cx="482.3" cy="73.9" r="4.8" fill="url(#s5)"/><circle cx="480.96" cy="72.46" r="2.69" fill="url(#hl)"/><text x="495.2" y="77.1" font-family='"Liberation Sans", sans-serif' font-size="9.1" text-anchor="start" fill="#1a1a1a" >SLF:10Pr</text><line x1="471.7" y1="85" x2="492.9" y2="85" stroke="#0e0e86" stroke-opacity="0.5" stroke-width="0.9"/><circle cx="482.3" cy="85" r="4.8" fill="url(#s6)"/><circle cx="480.96" cy="83.56" r="2.69" fill="url(#hl)"/><text x="495.2" y="88.2" font-family='"Liberation Sans", sans-serif' font-size="9.1" text-anchor="start" fill="#1a1a1a" >SLF:25Pr</text><g stroke="#d9d9d9" stroke-width="0.65"><line x1="329" y1="373.4" x2="329" y2="204.83"/><line x1="338.4" y1="373.4" x2="338.4" y2="204.83"/><line x1="347.8" y1="373.4" x2="347.8" y2="204.83"/><line x1="357.2" y1="373.4" x2="357.2" y2="204.83"/><line x1="366.6" y1="373.4" x2="366.6" y2="204.83"/><line x1="376" y1="373.4" x2="376" y2="204.83"/><line x1="385.4" y1="373.4" x2="385.4" y2="204.83"/><line x1="394.8" y1="373.4" x2="394.8" y2="204.83"/><line x1="404.2" y1="373.4" x2="404.2" y2="204.83"/><line x1="413.6" y1="373.4" x2="413.6" y2="204.83"/><line x1="423" y1="373.4" x2="423" y2="204.83"/><line x1="432.4" y1="373.4" x2="432.4" y2="204.83"/><line x1="441.8" y1="373.4" x2="441.8" y2="204.83"/><line x1="451.2" y1="373.4" x2="451.2" y2="204.83"/><line x1="460.6" y1="373.4" x2="460.6" y2="204.83"/><line x1="470" y1="373.4" x2="470" y2="204.83"/><line x1="479.4" y1="373.4" x2="479.4" y2="204.83"/><line x1="329" y1="373.4" x2="479.4" y2="373.4"/><line x1="329" y1="364.03" x2="479.4" y2="364.03"/><line x1="329" y1="354.67" x2="479.4" y2="354.67"/><line x1="329" y1="345.3" x2="479.4" y2="345.3"/><line x1="329" y1="335.94" x2="479.4" y2="335.94"/><line x1="329" y1="326.57" x2="479.4" y2="326.57"/><line x1="329" y1="317.21" x2="479.4" y2="317.21"/><line x1="329" y1="307.84" x2="479.4" y2="307.84"/><line x1="329" y1="298.48" x2="479.4" y2="298.48"/><line x1="329" y1="289.11" x2="479.4" y2="289.11"/><line x1="329" y1="279.75" x2="479.4" y2="279.75"/><line x1="329" y1="270.38" x2="479.4" y2="270.38"/><line x1="329" y1="261.02" x2="479.4" y2="261.02"/><line x1="329" y1="251.65" x2="479.4" y2="251.65"/><line x1="329" y1="242.29" x2="479.4" y2="242.29"/><line x1="329" y1="232.92" x2="479.4" y2="232.92"/><line x1="329" y1="223.56" x2="479.4" y2="223.56"/><line x1="329" y1="214.19" x2="479.4" y2="214.19"/><line x1="329" y1="204.83" x2="479.4" y2="204.83"/></g><line x1="347.8" y1="204.83" x2="479.4" y2="335.94" stroke="#a8a8a8" stroke-width="0.8"/><g clip-path="url(#cg)"><rect x="339" y="217" width="11" height="1.05" fill="url(#r217)"/><rect x="336" y="218" width="17" height="1.05" fill="url(#r218)"/><rect x="335" y="219" width="20" height="1.05" fill="url(#r219)"/><rect x="334" y="220" width="23" height="1.05" fill="url(#r220)"/><rect x="333" y="221" width="26" height="1.05" fill="url(#r221)"/><rect x="333" y="222" width="28" height="1.05" fill="url(#r222)"/><rect x="332" y="223" width="31" height="1.05" fill="url(#r223)"/><rect x="331" y="224" width="33" height="1.05" fill="url(#r224)"/><rect x="331" y="225" width="35" height="1.05" fill="url(#r225)"/><rect x="331" y="226" width="37" height="1.05" fill="url(#r226)"/><rect x="330" y="227" width="39" height="1.05" fill="url(#r227)"/><rect x="330" y="228" width="40" height="1.05" fill="url(#r228)"/><rect x="330" y="229" width="42" height="1.05" fill="url(#r229)"/><rect x="329" y="230" width="44" height="1.05" fill="url(#r230)"/><rect x="329" y="231" width="45" height="1.05" fill="url(#r231)"/><rect x="329" y="232" width="47" height="1.05" fill="url(#r232)"/><rect x="328" y="233" width="49" height="1.05" fill="url(#r233)"/><rect x="328" y="234" width="50" height="1.05" fill="url(#r234)"/><rect x="328" y="235" width="51" height="1.05" fill="url(#r235)"/><rect x="328" y="236" width="53" height="1.05" fill="url(#r236)"/><rect x="328" y="237" width="54" height="1.05" fill="url(#r237)"/><rect x="328" y="238" width="55" height="1.05" fill="url(#r238)"/><rect x="328" y="239" width="56" height="1.05" fill="url(#r239)"/><rect x="327" y="240" width="58" height="1.05" fill="url(#r240)"/><rect x="327" y="241" width="59" height="1.05" fill="url(#r241)"/><rect x="327" y="242" width="60" height="1.05" fill="url(#r242)"/><rect x="327" y="243" width="61" height="1.05" fill="url(#r243)"/><rect x="327" y="244" width="63" height="1.05" fill="url(#r244)"/><rect x="327" y="245" width="64" height="1.05" fill="url(#r245)"/><rect x="327" y="246" width="65" height="1.05" fill="url(#r246)"/><rect x="327" y="247" width="66" height="1.05" fill="url(#r247)"/><rect x="327" y="248" width="67" height="1.05" fill="url(#r248)"/><rect x="327" y="249" width="68" height="1.05" fill="url(#r249)"/><rect x="327" y="250" width="69" height="1.05" fill="url(#r250)"/><rect x="327" y="251" width="70" height="1.05" fill="url(#r251)"/><rect x="327" y="252" width="71" height="1.05" fill="url(#r252)"/><rect x="327" y="253" width="72" height="1.05" fill="url(#r253)"/><rect x="327" y="254" width="73" height="1.05" fill="url(#r254)"/><rect x="327" y="255" width="74" height="1.05" fill="url(#r255)"/><rect x="327" y="256" width="75" height="1.05" fill="url(#r256)"/><rect x="327" y="257" width="76" height="1.05" fill="url(#r257)"/><rect x="327" y="258" width="77" height="1.05" fill="url(#r258)"/><rect x="327" y="259" width="78" height="1.05" fill="url(#r259)"/><rect x="327" y="260" width="79" height="1.05" fill="url(#r260)"/><rect x="327" y="261" width="80" height="1.05" fill="url(#r261)"/><rect x="327" y="262" width="81" height="1.05" fill="url(#r262)"/><rect x="327" y="263" width="82" height="1.05" fill="url(#r263)"/><rect x="327" y="264" width="83" height="1.05" fill="url(#r264)"/><rect x="327" y="265" width="84" height="1.05" fill="url(#r265)"/><rect x="327" y="266" width="85" height="1.05" fill="url(#r266)"/><rect x="327" y="267" width="86" height="1.05" fill="url(#r267)"/><rect x="327" y="268" width="87" height="1.05" fill="url(#r268)"/><rect x="327" y="269" width="88" height="1.05" fill="url(#r269)"/><rect x="327" y="270" width="89" height="1.05" fill="url(#r270)"/><rect x="327" y="271" width="91" height="1.05" fill="url(#r271)"/><rect x="328" y="272" width="91" height="1.05" fill="url(#r272)"/><rect x="328" y="273" width="92" height="1.05" fill="url(#r273)"/><rect x="328" y="274" width="93" height="1.05" fill="url(#r274)"/><rect x="328" y="275" width="94" height="1.05" fill="url(#r275)"/><rect x="328" y="276" width="95" height="1.05" fill="url(#r276)"/><rect x="328" y="277" width="96" height="1.05" fill="url(#r277)"/><rect x="328" y="278" width="97" height="1.05" fill="url(#r278)"/><rect x="328" y="279" width="98" height="1.05" fill="url(#r279)"/><rect x="328" y="280" width="99" height="1.05" fill="url(#r280)"/><rect x="328" y="281" width="100" height="1.05" fill="url(#r281)"/><rect x="329" y="282" width="100" height="1.05" fill="url(#r282)"/><rect x="329" y="283" width="101" height="1.05" fill="url(#r283)"/><rect x="329" y="284" width="102" height="1.05" fill="url(#r284)"/><rect x="329" y="285" width="103" height="1.05" fill="url(#r285)"/><rect x="329" y="286" width="104" height="1.05" fill="url(#r286)"/><rect x="329" y="287" width="105" height="1.05" fill="url(#r287)"/><rect x="329" y="288" width="106" height="1.05" fill="url(#r288)"/><rect x="329" y="289" width="107" height="1.05" fill="url(#r289)"/><rect x="330" y="290" width="107" height="1.05" fill="url(#r290)"/><rect x="330" y="291" width="108" height="1.05" fill="url(#r291)"/><rect x="330" y="292" width="109" height="1.05" fill="url(#r292)"/><rect x="330" y="293" width="110" height="1.05" fill="url(#r293)"/><rect x="330" y="294" width="111" height="1.05" fill="url(#r294)"/><rect x="330" y="295" width="112" height="1.05" fill="url(#r295)"/><rect x="330" y="296" width="113" height="1.05" fill="url(#r296)"/><rect x="331" y="297" width="113" height="1.05" fill="url(#r297)"/><rect x="331" y="298" width="114" height="1.05" fill="url(#r298)"/><rect x="331" y="299" width="115" height="1.05" fill="url(#r299)"/><rect x="331" y="300" width="116" height="1.05" fill="url(#r300)"/><rect x="331" y="301" width="117" height="1.05" fill="url(#r301)"/><rect x="331" y="302" width="118" height="1.05" fill="url(#r302)"/><rect x="332" y="303" width="118" height="1.05" fill="url(#r303)"/><rect x="332" y="304" width="119" height="1.05" fill="url(#r304)"/><rect x="332" y="305" width="120" height="1.05" fill="url(#r305)"/><rect x="332" y="306" width="121" height="1.05" fill="url(#r306)"/><rect x="332" y="307" width="122" height="1.05" fill="url(#r307)"/><rect x="333" y="308" width="122" height="1.05" fill="url(#r308)"/><rect x="333" y="309" width="123" height="1.05" fill="url(#r309)"/><rect x="333" y="310" width="124" height="1.05" fill="url(#r310)"/><rect x="333" y="311" width="125" height="1.05" fill="url(#r311)"/><rect x="333" y="312" width="126" height="1.05" fill="url(#r312)"/><rect x="334" y="313" width="126" height="1.05" fill="url(#r313)"/><rect x="334" y="314" width="127" height="1.05" fill="url(#r314)"/><rect x="334" y="315" width="128" height="1.05" fill="url(#r315)"/><rect x="334" y="316" width="129" height="1.05" fill="url(#r316)"/><rect x="334" y="317" width="130" height="1.05" fill="url(#r317)"/><rect x="335" y="318" width="130" height="1.05" fill="url(#r318)"/><rect x="335" y="319" width="131" height="1.05" fill="url(#r319)"/><rect x="335" y="320" width="132" height="1.05" fill="url(#r320)"/><rect x="335" y="321" width="133" height="1.05" fill="url(#r321)"/><rect x="336" y="322" width="133" height="1.05" fill="url(#r322)"/><rect x="336" y="323" width="134" height="1.05" fill="url(#r323)"/><rect x="336" y="324" width="132" height="1.05" fill="url(#r324)"/><rect x="336" y="325" width="130" height="1.05" fill="url(#r325)"/><rect x="336" y="326" width="128" height="1.05" fill="url(#r326)"/><rect x="337" y="327" width="125" height="1.05" fill="url(#r327)"/><rect x="337" y="328" width="123" height="1.05" fill="url(#r328)"/><rect x="337" y="329" width="121" height="1.05" fill="url(#r329)"/><rect x="337" y="330" width="118" height="1.05" fill="url(#r330)"/><rect x="338" y="331" width="115" height="1.05" fill="url(#r331)"/><rect x="338" y="332" width="113" height="1.05" fill="url(#r332)"/><rect x="338" y="333" width="111" height="1.05" fill="url(#r333)"/><rect x="339" y="334" width="108" height="1.05" fill="url(#r334)"/><rect x="339" y="335" width="106" height="1.05" fill="url(#r335)"/><rect x="339" y="336" width="103" height="1.05" fill="url(#r336)"/><rect x="339" y="337" width="101" height="1.05" fill="url(#r337)"/><rect x="340" y="338" width="98" height="1.05" fill="url(#r338)"/><rect x="340" y="339" width="96" height="1.05" fill="url(#r339)"/><rect x="340" y="340" width="94" height="1.05" fill="url(#r340)"/><rect x="341" y="341" width="91" height="1.05" fill="url(#r341)"/><rect x="341" y="342" width="89" height="1.05" fill="url(#r342)"/><rect x="341" y="343" width="86" height="1.05" fill="url(#r343)"/><rect x="342" y="344" width="83" height="1.05" fill="url(#r344)"/><rect x="342" y="345" width="81" height="1.05" fill="url(#r345)"/><rect x="342" y="346" width="79" height="1.05" fill="url(#r346)"/><rect x="343" y="347" width="76" height="1.05" fill="url(#r347)"/><rect x="343" y="348" width="74" height="1.05" fill="url(#r348)"/><rect x="344" y="349" width="70" height="1.05" fill="url(#r349)"/><rect x="344" y="350" width="68" height="1.05" fill="url(#r350)"/><rect x="344" y="351" width="66" height="1.05" fill="url(#r351)"/><rect x="345" y="352" width="63" height="1.05" fill="url(#r352)"/><rect x="345" y="353" width="61" height="1.05" fill="url(#r353)"/><rect x="345" y="354" width="59" height="1.05" fill="url(#r354)"/><rect x="346" y="355" width="55" height="1.05" fill="url(#r355)"/><rect x="346" y="356" width="53" height="1.05" fill="url(#r356)"/><rect x="347" y="357" width="50" height="1.05" fill="url(#r357)"/><rect x="347" y="358" width="48" height="1.05" fill="url(#r358)"/><rect x="348" y="359" width="45" height="1.05" fill="url(#r359)"/><rect x="348" y="360" width="43" height="1.05" fill="url(#r360)"/><rect x="349" y="361" width="39" height="1.05" fill="url(#r361)"/><rect x="349" y="362" width="37" height="1.05" fill="url(#r362)"/><rect x="350" y="363" width="34" height="1.05" fill="url(#r363)"/><rect x="350" y="364" width="32" height="1.05" fill="url(#r364)"/><rect x="351" y="365" width="29" height="1.05" fill="url(#r365)"/><rect x="352" y="366" width="26" height="1.05" fill="url(#r366)"/><rect x="353" y="367" width="22" height="1.05" fill="url(#r367)"/><rect x="354" y="368" width="19" height="1.05" fill="url(#r368)"/><rect x="355" y="369" width="16" height="1.05" fill="url(#r369)"/><rect x="356" y="370" width="13" height="1.05" fill="url(#r370)"/><rect x="357" y="371" width="10" height="1.05" fill="url(#r371)"/></g><path d="M361.7,372.5 L361.7,372.5 L361.7,372.5 L361.7,372.5 L361.7,372.5 L361.7,372.5 L361.7,372.5 L361.7,372.5 L361.7,372.5 L361.7,372.5 L361.7,372.5 L361.7,372.5 L361.7,372.5 L361.7,372.5 L361.6,372.5 L361.6,372.5 L361.6,372.5 L361.6,372.5 L361.6,372.5 L361.6,372.5 L361.6,372.5 L361.6,372.5 L361.6,372.5 L361.5,372.5 L361.5,372.5 L361.5,372.5 L361.5,372.5 L361.5,372.5 L361.5,372.5 L361.5,372.5 L361.4,372.5 L361.4,372.5 L361.4,372.5 L361.4,372.5 L361.4,372.5 L361.4,372.5 L361.3,372.5 L361.3,372.5 L361.3,372.5 L361.3,372.5 L361.2,372.4 L361.2,372.4 L361.1,372.4 L361.1,372.4 L361.1,372.3 L361.0,372.3 L361.0,372.3 L360.9,372.2 L360.9,372.2 L360.8,372.2 L360.8,372.1 L360.7,372.1 L360.6,372.0 L360.5,371.9 L360.5,371.9 L360.4,371.8 L360.3,371.7 L360.2,371.6 L360.1,371.5 L360.0,371.5 L359.9,371.4 L359.8,371.3 L359.7,371.2 L359.6,371.1 L359.4,370.9 L359.3,370.8 L359.1,370.7 L359.0,370.5 L358.8,370.4 L358.6,370.2 L358.4,370.1 L358.2,369.9 L358.0,369.7 L357.8,369.6 L357.6,369.4 L357.4,369.1 L357.1,368.9 L356.9,368.7 L356.6,368.4 L356.4,368.1 L356.1,367.8 L355.8,367.5 L355.5,367.2 L355.2,366.8 L354.8,366.4 L354.5,365.9 L354.1,365.4 L353.7,364.8 L353.3,364.1 L352.8,363.4 L352.3,362.6 L351.8,361.7 L351.3,360.7 L350.8,359.6 L350.2,358.4 L349.6,357.1 L349.0,355.7 L348.3,354.1 L347.6,352.4 L346.9,350.6 L346.2,348.5 L345.4,346.4 L344.5,344.0 L343.7,341.5 L342.8,338.7 L341.9,335.8 L341.0,332.7 L340.2,329.3 L339.3,325.8 L338.4,322.1 L337.5,318.1 L336.7,314.0 L335.8,309.7 L335.0,305.3 L334.2,300.7 L333.4,296.1 L332.7,291.4 L332.1,286.7 L331.5,281.9 L331.0,277.2 L330.5,272.6 L330.2,268.0 L329.9,263.5 L329.8,259.1 L329.7,254.9 L329.7,250.8 L329.9,246.8 L330.1,243.0 L330.5,239.4 L331.0,236.0 L331.6,232.9 L332.3,230.0 L333.2,227.4 L334.1,225.1 L335.2,223.0 L336.3,221.3 L337.5,219.9 L338.8,218.8 L340.1,218.0 L341.5,217.5 L343.0,217.2 L344.4,217.2 L345.9,217.3 L347.4,217.6 L348.9,218.1 L350.5,218.7 L352.0,219.3 L353.5,220.0 L355.1,220.8 L356.6,221.6 L358.1,222.5 L359.6,223.3 L361.0,224.2 L362.4,225.1 L363.9,226.1 L365.3,227.0 L366.7,228.0 L368.0,229.0 L369.4,230.0 L370.8,231.1 L372.2,232.1 L373.5,233.2 L374.9,234.3 L376.3,235.4 L377.6,236.6 L379.0,237.7 L380.3,238.9 L381.7,240.1 L383.0,241.3 L384.4,242.5 L385.7,243.7 L387.0,245.0 L388.4,246.2 L389.7,247.5 L391.1,248.7 L392.4,250.0 L393.8,251.3 L395.1,252.5 L396.5,253.8 L397.8,255.1 L399.1,256.4 L400.5,257.7 L401.8,259.0 L403.2,260.3 L404.5,261.7 L405.8,263.0 L407.2,264.3 L408.5,265.6 L409.8,266.9 L411.2,268.2 L412.5,269.5 L413.8,270.8 L415.1,272.1 L416.4,273.4 L417.7,274.7 L419.0,276.0 L420.3,277.2 L421.6,278.5 L422.8,279.8 L424.1,281.0 L425.4,282.3 L426.6,283.5 L427.8,284.7 L429.0,285.9 L430.2,287.1 L431.4,288.3 L432.6,289.5 L433.8,290.6 L434.9,291.7 L436.0,292.8 L437.1,293.9 L438.2,295.0 L439.3,296.1 L440.3,297.1 L441.4,298.2 L442.3,299.1 L443.3,300.1 L444.2,301.0 L445.1,301.9 L446.0,302.8 L446.9,303.6 L447.7,304.5 L448.5,305.3 L449.3,306.1 L450.1,306.8 L450.9,307.6 L451.6,308.3 L452.3,309.0 L452.9,309.6 L453.6,310.2 L454.2,310.8 L454.8,311.4 L455.3,312.0 L455.9,312.5 L456.4,313.0 L456.9,313.5 L457.3,314.0 L457.8,314.4 L458.2,314.9 L458.6,315.3 L459.0,315.7 L459.4,316.0 L459.7,316.4 L460.1,316.7 L460.4,317.0 L460.7,317.3 L461.0,317.6 L461.3,317.9 L461.6,318.2 L461.8,318.5 L462.1,318.7 L462.3,319.0 L462.6,319.2 L462.8,319.4 L463.0,319.6 L463.2,319.9 L463.4,320.1 L463.6,320.3 L463.8,320.4 L464.0,320.6 L464.2,320.8 L464.3,320.9 L464.5,321.1 L464.6,321.2 L464.8,321.4 L464.9,321.5 L465.1,321.6 L465.2,321.8 L465.3,321.9 L465.4,322.0 L465.5,322.1 L465.6,322.2 L465.7,322.3 L465.8,322.4 L465.8,322.4 L465.9,322.5 L466.0,322.6 L466.1,322.7 L466.1,322.7 L466.2,322.8 L466.2,322.8 L466.3,322.9 L466.3,322.9 L466.4,323.0 L466.4,323.0 L466.4,323.0 L466.5,323.1 L466.5,323.1 L466.6,323.1 L466.6,323.2 L466.6,323.2 L466.6,323.2 L466.7,323.3 L466.7,323.3 L466.7,323.3 L466.8,323.3 L466.8,323.4 L466.8,323.4 L466.8,323.4 L466.9,323.4 L466.9,323.5 L466.9,323.5 L466.9,323.5 L466.9,323.5 L467.0,323.6 L467.0,323.6 L467.0,323.6 L467.0,323.6 L467.0,323.6 L467.1,323.6 L467.1,323.7 L467.1,323.7 L467.1,323.7 L467.1,323.7 L467.1,323.7 L467.1,323.7 L467.1,323.7 L467.1,323.7 L467.1,323.7 L467.1,323.7 L467.1,323.7 Z" fill="none" stroke="#000" stroke-width="0.9" stroke-linejoin="round"/><g stroke="#000" stroke-width="0.7"><line x1="357.39" y1="369.15" x2="356.01" y2="370.6"/><line x1="356.07" y1="367.84" x2="354.59" y2="369.18"/><line x1="354.47" y1="365.93" x2="352.84" y2="367.09"/><line x1="352.33" y1="362.57" x2="350.58" y2="363.54"/><line x1="349.6" y1="357.14" x2="347.77" y2="357.95"/><line x1="346.16" y1="348.55" x2="344.28" y2="349.22"/><line x1="341.92" y1="335.81" x2="339.99" y2="336.36"/><line x1="337.54" y1="318.15" x2="335.58" y2="318.57"/><line x1="333.42" y1="296.1" x2="331.44" y2="296.4"/><line x1="330.54" y1="272.56" x2="328.55" y2="272.72"/><line x1="329.73" y1="250.76" x2="327.73" y2="250.7"/><line x1="331.61" y1="232.89" x2="329.66" y2="232.45"/><line x1="336.31" y1="221.31" x2="334.69" y2="220.14"/><line x1="342.97" y1="217.23" x2="342.6" y2="215.26"/><line x1="350.47" y1="218.65" x2="351.12" y2="216.76"/><line x1="358.08" y1="222.45" x2="359.07" y2="220.71"/><line x1="365.27" y1="227.01" x2="366.4" y2="225.36"/><line x1="372.16" y1="232.12" x2="373.4" y2="230.54"/><line x1="378.97" y1="237.74" x2="380.27" y2="236.22"/><line x1="385.7" y1="243.73" x2="387.05" y2="242.25"/><line x1="392.41" y1="249.99" x2="393.79" y2="248.53"/><line x1="399.14" y1="256.43" x2="400.53" y2="254.99"/><line x1="405.84" y1="262.97" x2="407.24" y2="261.54"/><line x1="412.49" y1="269.5" x2="413.9" y2="268.08"/><line x1="419.01" y1="275.97" x2="420.42" y2="274.55"/><line x1="425.35" y1="282.26" x2="426.76" y2="280.84"/><line x1="431.42" y1="288.29" x2="432.83" y2="286.87"/><line x1="437.14" y1="293.95" x2="438.55" y2="292.53"/><line x1="442.35" y1="299.14" x2="443.76" y2="297.72"/><line x1="446.88" y1="303.63" x2="448.28" y2="302.21"/><line x1="450.86" y1="307.58" x2="452.27" y2="306.16"/><line x1="454.17" y1="310.84" x2="455.58" y2="309.42"/><line x1="456.86" y1="313.52" x2="458.27" y2="312.1"/><line x1="459" y1="315.66" x2="460.41" y2="314.24"/><line x1="460.71" y1="317.34" x2="462.12" y2="315.92"/><line x1="462.09" y1="318.71" x2="463.5" y2="317.29"/><line x1="463.23" y1="319.85" x2="464.64" y2="318.43"/><line x1="464.17" y1="320.79" x2="465.58" y2="319.36"/><line x1="464.92" y1="321.52" x2="466.33" y2="320.09"/><line x1="465.49" y1="322.08" x2="466.9" y2="320.66"/></g><line x1="329" y1="373.4" x2="329" y2="204.83" stroke="#5c5c5c" stroke-width="1"/><line x1="329" y1="373.4" x2="535.8" y2="373.4" stroke="#5c5c5c" stroke-width="1"/><line x1="325.8" y1="373.4" x2="329" y2="373.4" stroke="#5c5c5c" stroke-width="1"/><line x1="327.2" y1="364.03" x2="329" y2="364.03" stroke="#5c5c5c" stroke-width="1"/><text x="323.4" y="376.4" font-family='"Liberation Sans", sans-serif' font-size="8.6" text-anchor="end" fill="#1a1a1a" >0.0</text><line x1="325.8" y1="354.67" x2="329" y2="354.67" stroke="#5c5c5c" stroke-width="1"/><line x1="327.2" y1="345.3" x2="329" y2="345.3" stroke="#5c5c5c" stroke-width="1"/><text x="323.4" y="357.67" font-family='"Liberation Sans", sans-serif' font-size="8.6" text-anchor="end" fill="#1a1a1a" >0.1</text><line x1="325.8" y1="335.94" x2="329" y2="335.94" stroke="#5c5c5c" stroke-width="1"/><line x1="327.2" y1="326.57" x2="329" y2="326.57" stroke="#5c5c5c" stroke-width="1"/><text x="323.4" y="338.94" font-family='"Liberation Sans", sans-serif' font-size="8.6" text-anchor="end" fill="#1a1a1a" >0.2</text><line x1="325.8" y1="317.21" x2="329" y2="317.21" stroke="#5c5c5c" stroke-width="1"/><line x1="327.2" y1="307.84" x2="329" y2="307.84" stroke="#5c5c5c" stroke-width="1"/><text x="323.4" y="320.21" font-family='"Liberation Sans", sans-serif' font-size="8.6" text-anchor="end" fill="#1a1a1a" >0.3</text><line x1="325.8" y1="298.48" x2="329" y2="298.48" stroke="#5c5c5c" stroke-width="1"/><line x1="327.2" y1="289.11" x2="329" y2="289.11" stroke="#5c5c5c" stroke-width="1"/><text x="323.4" y="301.48" font-family='"Liberation Sans", sans-serif' font-size="8.6" text-anchor="end" fill="#1a1a1a" >0.4</text><line x1="325.8" y1="279.75" x2="329" y2="279.75" stroke="#5c5c5c" stroke-width="1"/><line x1="327.2" y1="270.38" x2="329" y2="270.38" stroke="#5c5c5c" stroke-width="1"/><text x="323.4" y="282.75" font-family='"Liberation Sans", sans-serif' font-size="8.6" text-anchor="end" fill="#1a1a1a" >0.5</text><line x1="325.8" y1="261.02" x2="329" y2="261.02" stroke="#5c5c5c" stroke-width="1"/><line x1="327.2" y1="251.65" x2="329" y2="251.65" stroke="#5c5c5c" stroke-width="1"/><text x="323.4" y="264.02" font-family='"Liberation Sans", sans-serif' font-size="8.6" text-anchor="end" fill="#1a1a1a" >0.6</text><line x1="325.8" y1="242.29" x2="329" y2="242.29" stroke="#5c5c5c" stroke-width="1"/><line x1="327.2" y1="232.92" x2="329" y2="232.92" stroke="#5c5c5c" stroke-width="1"/><text x="323.4" y="245.29" font-family='"Liberation Sans", sans-serif' font-size="8.6" text-anchor="end" fill="#1a1a1a" >0.7</text><line x1="325.8" y1="223.56" x2="329" y2="223.56" stroke="#5c5c5c" stroke-width="1"/><line x1="327.2" y1="214.19" x2="329" y2="214.19" stroke="#5c5c5c" stroke-width="1"/><text x="323.4" y="226.56" font-family='"Liberation Sans", sans-serif' font-size="8.6" text-anchor="end" fill="#1a1a1a" >0.8</text><line x1="325.8" y1="204.83" x2="329" y2="204.83" stroke="#5c5c5c" stroke-width="1"/><text x="323.4" y="207.83" font-family='"Liberation Sans", sans-serif' font-size="8.6" text-anchor="end" fill="#1a1a1a" >0.9</text><line x1="329" y1="373.4" x2="329" y2="376.6" stroke="#5c5c5c" stroke-width="1"/><line x1="338.4" y1="373.4" x2="338.4" y2="375.2" stroke="#5c5c5c" stroke-width="1"/><text x="329" y="385.3" font-family='"Liberation Sans", sans-serif' font-size="8.6" text-anchor="middle" fill="#1a1a1a" >0.0</text><line x1="347.8" y1="373.4" x2="347.8" y2="376.6" stroke="#5c5c5c" stroke-width="1"/><line x1="357.2" y1="373.4" x2="357.2" y2="375.2" stroke="#5c5c5c" stroke-width="1"/><text x="347.8" y="385.3" font-family='"Liberation Sans", sans-serif' font-size="8.6" text-anchor="middle" fill="#1a1a1a" >0.1</text><line x1="366.6" y1="373.4" x2="366.6" y2="376.6" stroke="#5c5c5c" stroke-width="1"/><line x1="376" y1="373.4" x2="376" y2="375.2" stroke="#5c5c5c" stroke-width="1"/><text x="366.6" y="385.3" font-family='"Liberation Sans", sans-serif' font-size="8.6" text-anchor="middle" fill="#1a1a1a" >0.2</text><line x1="385.4" y1="373.4" x2="385.4" y2="376.6" stroke="#5c5c5c" stroke-width="1"/><line x1="394.8" y1="373.4" x2="394.8" y2="375.2" stroke="#5c5c5c" stroke-width="1"/><text x="385.4" y="385.3" font-family='"Liberation Sans", sans-serif' font-size="8.6" text-anchor="middle" fill="#1a1a1a" >0.3</text><line x1="404.2" y1="373.4" x2="404.2" y2="376.6" stroke="#5c5c5c" stroke-width="1"/><line x1="413.6" y1="373.4" x2="413.6" y2="375.2" stroke="#5c5c5c" stroke-width="1"/><text x="404.2" y="385.3" font-family='"Liberation Sans", sans-serif' font-size="8.6" text-anchor="middle" fill="#1a1a1a" >0.4</text><line x1="423" y1="373.4" x2="423" y2="376.6" stroke="#5c5c5c" stroke-width="1"/><line x1="432.4" y1="373.4" x2="432.4" y2="375.2" stroke="#5c5c5c" stroke-width="1"/><text x="423" y="385.3" font-family='"Liberation Sans", sans-serif' font-size="8.6" text-anchor="middle" fill="#1a1a1a" >0.5</text><line x1="441.8" y1="373.4" x2="441.8" y2="376.6" stroke="#5c5c5c" stroke-width="1"/><line x1="451.2" y1="373.4" x2="451.2" y2="375.2" stroke="#5c5c5c" stroke-width="1"/><text x="441.8" y="385.3" font-family='"Liberation Sans", sans-serif' font-size="8.6" text-anchor="middle" fill="#1a1a1a" >0.6</text><line x1="460.6" y1="373.4" x2="460.6" y2="376.6" stroke="#5c5c5c" stroke-width="1"/><line x1="470" y1="373.4" x2="470" y2="375.2" stroke="#5c5c5c" stroke-width="1"/><text x="460.6" y="385.3" font-family='"Liberation Sans", sans-serif' font-size="8.6" text-anchor="middle" fill="#1a1a1a" >0.7</text><line x1="479.4" y1="373.4" x2="479.4" y2="376.6" stroke="#5c5c5c" stroke-width="1"/><line x1="488.8" y1="373.4" x2="488.8" y2="375.2" stroke="#5c5c5c" stroke-width="1"/><text x="479.4" y="385.3" font-family='"Liberation Sans", sans-serif' font-size="8.6" text-anchor="middle" fill="#1a1a1a" >0.8</text><line x1="498.2" y1="373.4" x2="498.2" y2="376.6" stroke="#5c5c5c" stroke-width="1"/><line x1="507.6" y1="373.4" x2="507.6" y2="375.2" stroke="#5c5c5c" stroke-width="1"/><text x="498.2" y="385.3" font-family='"Liberation Sans", sans-serif' font-size="8.6" text-anchor="middle" fill="#1a1a1a" >0.9</text><line x1="517" y1="373.4" x2="517" y2="376.6" stroke="#5c5c5c" stroke-width="1"/><line x1="526.4" y1="373.4" x2="526.4" y2="375.2" stroke="#5c5c5c" stroke-width="1"/><text x="517" y="385.3" font-family='"Liberation Sans", sans-serif' font-size="8.6" text-anchor="middle" fill="#1a1a1a" >1.0</text><line x1="535.8" y1="373.4" x2="535.8" y2="376.6" stroke="#5c5c5c" stroke-width="1"/><text x="535.8" y="385.3" font-family='"Liberation Sans", sans-serif' font-size="8.6" text-anchor="middle" fill="#1a1a1a" >1.1</text><text x="432.5" y="399.2" font-family='"Liberation Sans", sans-serif' font-size="11.5" text-anchor="middle" fill="#1a1a1a" font-weight="bold">x</text><text transform="translate(304.5,288) rotate(-90)" font-family='"Liberation Sans", sans-serif' font-size="11.5" font-weight="bold" text-anchor="middle" fill="#1a1a1a">y</text><text x="269.7" y="213.2" font-family='"Liberation Sans", sans-serif' font-size="12.6" text-anchor="start" fill="#1a1a1a" >(d)</text><text x="348.05" y="372.6" font-family='"Liberation Serif", serif' font-size="7.1" text-anchor="middle" fill="#2424e8" stroke="#2424e8" stroke-width="0.1">460</text><text x="344.6" y="366.1" font-family='"Liberation Serif", serif' font-size="7.1" text-anchor="middle" fill="#2424e8" stroke="#2424e8" stroke-width="0.1">470</text><text x="338.45" y="352.2" font-family='"Liberation Serif", serif' font-size="7.1" text-anchor="middle" fill="#2424e8" stroke="#2424e8" stroke-width="0.1">480</text><text x="333.6" y="324.4" font-family='"Liberation Serif", serif' font-size="7.1" text-anchor="middle" fill="#2424e8" stroke="#2424e8" stroke-width="0.1">490</text><text x="342.35" y="213.8" font-family='"Liberation Serif", serif' font-size="7.1" text-anchor="middle" fill="#2424e8" stroke="#2424e8" stroke-width="0.1">520</text><text x="377.85" y="228.8" font-family='"Liberation Serif", serif' font-size="7.1" text-anchor="middle" fill="#2424e8" stroke="#2424e8" stroke-width="0.1">540</text><text x="405.55" y="253.3" font-family='"Liberation Serif", serif' font-size="7.1" text-anchor="middle" fill="#2424e8" stroke="#2424e8" stroke-width="0.1">560</text><text x="431.4" y="279.4" font-family='"Liberation Serif", serif' font-size="7.1" text-anchor="middle" fill="#2424e8" stroke="#2424e8" stroke-width="0.1">580</text><text x="453.4" y="300.5" font-family='"Liberation Serif", serif' font-size="7.1" text-anchor="middle" fill="#2424e8" stroke="#2424e8" stroke-width="0.1">600</text><text x="465.45" y="312.9" font-family='"Liberation Serif", serif' font-size="7.1" text-anchor="middle" fill="#2424e8" stroke="#2424e8" stroke-width="0.1">620</text><text x="475" y="326.1" font-family='"Liberation Serif", serif' font-size="7.1" text-anchor="middle" fill="#2424e8" stroke="#2424e8" stroke-width="0.1">700</text><path d="M371.6,330.2 L374.2,329.1 L378.4,323.4 L381.8,319 L384.6,315.9 L389.6,310.9 L393.9,307.2 L400.5,302.4 L405.6,299.6 L411.1,297.3 L418.6,295.5 L428,295.6 L439,299.4 L446,302.6" fill="none" stroke="#222" stroke-width="0.9" stroke-linejoin="round"/><line x1="370.4" y1="328.7" x2="373.8" y2="332.5" stroke="#222" stroke-width="0.8"/><line x1="375.8" y1="308.9" x2="386.5" y2="327.2" stroke="#333" stroke-width="0.8"/><line x1="388.7" y1="300" x2="389.9" y2="321" stroke="#777" stroke-width="0.8"/><line x1="403.1" y1="293.3" x2="398.3" y2="312.7" stroke="#333" stroke-width="0.8"/><line x1="414.2" y1="291.2" x2="408.6" y2="303.5" stroke="#333" stroke-width="0.8"/><line x1="423.2" y1="288.3" x2="413.9" y2="303.1" stroke="#333" stroke-width="0.8"/><line x1="431.4" y1="292.8" x2="423.9" y2="300.9" stroke="#333" stroke-width="0.8"/><line x1="441.4" y1="297.5" x2="436.6" y2="301.8" stroke="#333" stroke-width="0.8"/><line x1="382.6" y1="316.6" x2="384.8" y2="318.2" stroke="#333" stroke-width="0.8"/><line x1="383.8" y1="315.3" x2="386.0" y2="316.9" stroke="#333" stroke-width="0.8"/><line x1="385.0" y1="314.1" x2="387.2" y2="315.7" stroke="#333" stroke-width="0.8"/><line x1="386.3" y1="312.9" x2="388.5" y2="314.5" stroke="#333" stroke-width="0.8"/><text x="369.3" y="309.3" font-family='"Liberation Serif", serif' font-size="5.1" text-anchor="middle" fill="#111">10000</text><text x="388.5" y="297.8" font-family='"Liberation Serif", serif' font-size="5.1" text-anchor="middle" fill="#111">6000</text><text x="401.8" y="291.40000000000003" font-family='"Liberation Serif", serif' font-size="5.1" text-anchor="middle" fill="#111">4000</text><text x="413" y="288.6" font-family='"Liberation Serif", serif' font-size="5.1" text-anchor="middle" fill="#111">3000</text><text x="423" y="287.20000000000005" font-family='"Liberation Serif", serif' font-size="5.1" text-anchor="middle" fill="#111">2500</text><text x="425.5" y="306.20000000000005" font-family='"Liberation Serif", serif' font-size="5.1" text-anchor="middle" fill="#111">2000</text><text x="437" y="306.20000000000005" font-family='"Liberation Serif", serif' font-size="5.1" text-anchor="middle" fill="#111">1500</text><text x="367.2" y="329.0" font-family='"Liberation Serif", serif' font-size="6.5" text-anchor="middle" fill="#1a1a1a">&#8734;</text><text x="374.3" y="287.9" font-family='"Liberation Serif", serif' font-size="6.4" fill="#111">T<tspan dy="1.5" font-size="4.2">c</tspan><tspan dy="-1.5">(K)</tspan></text><path d="M405.35,301.35 L410.05,306.05 M405.35,306.05 L410.05,301.35" stroke="#800080" stroke-width="1.3" fill="none"/><path d="M400.35,301.95 L405.05,306.65 M400.35,306.65 L405.05,301.95" stroke="#000080" stroke-width="1.3" fill="none"/><path d="M399.75,302.55 L404.45,307.25 M399.75,307.25 L404.45,302.55" stroke="#5a7dff" stroke-width="1.3" fill="none"/><path d="M395.35,306.65 L400.05,311.35 M395.35,311.35 L400.05,306.65" stroke="#339933" stroke-width="1.3" fill="none"/><path d="M395.35,304.45 L400.05,309.15 M395.35,309.15 L400.05,304.45" stroke="#ff00ff" stroke-width="1.3" fill="none"/><path d="M393.85,303.15 L398.55,307.85 M393.85,307.85 L398.55,303.15" stroke="#ff0000" stroke-width="1.3" fill="none"/><path d="M392.65,299.75 L397.35,304.45 M392.65,304.45 L397.35,299.75" stroke="#ff8000" stroke-width="1.3" fill="none"/><path d="M481.5,208 L485.5,212 M481.5,212 L485.5,208" stroke="#800080" stroke-width="1.35" fill="none"/><text x="497.3" y="213.5" font-family='"Liberation Sans", sans-serif' font-size="10" text-anchor="start" fill="#1a1a1a" >SLF_0.2 Pr</text><path d="M481.5,220.28 L485.5,224.28 M481.5,224.28 L485.5,220.28" stroke="#000080" stroke-width="1.35" fill="none"/><text x="497.3" y="225.78" font-family='"Liberation Sans", sans-serif' font-size="10" text-anchor="start" fill="#1a1a1a" >SLF_1 Pr</text><path d="M481.5,232.56 L485.5,236.56 M481.5,236.56 L485.5,232.56" stroke="#5a7dff" stroke-width="1.35" fill="none"/><text x="497.3" y="238.06" font-family='"Liberation Sans", sans-serif' font-size="10" text-anchor="start" fill="#1a1a1a" >SLF_2 Pr</text><path d="M481.5,244.84 L485.5,248.84 M481.5,248.84 L485.5,244.84" stroke="#339933" stroke-width="1.35" fill="none"/><text x="497.3" y="250.34" font-family='"Liberation Sans", sans-serif' font-size="10" text-anchor="start" fill="#1a1a1a" >SLF_3 Pr</text><path d="M481.5,257.12 L485.5,261.12 M481.5,261.12 L485.5,257.12" stroke="#ff00ff" stroke-width="1.35" fill="none"/><text x="497.3" y="262.62" font-family='"Liberation Sans", sans-serif' font-size="10" text-anchor="start" fill="#1a1a1a" >SLF_5 Pr</text><path d="M481.5,269.4 L485.5,273.4 M481.5,273.4 L485.5,269.4" stroke="#ff0000" stroke-width="1.35" fill="none"/><text x="497.3" y="274.9" font-family='"Liberation Sans", sans-serif' font-size="10" text-anchor="start" fill="#1a1a1a" >SLF_10 Pr</text><path d="M481.5,281.68 L485.5,285.68 M481.5,285.68 L485.5,281.68" stroke="#ff8000" stroke-width="1.35" fill="none"/><text x="497.3" y="287.18" font-family='"Liberation Sans", sans-serif' font-size="10" text-anchor="start" fill="#1a1a1a" >SLF_25 Pr</text></svg></body></html>
